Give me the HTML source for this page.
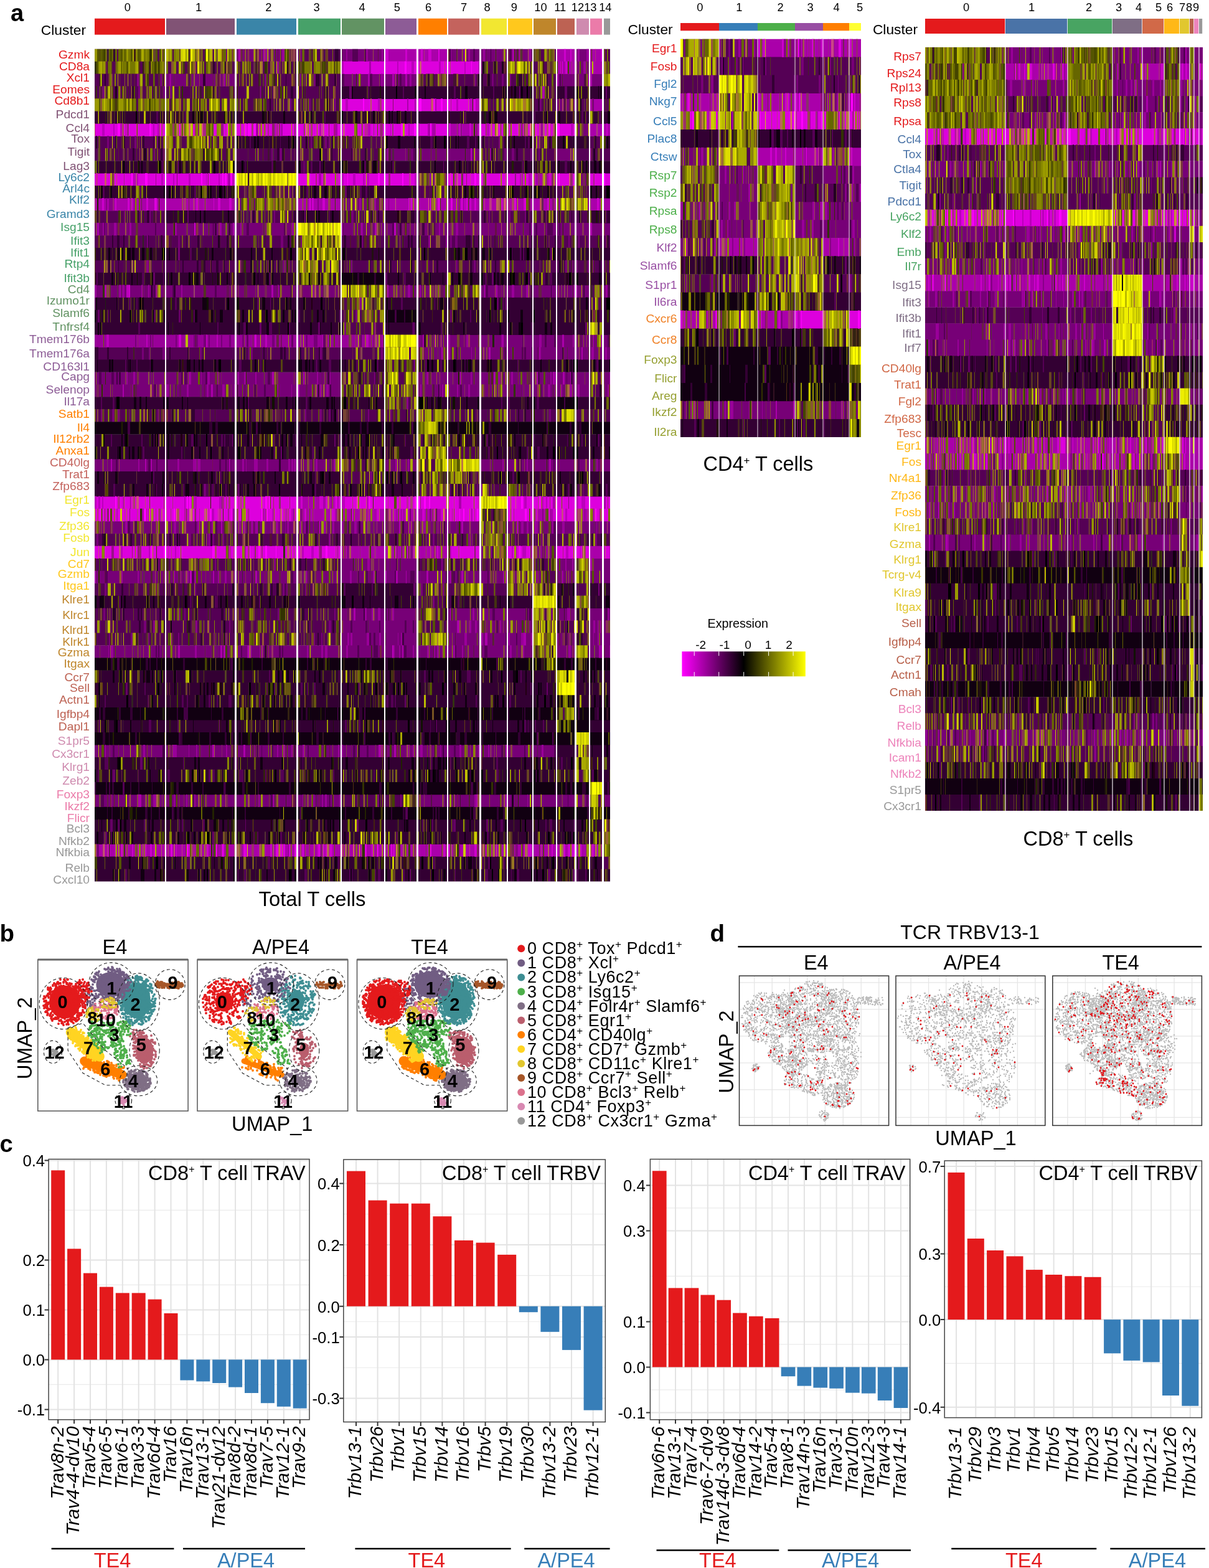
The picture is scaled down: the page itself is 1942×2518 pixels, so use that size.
<!DOCTYPE html>
<html><head><meta charset="utf-8"><title>Figure</title>
<style>html,body{margin:0;padding:0;background:#fff;}svg{display:block;}text{font-family:'Liberation Sans', Arial, Helvetica, sans-serif;}</style>
</head><body>
<svg xmlns="http://www.w3.org/2000/svg" width="1942" height="2518" viewBox="0 0 1942 2518">
<defs><filter id="hb" x="-0.01" y="0" width="1.02" height="1" color-interpolation-filters="sRGB"><feGaussianBlur stdDeviation="0.55 0"/></filter></defs>
<rect width="1942" height="2518" fill="#fff"/>
<text x="17" y="33.6" font-size="38" font-weight="bold">a</text>
<text x="204.9" y="18.4" font-size="18.3" text-anchor="middle">0</text>
<text x="319" y="18.4" font-size="18.3" text-anchor="middle">1</text>
<text x="431.4" y="18.4" font-size="18.3" text-anchor="middle">2</text>
<text x="508.6" y="18.4" font-size="18.3" text-anchor="middle">3</text>
<text x="581.5" y="18.4" font-size="18.3" text-anchor="middle">4</text>
<text x="637.8" y="18.4" font-size="18.3" text-anchor="middle">5</text>
<text x="688" y="18.4" font-size="18.3" text-anchor="middle">6</text>
<text x="745" y="18.4" font-size="18.3" text-anchor="middle">7</text>
<text x="782.5" y="18.4" font-size="18.3" text-anchor="middle">8</text>
<text x="825.8" y="18.4" font-size="18.3" text-anchor="middle">9</text>
<text x="868.4" y="18.4" font-size="18.3" text-anchor="middle">10</text>
<text x="899.7" y="18.4" font-size="18.3" text-anchor="middle">11</text>
<text x="927.9" y="18.4" font-size="18.3" text-anchor="middle">12</text>
<text x="948.3" y="18.4" font-size="18.3" text-anchor="middle">13</text>
<text x="972.3" y="18.4" font-size="18.3" text-anchor="middle">14</text>
<text x="138" y="55.8" font-size="22.8" text-anchor="end">Cluster</text>
<rect x="152" y="29.7" width="113" height="26" fill="#e41a1c"/>
<rect x="267" y="29.7" width="110" height="26" fill="#815375"/>
<rect x="380" y="29.7" width="96" height="26" fill="#3a85a8"/>
<rect x="479" y="29.7" width="68" height="26" fill="#47a169"/>
<rect x="549" y="29.7" width="68" height="26" fill="#629363"/>
<rect x="619" y="29.7" width="50" height="26" fill="#8d5c96"/>
<rect x="672" y="29.7" width="46" height="26" fill="#ff7f00"/>
<rect x="720" y="29.7" width="50" height="26" fill="#c4635d"/>
<rect x="773" y="29.7" width="41" height="26" fill="#f2e731"/>
<rect x="816" y="29.7" width="39" height="26" fill="#ffc81d"/>
<rect x="857" y="29.7" width="36" height="26" fill="#bf862b"/>
<rect x="895" y="29.7" width="28" height="26" fill="#bd6253"/>
<rect x="926" y="29.7" width="20" height="26" fill="#cf8baf"/>
<rect x="948" y="29.7" width="19" height="26" fill="#eb7ba9"/>
<rect x="970" y="29.7" width="10" height="26" fill="#999999"/>
<clipPath id="c11"><rect x="152" y="78.6" width="828" height="1336.9"/></clipPath>
<g clip-path="url(#c11)"><g filter="url(#hb)">
<path fill="#550055" d="M152 78.6h113v20.4h-113zM267 78.6h110v20.4h-110zM479 78.6h68v20.4h-68zM857 78.6h36v20.4h-36zM970 78.6h10v20.4h-10zM152 98.6h113v20.4h-113zM267 98.6h110v20.4h-110zM380 98.6h96v20.4h-96zM479 98.6h68v20.4h-68zM773 98.6h41v20.4h-41zM816 98.6h39v20.4h-39zM857 98.6h36v20.4h-36zM970 98.6h10v20.4h-10zM152 118.5h113v20.4h-113zM380 118.5h96v20.4h-96zM479 118.5h68v20.4h-68zM672 118.5h46v20.4h-46zM720 118.5h50v20.4h-50zM773 118.5h41v20.4h-41zM816 118.5h39v20.4h-39zM857 118.5h36v20.4h-36zM970 118.5h10v20.4h-10zM152 138.5h113v20.4h-113zM267 138.5h110v20.4h-110zM380 138.5h96v20.4h-96zM479 138.5h68v20.4h-68zM857 138.5h36v20.4h-36zM152 158.4h113v20.4h-113zM267 158.4h110v20.4h-110zM380 158.4h96v20.4h-96zM479 158.4h68v20.4h-68zM773 158.4h41v20.4h-41zM816 158.4h39v20.4h-39zM857 158.4h36v20.4h-36zM926 158.4h20v20.4h-20zM970 158.4h10v20.4h-10zM152 218.3h113v20.4h-113zM267 218.3h110v20.4h-110zM479 218.3h68v20.4h-68zM549 218.3h68v20.4h-68zM773 218.3h41v20.4h-41zM857 218.3h36v20.4h-36zM948 218.3h19v20.4h-19zM152 238.2h113v20.4h-113zM267 238.2h110v20.4h-110zM380 238.2h96v20.4h-96zM479 238.2h68v20.4h-68zM549 238.2h68v20.4h-68zM773 238.2h41v20.4h-41zM816 238.2h39v20.4h-39zM857 238.2h36v20.4h-36zM926 238.2h20v20.4h-20zM948 238.2h19v20.4h-19zM970 238.2h10v20.4h-10zM380 278.1h96v20.4h-96zM380 298.1h96v20.4h-96zM672 298.1h46v20.4h-46zM895 298.1h28v20.4h-28zM926 298.1h20v20.4h-20zM895 318h28v20.4h-28zM926 318h20v20.4h-20zM152 338h113v20.4h-113zM380 338h96v20.4h-96zM549 338h68v20.4h-68zM672 338h46v20.4h-46zM720 338h50v20.4h-50zM773 338h41v20.4h-41zM816 338h39v20.4h-39zM857 338h36v20.4h-36zM895 338h28v20.4h-28zM926 338h20v20.4h-20zM479 358h68v20.4h-68zM152 377.9h113v20.4h-113zM267 377.9h110v20.4h-110zM380 377.9h96v20.4h-96zM479 377.9h68v20.4h-68zM549 377.9h68v20.4h-68zM619 377.9h50v20.4h-50zM672 377.9h46v20.4h-46zM720 377.9h50v20.4h-50zM773 377.9h41v20.4h-41zM816 377.9h39v20.4h-39zM857 377.9h36v20.4h-36zM895 377.9h28v20.4h-28zM926 377.9h20v20.4h-20zM948 377.9h19v20.4h-19zM970 377.9h10v20.4h-10zM152 417.8h113v20.4h-113zM267 417.8h110v20.4h-110zM380 417.8h96v20.4h-96zM479 417.8h68v20.4h-68zM549 417.8h68v20.4h-68zM619 417.8h50v20.4h-50zM672 417.8h46v20.4h-46zM720 417.8h50v20.4h-50zM773 417.8h41v20.4h-41zM816 417.8h39v20.4h-39zM857 417.8h36v20.4h-36zM895 417.8h28v20.4h-28zM926 417.8h20v20.4h-20zM948 417.8h19v20.4h-19zM970 417.8h10v20.4h-10zM549 457.7h68v20.4h-68zM720 457.7h50v20.4h-50zM948 457.7h19v20.4h-19zM549 477.7h68v20.4h-68zM948 477.7h19v20.4h-19zM549 497.6h68v20.4h-68zM948 497.6h19v20.4h-19zM549 517.6h68v20.4h-68zM948 517.6h19v20.4h-19zM619 537.5h50v20.4h-50zM152 557.5h113v20.4h-113zM267 557.5h110v20.4h-110zM380 557.5h96v20.4h-96zM479 557.5h68v20.4h-68zM549 557.5h68v20.4h-68zM619 557.5h50v20.4h-50zM619 577.4h50v20.4h-50zM549 597.4h68v20.4h-68zM619 597.4h50v20.4h-50zM948 597.4h19v20.4h-19zM549 617.4h68v20.4h-68zM619 617.4h50v20.4h-50zM948 617.4h19v20.4h-19zM619 637.3h50v20.4h-50zM152 657.3h113v20.4h-113zM267 657.3h110v20.4h-110zM380 657.3h96v20.4h-96zM479 657.3h68v20.4h-68zM549 657.3h68v20.4h-68zM619 657.3h50v20.4h-50zM672 657.3h46v20.4h-46zM720 657.3h50v20.4h-50zM773 657.3h41v20.4h-41zM816 657.3h39v20.4h-39zM857 657.3h36v20.4h-36zM895 657.3h28v20.4h-28zM926 657.3h20v20.4h-20zM948 657.3h19v20.4h-19zM970 657.3h10v20.4h-10zM672 717.1h46v20.4h-46zM720 717.1h50v20.4h-50zM549 737.1h68v20.4h-68zM672 737.1h46v20.4h-46zM720 737.1h50v20.4h-50zM549 757h68v20.4h-68zM672 757h46v20.4h-46zM720 757h50v20.4h-50zM672 777h46v20.4h-46zM720 777h50v20.4h-50zM773 777h41v20.4h-41zM816 777h39v20.4h-39zM926 777h20v20.4h-20zM773 796.9h41v20.4h-41zM773 816.9h41v20.4h-41zM773 836.8h41v20.4h-41zM152 856.8h113v20.4h-113zM267 856.8h110v20.4h-110zM380 856.8h96v20.4h-96zM479 856.8h68v20.4h-68zM549 856.8h68v20.4h-68zM619 856.8h50v20.4h-50zM672 856.8h46v20.4h-46zM720 856.8h50v20.4h-50zM773 856.8h41v20.4h-41zM816 856.8h39v20.4h-39zM857 856.8h36v20.4h-36zM895 856.8h28v20.4h-28zM926 856.8h20v20.4h-20zM948 856.8h19v20.4h-19zM970 856.8h10v20.4h-10zM152 896.7h113v20.4h-113zM267 896.7h110v20.4h-110zM380 896.7h96v20.4h-96zM479 896.7h68v20.4h-68zM672 896.7h46v20.4h-46zM720 896.7h50v20.4h-50zM773 896.7h41v20.4h-41zM816 896.7h39v20.4h-39zM857 896.7h36v20.4h-36zM926 896.7h20v20.4h-20zM816 916.7h39v20.4h-39zM857 916.7h36v20.4h-36zM926 916.7h20v20.4h-20zM152 936.6h113v20.4h-113zM267 936.6h110v20.4h-110zM380 936.6h96v20.4h-96zM479 936.6h68v20.4h-68zM672 936.6h46v20.4h-46zM720 936.6h50v20.4h-50zM773 936.6h41v20.4h-41zM816 936.6h39v20.4h-39zM857 936.6h36v20.4h-36zM926 936.6h20v20.4h-20zM672 956.6h46v20.4h-46zM857 956.6h36v20.4h-36zM926 956.6h20v20.4h-20zM152 976.5h113v20.4h-113zM267 976.5h110v20.4h-110zM380 976.5h96v20.4h-96zM479 976.5h68v20.4h-68zM672 976.5h46v20.4h-46zM857 976.5h36v20.4h-36zM926 976.5h20v20.4h-20zM152 996.5h113v20.4h-113zM267 996.5h110v20.4h-110zM380 996.5h96v20.4h-96zM479 996.5h68v20.4h-68zM672 996.5h46v20.4h-46zM857 996.5h36v20.4h-36zM895 996.5h28v20.4h-28zM926 996.5h20v20.4h-20zM152 1016.4h113v20.4h-113zM267 1016.4h110v20.4h-110zM380 1016.4h96v20.4h-96zM479 1016.4h68v20.4h-68zM672 1016.4h46v20.4h-46zM857 1016.4h36v20.4h-36zM926 1016.4h20v20.4h-20zM857 1036.4h36v20.4h-36zM926 1036.4h20v20.4h-20zM926 1196h20v20.4h-20zM926 1216h20v20.4h-20zM926 1235.9h20v20.4h-20zM549 1275.8h68v20.4h-68zM619 1275.8h50v20.4h-50zM948 1275.8h19v20.4h-19zM970 1315.7h10v20.4h-10zM970 1335.7h10v20.4h-10zM970 1355.6h10v20.4h-10zM970 1375.6h10v20.4h-10z"/>
<path fill="#770077" d="M380 78.6h96v20.4h-96zM549 78.6h68v20.4h-68zM720 78.6h50v20.4h-50zM773 78.6h41v20.4h-41zM816 78.6h39v20.4h-39zM926 78.6h20v20.4h-20zM926 98.6h20v20.4h-20zM267 118.5h110v20.4h-110zM549 118.5h68v20.4h-68zM619 118.5h50v20.4h-50zM895 118.5h28v20.4h-28zM926 118.5h20v20.4h-20zM948 118.5h19v20.4h-19zM895 158.4h28v20.4h-28zM926 198.3h20v20.4h-20zM619 238.2h50v20.4h-50zM672 238.2h46v20.4h-46zM720 238.2h50v20.4h-50zM895 238.2h28v20.4h-28zM672 278.1h46v20.4h-46zM926 278.1h20v20.4h-20zM380 318h96v20.4h-96zM549 318h68v20.4h-68zM152 358h113v20.4h-113zM267 358h110v20.4h-110zM380 358h96v20.4h-96zM549 358h68v20.4h-68zM619 358h50v20.4h-50zM672 358h46v20.4h-46zM720 358h50v20.4h-50zM773 358h41v20.4h-41zM816 358h39v20.4h-39zM857 358h36v20.4h-36zM895 358h28v20.4h-28zM926 358h20v20.4h-20zM948 358h19v20.4h-19zM970 358h10v20.4h-10zM152 457.7h113v20.4h-113zM267 457.7h110v20.4h-110zM380 457.7h96v20.4h-96zM479 457.7h68v20.4h-68zM619 457.7h50v20.4h-50zM672 457.7h46v20.4h-46zM773 457.7h41v20.4h-41zM816 457.7h39v20.4h-39zM857 457.7h36v20.4h-36zM895 457.7h28v20.4h-28zM926 457.7h20v20.4h-20zM970 457.7h10v20.4h-10zM672 537.5h46v20.4h-46zM720 537.5h50v20.4h-50zM773 537.5h41v20.4h-41zM816 537.5h39v20.4h-39zM857 537.5h36v20.4h-36zM895 537.5h28v20.4h-28zM926 537.5h20v20.4h-20zM948 537.5h19v20.4h-19zM970 537.5h10v20.4h-10zM672 557.5h46v20.4h-46zM720 557.5h50v20.4h-50zM773 557.5h41v20.4h-41zM816 557.5h39v20.4h-39zM857 557.5h36v20.4h-36zM895 557.5h28v20.4h-28zM926 557.5h20v20.4h-20zM948 557.5h19v20.4h-19zM970 557.5h10v20.4h-10zM152 597.4h113v20.4h-113zM267 597.4h110v20.4h-110zM380 597.4h96v20.4h-96zM479 597.4h68v20.4h-68zM672 597.4h46v20.4h-46zM720 597.4h50v20.4h-50zM773 597.4h41v20.4h-41zM816 597.4h39v20.4h-39zM857 597.4h36v20.4h-36zM895 597.4h28v20.4h-28zM926 597.4h20v20.4h-20zM970 597.4h10v20.4h-10zM152 617.4h113v20.4h-113zM267 617.4h110v20.4h-110zM380 617.4h96v20.4h-96zM479 617.4h68v20.4h-68zM672 617.4h46v20.4h-46zM720 617.4h50v20.4h-50zM773 617.4h41v20.4h-41zM816 617.4h39v20.4h-39zM857 617.4h36v20.4h-36zM895 617.4h28v20.4h-28zM926 617.4h20v20.4h-20zM970 617.4h10v20.4h-10zM152 737.1h113v20.4h-113zM267 737.1h110v20.4h-110zM380 737.1h96v20.4h-96zM479 737.1h68v20.4h-68zM619 737.1h50v20.4h-50zM773 737.1h41v20.4h-41zM816 737.1h39v20.4h-39zM857 737.1h36v20.4h-36zM895 737.1h28v20.4h-28zM926 737.1h20v20.4h-20zM948 737.1h19v20.4h-19zM970 737.1h10v20.4h-10zM152 836.8h113v20.4h-113zM267 836.8h110v20.4h-110zM380 836.8h96v20.4h-96zM479 836.8h68v20.4h-68zM549 836.8h68v20.4h-68zM619 836.8h50v20.4h-50zM672 836.8h46v20.4h-46zM720 836.8h50v20.4h-50zM816 836.8h39v20.4h-39zM857 836.8h36v20.4h-36zM895 836.8h28v20.4h-28zM926 836.8h20v20.4h-20zM948 836.8h19v20.4h-19zM970 836.8h10v20.4h-10zM773 876.7h41v20.4h-41zM857 876.7h36v20.4h-36zM549 896.7h68v20.4h-68zM619 896.7h50v20.4h-50zM895 896.7h28v20.4h-28zM948 896.7h19v20.4h-19zM970 896.7h10v20.4h-10zM152 916.7h113v20.4h-113zM267 916.7h110v20.4h-110zM380 916.7h96v20.4h-96zM479 916.7h68v20.4h-68zM549 916.7h68v20.4h-68zM619 916.7h50v20.4h-50zM672 916.7h46v20.4h-46zM720 916.7h50v20.4h-50zM773 916.7h41v20.4h-41zM895 916.7h28v20.4h-28zM948 916.7h19v20.4h-19zM970 916.7h10v20.4h-10zM549 976.5h68v20.4h-68zM619 976.5h50v20.4h-50zM720 976.5h50v20.4h-50zM773 976.5h41v20.4h-41zM816 976.5h39v20.4h-39zM895 976.5h28v20.4h-28zM948 976.5h19v20.4h-19zM970 976.5h10v20.4h-10zM549 996.5h68v20.4h-68zM619 996.5h50v20.4h-50zM720 996.5h50v20.4h-50zM773 996.5h41v20.4h-41zM816 996.5h39v20.4h-39zM948 996.5h19v20.4h-19zM970 996.5h10v20.4h-10zM549 1016.4h68v20.4h-68zM619 1016.4h50v20.4h-50zM720 1016.4h50v20.4h-50zM773 1016.4h41v20.4h-41zM816 1016.4h39v20.4h-39zM895 1016.4h28v20.4h-28zM948 1016.4h19v20.4h-19zM970 1016.4h10v20.4h-10zM152 1036.4h113v20.4h-113zM267 1036.4h110v20.4h-110zM380 1036.4h96v20.4h-96zM479 1036.4h68v20.4h-68zM549 1036.4h68v20.4h-68zM619 1036.4h50v20.4h-50zM672 1036.4h46v20.4h-46zM720 1036.4h50v20.4h-50zM773 1036.4h41v20.4h-41zM816 1036.4h39v20.4h-39zM895 1036.4h28v20.4h-28zM948 1036.4h19v20.4h-19zM970 1036.4h10v20.4h-10zM152 1196h113v20.4h-113zM267 1196h110v20.4h-110zM380 1196h96v20.4h-96zM479 1196h68v20.4h-68zM549 1196h68v20.4h-68zM619 1196h50v20.4h-50zM672 1196h46v20.4h-46zM720 1196h50v20.4h-50zM773 1196h41v20.4h-41zM816 1196h39v20.4h-39zM857 1196h36v20.4h-36zM152 1275.8h113v20.4h-113zM267 1275.8h110v20.4h-110zM380 1275.8h96v20.4h-96zM479 1275.8h68v20.4h-68zM672 1275.8h46v20.4h-46zM720 1275.8h50v20.4h-50zM773 1275.8h41v20.4h-41zM816 1275.8h39v20.4h-39zM857 1275.8h36v20.4h-36zM895 1275.8h28v20.4h-28zM926 1275.8h20v20.4h-20zM970 1275.8h10v20.4h-10z"/>
<path fill="#aa00aa" d="M619 78.6h50v20.4h-50zM672 78.6h46v20.4h-46zM895 78.6h28v20.4h-28zM948 78.6h19v20.4h-19zM895 98.6h28v20.4h-28zM948 98.6h19v20.4h-19zM948 158.4h19v20.4h-19zM720 198.3h50v20.4h-50zM948 198.3h19v20.4h-19zM970 198.3h10v20.4h-10zM857 278.1h36v20.4h-36zM152 318h113v20.4h-113zM267 318h110v20.4h-110zM479 318h68v20.4h-68zM619 318h50v20.4h-50zM672 318h46v20.4h-46zM720 318h50v20.4h-50zM773 318h41v20.4h-41zM816 318h39v20.4h-39zM857 318h36v20.4h-36zM948 318h19v20.4h-19zM970 318h10v20.4h-10zM479 796.9h68v20.4h-68zM479 816.9h68v20.4h-68zM549 816.9h68v20.4h-68zM619 816.9h50v20.4h-50zM672 816.9h46v20.4h-46zM857 816.9h36v20.4h-36zM926 816.9h20v20.4h-20zM549 876.7h68v20.4h-68zM619 876.7h50v20.4h-50zM672 876.7h46v20.4h-46zM948 876.7h19v20.4h-19zM152 1355.6h113v20.4h-113zM267 1355.6h110v20.4h-110zM380 1355.6h96v20.4h-96zM479 1355.6h68v20.4h-68zM549 1355.6h68v20.4h-68zM619 1355.6h50v20.4h-50zM672 1355.6h46v20.4h-46zM720 1355.6h50v20.4h-50zM773 1355.6h41v20.4h-41zM816 1355.6h39v20.4h-39zM857 1355.6h36v20.4h-36zM895 1355.6h28v20.4h-28zM926 1355.6h20v20.4h-20zM948 1355.6h19v20.4h-19z"/>
<path fill="#dd00dd" d="M549 98.6h68v20.4h-68zM619 98.6h50v20.4h-50zM672 98.6h46v20.4h-46zM720 98.6h50v20.4h-50zM549 158.4h68v20.4h-68zM619 158.4h50v20.4h-50zM672 158.4h46v20.4h-46zM720 158.4h50v20.4h-50zM152 198.3h113v20.4h-113zM267 198.3h110v20.4h-110zM380 198.3h96v20.4h-96zM479 198.3h68v20.4h-68zM549 198.3h68v20.4h-68zM619 198.3h50v20.4h-50zM672 198.3h46v20.4h-46zM773 198.3h41v20.4h-41zM816 198.3h39v20.4h-39zM857 198.3h36v20.4h-36zM895 198.3h28v20.4h-28zM152 278.1h113v20.4h-113zM267 278.1h110v20.4h-110zM479 278.1h68v20.4h-68zM549 278.1h68v20.4h-68zM619 278.1h50v20.4h-50zM720 278.1h50v20.4h-50zM773 278.1h41v20.4h-41zM816 278.1h39v20.4h-39zM895 278.1h28v20.4h-28zM948 278.1h19v20.4h-19zM970 278.1h10v20.4h-10zM152 796.9h113v20.4h-113zM267 796.9h110v20.4h-110zM380 796.9h96v20.4h-96zM549 796.9h68v20.4h-68zM619 796.9h50v20.4h-50zM672 796.9h46v20.4h-46zM720 796.9h50v20.4h-50zM816 796.9h39v20.4h-39zM857 796.9h36v20.4h-36zM895 796.9h28v20.4h-28zM926 796.9h20v20.4h-20zM948 796.9h19v20.4h-19zM970 796.9h10v20.4h-10zM152 816.9h113v20.4h-113zM267 816.9h110v20.4h-110zM380 816.9h96v20.4h-96zM720 816.9h50v20.4h-50zM816 816.9h39v20.4h-39zM895 816.9h28v20.4h-28zM948 816.9h19v20.4h-19zM970 816.9h10v20.4h-10zM152 876.7h113v20.4h-113zM267 876.7h110v20.4h-110zM380 876.7h96v20.4h-96zM479 876.7h68v20.4h-68zM720 876.7h50v20.4h-50zM816 876.7h39v20.4h-39zM895 876.7h28v20.4h-28zM926 876.7h20v20.4h-20zM970 876.7h10v20.4h-10z"/>
<path fill="#330033" d="M549 138.5h68v20.4h-68zM619 138.5h50v20.4h-50zM672 138.5h46v20.4h-46zM720 138.5h50v20.4h-50zM773 138.5h41v20.4h-41zM816 138.5h39v20.4h-39zM895 138.5h28v20.4h-28zM926 138.5h20v20.4h-20zM948 138.5h19v20.4h-19zM970 138.5h10v20.4h-10zM152 178.4h113v20.4h-113zM267 178.4h110v20.4h-110zM380 178.4h96v20.4h-96zM479 178.4h68v20.4h-68zM549 178.4h68v20.4h-68zM619 178.4h50v20.4h-50zM672 178.4h46v20.4h-46zM720 178.4h50v20.4h-50zM773 178.4h41v20.4h-41zM816 178.4h39v20.4h-39zM857 178.4h36v20.4h-36zM895 178.4h28v20.4h-28zM926 178.4h20v20.4h-20zM948 178.4h19v20.4h-19zM970 178.4h10v20.4h-10zM380 218.3h96v20.4h-96zM619 218.3h50v20.4h-50zM672 218.3h46v20.4h-46zM720 218.3h50v20.4h-50zM816 218.3h39v20.4h-39zM895 218.3h28v20.4h-28zM926 218.3h20v20.4h-20zM970 218.3h10v20.4h-10zM152 258.2h113v20.4h-113zM267 258.2h110v20.4h-110zM380 258.2h96v20.4h-96zM479 258.2h68v20.4h-68zM549 258.2h68v20.4h-68zM619 258.2h50v20.4h-50zM672 258.2h46v20.4h-46zM720 258.2h50v20.4h-50zM773 258.2h41v20.4h-41zM816 258.2h39v20.4h-39zM857 258.2h36v20.4h-36zM895 258.2h28v20.4h-28zM926 258.2h20v20.4h-20zM948 258.2h19v20.4h-19zM970 258.2h10v20.4h-10zM152 298.1h113v20.4h-113zM267 298.1h110v20.4h-110zM479 298.1h68v20.4h-68zM549 298.1h68v20.4h-68zM619 298.1h50v20.4h-50zM720 298.1h50v20.4h-50zM773 298.1h41v20.4h-41zM816 298.1h39v20.4h-39zM857 298.1h36v20.4h-36zM948 298.1h19v20.4h-19zM970 298.1h10v20.4h-10zM267 338h110v20.4h-110zM479 338h68v20.4h-68zM619 338h50v20.4h-50zM948 338h19v20.4h-19zM970 338h10v20.4h-10zM152 397.9h113v20.4h-113zM267 397.9h110v20.4h-110zM380 397.9h96v20.4h-96zM479 397.9h68v20.4h-68zM549 397.9h68v20.4h-68zM619 397.9h50v20.4h-50zM672 397.9h46v20.4h-46zM720 397.9h50v20.4h-50zM773 397.9h41v20.4h-41zM816 397.9h39v20.4h-39zM857 397.9h36v20.4h-36zM895 397.9h28v20.4h-28zM926 397.9h20v20.4h-20zM948 397.9h19v20.4h-19zM970 397.9h10v20.4h-10zM152 437.8h113v20.4h-113zM267 437.8h110v20.4h-110zM380 437.8h96v20.4h-96zM479 437.8h68v20.4h-68zM619 437.8h50v20.4h-50zM672 437.8h46v20.4h-46zM720 437.8h50v20.4h-50zM773 437.8h41v20.4h-41zM816 437.8h39v20.4h-39zM857 437.8h36v20.4h-36zM895 437.8h28v20.4h-28zM926 437.8h20v20.4h-20zM948 437.8h19v20.4h-19zM970 437.8h10v20.4h-10zM152 477.7h113v20.4h-113zM267 477.7h110v20.4h-110zM380 477.7h96v20.4h-96zM479 477.7h68v20.4h-68zM619 477.7h50v20.4h-50zM672 477.7h46v20.4h-46zM720 477.7h50v20.4h-50zM773 477.7h41v20.4h-41zM816 477.7h39v20.4h-39zM857 477.7h36v20.4h-36zM895 477.7h28v20.4h-28zM926 477.7h20v20.4h-20zM970 477.7h10v20.4h-10zM152 497.6h113v20.4h-113zM267 497.6h110v20.4h-110zM380 497.6h96v20.4h-96zM479 497.6h68v20.4h-68zM672 497.6h46v20.4h-46zM720 497.6h50v20.4h-50zM773 497.6h41v20.4h-41zM816 497.6h39v20.4h-39zM857 497.6h36v20.4h-36zM895 497.6h28v20.4h-28zM926 497.6h20v20.4h-20zM970 497.6h10v20.4h-10zM152 517.6h113v20.4h-113zM267 517.6h110v20.4h-110zM380 517.6h96v20.4h-96zM479 517.6h68v20.4h-68zM619 517.6h50v20.4h-50zM672 517.6h46v20.4h-46zM720 517.6h50v20.4h-50zM773 517.6h41v20.4h-41zM816 517.6h39v20.4h-39zM857 517.6h36v20.4h-36zM895 517.6h28v20.4h-28zM926 517.6h20v20.4h-20zM970 517.6h10v20.4h-10zM152 577.4h113v20.4h-113zM267 577.4h110v20.4h-110zM380 577.4h96v20.4h-96zM479 577.4h68v20.4h-68zM549 577.4h68v20.4h-68zM672 577.4h46v20.4h-46zM720 577.4h50v20.4h-50zM773 577.4h41v20.4h-41zM816 577.4h39v20.4h-39zM857 577.4h36v20.4h-36zM895 577.4h28v20.4h-28zM926 577.4h20v20.4h-20zM948 577.4h19v20.4h-19zM970 577.4h10v20.4h-10zM152 637.3h113v20.4h-113zM267 637.3h110v20.4h-110zM380 637.3h96v20.4h-96zM479 637.3h68v20.4h-68zM549 637.3h68v20.4h-68zM672 637.3h46v20.4h-46zM720 637.3h50v20.4h-50zM773 637.3h41v20.4h-41zM816 637.3h39v20.4h-39zM857 637.3h36v20.4h-36zM926 637.3h20v20.4h-20zM948 637.3h19v20.4h-19zM970 637.3h10v20.4h-10zM152 697.2h113v20.4h-113zM267 697.2h110v20.4h-110zM380 697.2h96v20.4h-96zM479 697.2h68v20.4h-68zM549 697.2h68v20.4h-68zM619 697.2h50v20.4h-50zM672 697.2h46v20.4h-46zM720 697.2h50v20.4h-50zM773 697.2h41v20.4h-41zM816 697.2h39v20.4h-39zM857 697.2h36v20.4h-36zM895 697.2h28v20.4h-28zM926 697.2h20v20.4h-20zM948 697.2h19v20.4h-19zM970 697.2h10v20.4h-10zM152 717.1h113v20.4h-113zM267 717.1h110v20.4h-110zM380 717.1h96v20.4h-96zM479 717.1h68v20.4h-68zM549 717.1h68v20.4h-68zM619 717.1h50v20.4h-50zM773 717.1h41v20.4h-41zM816 717.1h39v20.4h-39zM857 717.1h36v20.4h-36zM895 717.1h28v20.4h-28zM926 717.1h20v20.4h-20zM948 717.1h19v20.4h-19zM970 717.1h10v20.4h-10zM152 757h113v20.4h-113zM267 757h110v20.4h-110zM380 757h96v20.4h-96zM479 757h68v20.4h-68zM619 757h50v20.4h-50zM773 757h41v20.4h-41zM816 757h39v20.4h-39zM857 757h36v20.4h-36zM895 757h28v20.4h-28zM926 757h20v20.4h-20zM948 757h19v20.4h-19zM970 757h10v20.4h-10zM152 777h113v20.4h-113zM267 777h110v20.4h-110zM380 777h96v20.4h-96zM479 777h68v20.4h-68zM549 777h68v20.4h-68zM619 777h50v20.4h-50zM857 777h36v20.4h-36zM895 777h28v20.4h-28zM948 777h19v20.4h-19zM970 777h10v20.4h-10zM549 936.6h68v20.4h-68zM619 936.6h50v20.4h-50zM895 936.6h28v20.4h-28zM948 936.6h19v20.4h-19zM970 936.6h10v20.4h-10zM152 956.6h113v20.4h-113zM267 956.6h110v20.4h-110zM380 956.6h96v20.4h-96zM479 956.6h68v20.4h-68zM549 956.6h68v20.4h-68zM619 956.6h50v20.4h-50zM720 956.6h50v20.4h-50zM773 956.6h41v20.4h-41zM816 956.6h39v20.4h-39zM895 956.6h28v20.4h-28zM948 956.6h19v20.4h-19zM970 956.6h10v20.4h-10zM152 1076.3h113v20.4h-113zM267 1076.3h110v20.4h-110zM380 1076.3h96v20.4h-96zM479 1076.3h68v20.4h-68zM549 1076.3h68v20.4h-68zM619 1076.3h50v20.4h-50zM672 1076.3h46v20.4h-46zM720 1076.3h50v20.4h-50zM773 1076.3h41v20.4h-41zM816 1076.3h39v20.4h-39zM857 1076.3h36v20.4h-36zM926 1076.3h20v20.4h-20zM948 1076.3h19v20.4h-19zM970 1076.3h10v20.4h-10zM152 1096.2h113v20.4h-113zM267 1096.2h110v20.4h-110zM380 1096.2h96v20.4h-96zM479 1096.2h68v20.4h-68zM549 1096.2h68v20.4h-68zM619 1096.2h50v20.4h-50zM672 1096.2h46v20.4h-46zM720 1096.2h50v20.4h-50zM773 1096.2h41v20.4h-41zM816 1096.2h39v20.4h-39zM857 1096.2h36v20.4h-36zM926 1096.2h20v20.4h-20zM948 1096.2h19v20.4h-19zM970 1096.2h10v20.4h-10zM152 1116.2h113v20.4h-113zM267 1116.2h110v20.4h-110zM380 1116.2h96v20.4h-96zM479 1116.2h68v20.4h-68zM549 1116.2h68v20.4h-68zM619 1116.2h50v20.4h-50zM672 1116.2h46v20.4h-46zM720 1116.2h50v20.4h-50zM773 1116.2h41v20.4h-41zM816 1116.2h39v20.4h-39zM857 1116.2h36v20.4h-36zM926 1116.2h20v20.4h-20zM948 1116.2h19v20.4h-19zM970 1116.2h10v20.4h-10zM152 1156.1h113v20.4h-113zM267 1156.1h110v20.4h-110zM380 1156.1h96v20.4h-96zM479 1156.1h68v20.4h-68zM549 1156.1h68v20.4h-68zM619 1156.1h50v20.4h-50zM672 1156.1h46v20.4h-46zM720 1156.1h50v20.4h-50zM773 1156.1h41v20.4h-41zM816 1156.1h39v20.4h-39zM857 1156.1h36v20.4h-36zM948 1156.1h19v20.4h-19zM970 1156.1h10v20.4h-10zM895 1196h28v20.4h-28zM948 1196h19v20.4h-19zM970 1196h10v20.4h-10zM152 1216h113v20.4h-113zM267 1216h110v20.4h-110zM380 1216h96v20.4h-96zM479 1216h68v20.4h-68zM549 1216h68v20.4h-68zM619 1216h50v20.4h-50zM672 1216h46v20.4h-46zM720 1216h50v20.4h-50zM773 1216h41v20.4h-41zM816 1216h39v20.4h-39zM857 1216h36v20.4h-36zM895 1216h28v20.4h-28zM948 1216h19v20.4h-19zM970 1216h10v20.4h-10zM152 1235.9h113v20.4h-113zM267 1235.9h110v20.4h-110zM380 1235.9h96v20.4h-96zM479 1235.9h68v20.4h-68zM549 1235.9h68v20.4h-68zM619 1235.9h50v20.4h-50zM672 1235.9h46v20.4h-46zM720 1235.9h50v20.4h-50zM773 1235.9h41v20.4h-41zM816 1235.9h39v20.4h-39zM857 1235.9h36v20.4h-36zM895 1235.9h28v20.4h-28zM948 1235.9h19v20.4h-19zM970 1235.9h10v20.4h-10zM152 1315.7h113v20.4h-113zM267 1315.7h110v20.4h-110zM380 1315.7h96v20.4h-96zM479 1315.7h68v20.4h-68zM549 1315.7h68v20.4h-68zM619 1315.7h50v20.4h-50zM672 1315.7h46v20.4h-46zM720 1315.7h50v20.4h-50zM773 1315.7h41v20.4h-41zM816 1315.7h39v20.4h-39zM857 1315.7h36v20.4h-36zM895 1315.7h28v20.4h-28zM926 1315.7h20v20.4h-20zM948 1315.7h19v20.4h-19zM152 1335.7h113v20.4h-113zM267 1335.7h110v20.4h-110zM380 1335.7h96v20.4h-96zM479 1335.7h68v20.4h-68zM549 1335.7h68v20.4h-68zM619 1335.7h50v20.4h-50zM672 1335.7h46v20.4h-46zM720 1335.7h50v20.4h-50zM773 1335.7h41v20.4h-41zM816 1335.7h39v20.4h-39zM857 1335.7h36v20.4h-36zM895 1335.7h28v20.4h-28zM926 1335.7h20v20.4h-20zM948 1335.7h19v20.4h-19zM152 1375.6h113v20.4h-113zM267 1375.6h110v20.4h-110zM380 1375.6h96v20.4h-96zM479 1375.6h68v20.4h-68zM549 1375.6h68v20.4h-68zM619 1375.6h50v20.4h-50zM672 1375.6h46v20.4h-46zM720 1375.6h50v20.4h-50zM773 1375.6h41v20.4h-41zM816 1375.6h39v20.4h-39zM857 1375.6h36v20.4h-36zM895 1375.6h28v20.4h-28zM926 1375.6h20v20.4h-20zM948 1375.6h19v20.4h-19zM152 1395.5h113v20.4h-113zM267 1395.5h110v20.4h-110zM380 1395.5h96v20.4h-96zM479 1395.5h68v20.4h-68zM549 1395.5h68v20.4h-68zM619 1395.5h50v20.4h-50zM672 1395.5h46v20.4h-46zM720 1395.5h50v20.4h-50zM773 1395.5h41v20.4h-41zM816 1395.5h39v20.4h-39zM857 1395.5h36v20.4h-36zM895 1395.5h28v20.4h-28zM926 1395.5h20v20.4h-20zM948 1395.5h19v20.4h-19zM970 1395.5h10v20.4h-10z"/>
<path fill="#110011" d="M549 437.8h68v20.4h-68zM619 497.6h50v20.4h-50zM895 637.3h28v20.4h-28zM152 677.2h113v20.4h-113zM267 677.2h110v20.4h-110zM380 677.2h96v20.4h-96zM479 677.2h68v20.4h-68zM549 677.2h68v20.4h-68zM619 677.2h50v20.4h-50zM672 677.2h46v20.4h-46zM720 677.2h50v20.4h-50zM773 677.2h41v20.4h-41zM816 677.2h39v20.4h-39zM857 677.2h36v20.4h-36zM895 677.2h28v20.4h-28zM926 677.2h20v20.4h-20zM948 677.2h19v20.4h-19zM970 677.2h10v20.4h-10zM152 1056.3h113v20.4h-113zM267 1056.3h110v20.4h-110zM380 1056.3h96v20.4h-96zM479 1056.3h68v20.4h-68zM549 1056.3h68v20.4h-68zM619 1056.3h50v20.4h-50zM672 1056.3h46v20.4h-46zM720 1056.3h50v20.4h-50zM773 1056.3h41v20.4h-41zM816 1056.3h39v20.4h-39zM857 1056.3h36v20.4h-36zM895 1056.3h28v20.4h-28zM926 1056.3h20v20.4h-20zM948 1056.3h19v20.4h-19zM970 1056.3h10v20.4h-10zM895 1076.3h28v20.4h-28zM895 1096.2h28v20.4h-28zM895 1116.2h28v20.4h-28zM152 1136.1h113v20.4h-113zM267 1136.1h110v20.4h-110zM380 1136.1h96v20.4h-96zM479 1136.1h68v20.4h-68zM549 1136.1h68v20.4h-68zM619 1136.1h50v20.4h-50zM672 1136.1h46v20.4h-46zM720 1136.1h50v20.4h-50zM773 1136.1h41v20.4h-41zM816 1136.1h39v20.4h-39zM857 1136.1h36v20.4h-36zM895 1136.1h28v20.4h-28zM926 1136.1h20v20.4h-20zM948 1136.1h19v20.4h-19zM970 1136.1h10v20.4h-10zM895 1156.1h28v20.4h-28zM926 1156.1h20v20.4h-20zM152 1176.1h113v20.4h-113zM267 1176.1h110v20.4h-110zM380 1176.1h96v20.4h-96zM479 1176.1h68v20.4h-68zM549 1176.1h68v20.4h-68zM619 1176.1h50v20.4h-50zM672 1176.1h46v20.4h-46zM720 1176.1h50v20.4h-50zM773 1176.1h41v20.4h-41zM816 1176.1h39v20.4h-39zM857 1176.1h36v20.4h-36zM895 1176.1h28v20.4h-28zM926 1176.1h20v20.4h-20zM948 1176.1h19v20.4h-19zM970 1176.1h10v20.4h-10zM152 1255.9h113v20.4h-113zM267 1255.9h110v20.4h-110zM380 1255.9h96v20.4h-96zM479 1255.9h68v20.4h-68zM549 1255.9h68v20.4h-68zM619 1255.9h50v20.4h-50zM672 1255.9h46v20.4h-46zM720 1255.9h50v20.4h-50zM773 1255.9h41v20.4h-41zM816 1255.9h39v20.4h-39zM857 1255.9h36v20.4h-36zM895 1255.9h28v20.4h-28zM926 1255.9h20v20.4h-20zM948 1255.9h19v20.4h-19zM970 1255.9h10v20.4h-10zM152 1295.8h113v20.4h-113zM267 1295.8h110v20.4h-110zM380 1295.8h96v20.4h-96zM479 1295.8h68v20.4h-68zM549 1295.8h68v20.4h-68zM619 1295.8h50v20.4h-50zM672 1295.8h46v20.4h-46zM720 1295.8h50v20.4h-50zM773 1295.8h41v20.4h-41zM816 1295.8h39v20.4h-39zM857 1295.8h36v20.4h-36zM895 1295.8h28v20.4h-28zM926 1295.8h20v20.4h-20zM948 1295.8h19v20.4h-19zM970 1295.8h10v20.4h-10z"/>
<path fill="#990099" d="M152 537.5h113v20.4h-113zM267 537.5h110v20.4h-110zM380 537.5h96v20.4h-96zM479 537.5h68v20.4h-68zM549 537.5h68v20.4h-68z"/>
<path stroke="#000000" stroke-width="20.2" d="M636 148.4h2m175 0h1m32 0h2M218 188.3h2m329 0h2M470 228.3h2m241 0h3m16 0h1M198 268.2h2m55 0h3m85 0h3m42 0h3m155 0h1M271 308.1h2m49 0h3m27 0h3m401 0h3m63 0h3m149 0h5M260 407.8h2m1 0h2m201 0h3m82 0h3m127 0h2m64 0h4m35 0h2m31 0h3m24 0h4m38 0h3M303 447.7h3m101 0h3m326 0h4m33 0h2m44 0h3m1 0h4m17 0h4m66 0h3M224 487.7h3m138 0h3m147 0h3m276 0h4m176 0h6M264 507.6h1m162 0h3m356 0h2M462 527.6h2m373 0h3M351 587.4h4m247 0h3m81 0h3m39 0h3m195 0h2m51 0h1M187 647.3h5m360 0h4m118 0h6m246 0h2M202 707.1h3m47 0h1m78 0h2m633 0h1M189 727.1h1m1 0h3m144 0h2m42 0h4m189 0h2m6 0h1m214 0h2m36 0h1m51 0h4M167 767h1m349 0h2m102 0h2m20 0h3m157 0h2m11 0h2m13 0h4m99 0h3M353 787h2m93 0h2M152 966.5h3m142 0h2m180 0h2m84 0h3M259 1086.3h2m544 0h2m22 0h3M253 1106.2h3m144 0h3m200 0h3m33 0h2m7 0h2m60 0h3M203 1126.2h3m601 0h3m64 0h3M186 1166.1h3m399 0h2m65 0h3M190 1225.9h4m522 0h2m199 0h3M152 1245.9h2m154 0h3m130 0h3m169 0h1m50 0h2m22 0h3m4 0h3m59 0h4m12 0h3m37 0h1m43 0h3m3 0h2M193 1325.7h2m44 0h1m347 0h3m221 0h2m30 0h2M301 1345.7h3m29 0h4m371 0h1m171 0h3m38 0h2M250 1385.6h4m10 0h1m412 0h3m12 0h2m93 0h2m71 0h2m26 0h2M192 1405.5h1m139 0h2m130 0h3m227 0h3m93 0h2m79 0h3"/>
<path stroke="#110000" stroke-width="20.2" d="M255 966.5h1M257 1405.5h2"/>
<path stroke="#110011" stroke-width="20.2" d="M565 148.4h2m99 0h3m13 0h2m63 0h4m57 0h2m16 0h3m7 0h4m86 0h3m32 0h1m2 0h3M190 188.3h2m117 0h3m6 0h2m2 0h4m34 0h1m14 0h2m44 0h3m31 0h3m41 0h2m45 0h1m24 0h3m25 0h3m22 0h3m2 0h2m6 0h3m2 0h1m7 0h3m132 0h4m5 0h5m78 0h2m18 0h3m22 0h1m53 0h4M380 228.3h2m26 0h3m2 0h3m47 0h2m155 0h3m16 0h4m22 0h2m31 0h3m35 0h1m31 0h2m55 0h2m77 0h3m68 0h2M513 248.2h3M227 268.2h2m59 0h2m84 0h3m103 0h3m36 0h2m28 0h2m4 0h2m25 0h3m14 0h6m24 0h1m68 0h2m37 0h3m103 0h4m50 0h2m17 0h2m17 0h2m4 0h2m11 0h4m4 0h3M162 308.1h3m12 0h3m18 0h2m63 0h2m11 0h2m56 0h2m1 0h3m15 0h2m3 0h2m142 0h4m13 0h4m221 0h3m43 0h2m22 0h2m26 0h3m12 0h3m2 0h3m12 0h3m66 0h3m6 0h2M314 348h1m6 0h2m5 0h2m36 0h2m119 0h1m5 0h2m12 0h2m2 0h3m19 0h3M174 407.8h3m12 0h3m3 0h3m6 0h6m2 0h4m12 0h4m9 0h3m27 0h2m67 0h3m26 0h3m31 0h2m31 0h2m297 0h4m18 0h2m4 0h4m8 0h4m59 0h1M432 427.8h2M179 447.7h3m29 0h2m31 0h2m28 0h3m31 0h2m5 0h4m45 0h2m48 0h1m13 0h4m5 0h2m57 0h2m13 0h3m125 0h2m49 0h2m19 0h1m14 0h2m27 0h4m34 0h3m3 0h2m4 0h4m153 0h3M154 487.7h2m31 0h1m40 0h3m94 0h7m89 0h5m33 0h3m4 0h2m19 0h3m131 0h2m84 0h5m5 0h1m223 0h3M152 507.6h2m11 0h1m42 0h3m34 0h2m66 0h4m22 0h3m11 0h5m31 0h3m62 0h3m12 0h2m2 0h3m33 0h3m6 0h3m207 0h3m85 0h2m18 0h4m17 0h2m62 0h2M157 527.6h2m2 0h2m107 0h1m50 0h1m61 0h2m10 0h3m30 0h4m66 0h3m13 0h1m16 0h2m12 0h2m77 0h1m47 0h4m68 0h2m56 0h3m14 0h3m11 0h4m38 0h4m5 0h3M156 587.4h1m18 0h3m1 0h3m24 0h1m1 0h2m32 0h4m42 0h2m10 0h6m5 0h2m6 0h2m3 0h3m17 0h3m62 0h3m14 0h1m52 0h6m5 0h4m2 0h2m4 0h2m9 0h3m30 0h1m7 0h1m138 0h3m35 0h2m10 0h2m4 0h1m4 0h3m27 0h2m1 0h3m78 0h2m39 0h4m4 0h1m3 0h2m30 0h3m6 0h3M215 647.3h4m5 0h3m7 0h2m26 0h2m4 0h3m21 0h2m7 0h1m55 0h2m23 0h3m5 0h3m3 0h2m30 0h4m27 0h3m8 0h1m3 0h2m21 0h3m24 0h4m4 0h3m1 0h2m54 0h1m10 0h3m79 0h2m6 0h2m4 0h1m3 0h5m41 0h2m16 0h2m78 0h2m8 0h2m107 0h1M245 667.2h2m290 0h3M195 707.1h2m3 0h2m42 0h2m3 0h2m2 0h1m5 0h1m9 0h3m27 0h3m9 0h3m1 0h2m58 0h2m20 0h3m52 0h3m4 0h2m5 0h4m14 0h1m30 0h5m31 0h3m4 0h3m6 0h1m11 0h2m6 0h6m38 0h3m102 0h3m38 0h3m5 0h1m40 0h2m43 0h2m85 0h2M152 727.1h3m52 0h2m3 0h4m5 0h3m45 0h3m35 0h3m10 0h2m35 0h2m54 0h3m2 0h2m16 0h2m15 0h2m35 0h2m20 0h3m46 0h2m24 0h2m25 0h3m11 0h1m204 0h3m42 0h3m14 0h3m22 0h3m3 0h3m23 0h3m23 0h2M156 767h3m26 0h4m54 0h2m16 0h2m47 0h1m1 0h4m23 0h3m64 0h2m5 0h4m24 0h2m55 0h3m13 0h3m2 0h2m7 0h3m98 0h2m32 0h3m233 0h2m25 0h4m1 0h2M213 787h3m19 0h3m22 0h2m36 0h6m10 0h1m53 0h1m16 0h1m11 0h3m7 0h3m75 0h1m15 0h4m57 0h3m13 0h2m32 0h2m15 0h4m12 0h2m255 0h1m5 0h1m7 0h3m42 0h3M902 946.6h2m16 0h2m26 0h1M160 966.5h7m27 0h2m3 0h3m34 0h3m7 0h2m51 0h2m28 0h3m22 0h2m6 0h3m22 0h3m14 0h2m13 0h1m12 0h3m21 0h3m90 0h6m27 0h3m9 0h1m39 0h6m23 0h2m61 0h3m74 0h1m12 0h3m77 0h3m74 0h6M274 1006.4h2M181 1086.3h3m8 0h4m6 0h1m27 0h2m3 0h6m3 0h2m33 0h4m21 0h3m67 0h2m70 0h3m4 0h2m6 0h3m8 0h2m31 0h2m5 0h3m31 0h1m32 0h2m45 0h2m15 0h1m44 0h3m2 0h3m18 0h4m8 0h1m10 0h4m47 0h3m33 0h5m15 0h2m7 0h2m82 0h2m9 0h3m3 0h2M158 1106.2h3m119 0h2m39 0h2m4 0h2m3 0h3m7 0h3m67 0h1m18 0h3m4 0h2m7 0h2m69 0h4m36 0h2m13 0h2m9 0h3m33 0h3m8 0h4m17 0h2m19 0h3m41 0h1m10 0h3m14 0h2m16 0h3m59 0h3m36 0h3m1 0h2M158 1126.2h2m83 0h3m69 0h4m8 0h3m46 0h1m45 0h3m11 0h1m3 0h2m15 0h2m7 0h4m126 0h1m58 0h2m90 0h3m44 0h3m1 0h3m61 0h3m18 0h4m67 0h3m6 0h2m9 0h3M168 1166.1h3m12 0h3m23 0h2m99 0h1m52 0h3m74 0h3m6 0h2m51 0h2m195 0h1m16 0h2m2 0h3m8 0h3m25 0h4m2 0h1m25 0h1m39 0h3m5 0h3M951 1206h1m14 0h1m7 0h3M188 1225.9h2m48 0h2m72 0h3m3 0h3m97 0h4m30 0h3m77 0h2m21 0h4m64 0h3m35 0h4m31 0h2m5 0h6m2 0h3m16 0h3m15 0h2m92 0h3m16 0h3m20 0h3M179 1245.9h1m60 0h2m77 0h3m72 0h4m111 0h3m2 0h3m54 0h2m37 0h2m44 0h3m13 0h4m22 0h3m1 0h3m27 0h3m16 0h3m200 0h5M163 1325.7h1m22 0h3m10 0h4m41 0h3m59 0h3m20 0h4m10 0h4m10 0h3m83 0h2m10 0h3m34 0h3m25 0h2m4 0h2m1 0h3m2 0h3m8 0h2m102 0h2m1 0h4m33 0h2m1 0h1m61 0h2m40 0h2m15 0h1m21 0h2m27 0h2m39 0h2m27 0h3m3 0h1M155 1345.7h3m22 0h2m20 0h2m7 0h3m28 0h3m40 0h3m23 0h3m6 0h3m9 0h1m32 0h2m34 0h2m28 0h3m14 0h2m37 0h3m37 0h3m23 0h2m85 0h2m40 0h2m7 0h2m53 0h2m31 0h3m17 0h3m43 0h3m59 0h3m1 0h3m1 0h2M207 1385.6h3m18 0h2m50 0h2m62 0h1m30 0h2m133 0h3m1 0h3m5 0h3m13 0h3m15 0h3m22 0h2m8 0h3m3 0h4m144 0h2m5 0h6m3 0h1m44 0h1m11 0h2m58 0h2m6 0h2m21 0h3m43 0h4M181 1405.5h2m43 0h6m16 0h3m49 0h3m15 0h2m7 0h3m45 0h2m51 0h2m37 0h2m4 0h3m38 0h3m5 0h2m11 0h4m24 0h2m27 0h3m24 0h3m34 0h2m10 0h1m43 0h4m45 0h4m4 0h1m30 0h2m24 0h4m23 0h2m6 0h3m38 0h1m14 0h1m26 0h2m13 0h1"/>
<path stroke="#111100" stroke-width="20.2" d="M222 268.2h2M608 407.8h1m122 0h2m147 0h2M220 447.7h1m128 0h2m575 0h3M332 487.7h3m46 0h3M752 587.4h2M437 647.3h4m231 0h2m53 0h4M166 707.1h2M322 787h2M676 1166.1h3M355 1385.6h3m225 0h3"/>
<path stroke="#111111" stroke-width="20.2" d="M686 1225.9h2"/>
<path stroke="#220011" stroke-width="20.2" d="M821 148.4h2M430 188.3h2M851 228.3h3M638 348h3M910 447.7h2M500 487.7h2M782 587.4h2M290 707.1h3m128 0h3M225 727.1h2M250 787h1M461 966.5h2M339 1106.2h2m12 0h4m14 0h3m470 0h2M421 1126.2h1M435 1325.7h2M385 1345.7h3"/>
<path stroke="#220022" stroke-width="20.2" d="M461 108.5h2m312 0h3m28 0h3M768 128.5h2m13 0h4M185 148.4h3m67 0h1m622 0h2M525 168.4h2m405 0h2M154 228.3h2m335 0h2M231 248.2h4m718 0h3M930 348h2M350 387.9h3m109 0h3m113 0h3M339 427.8h1m62 0h3m210 0h1m44 0h2m236 0h3M243 467.7h2M963 627.3h3M376 667.2h1M587 747.1h2M167 866.8h3m114 0h2m2 0h1m264 0h1m9 0h2m70 0h2m307 0h1m20 0h2M252 906.7h2M373 946.6h3m68 0h4M181 986.5h4M359 1006.4h3m549 0h2M219 1026.4h2m138 0h2M930 1225.9h3M822 1285.8h3"/>
<path stroke="#221111" stroke-width="20.2" d="M610 148.4h2M424 188.3h3m350 0h1M272 268.2h3m164 0h4m145 0h4M371 308.1h1m161 0h1M957 348h3M329 407.8h3m265 0h3M312 447.7h3m26 0h1M380 487.7h1M346 507.6h1m534 0h2M363 647.3h3M263 707.1h1m11 0h2m473 0h1M347 787h1M549 946.6h3M587 1086.3h2m55 0h1M226 1166.1h1m279 0h1m28 0h1M372 1225.9h2m298 0h3m178 0h1M254 1245.9h4m177 0h1m59 0h3m209 0h1M365 1325.7h3m3 0h3M442 1345.7h1M426 1385.6h1m444 0h2M380 1405.5h1m514 0h1"/>
<path stroke="#222200" stroke-width="20.2" d="M370 188.3h1m595 0h1M822 268.2h3M156 328h2M464 487.7h1m239 0h1M791 547.5h3M736 607.4h2M708 647.3h1M195 687.2h2m512 0h4m46 0h1m120 0h2M414 707.1h1m82 0h1m416 0h1M847 767h1M376 787h1M182 1066.3h2m75 0h1m129 0h3m12 0h2m39 0h1m77 0h1m365 0h2M381 1106.2h1m73 0h2m153 0h1M429 1146.1h2m65 0h1M181 1186h2m136 0h1m78 0h4m214 0h1m21 0h2m250 0h1M534 1225.9h2m108 0h2M198 1245.9h1M275 1265.8h4m116 0h3m223 0h4m97 0h2m255 0h1M208 1305.8h5m5 0h2m121 0h3m32 0h1m209 0h2M347 1325.7h3M442 1385.6h1M904 1405.5h4"/>
<path stroke="#222211" stroke-width="20.2" d="M851 148.4h2M778 188.3h3M917 447.7h1M169 487.7h1M737 687.2h1M628 707.1h3m258 0h1M434 727.1h1M422 767h1M258 1106.2h1m157 0h1M261 1146.1h3M922 1305.8h1M523 1345.7h1M876 1405.5h1"/>
<path stroke="#330022" stroke-width="20.2" d="M743 1066.3h3m228 0h1"/>
<path stroke="#330033" stroke-width="20.2" d="M182 88.6h3m353 0h6M240 108.5h2m100 0h3m16 0h2m52 0h1M168 128.5h2m156 0h4m129 0h1m47 0h6m24 0h3m147 0h3m83 0h3m57 0h6m39 0h2M212 148.4h3m127 0h2m114 0h2m7 0h4m53 0h3M433 168.4h2m429 0h3m13 0h2M185 228.3h2m12 0h2m28 0h3m14 0h1m7 0h3m110 0h2m142 0h1m4 0h3m14 0h2m240 0h3m32 0h2m70 0h3m70 0h3M213 248.2h3m42 0h3m65 0h3m23 0h2m57 0h1m33 0h4m4 0h3m76 0h2m30 0h1m21 0h3m200 0h3m37 0h3M398 288.1h2M473 308.1h1M156 348h2m63 0h2m13 0h4m166 0h3m63 0h3m132 0h2m131 0h2m35 0h3m32 0h2m31 0h4m24 0h2m4 0h2m8 0h3m6 0h2m18 0h1m15 0h1M180 387.9h2m6 0h4m6 0h2m38 0h1m20 0h2m38 0h1m17 0h3m44 0h3m148 0h2m35 0h4m99 0h3m2 0h3m9 0h2m74 0h8m4 0h2m6 0h2m84 0h1m5 0h2m13 0h2m14 0h2m83 0h2M174 427.8h3m13 0h1m102 0h2m21 0h3m8 0h3m17 0h4m8 0h2m46 0h1m18 0h2m9 0h3m6 0h3m62 0h3m36 0h2m42 0h1m31 0h3m72 0h3m51 0h3m15 0h2m20 0h2m105 0h2m58 0h3M574 447.7h3m24 0h3M279 467.7h3m279 0h2m171 0h1M621 507.6h2m26 0h2m297 0h3m8 0h4M549 527.6h2m409 0h3M681 547.5h3M152 567.5h6m14 0h3m29 0h2m66 0h2m27 0h2m88 0h3m29 0h2m25 0h4m2 0h3m22 0h3m28 0h2m5 0h5M640 587.4h3M576 607.4h4M613 627.3h3M165 667.2h1m110 0h2m29 0h6m87 0h3m17 0h4m97 0h3m7 0h3m1 0h2m12 0h2m101 0h2m106 0h2m70 0h2m8 0h3m120 0h2M336 687.2h5m5 0h4m50 0h4m14 0h1m25 0h3m3 0h2m21 0h2m4 0h3m31 0h3m43 0h3m16 0h3m8 0h3m21 0h3m13 0h3m103 0h2m48 0h4m43 0h1m82 0h3m8 0h3m1 0h4m14 0h3M448 747.1h3m145 0h1m9 0h3M582 767h2m22 0h3m67 0h3m51 0h1m22 0h3M725 787h3m7 0h4m5 0h1m11 0h2M792 826.9h2M164 866.8h3m33 0h3m6 0h3m27 0h2m1 0h1m29 0h3m51 0h1m11 0h3m78 0h3m31 0h4m49 0h3m31 0h3m62 0h2m59 0h1m75 0h2m207 0h2M241 906.7h2m222 0h3m13 0h3m6 0h2m26 0h4m202 0h2m62 0h2m37 0h3m4 0h3m33 0h4M603 926.6h2M195 946.6h3m76 0h5m16 0h1m30 0h2m89 0h5m13 0h3m67 0h1m367 0h3M714 966.5h2M185 986.5h1m11 0h3m21 0h3m2 0h2m28 0h3m8 0h3m44 0h3m21 0h1m16 0h4m125 0h5m7 0h3m216 0h3m209 0h4m10 0h2M223 1006.4h3m11 0h3m23 0h2m37 0h4m114 0h1m58 0h2m13 0h2m38 0h3m339 0h3m16 0h3M322 1026.4h3m185 0h2m415 0h3m3 0h3M425 1046.4h3M178 1066.3h3m53 0h4m2 0h2m9 0h2m41 0h3m72 0h2m49 0h2m71 0h2m25 0h1m66 0h2m5 0h3m22 0h4m61 0h1m55 0h2m68 0h3m93 0h3m8 0h3m36 0h2M159 1146.1h3m3 0h4m22 0h3m15 0h4m12 0h1m58 0h2m53 0h1m16 0h3m59 0h2m64 0h2m5 0h3m28 0h1m54 0h5m54 0h3m42 0h2m37 0h1m31 0h1m14 0h2m21 0h2m24 0h2m21 0h1m2 0h2m21 0h3m20 0h2m38 0h3m24 0h4M165 1186h4m6 0h1m41 0h3m70 0h3m27 0h1m15 0h3m22 0h3m7 0h4m5 0h3m4 0h2m41 0h3m21 0h2m52 0h4m37 0h2m73 0h3m5 0h3m44 0h3m7 0h3m11 0h2m28 0h6m7 0h4m24 0h2m56 0h4m16 0h3m33 0h2M575 1206h3M170 1265.8h2m8 0h3m26 0h2m11 0h2m20 0h1m38 0h4m20 0h3m15 0h2m35 0h1m26 0h4m21 0h2m48 0h3m142 0h4m50 0h2m10 0h2m2 0h7m79 0h3m25 0h4m38 0h3m53 0h2m15 0h3m5 0h3m16 0h6m29 0h3m1 0h2M609 1285.8h2M172 1305.8h1m6 0h2m25 0h2m25 0h4m5 0h2m11 0h2m7 0h1m13 0h2m4 0h4m3 0h1m81 0h1m19 0h2m54 0h1m104 0h2m42 0h3m27 0h2m17 0h3m45 0h2m2 0h3m2 0h2m49 0h2m41 0h3m7 0h3m59 0h1m72 0h3"/>
<path stroke="#331111" stroke-width="20.2" d="M321 188.3h1m318 0h2M804 447.7h1M941 507.6h2M292 587.4h3M787 727.1h3M411 787h1M232 1086.3h1M491 1126.2h1M753 1146.1h2M354 1166.1h1m103 0h1m155 0h2M550 1245.9h1M648 1385.6h4"/>
<path stroke="#331122" stroke-width="20.2" d="M793 108.5h4M597 348h1M847 787h1M291 906.7h1m93 0h1m390 0h1M691 966.5h1M210 1066.3h2m605 0h1m51 0h4M974 1146.1h3M518 1186h2m212 0h1M292 1305.8h2"/>
<path stroke="#332200" stroke-width="20.2" d="M732 308.1h2M305 487.7h2M795 707.1h2m19 0h4M576 1146.1h1M598 1166.1h1M754 1265.8h1M757 1405.5h1"/>
<path stroke="#332211" stroke-width="20.2" d="M229 108.5h2M416 128.5h1M169 188.3h1m398 0h1m1 0h1m15 0h1M439 228.3h1m379 0h3M965 268.2h2M201 308.1h2m169 0h5m584 0h1M278 348h1m316 0h2M185 407.8h1m118 0h1M209 427.8h1M188 447.7h3m669 0h4M878 487.7h1M161 507.6h1m145 0h3m190 0h3M277 527.6h1m449 0h1M568 587.4h1m312 0h2M597 647.3h1M660 687.2h1m104 0h2M321 707.1h1m106 0h3m60 0h3m100 0h1m170 0h1m109 0h1M224 727.1h1m328 0h3m10 0h1m214 0h1m46 0h1m73 0h1m4 0h1M311 767h1m466 0h1M915 787h1M884 946.6h3m26 0h1M292 966.5h1m104 0h2m61 0h1m167 0h1M300 1006.4h2M195 1066.3h3m118 0h1m15 0h1m518 0h1m21 0h1m66 0h2M309 1086.3h1m9 0h1m247 0h2m42 0h1m4 0h1m87 0h1M289 1106.2h1m152 0h1m144 0h4m32 0h1m264 0h3M397 1126.2h3m15 0h1m27 0h1m59 0h1m385 0h2M462 1146.1h3m399 0h1m30 0h3M228 1166.1h1m43 0h2m114 0h1m48 0h1m156 0h1m68 0h1M223 1186h2M174 1225.9h2m36 0h4m53 0h1m300 0h2m306 0h1m10 0h1M364 1245.9h1m58 0h3m223 0h3m79 0h1m227 0h1M829 1265.8h2M193 1305.8h1m539 0h2M501 1325.7h1m63 0h2m270 0h1M406 1345.7h1m2 0h4m45 0h1m209 0h1m51 0h4m63 0h2m21 0h1M505 1385.6h1m82 0h1m27 0h1m184 0h1m131 0h2M259 1405.5h3m76 0h1m201 0h1m412 0h3"/>
<path stroke="#332222" stroke-width="20.2" d="M467 108.5h1M251 228.3h1M270 268.2h2m30 0h1m640 0h1M593 308.1h1M229 387.9h2M393 447.7h3M781 507.6h1m20 0h1M794 667.2h1M260 707.1h2m434 0h2M296 727.1h1m163 0h3M516 787h1M741 906.7h1M604 946.6h3M744 966.5h2M375 1006.4h1M479 1026.4h1M942 1066.3h1M211 1126.2h3m647 0h1M173 1166.1h1M561 1245.9h1M286 1325.7h1m459 0h2M235 1385.6h1m162 0h1M410 1405.5h1m180 0h1m68 0h1"/>
<path stroke="#333300" stroke-width="20.2" d="M240 88.6h4m582 0h1M152 108.5h3m270 0h4m112 0h1m353 0h1M441 128.5h1m130 0h1m65 0h1m191 0h3m107 0h1M154 148.4h1m91 0h1m45 0h2m38 0h1m153 0h1M759 168.4h1M721 188.3h1m17 0h1M761 208.3h2m75 0h1M747 248.2h1M253 268.2h1m39 0h1m436 0h1M540 308.1h1m4 0h2m147 0h1m64 0h3m13 0h2m94 0h1M230 348h1m16 0h1m38 0h2m145 0h1m19 0h1m109 0h1M279 367.9h2M468 387.9h4m175 0h1m314 0h1M235 407.8h4m490 0h2m13 0h1M391 427.8h4m65 0h3M195 447.7h1m74 0h1m295 0h1m16 0h1m238 0h1M165 467.7h3M297 487.7h2m329 0h2m45 0h2M426 507.6h1m342 0h1m205 0h3M448 527.6h1M529 547.5h1M169 607.4h1m225 0h1m217 0h1m193 0h1M163 627.3h2m279 0h1m57 0h1m55 0h2m265 0h3M567 647.3h1M403 667.2h1m27 0h3m423 0h2M404 687.2h1m355 0h1M205 707.1h1m34 0h2M417 727.1h1M878 747.1h1M284 767h1m346 0h1m22 0h2M313 787h1m170 0h1m441 0h1M338 806.9h1M225 826.9h3m472 0h1M673 846.8h1m63 0h2M720 866.8h4M455 886.7h3m194 0h1M267 906.7h1m103 0h1m19 0h2m40 0h1m133 0h1m122 0h4M158 926.6h2m112 0h1m603 0h3M365 966.5h1m167 0h1M388 986.5h1m61 0h8m267 0h1m212 0h1M253 1006.4h1M154 1026.4h1M181 1066.3h1m43 0h1m137 0h2m83 0h2m29 0h1m48 0h1m103 0h1m221 0h1M253 1086.3h2m329 0h1M197 1106.2h3m370 0h3m95 0h1M319 1126.2h1m594 0h3M189 1146.1h1m325 0h1m420 0h1M583 1186h1M336 1206h1m185 0h2m174 0h1M462 1225.9h1M782 1245.9h1M262 1265.8h1m210 0h2m39 0h1m67 0h3m204 0h3M201 1285.8h1m332 0h1m297 0h1M611 1305.8h1M295 1325.7h1m562 0h1m84 0h2M300 1345.7h1m28 0h1M175 1365.6h1m163 0h2m2 0h1m238 0h4m103 0h1m44 0h3M492 1385.6h2m118 0h4m186 0h1"/>
<path stroke="#333311" stroke-width="20.2" d="M658 268.2h2M383 348h3M804 487.7h3M661 507.6h2M806 587.4h2M461 707.1h1M576 1066.3h1m297 0h2M525 1106.2h1M727 1126.2h3m241 0h3M807 1245.9h1M382 1345.7h3m211 0h1"/>
<path stroke="#440044" stroke-width="20.2" d="M722 88.6h2m64 0h1M667 248.2h2M342 367.9h1m2 0h3m19 0h3m272 0h3m33 0h4M885 467.7h1m51 0h2M634 507.6h3M854 567.5h1m48 0h2M187 607.4h2m2 0h3m332 0h3m388 0h3M510 627.3h3m17 0h2m172 0h2M906 647.3h2M205 687.2h4m202 0h3m247 0h3m214 0h2M576 846.8h3m67 0h3m64 0h2M791 886.7h2M498 926.6h1M584 986.5h2m264 0h3M646 1026.4h3M188 1066.3h4m179 0h3m423 0h3M295 1146.1h7m129 0h1m133 0h3m17 0h2m372 0h3M287 1186h3m112 0h2m180 0h3m43 0h2m45 0h2m117 0h1M261 1206h4m207 0h2m237 0h2M152 1265.8h2m21 0h2m182 0h3m394 0h4m216 0h3M529 1285.8h1M276 1305.8h2m203 0h3m276 0h4"/>
<path stroke="#441122" stroke-width="20.2" d="M872 108.5h2"/>
<path stroke="#441133" stroke-width="20.2" d="M471 108.5h1m314 0h1M159 128.5h1m568 0h5M321 148.4h3m92 0h1m3 0h1m99 0h3M540 168.4h1M170 248.2h1m29 0h2m28 0h1m199 0h3M555 348h1m164 0h4M258 387.9h1m94 0h1m71 0h2m367 0h2m163 0h2m14 0h1M948 427.8h3M598 487.7h3M864 567.5h1M604 607.4h3M381 627.3h1M605 667.2h2M353 866.8h1m20 0h1m19 0h4m533 0h2M624 986.5h1m281 0h1M235 1006.4h2M382 1026.4h2m161 0h1M739 1285.8h1"/>
<path stroke="#442211" stroke-width="20.2" d="M215 88.6h3M504 168.4h1M286 188.3h2M551 228.3h2M221 268.2h1M819 308.1h2M674 348h1M460 407.8h3M694 507.6h1M551 647.3h1M388 707.1h1m260 0h1m112 0h2m109 0h1M629 727.1h2m35 0h3M367 787h1m223 0h3M930 1086.3h1M324 1106.2h1m55 0h1M949 1225.9h3M428 1245.9h2m59 0h1m312 0h1M519 1325.7h1m80 0h2M513 1405.5h1"/>
<path stroke="#442222" stroke-width="20.2" d="M410 108.5h4m49 0h1M160 128.5h1m254 0h1m23 0h2m6 0h1m31 0h1m215 0h2M155 148.4h1m50 0h1m282 0h2m21 0h1m82 0h1m180 0h1M258 188.3h1m8 0h2m7 0h1m12 0h2m21 0h3m33 0h1m154 0h2m106 0h4M432 228.3h1m120 0h1m3 0h3m11 0h1m2 0h2m236 0h2m124 0h4M288 248.2h3m72 0h3m131 0h1m117 0h2M235 268.2h4m236 0h1m75 0h1m308 0h1m3 0h4M441 308.1h2m397 0h1m46 0h3m80 0h1M683 348h1m25 0h1m196 0h1m36 0h3M904 367.9h1M274 387.9h1m95 0h2m163 0h3M171 407.8h1m8 0h1m191 0h3m371 0h1m12 0h4m203 0h1M323 427.8h4m578 0h1m12 0h1m35 0h1M404 447.7h3m18 0h2m48 0h1m276 0h3m27 0h1m76 0h1m47 0h1m10 0h1m24 0h1M752 467.7h3M190 487.7h1m354 0h2m137 0h1m38 0h3m25 0h1M415 507.6h1m305 0h1m71 0h1m81 0h3m62 0h1M214 567.5h2M287 587.4h1M666 627.3h2M432 647.3h2m134 0h3M215 667.2h1m21 0h3m38 0h1m66 0h1m213 0h1m384 0h1M449 707.1h1m154 0h2m16 0h1M463 727.1h1m94 0h1m43 0h1m2 0h6m360 0h1M574 747.1h4M189 767h1m144 0h2m27 0h1m121 0h1m201 0h3m21 0h3m153 0h3m45 0h1M208 787h4m33 0h1m45 0h3m50 0h1m50 0h1m33 0h1m372 0h2m12 0h1m141 0h2M781 826.9h1m2 0h4M397 846.8h1m113 0h1M418 866.8h1m120 0h1M187 906.7h1m80 0h3m234 0h1m166 0h2m46 0h1m19 0h1M235 946.6h1m26 0h1m20 0h1m9 0h2m6 0h3m272 0h2m205 0h1M256 966.5h1m18 0h4m437 0h1m21 0h4m215 0h1M313 986.5h1m76 0h3m19 0h1m13 0h1m33 0h1m473 0h3M388 1006.4h1m112 0h1m427 0h3M339 1026.4h1m126 0h2m470 0h1M596 1046.4h1m263 0h2m24 0h3M503 1066.3h3M162 1086.3h1m115 0h1m39 0h1m480 0h1M152 1106.2h1m258 0h1m3 0h1m126 0h1m40 0h1m163 0h2m189 0h3M267 1126.2h1m112 0h1m119 0h1m444 0h1M473 1166.1h3m99 0h1M249 1225.9h2m229 0h2m90 0h3m93 0h1m74 0h1m113 0h2m51 0h1m22 0h1M409 1245.9h2m92 0h1m173 0h3m114 0h2m106 0h1M459 1285.8h1m115 0h3m85 0h4M257 1325.7h3m622 0h1m87 0h1M294 1345.7h1m143 0h1m4 0h2m53 0h1m37 0h1M350 1385.6h4m73 0h3m6 0h3m260 0h1m213 0h1m3 0h1M206 1405.5h2m134 0h3m46 0h1m583 0h1"/>
<path stroke="#442233" stroke-width="20.2" d="M171 88.6h4M229 128.5h1M421 148.4h1M868 248.2h1M838 268.2h1M844 387.9h1M868 427.8h1M880 447.7h3M949 467.7h3M420 487.7h1M811 507.6h1M730 667.2h1m52 0h1M740 866.8h2m84 0h1M389 926.6h1M511 946.6h3M240 1006.4h1M304 1026.4h1M399 1106.2h1M197 1166.1h1M279 1385.6h1m410 0h1"/>
<path stroke="#443300" stroke-width="20.2" d="M930 188.3h2M247 407.8h1M928 707.1h1M366 767h1M741 1106.2h1M917 1126.2h2M571 1146.1h1M672 1305.8h3"/>
<path stroke="#443311" stroke-width="20.2" d="M294 108.5h3M185 168.4h3m128 0h2m203 0h1M200 188.3h1m130 0h1M468 228.3h1m71 0h1M607 248.2h3M267 268.2h1m36 0h1m216 0h1m30 0h3m50 0h2M211 308.1h1m103 0h2m180 0h1m34 0h1m5 0h2m183 0h1m111 0h3m14 0h1M190 348h3m164 0h2M152 407.8h2m725 0h1M232 447.7h1m8 0h3m497 0h2m90 0h4M245 487.7h1m447 0h3m177 0h1M345 507.6h1m388 0h1m53 0h1M786 587.4h1m46 0h1M580 607.4h1M875 667.2h1M223 687.2h3m95 0h1m385 0h2m60 0h1M348 707.1h2m33 0h1m139 0h3m297 0h1m14 0h1M386 727.1h1m23 0h3m83 0h1m189 0h2M568 747.1h3M269 767h1m89 0h1m516 0h3M597 787h4m259 0h1m28 0h1M580 866.8h1M240 946.6h4m253 0h1M189 966.5h1m95 0h2m107 0h1m399 0h4M309 986.5h1M202 1066.3h1m165 0h1m14 0h3m50 0h4m69 0h1m42 0h1M200 1086.3h1m188 0h3m145 0h1m90 0h4M347 1106.2h1m191 0h1m79 0h1m68 0h1M558 1126.2h1m27 0h1m8 0h1m12 0h3M420 1146.1h4m287 0h1M351 1166.1h1m216 0h3m21 0h2M865 1186h1M371 1225.9h1m25 0h1m81 0h1m26 0h1m173 0h1m41 0h1m114 0h1m21 0h2M188 1245.9h2m208 0h1m73 0h3m15 0h1m26 0h1m148 0h2m94 0h1m149 0h3m64 0h1M274 1265.8h1m473 0h3M158 1325.7h1m321 0h1m344 0h1M349 1345.7h1m141 0h2m19 0h3m74 0h3M231 1385.6h4m160 0h1m72 0h2m25 0h1m63 0h2m105 0h3m262 0h2M264 1405.5h1m134 0h3m98 0h1m40 0h1m187 0h1m11 0h1"/>
<path stroke="#443322" stroke-width="20.2" d="M874 128.5h1M329 148.4h3m36 0h1M695 268.2h1M320 308.1h1m41 0h1m239 0h1m170 0h1m8 0h1M910 348h3M556 407.8h1m16 0h1M412 427.8h3M261 487.7h3M643 587.4h2M446 647.3h2M435 667.2h1m287 0h2M280 707.1h2M714 767h3M415 846.8h2M159 906.7h2m261 0h1m440 0h3M167 966.5h1m654 0h3M152 986.5h1M961 1086.3h2M502 1106.2h2m183 0h1M273 1126.2h1M159 1245.9h1m215 0h1m300 0h1M264 1325.7h1m174 0h3M816 1345.7h1m84 0h1M368 1385.6h1M918 1405.5h2"/>
<path stroke="#444400" stroke-width="20.2" d="M166 88.6h4m7 0h2m263 0h1m18 0h3m332 0h1M248 108.5h4m1 0h4m144 0h1m73 0h1m4 0h2m3 0h4m28 0h2m1 0h3m389 0h2m18 0h1M236 128.5h3m22 0h1m580 0h3m3 0h1m18 0h2M172 148.4h1m23 0h1m136 0h6m42 0h1m68 0h3M176 168.4h2m11 0h1m49 0h3m183 0h2m60 0h1m287 0h2M269 188.3h1m76 0h1m14 0h1m590 0h1M205 208.3h1m651 0h1M304 228.3h5m84 0h2m575 0h3M302 248.2h2m27 0h4m4 0h3m114 0h1m260 0h1m86 0h3M397 268.2h1m179 0h3M181 288.1h1m760 0h2M326 308.1h1m78 0h3m253 0h2m32 0h1m57 0h3M255 328h1m190 0h2m90 0h1m51 0h2m115 0h1m44 0h1M285 348h1m9 0h1m266 0h1m164 0h1m156 0h1m78 0h1M608 367.9h1m43 0h1M334 407.8h1m577 0h3M388 427.8h1m173 0h1m39 0h1M543 447.7h2M663 467.7h2m76 0h3M274 487.7h2M168 507.6h1m58 0h1m31 0h2m120 0h1m174 0h3m360 0h1m23 0h1M616 547.5h1M803 567.5h2m18 0h2M648 587.4h1m32 0h1m169 0h1M485 607.4h1m63 0h1M791 627.3h1M549 647.3h2m44 0h2M187 667.2h1m197 0h1m467 0h1M493 687.2h1M545 727.1h2m91 0h3m114 0h1m93 0h1m58 0h1M614 747.1h3m336 0h2M319 767h1m103 0h2m176 0h4m186 0h1m21 0h1M391 787h1m149 0h4m29 0h1m32 0h2m179 0h1m78 0h1M599 806.9h1M358 826.9h1m29 0h1m175 0h1m211 0h3m15 0h2M157 846.8h1m397 0h1M469 866.8h1m149 0h1m3 0h2m48 0h4m129 0h2M251 886.7h1m111 0h1m230 0h2m125 0h2M522 906.7h3m174 0h3m27 0h1m156 0h4M287 926.6h1M714 946.6h1m150 0h2M538 966.5h1m105 0h1m42 0h1m16 0h1M192 986.5h1m41 0h1m55 0h3m41 0h1m65 0h1m23 0h2m250 0h2M444 1006.4h3m94 0h1m296 0h3M302 1026.4h2m110 0h1m42 0h1M362 1046.4h3m8 0h1M329 1066.3h3m178 0h1m270 0h1m67 0h1M576 1086.3h1m16 0h2m349 0h1M267 1106.2h1m158 0h1m3 0h1m3 0h4m57 0h1m236 0h1M284 1126.2h2M885 1146.1h3M371 1166.1h1m97 0h1m285 0h1m158 0h3M222 1206h1m403 0h3m146 0h2M237 1225.9h1m58 0h1m449 0h1M349 1245.9h1m9 0h3m533 0h1M272 1285.8h4m226 0h1m86 0h1m40 0h4m94 0h1m241 0h1M484 1305.8h2m480 0h1M941 1325.7h1m6 0h3m5 0h3M194 1345.7h4m62 0h4m108 0h4m61 0h1m337 0h1m163 0h2M199 1365.6h2m439 0h3m13 0h3M152 1385.6h4m74 0h1m14 0h2m90 0h2m165 0h1m378 0h1M417 1405.5h3m177 0h4"/>
<path stroke="#444411" stroke-width="20.2" d="M747 268.2h1M362 407.8h1M452 687.2h1m301 0h1M807 727.1h1M971 946.6h2M374 1325.7h3M817 1345.7h1M465 1385.6h3M191 1405.5h1"/>
<path stroke="#550055" stroke-width="20.2" d="M566 88.6h9m11 0h2m172 0h3m55 0h4M303 128.5h3m243 0h4m41 0h4m44 0h3m254 0h2m37 0h2M591 148.4h2m54 0h2m80 0h3m60 0h2M251 188.3h3m42 0h3m222 0h2m222 0h3m109 0h3m74 0h3m4 0h2m19 0h4M401 228.3h2m47 0h1m240 0h4m55 0h4m9 0h2m78 0h2m3 0h3M664 248.2h3M260 268.2h3m22 0h3m29 0h1m76 0h1m41 0h3m44 0h4m3 0h3m6 0h3m83 0h3m19 0h2m21 0h3m118 0h1m87 0h3m65 0h4M165 308.1h3m56 0h3m85 0h3m177 0h3m83 0h3m6 0h3m150 0h2M324 348h1m163 0h4m36 0h2m136 0h2m305 0h2M167 367.9h1m81 0h2m145 0h4m56 0h2m93 0h1m78 0h3m55 0h3m6 0h2m151 0h3m7 0h3m16 0h9m7 0h1m2 0h2M305 407.8h3m189 0h4m171 0h3m147 0h1m12 0h3m2 0h2M155 447.7h2m71 0h4m138 0h1m61 0h3m110 0h2m101 0h4m64 0h2m61 0h3m66 0h2m22 0h4m7 0h4M246 467.7h4m27 0h2m66 0h3m118 0h2m7 0h1m304 0h4m69 0h2m121 0h4M152 487.7h2m53 0h3m9 0h2m60 0h3m77 0h1m51 0h3m228 0h3m160 0h3M173 507.6h2m72 0h3m61 0h2m166 0h3m273 0h2M222 527.6h3m124 0h2m40 0h4m37 0h5m27 0h2m196 0h2m44 0h3m142 0h2M839 547.5h1m35 0h3m12 0h3m83 0h3M732 567.5h3m75 0h3m25 0h2m2 0h3M201 587.4h2m16 0h2m20 0h1m142 0h4m30 0h2m87 0h3m18 0h4m40 0h3m13 0h3m14 0h3m74 0h4m21 0h3m121 0h2m125 0h3M159 607.4h4m16 0h4m108 0h3m3 0h3m30 0h3m97 0h4m430 0h3m43 0h1M247 627.3h4m31 0h1m65 0h2m58 0h4m12 0h3m312 0h3m126 0h2M162 647.3h2m17 0h3m214 0h2m91 0h3m311 0h2m9 0h3m43 0h4M178 707.1h2m47 0h2m25 0h2m51 0h4m44 0h3m2 0h2m7 0h1m2 0h3m27 0h1m35 0h3m33 0h2m68 0h3m103 0h2m24 0h3m94 0h1m7 0h3m73 0h2m52 0h1m22 0h2m24 0h3M229 727.1h3m59 0h2m147 0h2m59 0h4m44 0h2m69 0h2m37 0h4m121 0h3m59 0h3m14 0h4m25 0h1M186 747.1h3m49 0h4m9 0h2m14 0h3m82 0h3m7 0h2m6 0h1m440 0h3m17 0h3m2 0h2m51 0h2m37 0h3M246 767h2m98 0h2m5 0h3m150 0h2m130 0h2m183 0h3m138 0h2M182 787h3m109 0h2m35 0h4m5 0h4m18 0h2m141 0h3m50 0h2m26 0h3m323 0h3m58 0h3M205 846.8h4m7 0h4m93 0h2m31 0h3m111 0h1m30 0h4m37 0h1m26 0h2m328 0h4M636 906.7h2m4 0h1M169 926.6h4m82 0h2m51 0h4m92 0h2m61 0h4m31 0h3m40 0h2m28 0h2m10 0h4m43 0h2m23 0h7m51 0h1m10 0h3m3 0h3m46 0h2M552 946.6h3m42 0h2M191 966.5h3m111 0h3m37 0h5m66 0h2m304 0h2m11 0h3M619 986.5h2m170 0h4m49 0h1m1 0h2m124 0h4M563 1006.4h3m21 0h3m19 0h2m39 0h3m10 0h2m132 0h3M593 1026.4h3m4 0h3m209 0h2m15 0h2m76 0h5M250 1046.4h2m2 0h2m4 0h1m126 0h2m59 0h3m2 0h2m119 0h3m23 0h7m42 0h4m78 0h2m45 0h5M267 1086.3h1m15 0h1m148 0h2m110 0h2m135 0h3m66 0h6m80 0h2M232 1106.2h2m34 0h1m159 0h2m10 0h2m41 0h3m7 0h2m9 0h3m68 0h3m111 0h1m134 0h1m27 0h2M168 1126.2h2m67 0h2m53 0h3m5 0h2m33 0h3m10 0h2m17 0h5m44 0h2m202 0h4m4 0h4m2 0h2m128 0h2m52 0h3M542 1146.1h1m361 0h3M158 1166.1h3m78 0h4m42 0h2m89 0h1m177 0h3m19 0h3m112 0h1m8 0h2m140 0h3m3 0h1m10 0h2m11 0h2M862 1186h3m22 0h1M181 1206h3m191 0h2m35 0h3m5 0h1m15 0h3m55 0h2m71 0h4m18 0h3m27 0h2m108 0h3m73 0h4m1 0h2m30 0h2m46 0h3M158 1225.9h1m9 0h6m120 0h2m80 0h1m3 0h2m104 0h1m205 0h2m29 0h2m72 0h3m101 0h3M157 1245.9h2m21 0h1m41 0h1m40 0h2m4 0h4m24 0h1m37 0h3m3 0h4m39 0h7m35 0h2m22 0h6m79 0h2m12 0h1m3 0h2m45 0h2m195 0h4m31 0h2m117 0h3M197 1265.8h3M162 1285.8h5m142 0h3m123 0h3m36 0h2m239 0h2m195 0h1m29 0h2M651 1305.8h4M189 1325.7h3m39 0h3m53 0h2m3 0h3m31 0h3m152 0h1m196 0h2m13 0h3m30 0h3m75 0h4m68 0h2m5 0h4m34 0h2M166 1345.7h2m239 0h2m4 0h2m35 0h3m106 0h2m75 0h3m143 0h3M238 1385.6h3m59 0h5m125 0h4m109 0h3m43 0h2m15 0h1m88 0h4m75 0h3m7 0h3m21 0h3m119 0h1M201 1405.5h3m177 0h2m9 0h4m93 0h4m68 0h2m2 0h1m36 0h2m3 0h4m36 0h3m80 0h2m47 0h5m37 0h1m8 0h4m92 0h3m11 0h2"/>
<path stroke="#551133" stroke-width="20.2" d="M528 168.4h3M602 348h1M562 387.9h2M802 427.8h1M945 567.5h1M273 667.2h1M347 866.8h1m85 0h4m196 0h1M682 906.7h1M458 1006.4h3M312 1026.4h1"/>
<path stroke="#551144" stroke-width="20.2" d="M906 168.4h3M625 248.2h3M195 467.7h1M933 547.5h1M725 567.5h1M380 607.4h1M393 627.3h1m301 0h3M725 926.6h3M619 1026.4h1m111 0h1M441 1285.8h1m26 0h1m223 0h2"/>
<path stroke="#551155" stroke-width="20.2" d="M776 467.7h1"/>
<path stroke="#552222" stroke-width="20.2" d="M223 108.5h2m587 0h1M392 168.4h2M790 188.3h3M282 248.2h2M681 348h1M585 387.9h4M187 407.8h1M423 447.7h2M906 507.6h1M661 587.4h2M789 607.4h3M774 627.3h1M502 747.1h1M410 767h3M662 787h1m82 0h1m211 0h1M199 866.8h1M443 906.7h2m58 0h1M284 946.6h2M425 1006.4h1m26 0h2M177 1026.4h2m84 0h1M632 1086.3h2M406 1206h1M432 1245.9h3"/>
<path stroke="#552233" stroke-width="20.2" d="M411 88.6h2m21 0h1m64 0h4m230 0h1m96 0h3M341 108.5h1m536 0h1m5 0h2M254 128.5h3m45 0h1m98 0h1m307 0h1m193 0h1M234 148.4h1m71 0h1m44 0h3m107 0h1M463 168.4h1m56 0h1m265 0h2m102 0h1M748 188.3h1M195 228.3h1m135 0h2m151 0h1m82 0h1m223 0h1M179 248.2h2m9 0h1m207 0h1m225 0h1m30 0h2M421 308.1h1m268 0h1m95 0h3M566 328h1M155 348h1m445 0h1m229 0h1m2 0h1M578 367.9h1M324 387.9h1m321 0h1m271 0h3M616 407.8h1M199 427.8h1m60 0h2m26 0h1m264 0h2m44 0h2m18 0h3m36 0h1m17 0h1m189 0h1m71 0h4m30 0h3M445 467.7h1m22 0h1m126 0h1m40 0h1m9 0h1m91 0h3m111 0h1m67 0h1m27 0h1M611 487.7h3m88 0h2M939 507.6h1M585 527.6h1m13 0h1M314 547.5h1M419 567.5h1m85 0h1m167 0h2M574 607.4h2m6 0h1m365 0h2M214 627.3h3m180 0h1m490 0h1M356 647.3h1M206 667.2h2m94 0h1m103 0h1m18 0h1m159 0h1m363 0h1M876 707.1h3M557 727.1h1m166 0h2M594 747.1h2M794 787h1m53 0h1M775 826.9h1M373 846.8h3m150 0h1m268 0h4M208 866.8h1m26 0h1m10 0h1m118 0h2m55 0h1m340 0h1m156 0h1M179 906.7h2m26 0h1m55 0h1m170 0h3m12 0h2m58 0h1m168 0h3m96 0h3M242 926.6h3m471 0h1M247 946.6h1m76 0h1m137 0h5m248 0h2m20 0h3m189 0h1M309 966.5h1m371 0h4M160 986.5h1m84 0h1m153 0h1m27 0h1m271 0h2m9 0h2m214 0h1M209 1006.4h1m63 0h1m154 0h1m88 0h2m171 0h1m156 0h2m49 0h2M169 1026.4h3m17 0h1m39 0h1m4 0h3m74 0h1m146 0h3m330 0h2m125 0h1m7 0h1m15 0h2M597 1046.4h1m98 0h1M269 1106.2h1M474 1206h1M773 1225.9h2M324 1285.8h4m425 0h2M699 1325.7h3m274 0h3M627 1405.5h1"/>
<path stroke="#552244" stroke-width="20.2" d="M315 108.5h2M438 248.2h2m190 0h3m168 0h3m118 0h1M395 348h4m493 0h1M672 367.9h2M451 427.8h3m112 0h1M911 567.5h1M275 667.2h1M529 747.1h3M557 767h1M294 926.6h1M591 1006.4h1M863 1206h1M508 1285.8h1m390 0h1"/>
<path stroke="#553311" stroke-width="20.2" d="M881 88.6h1M607 188.3h2M422 248.2h1M217 387.9h1M641 407.8h3M214 507.6h1m120 0h4m46 0h1M632 667.2h3M313 687.2h1M418 707.1h3m20 0h1M492 727.1h4M552 787h4M320 866.8h1m443 0h1M519 946.6h4m103 0h1M389 986.5h1m44 0h1M156 1086.3h3m554 0h1M558 1166.1h1M705 1186h1M780 1245.9h1M567 1265.8h1M486 1345.7h1m273 0h1M908 1405.5h4"/>
<path stroke="#553322" stroke-width="20.2" d="M303 88.6h3m191 0h1m367 0h4m101 0h1M301 108.5h3m17 0h1m44 0h3m13 0h4m137 0h4m448 0h1M233 128.5h1m442 0h3m21 0h1m97 0h1m59 0h1M163 148.4h1m6 0h1m6 0h1m3 0h1m407 0h2m219 0h1m52 0h3M274 168.4h3m130 0h4m98 0h3m304 0h3m54 0h1m99 0h1M339 188.3h3m138 0h1m61 0h4m49 0h1m365 0h1M196 228.3h2m271 0h1m484 0h1M219 248.2h1m90 0h3m286 0h1m184 0h3m163 0h1M275 268.2h1m46 0h2m27 0h2m239 0h1m174 0h3M289 308.1h4m25 0h2m114 0h3m58 0h2m69 0h3m6 0h3m330 0h2M545 348h1m95 0h3m12 0h4M573 367.9h1m301 0h1M321 387.9h1m46 0h1m110 0h4m90 0h3m31 0h1m2 0h1m193 0h4m166 0h1M951 407.8h1M184 427.8h1m590 0h1m95 0h2M196 447.7h2m449 0h1M327 467.7h4M206 487.7h1m135 0h1m180 0h1m90 0h2m145 0h1m121 0h2M581 507.6h3m21 0h2m113 0h1m1 0h1m15 0h3m64 0h1m114 0h1M559 587.4h1m7 0h1M620 607.4h3m26 0h3m38 0h1m93 0h3M560 627.3h1m387 0h2M641 647.3h3m197 0h1M260 667.2h1m108 0h3m212 0h1m135 0h1m231 0h3m18 0h1M573 707.1h1m23 0h1m28 0h2m211 0h1M351 727.1h4m11 0h1m260 0h1M685 747.1h3M360 767h1m321 0h3m104 0h1m2 0h2m148 0h1M275 787h3m57 0h2m43 0h1m13 0h1m481 0h1M788 826.9h1m12 0h3M360 846.8h2m194 0h1m141 0h2M267 866.8h1m505 0h1m49 0h3m114 0h2M886 886.7h1M152 906.7h2m29 0h3m6 0h2m9 0h1m29 0h1m81 0h3m100 0h1m98 0h1m319 0h2M159 946.6h3m169 0h1m33 0h1m130 0h1m49 0h1M213 966.5h1m239 0h1m240 0h1M158 986.5h1m259 0h1m261 0h4M392 1006.4h1m64 0h1M342 1026.4h1m89 0h4m56 0h3M267 1046.4h1m594 0h2M211 1086.3h2m268 0h2m6 0h4M220 1106.2h1m196 0h1m197 0h2m116 0h1m32 0h1m33 0h1m17 0h2m131 0h1M157 1126.2h1m62 0h1m119 0h1m160 0h2m97 0h1m52 0h2m172 0h2M174 1166.1h1m226 0h2m14 0h1M382 1225.9h1m78 0h1m27 0h1m269 0h1M221 1245.9h1m312 0h1m48 0h2m5 0h1m23 0h3m8 0h3m240 0h3m89 0h1M549 1285.8h1m77 0h3M209 1325.7h1m140 0h2m90 0h1m55 0h3m356 0h1M306 1345.7h1m19 0h3m15 0h4m13 0h4m94 0h1m43 0h1m20 0h3m271 0h1m21 0h3m9 0h1m30 0h2m76 0h3M259 1385.6h2m64 0h3m83 0h1m241 0h1m166 0h2m35 0h3m42 0h2M317 1405.5h1m35 0h1m48 0h1m55 0h2m114 0h2m327 0h1"/>
<path stroke="#553333" stroke-width="20.2" d="M836 88.6h3M402 128.5h1m364 0h1M247 148.4h3m1 0h2m18 0h1M846 188.3h1M595 228.3h2m188 0h1M498 248.2h2M387 328h2M810 348h2M328 447.7h1M601 487.7h4M748 527.6h1M394 567.5h1M647 647.3h3M642 667.2h1M371 866.8h2M643 906.7h1m283 0h2M189 986.5h2m704 0h3M882 1046.4h3M682 1106.2h2M658 1285.8h1M425 1345.7h2M950 1385.6h1M809 1405.5h1"/>
<path stroke="#554400" stroke-width="20.2" d="M423 228.3h1M559 647.3h3M743 707.1h1M169 787h4m347 0h1m89 0h1M603 1126.2h1M686 1146.1h1M757 1225.9h1"/>
<path stroke="#554411" stroke-width="20.2" d="M160 88.6h1M536 108.5h2m259 0h1M418 128.5h1m265 0h1M413 168.4h1m2 0h1M183 188.3h1m726 0h1m49 0h1M258 228.3h1m184 0h1M249 248.2h1M311 268.2h1m321 0h2m33 0h1m257 0h3M152 308.1h1m23 0h1m159 0h1m28 0h1m161 0h2m22 0h3m220 0h1M655 348h1m68 0h3M593 387.9h2M579 407.8h1m96 0h1M878 427.8h1M450 447.7h1M527 487.7h1m29 0h2m362 0h2M172 507.6h1m350 0h1M572 527.6h2M402 587.4h3m46 0h3m133 0h1m214 0h1M589 607.4h1M684 647.3h1M247 667.2h3m118 0h1m291 0h1M501 707.1h1m19 0h2m78 0h1m89 0h1m6 0h2m9 0h3m20 0h1m47 0h1m61 0h2M506 727.1h1m209 0h2m38 0h1m64 0h1m3 0h1m139 0h1M417 767h1m289 0h4m9 0h4m162 0h3m44 0h1M173 787h1m98 0h3m426 0h2m158 0h1m98 0h1M380 866.8h2m262 0h1m325 0h4M382 906.7h3m363 0h3M602 946.6h2m85 0h1m188 0h2M287 966.5h1M362 986.5h1m580 0h1M456 1006.4h1m6 0h1M541 1026.4h3M827 1066.3h1m56 0h2M327 1086.3h1m78 0h1m111 0h2m63 0h1m31 0h1m149 0h1m114 0h1m2 0h1m7 0h1M374 1106.2h1M239 1126.2h1m99 0h1m113 0h1m70 0h2m372 0h3M157 1166.1h1m234 0h1M207 1186h2m55 0h1m236 0h1m173 0h2M614 1225.9h1m125 0h1m23 0h1m132 0h1M160 1245.9h4m219 0h1m136 0h3m42 0h2m3 0h1m2 0h2m251 0h3M834 1265.8h1M561 1325.7h1m49 0h2m62 0h1M190 1345.7h1m10 0h1m309 0h1m87 0h3m18 0h1m21 0h1m166 0h1m76 0h2M313 1385.6h1m49 0h1m205 0h1m31 0h1m23 0h1m96 0h3m22 0h1M298 1405.5h1m55 0h2m143 0h1m20 0h1m184 0h1m60 0h3"/>
<path stroke="#554422" stroke-width="20.2" d="M778 108.5h3M248 128.5h1m154 0h1m13 0h1m5 0h1M502 168.4h1M619 188.3h1M597 248.2h1M691 268.2h2M910 308.1h3m15 0h1M701 348h1m211 0h1M232 507.6h3m492 0h1M741 587.4h1M175 667.2h1m349 0h1M301 767h1m186 0h3M561 787h1M172 866.8h1m358 0h1M367 906.7h4M784 966.5h1M361 1026.4h1m165 0h1M361 1086.3h3M459 1126.2h2m106 0h1M877 1166.1h2M512 1245.9h2m41 0h2m38 0h3M191 1345.7h1m447 0h1m129 0h1M311 1385.6h1m110 0h1"/>
<path stroke="#555500" stroke-width="20.2" d="M156 88.6h4m1 0h1m1 0h3m13 0h1m14 0h3m13 0h3m8 0h4m25 0h3m3 0h3m70 0h2m3 0h1m53 0h1m68 0h3m45 0h1m378 0h2m2 0h1m61 0h1m25 0h1M155 108.5h3m45 0h3m32 0h2m279 0h1M428 128.5h2M215 148.4h2m218 0h1M159 168.4h2m21 0h3m21 0h2m4 0h2m4 0h1m91 0h3m111 0h1m2 0h1m373 0h1m52 0h1M257 188.3h1m57 0h2m9 0h1m152 0h1m38 0h2m21 0h1m331 0h1m66 0h1M335 208.3h3m268 0h1m204 0h3m77 0h2M337 228.3h3m155 0h1m8 0h2m6 0h2m373 0h6M160 248.2h1m23 0h1m150 0h2m338 0h2m283 0h1M152 268.2h2m186 0h1m216 0h1m199 0h1m16 0h1m88 0h1m14 0h2m12 0h1M701 288.1h6m21 0h2m49 0h2m145 0h3M197 308.1h1m102 0h3m125 0h1m3 0h2m53 0h1m75 0h1m283 0h2M389 328h2m16 0h1m2 0h3m324 0h1m35 0h3m28 0h1M469 348h1m212 0h1m1 0h1m46 0h4m4 0h1m2 0h1m154 0h1M335 367.9h1m504 0h1M341 387.9h1m187 0h3m91 0h3m277 0h2m16 0h2M526 407.8h2M822 427.8h2m21 0h1m105 0h1M201 447.7h2m280 0h2m13 0h3m188 0h1m150 0h1m23 0h2M176 467.7h1m410 0h3m125 0h3m12 0h2M215 487.7h1m343 0h3m5 0h3m217 0h2M441 507.6h2m154 0h3M711 527.6h1M320 567.5h1m452 0h1M422 587.4h2m231 0h2M284 607.4h1m278 0h1m197 0h1m34 0h4m73 0h3M561 627.3h3m7 0h1m6 0h1m224 0h1m106 0h1m41 0h1M619 647.3h1m103 0h1M184 667.2h1m274 0h1m52 0h1m282 0h1M396 687.2h1m261 0h2m90 0h1M431 707.1h2m421 0h1M416 727.1h1m139 0h1m69 0h1m137 0h1M675 747.1h3m56 0h3m54 0h1M288 767h3m57 0h1m113 0h2m30 0h2m118 0h3m240 0h1m105 0h1M533 787h1m138 0h2m150 0h2M434 806.9h1m198 0h4M163 826.9h1m13 0h3m133 0h1m486 0h1m10 0h2m37 0h1m27 0h3M255 846.8h2m240 0h1m310 0h3m60 0h1M505 866.8h1m243 0h3m70 0h1m93 0h1m13 0h1M365 886.7h1m279 0h1m163 0h4m39 0h1m34 0h3M204 906.7h1m3 0h1m111 0h1m44 0h2m32 0h1m73 0h1m249 0h1m126 0h2m46 0h2m26 0h1M315 926.6h3m419 0h1m72 0h1m5 0h1m64 0h2m47 0h4m17 0h3M216 946.6h1m364 0h1m108 0h2m53 0h3m156 0h1M190 966.5h1m318 0h1M712 986.5h3m217 0h1M187 1006.4h1m228 0h1m44 0h1m80 0h2m151 0h4m76 0h2m129 0h1m55 0h1M243 1026.4h1m26 0h4m3 0h1m126 0h3m265 0h4m254 0h3M185 1046.4h1m55 0h1m176 0h1M524 1066.3h1m325 0h1M191 1086.3h1m63 0h1m218 0h2m130 0h2m2 0h1m116 0h1M208 1106.2h2m75 0h1m141 0h1m21 0h3m14 0h1m223 0h4m116 0h2m152 0h2M425 1126.2h1m48 0h1M788 1146.1h1M171 1166.1h1m276 0h1m135 0h1m196 0h1M575 1186h1m401 0h2M163 1206h4m294 0h1m58 0h1M500 1225.9h1m42 0h1M235 1245.9h1m65 0h3m72 0h1m404 0h1M902 1265.8h1M283 1285.8h2m518 0h1M576 1305.8h2m144 0h1m102 0h1M171 1325.7h1m101 0h2m172 0h3m41 0h1m66 0h2m79 0h1m51 0h1M182 1345.7h1m264 0h1m21 0h1m153 0h1m52 0h1m89 0h1M344 1365.6h2m304 0h1m72 0h1m54 0h1m7 0h2m85 0h1m104 0h2M191 1385.6h4m261 0h1m137 0h1m143 0h1M601 1405.5h1"/>
<path stroke="#555511" stroke-width="20.2" d="M739 148.4h2M277 188.3h2M581 348h1M449 427.8h1M417 487.7h1M562 1166.1h1m334 0h4M868 1225.9h1M784 1325.7h1M532 1345.7h1"/>
<path stroke="#660066" stroke-width="20.2" d="M561 148.4h4m269 0h2m71 0h4m62 0h2M487 268.2h3m23 0h2m197 0h1M364 308.1h1m189 0h3M301 348h2M884 407.8h3M246 447.7h3m13 0h1m356 0h3m168 0h3M434 487.7h1m263 0h1m99 0h3m10 0h3M157 507.6h3m127 0h3m255 0h2m176 0h3M417 527.6h3m91 0h3m150 0h2m274 0h3M396 547.5h3m69 0h3m48 0h4m56 0h2M537 707.1h2m163 0h1M451 727.1h2M251 787h1m129 0h4M664 946.6h4M202 1106.2h3m673 0h2M650 1126.2h2M225 1225.9h4M181 1245.9h4M177 1325.7h4m213 0h1m178 0h3m153 0h3m49 0h3M169 1345.7h3m7 0h1m161 0h3M658 1405.5h2m220 0h4m36 0h3"/>
<path stroke="#661144" stroke-width="20.2" d="M446 88.6h1m160 0h1M350 128.5h3M795 367.9h3M681 567.5h1M328 627.3h1M407 846.8h1M168 926.6h1M898 1026.4h2M529 1206h1M471 1285.8h3"/>
<path stroke="#661155" stroke-width="20.2" d="M751 88.6h1m29 0h1M657 248.2h3M903 367.9h1M234 467.7h1m129 0h4m273 0h1m66 0h4M245 547.5h1m492 0h1m209 0h1M840 567.5h1M283 607.4h1m207 0h3m23 0h1m4 0h1m157 0h1M217 627.3h3m68 0h3m56 0h1m34 0h1m108 0h3m343 0h1M334 846.8h1m140 0h1m147 0h1M495 926.6h3M558 986.5h2m108 0h1M916 1026.4h2M760 1046.4h2m74 0h1m133 0h2"/>
<path stroke="#662233" stroke-width="20.2" d="M809 108.5h3M216 128.5h1m234 0h1M475 168.4h1M208 228.3h1m336 0h2M568 248.2h2M457 308.1h1M157 387.9h2M687 427.8h1M570 487.7h3M177 846.8h1M917 926.6h3M183 1285.8h1m431 0h1"/>
<path stroke="#662244" stroke-width="20.2" d="M465 88.6h2m7 0h1m246 0h1M449 108.5h3M279 128.5h1m62 0h1m6 0h1m13 0h1m73 0h1m65 0h1m75 0h1m346 0h3M171 148.4h1m88 0h1m620 0h1M531 168.4h4m379 0h2m12 0h1M521 228.3h1m27 0h2M354 248.2h1m118 0h1m56 0h2m167 0h3M929 308.1h3M227 328h1m321 0h1M437 348h1m495 0h1M221 367.9h1m201 0h2m11 0h1m254 0h3M881 387.9h2M239 427.8h1m544 0h1M392 467.7h4m123 0h1m345 0h5m93 0h3M552 507.6h3M444 547.5h4m248 0h1m6 0h2m226 0h1m19 0h1M566 567.5h1m31 0h4m92 0h2m19 0h3M691 607.4h1m156 0h4M368 627.3h1M192 667.2h1m367 0h2m69 0h1m108 0h1m131 0h1m75 0h1M763 767h3M703 787h3M402 846.8h1m77 0h1m71 0h3m67 0h1m32 0h1m9 0h1m167 0h2m38 0h1M611 866.8h1M783 886.7h2M163 906.7h1m416 0h1m45 0h1m157 0h1M408 926.6h2m19 0h1m18 0h3m143 0h1m300 0h1M349 946.6h1m134 0h3M520 986.5h3m149 0h4M313 1006.4h1m77 0h1m20 0h1m364 0h3m31 0h1m13 0h1M325 1026.4h1m467 0h1M329 1046.4h1m10 0h3m568 0h1M380 1206h1m24 0h1m158 0h1m289 0h1M172 1285.8h2m68 0h1m171 0h1m72 0h2m339 0h1M803 1365.6h1m68 0h1"/>
<path stroke="#662255" stroke-width="20.2" d="M549 88.6h1M740 208.3h1M870 328h3M636 367.9h3M177 467.7h1m10 0h2M321 627.3h3m76 0h1M316 747.1h1m638 0h3M241 846.8h2m253 0h1m457 0h1M860 866.8h1M230 926.6h3M348 1046.4h1M184 1285.8h1"/>
<path stroke="#663322" stroke-width="20.2" d="M524 88.6h2M406 128.5h1m375 0h1M369 148.4h1m437 0h1M280 168.4h2m661 0h3M920 188.3h2M577 228.3h1M268 268.2h1M650 367.9h2m161 0h1M525 387.9h2m350 0h1M251 707.1h1M622 727.1h1m193 0h1M508 767h3M352 787h1m57 0h1M461 866.8h3m19 0h1M492 906.7h1m43 0h2m3 0h1M263 926.6h1M492 946.6h2M406 966.5h4M544 986.5h3M830 1006.4h1M870 1026.4h1M272 1106.2h1m31 0h1M490 1126.2h1M443 1166.1h4M756 1225.9h1M681 1325.7h1M734 1345.7h1M624 1365.6h1M462 1385.6h3"/>
<path stroke="#663333" stroke-width="20.2" d="M320 88.6h2m196 0h2m287 0h1M291 108.5h2m45 0h3m56 0h1m449 0h2m121 0h1M174 128.5h1m17 0h1m229 0h1m48 0h3m26 0h2m21 0h1m151 0h1m70 0h1m123 0h2M169 148.4h1m40 0h1m43 0h1m63 0h3m23 0h1m168 0h1M297 168.4h3m139 0h3m435 0h3M365 188.3h1M288 228.3h4m305 0h1m76 0h1M286 248.2h2m19 0h3m105 0h1m276 0h1m107 0h1m39 0h3M452 268.2h3M677 288.1h3m5 0h3M321 308.1h1m72 0h2m29 0h1m276 0h1m223 0h2M158 348h3m59 0h1m580 0h1M218 367.9h3m46 0h1M250 387.9h1m3 0h2m159 0h1m219 0h1M549 427.8h1m181 0h1m21 0h1M396 467.7h1m149 0h1m10 0h2m47 0h3M264 487.7h1M600 527.6h1M327 567.5h1m101 0h1m65 0h1m311 0h1m97 0h1M343 587.4h1M345 607.4h4m203 0h1m293 0h2m78 0h1M283 627.3h1m164 0h1m245 0h1M650 647.3h3m8 0h3M297 667.2h1m155 0h1m3 0h1m14 0h1m27 0h2m54 0h3M790 707.1h2M624 747.1h2M219 767h1m522 0h4M168 787h1m515 0h2m25 0h4m28 0h1M333 846.8h1m285 0h1M231 866.8h2m77 0h3m37 0h3m142 0h1m210 0h3m270 0h1M191 906.7h1m88 0h3m27 0h2m13 0h1m91 0h1m263 0h1m77 0h1M789 926.6h1m111 0h1m60 0h1M217 946.6h4m49 0h1m247 0h1m215 0h3m58 0h1m85 0h1M685 966.5h2M172 986.5h1m86 0h1m212 0h3m24 0h3m414 0h1M241 1006.4h3m64 0h5m91 0h3m11 0h1m7 0h1m5 0h2m65 0h2m20 0h1m304 0h1m117 0h2M347 1026.4h1m136 0h1m399 0h1M216 1046.4h1m211 0h1m318 0h1M382 1106.2h1M313 1126.2h1M190 1206h1m32 0h2m95 0h2m49 0h4m561 0h2M747 1225.9h1m222 0h1M195 1245.9h1m126 0h1m163 0h3M282 1345.7h3m422 0h1M866 1365.6h1M517 1385.6h3m14 0h2m309 0h1M965 1405.5h2"/>
<path stroke="#663344" stroke-width="20.2" d="M407 108.5h3M223 128.5h2M201 148.4h1M938 168.4h1M197 248.2h2M858 348h1M480 467.7h1M695 547.5h1M703 567.5h1M243 607.4h1M603 627.3h1M879 667.2h2M287 846.8h3M633 886.7h1m25 0h1M337 926.6h1M180 986.5h1M170 1006.4h3m291 0h3M773 1046.4h1"/>
<path stroke="#664411" stroke-width="20.2" d="M374 148.4h1M325 228.3h2m110 0h2M284 268.2h1M210 308.1h1m82 0h1m4 0h2m563 0h1M915 328h3M372 447.7h3M382 507.6h3M979 547.5h1M560 587.4h2M602 647.3h1M259 667.2h1m528 0h3M970 707.1h1M570 727.1h2M603 747.1h3M546 767h1M181 946.6h1M162 1106.2h3M442 1126.2h1M746 1166.1h1M768 1265.8h1M738 1305.8h1M479 1325.7h1m308 0h1M519 1345.7h4m274 0h1M691 1405.5h1"/>
<path stroke="#664422" stroke-width="20.2" d="M288 88.6h2m195 0h1m28 0h1M185 108.5h2m44 0h2m136 0h4m19 0h1m89 0h3m401 0h3M384 128.5h2m99 0h1m199 0h2M202 148.4h1m86 0h1m154 0h3m69 0h1M328 168.4h2m527 0h1M293 188.3h2m22 0h1m285 0h2m267 0h1M158 228.3h3m121 0h2m63 0h2m26 0h2m5 0h2m4 0h1m117 0h1m59 0h1m1 0h3m126 0h1m159 0h1m12 0h1M609 268.2h2m120 0h1m41 0h1m20 0h1M209 308.1h1m192 0h3m144 0h2m240 0h1m141 0h4M152 348h3m302 0h2m118 0h1m76 0h1m53 0h1m263 0h1M322 387.9h1m253 0h1m297 0h1M167 407.8h3m315 0h2M152 427.8h1m129 0h1m140 0h3m270 0h1m90 0h1m30 0h1m31 0h2M152 447.7h1m13 0h1m498 0h1m11 0h4M210 487.7h1m151 0h1m76 0h1m109 0h4m159 0h1m21 0h1m33 0h2M177 507.6h1m285 0h4m117 0h2m331 0h2M715 527.6h2m105 0h1M536 547.5h2M808 587.4h3m139 0h3M555 607.4h1m12 0h6m16 0h3m19 0h1m47 0h3M564 627.3h3m37 0h1M634 647.3h1M255 667.2h1m69 0h1m11 0h1m80 0h1m11 0h1m5 0h1m12 0h1m38 0h1m22 0h1m156 0h1m42 0h3M543 707.1h1m18 0h1m165 0h4m112 0h1m84 0h2M619 727.1h1m143 0h1m184 0h1M593 747.1h1M759 767h4M419 787h2m180 0h2m125 0h1m99 0h1m20 0h3m79 0h1M503 846.8h1m140 0h2m20 0h1m214 0h4M277 866.8h1m86 0h1m230 0h3m350 0h1M228 906.7h3m56 0h3m59 0h2m88 0h1m131 0h1M207 946.6h1m23 0h1m175 0h1m14 0h1m370 0h1m69 0h2M191 986.5h1m22 0h1m26 0h1m69 0h2M169 1006.4h1m18 0h1m488 0h2m210 0h2M244 1026.4h1m110 0h1m140 0h1m378 0h4M830 1046.4h1M437 1086.3h1m133 0h4m20 0h3m177 0h2m115 0h1M210 1106.2h3m85 0h2m229 0h3m75 0h1m354 0h2M402 1126.2h1m17 0h1M426 1166.1h1m163 0h2M691 1225.9h1M459 1245.9h3m70 0h2m227 0h1m84 0h4M565 1285.8h1m1 0h1m6 0h1m36 0h1m49 0h2M764 1305.8h3M333 1325.7h3m115 0h4m56 0h3m170 0h2M186 1345.7h2m468 0h3M236 1385.6h2m98 0h1m165 0h1m70 0h1m12 0h1m21 0h2m260 0h1m106 0h1M362 1405.5h3m129 0h2m28 0h1m106 0h4m74 0h1"/>
<path stroke="#664433" stroke-width="20.2" d="M246 88.6h4M546 168.4h1M778 228.3h1M157 248.2h3m336 0h1M402 348h1M206 387.9h3m200 0h2m227 0h1m223 0h1M405 427.8h1M543 527.6h2M939 866.8h1M254 946.6h2m417 0h3m152 0h1M526 986.5h2M403 1006.4h1m306 0h3M194 1026.4h1M822 1106.2h2M394 1126.2h1"/>
<path stroke="#665500" stroke-width="20.2" d="M948 447.7h1M494 1245.9h1M197 1305.8h1m673 0h2M406 1325.7h1"/>
<path stroke="#665511" stroke-width="20.2" d="M863 88.6h1M178 108.5h2m127 0h3m86 0h1m455 0h2M526 128.5h2m163 0h4M875 148.4h3m66 0h2M414 168.4h2m92 0h1m283 0h1M270 188.3h1m61 0h1m11 0h1m212 0h1m102 0h1m132 0h1M537 228.3h1M578 248.2h1M170 268.2h1m92 0h2m29 0h4m65 0h1m478 0h1M161 308.1h1m143 0h1m41 0h1m225 0h1M825 348h1m4 0h1m118 0h1M369 387.9h1m535 0h1M250 407.8h1m201 0h3m177 0h1m157 0h1m125 0h1M311 447.7h1m148 0h2m46 0h3m328 0h1M458 487.7h1m31 0h1m239 0h4m197 0h1M244 507.6h1m5 0h3m8 0h1m142 0h1m32 0h1M565 587.4h2m90 0h4m11 0h1m86 0h4m139 0h3M635 627.3h4M838 647.3h1M380 667.2h3m236 0h3m74 0h3m107 0h1m21 0h1M951 687.2h1M744 707.1h1M665 727.1h1m125 0h1M549 767h1m75 0h1m265 0h1m38 0h1M240 787h2m318 0h1m15 0h2m248 0h2m44 0h3M216 866.8h3m575 0h3M234 906.7h1m106 0h1m379 0h1M790 926.6h1M585 946.6h1M253 966.5h2m208 0h1m301 0h1m148 0h1M321 1006.4h3M172 1066.3h1m104 0h1m244 0h1M196 1086.3h1m119 0h2m348 0h1m303 0h1M360 1106.2h1m97 0h8m68 0h3M411 1126.2h4m89 0h4m281 0h3m156 0h1M395 1146.1h4m4 0h2M287 1166.1h3m636 0h1M219 1225.9h1m188 0h3M199 1245.9h3m90 0h1m45 0h2m141 0h2m23 0h2M410 1265.8h1M309 1325.7h1m208 0h1m161 0h1m81 0h1M316 1345.7h1m71 0h3m228 0h1m77 0h1m178 0h1m33 0h1m52 0h2M168 1385.6h1m127 0h4m339 0h1M183 1405.5h1m115 0h1m96 0h1"/>
<path stroke="#665522" stroke-width="20.2" d="M857 88.6h3M448 108.5h1M370 148.4h4M223 188.3h1m272 0h3M330 228.3h1m285 0h1M200 308.1h1M862 407.8h3m45 0h1M911 427.8h3M288 487.7h2m302 0h4M436 507.6h1m446 0h2M424 607.4h1M620 647.3h4M747 667.2h1M382 707.1h1M534 866.8h1m73 0h1M533 906.7h1M237 1026.4h1M440 1066.3h3M857 1086.3h1M916 1186h3M667 1285.8h2M765 1385.6h1"/>
<path stroke="#666600" stroke-width="20.2" d="M162 88.6h1m12 0h2m3 0h2m3 0h3m2 0h4m5 0h4m22 0h2m35 0h3m94 0h4m123 0h3m9 0h1M173 108.5h3m18 0h2m26 0h1m10 0h2m9 0h4m83 0h3m26 0h1m38 0h1m29 0h1m84 0h1m326 0h3m132 0h3M161 128.5h1m1 0h1m82 0h2m58 0h1m131 0h1m45 0h1m344 0h1m56 0h3M180 148.4h1m19 0h1m86 0h2m600 0h1M188 168.4h1m11 0h3m42 0h1m1 0h3m12 0h1m31 0h3m83 0h3m3 0h1m10 0h1m22 0h1m30 0h1m42 0h2m304 0h1m48 0h3m22 0h1m45 0h1m10 0h1m46 0h2M320 188.3h1m24 0h1m443 0h1m161 0h1M220 208.3h1m59 0h3m9 0h2m2 0h2m42 0h3m105 0h1m123 0h2m7 0h1m222 0h1m15 0h1m106 0h1M507 228.3h3m20 0h1m434 0h1M324 248.2h2m23 0h3m422 0h1M214 268.2h1m138 0h1m426 0h3m86 0h3M741 288.1h1M429 308.1h1m70 0h1m266 0h1m171 0h1M223 328h2m175 0h3m20 0h2m27 0h4m133 0h1m19 0h1m4 0h1m78 0h1m151 0h4m58 0h1m18 0h2m38 0h1M217 348h3m205 0h1m130 0h3m116 0h6m32 0h5m230 0h1M568 367.9h1m26 0h1M407 387.9h2m2 0h1m88 0h3m6 0h3m288 0h1m160 0h1M489 407.8h3m21 0h3m9 0h1m17 0h3m141 0h1m227 0h1M479 427.8h3m10 0h3m46 0h1M435 447.7h1m35 0h2m16 0h3m34 0h3M592 467.7h3m20 0h2m87 0h1m57 0h2M407 487.7h1m558 0h1M166 507.6h1m44 0h1m168 0h1m418 0h1m132 0h1m23 0h2M551 527.6h1m4 0h3M166 547.5h1M401 567.5h2m293 0h1m38 0h1m27 0h1M371 587.4h1m281 0h2m12 0h2M318 607.4h3m30 0h1m229 0h1m234 0h1m19 0h3M279 627.3h1m109 0h1m51 0h3m156 0h1m18 0h3m38 0h3m16 0h1M974 647.3h4M152 667.2h1m20 0h1m27 0h3m75 0h2m143 0h1m371 0h3M672 687.2h4m3 0h3M700 707.1h2m13 0h3m87 0h1M199 727.1h2m243 0h1m192 0h1m101 0h1m4 0h3m20 0h2M707 747.1h4m26 0h2M368 767h2m86 0h1m343 0h1m29 0h1M430 787h1m107 0h3m139 0h2m138 0h4m15 0h1m108 0h4M240 806.9h1M497 826.9h1m52 0h1m89 0h1m44 0h1m9 0h1M220 846.8h3m112 0h2m8 0h1m16 0h4m195 0h1m218 0h3m46 0h1M356 866.8h1m16 0h1m84 0h3m179 0h2m1 0h1m159 0h3m7 0h1m124 0h1M366 886.7h1m43 0h1m528 0h1M327 906.7h1m12 0h1m52 0h1m63 0h4m53 0h1m179 0h2m21 0h1m46 0h2m43 0h1M226 926.6h1m27 0h1m23 0h1m44 0h1m192 0h2m10 0h3m319 0h3M429 946.6h1m76 0h1m1 0h3m237 0h3m11 0h5m27 0h1M418 966.5h1m23 0h1m234 0h2m11 0h1m212 0h1m30 0h4M279 986.5h2m168 0h1m335 0h1m104 0h3M208 1006.4h1m147 0h1m94 0h1m411 0h2m67 0h3M401 1026.4h3m61 0h1m215 0h3m27 0h2m7 0h1m45 0h1M865 1046.4h3M338 1066.3h1m20 0h1m142 0h1m388 0h2M152 1086.3h1m380 0h1m44 0h1m381 0h1M375 1106.2h2m267 0h3m87 0h1M381 1126.2h3M232 1146.1h2m154 0h4m316 0h3m15 0h1m49 0h1m130 0h3M368 1166.1h3m86 0h1m105 0h1m72 0h1m270 0h2M370 1186h1M270 1206h1m110 0h1m130 0h4m126 0h2M218 1225.9h1m12 0h3m518 0h2m125 0h1M350 1245.9h4m84 0h1m44 0h1m1 0h1m18 0h2m24 0h2m20 0h1m161 0h3m179 0h2m46 0h2M239 1285.8h3m348 0h1m60 0h3M323 1305.8h2m625 0h2m4 0h3M233 1345.7h1m21 0h4m40 0h1m393 0h3m40 0h1m20 0h2m129 0h1m64 0h3M305 1365.6h2m9 0h4m43 0h4m100 0h1m69 0h1m33 0h1m1 0h1m403 0h1M365 1385.6h1m163 0h1m40 0h3m53 0h1M527 1405.5h3m9 0h1m374 0h1"/>
<path stroke="#666611" stroke-width="20.2" d="M505 188.3h2M674 387.9h2M974 447.7h1M448 507.6h3m427 0h1M930 1066.3h1M455 1086.3h1M971 1225.9h4M684 1345.7h1M364 1385.6h1"/>
<path stroke="#770077" stroke-width="20.2" d="M363 88.6h2m117 0h3M773 108.5h1M257 128.5h4m164 0h3m53 0h3m20 0h3m255 0h3m25 0h3m13 0h3m10 0h2M164 148.4h4m54 0h3m37 0h3m8 0h3m141 0h3M465 168.4h3m28 0h3m37 0h4m327 0h3m82 0h2M172 228.3h3m41 0h3m33 0h2m81 0h2m162 0h2m21 0h3m3 0h2m271 0h2M247 248.2h2m163 0h2m22 0h2m11 0h4m357 0h3m9 0h4m26 0h3m10 0h2M393 308.1h1m71 0h2M376 328h1M199 348h2m39 0h2m198 0h2m17 0h1m104 0h4m217 0h2m29 0h4m23 0h2M236 387.9h2m48 0h3m162 0h4m28 0h2m96 0h2m140 0h3m5 0h4m178 0h2m14 0h2m13 0h2M286 407.8h3M386 427.8h2m57 0h1m8 0h3m1 0h2m3 0h1m99 0h3m122 0h1m43 0h3m26 0h3m103 0h1m40 0h3m8 0h2m5 0h2m16 0h2m6 0h2m17 0h1M571 507.6h3M553 527.6h3M217 547.5h2m22 0h2m39 0h2m27 0h3m1 0h3m9 0h4m4 0h2m18 0h2m11 0h3m18 0h3m45 0h4m11 0h1m38 0h3m10 0h6M228 567.5h3m8 0h2m20 0h4m56 0h3m75 0h2m2 0h3m108 0h3m62 0h1m32 0h3M665 587.4h2M624 647.3h1M162 667.2h2m16 0h4m5 0h3m16 0h1m44 0h2m234 0h3m21 0h4m12 0h2m60 0h2m34 0h2m172 0h2m79 0h3M594 767h4M327 787h4m420 0h2m14 0h1m5 0h2m162 0h1M658 826.9h2M789 846.8h2M155 866.8h3m145 0h4m25 0h3m6 0h3m13 0h3m15 0h2m310 0h2m6 0h3m58 0h3m68 0h2m40 0h3m84 0h3M558 886.7h2M254 906.7h2m89 0h2m510 0h1M827 926.6h3m35 0h4M168 946.6h3m79 0h1m62 0h2m139 0h3m3 0h2m28 0h2m184 0h3m32 0h3m247 0h2M695 966.5h3M166 986.5h3m119 0h2m6 0h2m148 0h2m89 0h2m346 0h3M160 1006.4h1m70 0h4m101 0h1m31 0h2m158 0h4M175 1026.4h2m33 0h3m25 0h2m35 0h2m9 0h2m55 0h2m17 0h2m140 0h2m10 0h2M352 1166.1h1M606 1285.8h3m34 0h2M155 1365.6h4m680 0h2M929 1385.6h1"/>
<path stroke="#771155" stroke-width="20.2" d="M839 88.6h1M397 328h1m451 0h3M713 607.4h1M341 747.1h1M335 1206h1m285 0h1M734 1285.8h2"/>
<path stroke="#771166" stroke-width="20.2" d="M413 208.3h1M600 547.5h1M666 1365.6h1"/>
<path stroke="#771177" stroke-width="20.2" d="M720 208.3h1"/>
<path stroke="#772244" stroke-width="20.2" d="M189 367.9h3M485 467.7h1M952 507.6h4M451 547.5h1M688 607.4h1M210 627.3h1m573 0h3M898 747.1h1M425 926.6h1M610 1046.4h3M637 1206h3M177 1285.8h2m230 0h2m101 0h1"/>
<path stroke="#772255" stroke-width="20.2" d="M817 88.6h1m9 0h1M362 128.5h1M765 208.3h1M334 288.1h1m601 0h4M318 367.9h1m102 0h1m3 0h1m163 0h1m84 0h4m138 0h1M229 467.7h1m195 0h4m113 0h1m262 0h1M578 547.5h1M672 567.5h1m38 0h1M355 607.4h1M155 627.3h4m212 0h1m131 0h4m269 0h3m17 0h1M533 806.9h1M619 826.9h4M230 846.8h1m203 0h1m260 0h2m36 0h1m136 0h1M575 866.8h2M637 886.7h1M191 926.6h1m70 0h1m140 0h1m129 0h1m40 0h1M903 1026.4h3M470 1206h2M287 1285.8h2m74 0h3m76 0h2m458 0h1M218 1365.6h1m338 0h3m149 0h1m56 0h3m53 0h4m2 0h1"/>
<path stroke="#772266" stroke-width="20.2" d="M439 88.6h1M742 288.1h2M560 328h1M437 1365.6h1"/>
<path stroke="#773333" stroke-width="20.2" d="M304 108.5h1m522 0h3M175 128.5h1M483 188.3h3M223 228.3h1M463 348h1M598 387.9h3M183 427.8h1m48 0h3m103 0h1M472 607.4h1m359 0h1M978 627.3h2M267 667.2h3M521 767h1m326 0h3M824 906.7h3M507 926.6h1M251 946.6h2m196 0h3M864 1046.4h1M325 1325.7h1"/>
<path stroke="#773344" stroke-width="20.2" d="M470 88.6h1m345 0h1M941 108.5h2M180 128.5h1m359 0h1M193 148.4h1M473 208.3h1m457 0h1m2 0h3M510 228.3h1m67 0h1M526 248.2h3m361 0h3M469 308.1h1M303 328h1m164 0h3M693 348h1m61 0h2M278 367.9h1m109 0h3m67 0h1m199 0h2m106 0h1M167 387.9h3m769 0h1M766 427.8h1M410 467.7h1m208 0h3m20 0h4m61 0h1M406 547.5h1m282 0h3m76 0h2m13 0h3M524 567.5h5m183 0h1M220 607.4h3m62 0h2m153 0h1m2 0h4m120 0h1m249 0h2m120 0h1m30 0h1M180 627.3h1m82 0h1m416 0h3m133 0h3m22 0h1M721 667.2h2M541 747.1h1m315 0h2M813 826.9h1M180 846.8h1m114 0h1m25 0h1m65 0h2M389 866.8h2m77 0h1m198 0h1m91 0h1M656 886.7h2m122 0h3m92 0h1M407 906.7h1m30 0h1m68 0h1m64 0h1m221 0h1m3 0h1M273 926.6h1m56 0h1m21 0h3m78 0h1m72 0h1M941 946.6h1M337 986.5h1m42 0h2M178 1006.4h1m201 0h3m400 0h1m181 0h1M256 1026.4h1M160 1046.4h1m59 0h3m2 0h1m47 0h1m495 0h1m104 0h3M300 1106.2h1M225 1206h2m184 0h1m191 0h1M295 1285.8h1m35 0h1m44 0h1m112 0h2M604 1365.6h1"/>
<path stroke="#773355" stroke-width="20.2" d="M945 108.5h1M565 128.5h2M808 467.7h3m90 0h2M202 607.4h1M172 747.1h1m468 0h1M474 846.8h1M189 906.7h1M751 926.6h1M176 1206h1M260 1285.8h1"/>
<path stroke="#774422" stroke-width="20.2" d="M390 128.5h1M455 308.1h1m357 0h1M782 348h1m7 0h1M464 427.8h1m272 0h2M227 487.7h1m309 0h1M578 727.1h2m160 0h1M812 767h1M609 787h1M858 906.7h1m10 0h1M708 946.6h3M866 986.5h2M313 1026.4h1m93 0h2m91 0h4M236 1206h1m449 0h1M897 1325.7h2"/>
<path stroke="#774433" stroke-width="20.2" d="M372 88.6h3m22 0h1m187 0h1m134 0h1m13 0h1m143 0h3M169 108.5h2m694 0h2M204 128.5h3m139 0h3m503 0h1m4 0h1m6 0h1M327 148.4h1m114 0h2M512 168.4h2m290 0h2m76 0h3M909 188.3h1M604 228.3h1M176 248.2h3m73 0h1m323 0h2m383 0h3M680 288.1h1m7 0h2m254 0h2M443 308.1h3m496 0h1M403 328h4m20 0h3m28 0h3M264 348h1m115 0h3m47 0h1m439 0h3m5 0h1m6 0h2M435 367.9h1m173 0h1M788 387.9h1M911 407.8h1M358 427.8h1m72 0h1m125 0h1m321 0h4M263 467.7h1m118 0h1m315 0h1M567 507.6h1M559 527.6h1M734 547.5h4M302 607.4h1m220 0h1m61 0h1m155 0h1M646 627.3h3m2 0h2m137 0h1m128 0h1m46 0h1M153 667.2h1m34 0h1m245 0h1m2 0h1m41 0h4m37 0h1m30 0h5m24 0h1m80 0h3m210 0h1M688 707.1h3M310 727.1h2m385 0h3M503 747.1h1m48 0h1m257 0h1m23 0h1M672 767h2m72 0h3M418 787h1m301 0h1m68 0h1m3 0h1m140 0h1M541 826.9h1m262 0h4m68 0h2M250 846.8h2m189 0h2m42 0h1m76 0h2m205 0h1m31 0h3m158 0h1M191 866.8h2m251 0h3m51 0h1m3 0h3m44 0h4m96 0h1m15 0h1m99 0h1m12 0h3M876 886.7h1M188 906.7h1m21 0h3m6 0h3m52 0h3m13 0h1m123 0h3m51 0h2m149 0h1m94 0h3m85 0h1m141 0h2m5 0h3M817 926.6h2m23 0h3m19 0h1m8 0h2M221 946.6h1m8 0h1m1 0h2m281 0h3m186 0h1m166 0h2M692 966.5h2m60 0h3m26 0h1M161 986.5h3m242 0h3m50 0h1m82 0h1m189 0h2m111 0h1M472 1006.4h1m9 0h1m234 0h1m56 0h1m109 0h3m90 0h3M257 1026.4h1m281 0h2m332 0h1m88 0h1M200 1046.4h1M276 1206h1m257 0h1m407 0h4M793 1225.9h1M254 1285.8h1m177 0h1m372 0h1m62 0h1M515 1345.7h1"/>
<path stroke="#774444" stroke-width="20.2" d="M611 228.3h2M549 348h4M468 367.9h1M560 547.5h3M241 567.5h1M971 667.2h2M591 846.8h4M302 866.8h1M505 926.6h1m403 0h1M173 986.5h1m592 0h1M954 1046.4h2M453 1206h1m102 0h1M159 1285.8h3m141 0h1"/>
<path stroke="#775511" stroke-width="20.2" d="M356 88.6h3m502 0h2M388 128.5h2M262 228.3h1M253 248.2h1M882 308.1h1M501 447.7h2M291 507.6h1m434 0h1M185 667.2h2M727 707.1h1M592 727.1h2M553 747.1h4M390 906.7h1M325 946.6h1m215 0h2M384 1006.4h2M352 1106.2h1M388 1126.2h4m215 0h1M567 1166.1h1M355 1245.9h1m231 0h3m69 0h3M863 1385.6h2M200 1405.5h1"/>
<path stroke="#775522" stroke-width="20.2" d="M322 88.6h4m67 0h1m132 0h1m359 0h2m83 0h1M348 108.5h2m4 0h4m42 0h1m114 0h2m364 0h3m88 0h3M210 128.5h1m194 0h1m27 0h1m57 0h1m10 0h1m187 0h1m19 0h3M235 148.4h2m649 0h2M229 168.4h3m23 0h4m54 0h2m207 0h1m1 0h1m249 0h1m37 0h1M241 188.3h1m126 0h1m60 0h1m5 0h1m207 0h1m195 0h2M209 228.3h1m332 0h3M570 248.2h4m21 0h2m75 0h1M474 268.2h1m118 0h4m164 0h2M399 308.1h3m329 0h1m2 0h2M441 328h2m18 0h4M705 348h3m141 0h1m19 0h1m37 0h3M694 367.9h3M292 387.9h2m342 0h2M422 407.8h1M498 427.8h2m239 0h4M197 487.7h2m91 0h3M538 507.6h1m140 0h1M596 527.6h1M684 547.5h1M578 567.5h1M913 587.4h1M609 607.4h1M658 627.3h2m5 0h1M398 667.2h1m43 0h1m3 0h1M448 707.1h1m13 0h1M484 727.1h3m208 0h2M168 767h2m2 0h2m102 0h1m355 0h2M321 787h1m460 0h3M796 826.9h4M320 846.8h1m279 0h1m89 0h1m92 0h3M234 866.8h1m163 0h1m304 0h1m29 0h1m48 0h3m83 0h1M186 906.7h1m37 0h1m24 0h2m87 0h2m54 0h1m292 0h3m49 0h1m50 0h1m25 0h1M542 926.6h1m401 0h2M158 946.6h1m289 0h1m236 0h1m159 0h1M703 966.5h1m198 0h1M284 986.5h2m410 0h3m27 0h1M202 1006.4h3m115 0h1m141 0h1M436 1026.4h4m35 0h1M369 1046.4h3m125 0h1M346 1066.3h1m584 0h1M541 1106.2h1M489 1126.2h1m298 0h1M694 1146.1h3M194 1166.1h1M699 1206h3M159 1225.9h3m715 0h1M579 1245.9h3m155 0h1m183 0h1m14 0h2M786 1285.8h1M507 1305.8h2M285 1325.7h1m164 0h1m338 0h1M358 1345.7h3m109 0h4m160 0h2m67 0h1m114 0h2m28 0h1M328 1385.6h1m343 0h2m139 0h1m16 0h1m81 0h1"/>
<path stroke="#775533" stroke-width="20.2" d="M348 88.6h2m510 0h1M792 108.5h1M380 128.5h1m484 0h1M932 348h1M186 407.8h1M457 427.8h1M909 487.7h1M496 567.5h1M246 607.4h1M970 627.3h1M664 667.2h1M715 787h2M321 906.7h4m524 0h1M731 986.5h1"/>
<path stroke="#776600" stroke-width="20.2" d="M514 447.7h2M929 1066.3h1M735 1245.9h1M963 1305.8h3"/>
<path stroke="#776611" stroke-width="20.2" d="M313 88.6h3m207 0h1M345 148.4h2M472 168.4h1M157 188.3h1m30 0h1m378 0h1M220 228.3h1M321 248.2h3m265 0h1M535 268.2h3M203 308.1h1m14 0h1m108 0h4m149 0h1m93 0h1m30 0h1M201 348h1m324 0h1M703 387.9h1M223 407.8h2M666 427.8h3m204 0h1M503 447.7h3M750 467.7h2M446 507.6h2m459 0h2M163 527.6h1m396 0h1M676 587.4h2M611 607.4h1M657 627.3h1M638 647.3h1m59 0h1M709 667.2h2M724 747.1h2M685 767h2M580 787h2m101 0h1m203 0h2m14 0h3M801 866.8h2M273 946.6h1m30 0h3M239 966.5h1M317 986.5h1M540 1006.4h1M292 1026.4h1m52 0h1m69 0h2m528 0h1M932 1066.3h4M414 1086.3h1m162 0h1M406 1126.2h1M561 1166.1h1M636 1245.9h2m30 0h1M168 1345.7h1m6 0h2m58 0h1m11 0h3m184 0h3m235 0h1m8 0h1m110 0h3m134 0h1m41 0h2M494 1385.6h1m51 0h1m141 0h2M518 1405.5h1m455 0h1"/>
<path stroke="#776622" stroke-width="20.2" d="M263 108.5h2M500 248.2h2M392 308.1h1m31 0h1m106 0h1M204 348h1M362 367.9h3M834 387.9h2M286 447.7h3m33 0h4M732 467.7h2M488 507.6h1M628 647.3h2M211 667.2h4M568 707.1h1M829 787h1M185 866.8h2m629 0h3M260 906.7h3m666 0h2M246 946.6h1M729 1225.9h1M630 1245.9h2M970 1365.6h2M305 1385.6h3m244 0h4m339 0h1"/>
<path stroke="#777700" stroke-width="20.2" d="M206 88.6h4m21 0h3m3 0h3m39 0h3m20 0h1m43 0h2m19 0h3m68 0h1m11 0h1m52 0h2m29 0h1m329 0h1M176 108.5h2m9 0h3m7 0h6m6 0h8m18 0h3m19 0h3m7 0h3m55 0h3m161 0h9m6 0h3m31 0h3m240 0h3m87 0h1M176 128.5h3m55 0h2m199 0h2m43 0h1m335 0h3m30 0h1m16 0h1m75 0h2M160 148.4h1m64 0h1m13 0h4m96 0h2m520 0h1m71 0h2M180 168.4h2m16 0h2m14 0h4m4 0h4m6 0h5m5 0h3m14 0h3m1 0h2m50 0h1m6 0h6m28 0h4m13 0h3m19 0h2m21 0h2m28 0h1m34 0h1m299 0h1m14 0h1m143 0h1M196 188.3h1m165 0h3m4 0h1m245 0h2M273 208.3h4m54 0h4m33 0h3m118 0h1m319 0h2M187 228.3h1m88 0h2m31 0h3m3 0h1m4 0h3m5 0h2m14 0h3m167 0h2m20 0h1m35 0h2m149 0h1m79 0h4M171 248.2h2m68 0h4m50 0h4m14 0h4m25 0h3m416 0h1m18 0h1m11 0h1m84 0h1M158 268.2h1m25 0h1m91 0h4m25 0h1m6 0h2m6 0h2m17 0h1m153 0h3m381 0h1M877 288.1h1M158 308.1h1m63 0h2m3 0h3m151 0h1m314 0h1m18 0h3m94 0h1m119 0h1M329 328h1m107 0h2m32 0h3m18 0h1m107 0h1m62 0h1m218 0h1m12 0h2M257 348h2m128 0h1m26 0h1m4 0h3m9 0h1m4 0h1m389 0h1m73 0h1M300 367.9h1M159 387.9h1m58 0h3m161 0h2m143 0h2m230 0h1m103 0h1M162 407.8h1m153 0h1m165 0h3m37 0h3m218 0h1m1 0h1m39 0h1m115 0h1m61 0h1M202 427.8h1m297 0h3m58 0h1m41 0h2m37 0h1m42 0h2m214 0h1M353 447.7h2m124 0h2m38 0h2m219 0h1m111 0h1m120 0h1M602 467.7h4m163 0h1M573 487.7h3m13 0h3m13 0h4m135 0h1m4 0h2m9 0h1m197 0h3M577 527.6h2M685 547.5h1m6 0h1m19 0h1m246 0h3M675 567.5h3m10 0h1m24 0h2m24 0h1M575 587.4h2m14 0h2m28 0h4m8 0h3m9 0h3m151 0h3M628 607.4h1m52 0h1M549 627.3h3m24 0h2m9 0h4m42 0h2m9 0h2m151 0h1m68 0h2M574 647.3h2m54 0h1m324 0h2M244 667.2h1m142 0h3m191 0h1m56 0h4m97 0h1m59 0h2m2 0h3m100 0h4m12 0h1M702 687.2h2M613 707.1h3m78 0h2m24 0h3m19 0h1m175 0h3M155 727.1h1m42 0h1m319 0h1m174 0h2m11 0h2m46 0h1m143 0h1M564 747.1h4M453 767h3m108 0h2m14 0h2m116 0h4M833 787h3M503 806.9h2m397 0h1M255 826.9h1m293 0h1m4 0h3m172 0h1m234 0h1m12 0h3M275 846.8h1m123 0h1m124 0h1m159 0h4m105 0h2m4 0h2M241 866.8h1m400 0h1m37 0h1m31 0h1m72 0h3m23 0h2m34 0h3m63 0h3M551 886.7h1M181 906.7h2m22 0h1m52 0h2m4 0h1m18 0h1m42 0h1m2 0h3m30 0h1m166 0h1m51 0h2m103 0h1m121 0h1m71 0h2M819 926.6h2m71 0h1m46 0h3M253 946.6h1m225 0h3m202 0h1m68 0h3m60 0h3m22 0h2m39 0h2m3 0h2M235 966.5h1m474 0h1M286 986.5h1m115 0h3m104 0h1m298 0h3M414 1006.4h2m6 0h3m250 0h2m29 0h4m133 0h2M221 1026.4h1m221 0h2m3 0h2m237 0h2m190 0h5M274 1046.4h3m428 0h1m5 0h4m222 0h2M751 1066.3h1m48 0h2m1 0h3m54 0h2m76 0h1M261 1086.3h1m217 0h2m57 0h1m27 0h1m32 0h3M172 1106.2h1m17 0h1m58 0h2M252 1126.2h2m149 0h2m28 0h3m16 0h1m12 0h1m13 0h3m93 0h1m328 0h3M898 1146.1h1m3 0h2m11 0h2M911 1166.1h3M415 1186h1M431 1206h1m22 0h1m160 0h1m49 0h1m80 0h3M259 1245.9h1m54 0h1m84 0h3m35 0h1m11 0h1m12 0h1m485 0h1M255 1285.8h1m67 0h1m68 0h3m106 0h1m101 0h3m8 0h1M613 1305.8h1m197 0h3m160 0h1M216 1325.7h1m393 0h1m114 0h1M368 1345.7h1m199 0h1m33 0h3m372 0h3M299 1365.6h1m15 0h1m104 0h1m130 0h1m264 0h3m18 0h2m77 0h1m57 0h3M276 1385.6h1m35 0h1m48 0h2m167 0h1m125 0h1m30 0h1M155 1405.5h1m723 0h1m11 0h2"/>
<path stroke="#777711" stroke-width="20.2" d="M899 1146.1h3"/>
<path stroke="#880088" stroke-width="20.2" d="M314 108.5h1M220 128.5h3M863 228.3h3M948 248.2h2M170 328h2m3 0h6m35 0h1m39 0h1m253 0h2m112 0h1m144 0h1m127 0h3m44 0h2M688 387.9h3m25 0h2m255 0h1M235 427.8h4m2 0h1M578 487.7h3M601 527.6h2M601 607.4h1M953 627.3h1M653 647.3h3M482 826.9h3m61 0h1m35 0h1m40 0h1m66 0h3m8 0h2m168 0h2m66 0h1M335 866.8h3m190 0h3m185 0h2m34 0h3M660 886.7h3M440 906.7h3m266 0h2M861 926.6h3M246 1006.4h3m65 0h3M298 1365.6h1m164 0h1m25 0h1m247 0h2m90 0h3m109 0h1"/>
<path stroke="#881166" stroke-width="20.2" d="M901 108.5h1M631 168.4h1m319 0h1M349 1365.6h1"/>
<path stroke="#881177" stroke-width="20.2" d="M284 288.1h1M887 328h3M913 806.9h1M515 1365.6h3m287 0h1"/>
<path stroke="#882255" stroke-width="20.2" d="M784 367.9h1M672 467.7h2M544 547.5h1m19 0h1M964 747.1h3M165 846.8h2M697 886.7h1"/>
<path stroke="#882266" stroke-width="20.2" d="M318 208.3h2m117 0h4m4 0h1M651 248.2h1M749 288.1h1m136 0h3M221 547.5h1m354 0h1M675 806.9h1M172 826.9h3m33 0h1m126 0h1m63 0h1m59 0h1m25 0h1m466 0h1M327 846.8h1M649 886.7h1m112 0h2M356 1206h1m51 0h1M193 1365.6h1m161 0h1m328 0h1"/>
<path stroke="#882277" stroke-width="20.2" d="M827 288.1h1M356 806.9h1"/>
<path stroke="#883344" stroke-width="20.2" d="M386 88.6h1M706 128.5h3M528 208.3h1M315 367.9h3m33 0h2M745 547.5h1M407 627.3h1M261 667.2h3M168 826.9h1M370 846.8h1M872 886.7h1M394 926.6h1m515 0h1M802 1006.4h1M520 1026.4h1M819 1365.6h3"/>
<path stroke="#883355" stroke-width="20.2" d="M475 88.6h1m359 0h1M916 288.1h1M493 328h1m58 0h1m31 0h1m14 0h1m348 0h1M427 367.9h2m30 0h2m186 0h1m76 0h3m93 0h4m111 0h3M174 467.7h1m78 0h1m121 0h2m256 0h3M610 547.5h1M201 607.4h1m292 0h1M255 627.3h2m262 0h1m226 0h1M926 747.1h2M632 826.9h1M178 846.8h2m444 0h5M597 906.7h4m7 0h1M466 926.6h1m12 0h4M753 1006.4h1m36 0h1m182 0h4M912 1026.4h1M281 1046.4h2M271 1206h3m141 0h1m41 0h1m209 0h1m22 0h3m56 0h1m44 0h1M681 1285.8h1m221 0h1M251 1365.6h1m245 0h1m121 0h1m108 0h4m41 0h2"/>
<path stroke="#883366" stroke-width="20.2" d="M780 208.3h1M448 806.9h3M581 1365.6h1"/>
<path stroke="#884433" stroke-width="20.2" d="M536 148.4h3M713 288.1h3M250 348h1M746 367.9h1m223 0h1M848 387.9h1M649 467.7h1M412 627.3h1M543 826.9h3M180 1026.4h1M431 1046.4h1M500 1285.8h1"/>
<path stroke="#884444" stroke-width="20.2" d="M464 88.6h1m2 0h3M440 108.5h1M320 128.5h1m37 0h1m250 0h1M412 168.4h1m439 0h2M199 248.2h1m282 0h4m289 0h1M474 328h2m134 0h1m1 0h2M700 387.9h3m1 0h2m78 0h1m18 0h1M754 427.8h1M171 467.7h3m1 0h1m401 0h1m72 0h1m186 0h2M589 507.6h4m3 0h1M392 547.5h1m178 0h1m370 0h1M303 567.5h1m477 0h2M550 607.4h2m140 0h1m13 0h1m20 0h1m131 0h3M892 627.3h1m15 0h2M156 667.2h2m608 0h1M532 747.1h1m109 0h2m143 0h1m54 0h1M153 846.8h3m2 0h2m207 0h3m273 0h1m53 0h1m12 0h3M802 886.7h3m61 0h2M251 906.7h1M382 926.6h2m403 0h2m3 0h2m30 0h3M767 986.5h1m105 0h2M549 1006.4h2m131 0h3m95 0h1m27 0h1m7 0h1M212 1046.4h1m48 0h1m281 0h3M198 1206h1m458 0h1m97 0h1m64 0h3m30 0h1M220 1285.8h2m271 0h3m439 0h4M974 1325.7h2M219 1365.6h2m431 0h1m64 0h1"/>
<path stroke="#884455" stroke-width="20.2" d="M926 108.5h1M734 208.3h1M520 467.7h4m175 0h3m204 0h2M482 547.5h1M674 846.8h1M596 906.7h1M483 926.6h2M196 986.5h1"/>
<path stroke="#885522" stroke-width="20.2" d="M420 88.6h1M468 128.5h3m262 0h2m26 0h1M341 148.4h1M743 268.2h1M681 308.1h2M267 387.9h4m669 0h1M914 507.6h1M596 547.5h1M389 567.5h2m570 0h3M570 627.3h1M819 667.2h1M970 727.1h1M652 747.1h1M583 846.8h1m47 0h1M653 866.8h1M206 906.7h1M796 1006.4h1M291 1245.9h1M345 1285.8h3m187 0h1"/>
<path stroke="#885533" stroke-width="20.2" d="M429 88.6h1m66 0h1M275 108.5h4m114 0h1m40 0h4m60 0h1m380 0h2M300 128.5h2m187 0h1m189 0h1M862 148.4h1M161 168.4h3M364 228.3h3m499 0h2M227 248.2h3M411 308.1h1m37 0h3m2 0h1m9 0h1m5 0h1M918 328h4M612 367.9h1M706 387.9h1m195 0h1M168 427.8h4m631 0h3m98 0h1M451 467.7h2m60 0h1m164 0h1m50 0h1m14 0h3M596 487.7h2M603 527.6h1M928 547.5h3m6 0h1M489 567.5h3M177 627.3h1m80 0h2m139 0h1m500 0h1M426 667.2h4m113 0h1m82 0h1M339 707.1h3M483 747.1h1m9 0h4m60 0h3m362 0h1M578 767h2m188 0h2M932 787h2M935 826.9h1M672 846.8h1m131 0h4m15 0h3M600 866.8h2m5 0h1m1 0h2m144 0h1M190 906.7h1m55 0h2m80 0h1m179 0h1m129 0h1m213 0h3M430 926.6h3m327 0h1M380 946.6h3m9 0h4M339 966.5h4m588 0h3M231 986.5h3m36 0h1m666 0h1M481 1006.4h1m11 0h1m244 0h2m109 0h1M726 1026.4h1m236 0h1M751 1046.4h2M489 1206h1m31 0h1m90 0h1m184 0h1m11 0h1M723 1245.9h1M152 1285.8h1m81 0h2m437 0h3M204 1365.6h1m433 0h1M758 1405.5h1"/>
<path stroke="#885544" stroke-width="20.2" d="M916 168.4h1M613 228.3h1M841 547.5h1M580 567.5h2M238 607.4h2M722 846.8h1M267 926.6h1m220 0h3M287 986.5h1"/>
<path stroke="#886611" stroke-width="20.2" d="M192 188.3h1m68 0h1M827 348h3M776 427.8h1M726 487.7h4M260 866.8h3m590 0h1m63 0h1M939 906.7h3M311 1245.9h3M979 1325.7h1M186 1385.6h1"/>
<path stroke="#886622" stroke-width="20.2" d="M271 88.6h1M310 108.5h3M200 128.5h1m190 0h1m58 0h1m221 0h3m38 0h4m134 0h1M226 148.4h3m8 0h1m247 0h1M417 168.4h1m85 0h1M176 188.3h4m101 0h2m296 0h3M205 248.2h1m61 0h4M280 268.2h1M195 308.1h2m183 0h1m98 0h1m424 0h1M448 328h3M193 348h1m33 0h1m206 0h2m366 0h3m83 0h1M154 367.9h1m466 0h1M513 387.9h2M282 407.8h1M428 427.8h1m60 0h3m124 0h1m207 0h1M485 447.7h1M681 467.7h3M565 487.7h2M167 507.6h1M561 527.6h2M154 607.4h1m325 0h1M556 627.3h1m34 0h1m24 0h1M164 667.2h1m116 0h1m130 0h4m3 0h1m515 0h2M256 707.1h3m261 0h1m143 0h2M161 727.1h1m471 0h4M692 747.1h1M728 767h2M690 787h2M162 846.8h1m4 0h1m316 0h1m129 0h1m173 0h1M620 866.8h3m61 0h1m106 0h3m27 0h1M209 906.7h1m93 0h4m125 0h1m289 0h1m52 0h1m109 0h1M534 926.6h1m340 0h1M244 946.6h2m21 0h1m60 0h3m29 0h1m463 0h2m8 0h4M187 986.5h1m270 0h1m56 0h1M182 1006.4h1m67 0h3m137 0h1m131 0h2m418 0h2M217 1026.4h2m29 0h3m85 0h3m19 0h1m5 0h1m35 0h1m87 0h1m37 0h1m347 0h1M689 1046.4h1M161 1106.2h1m295 0h1M393 1245.9h1m241 0h1m270 0h1M444 1285.8h3m121 0h1m56 0h2M936 1345.7h1M391 1385.6h4m62 0h1m129 0h1m66 0h1m123 0h1m28 0h1m33 0h1m98 0h1m37 0h2M521 1405.5h1"/>
<path stroke="#886633" stroke-width="20.2" d="M311 128.5h2m203 0h3M178 148.4h2M467 248.2h1M208 348h1m17 0h1m345 0h1M469 427.8h1M443 667.2h1m397 0h1M597 747.1h4M331 866.8h1m547 0h3M742 906.7h3M635 1385.6h4"/>
<path stroke="#887711" stroke-width="20.2" d="M735 128.5h1M304 248.2h3M683 308.1h1M585 348h1m29 0h2M494 367.9h3M714 687.2h2M417 707.1h1m256 0h2M812 906.7h2M870 1046.4h4M570 1086.3h1M583 1345.7h3"/>
<path stroke="#887722" stroke-width="20.2" d="M704 128.5h2m133 0h1M601 427.8h1M956 627.3h1M411 667.2h1M890 906.7h3M461 986.5h2M948 1285.8h2"/>
<path stroke="#888800" stroke-width="20.2" d="M197 88.6h2m19 0h3m13 0h3m38 0h2m5 0h6m82 0h2m3 0h2m32 0h1m105 0h1m358 0h2m6 0h2m91 0h1M158 108.5h1m5 0h2m25 0h1m4 0h1m45 0h2m16 0h3m16 0h4m10 0h1m40 0h4m20 0h2m29 0h3m6 0h1m3 0h1m35 0h2m39 0h1m27 0h7m16 0h4m8 0h5m251 0h1m17 0h3m51 0h1m18 0h4m38 0h1M184 128.5h2m113 0h1m132 0h1m1 0h1m51 0h1m35 0h1m53 0h3m271 0h1m18 0h1m5 0h1m97 0h4M190 148.4h3m4 0h1m58 0h1m52 0h2m149 0h1m62 0h1m11 0h1m332 0h3M172 168.4h4m74 0h5m12 0h3m12 0h3m56 0h2m7 0h3m18 0h2m18 0h1m31 0h1m121 0h1m251 0h1m33 0h2M173 188.3h1m125 0h2m73 0h1m194 0h1m309 0h1M286 208.3h1m28 0h3m30 0h3m22 0h3m10 0h1m37 0h1m144 0h3m223 0h2m57 0h1m3 0h1m73 0h2M263 228.3h2m217 0h2m51 0h1m40 0h1M317 248.2h4m16 0h2m16 0h2m9 0h4m40 0h1m135 0h1m313 0h1m9 0h3M254 268.2h1m14 0h1m36 0h1m59 0h4m396 0h1M538 288.1h2m141 0h4m22 0h6m92 0h1m37 0h2m84 0h2M194 308.1h1m80 0h1m55 0h1m76 0h3m292 0h3m207 0h1M217 328h2m176 0h2m17 0h2m5 0h2m11 0h3m49 0h1m63 0h1m31 0h2m10 0h1m77 0h1m44 0h1m182 0h2m33 0h3M171 348h1m404 0h1m123 0h1m156 0h1m1 0h3M429 367.9h3m40 0h3m99 0h1m152 0h1m91 0h1M495 387.9h2m350 0h1M201 407.8h3m58 0h1m270 0h3m1 0h2m7 0h1m392 0h1M240 427.8h1m1 0h1m201 0h1m78 0h2m17 0h2m48 0h2m216 0h1M185 447.7h1m308 0h2m29 0h1m6 0h3M450 467.7h1m181 0h1m62 0h1m24 0h3m232 0h2m3 0h3m3 0h1M692 487.7h1M219 507.6h1m4 0h2m2 0h2m26 0h2m307 0h2m239 0h1m144 0h1m6 0h1M943 527.6h2M726 567.5h3M583 587.4h4m32 0h1m7 0h3m6 0h4m73 0h3M264 607.4h1m414 0h1M273 627.3h1m89 0h4m288 0h2M660 647.3h1M166 667.2h1m57 0h3m71 0h1m326 0h1m28 0h1m279 0h1m25 0h2M676 687.2h3M577 707.1h2m107 0h2m132 0h2m118 0h1M172 727.1h3m157 0h1m109 0h2m61 0h1m172 0h4M539 747.1h2m37 0h3m8 0h2m18 0h2m91 0h2m24 0h3M352 767h1m198 0h2m32 0h2m18 0h1m96 0h2m2 0h1m32 0h2m8 0h1m193 0h2M817 787h3M308 806.9h3m80 0h3m181 0h2m184 0h1M332 826.9h1m107 0h1m80 0h3m45 0h1m25 0h3m222 0h1m127 0h4M229 846.8h1m64 0h1m47 0h3m362 0h1m78 0h2m23 0h1M247 866.8h1m2 0h1m119 0h1m110 0h2m16 0h3m84 0h1m69 0h3m122 0h1m8 0h1m74 0h1M164 886.7h4m49 0h1m72 0h1m98 0h4m241 0h1m16 0h1m127 0h1m5 0h3m10 0h4M243 906.7h3m86 0h4m360 0h1m133 0h2m27 0h1m8 0h1M257 926.6h1m159 0h2m167 0h1m159 0h2m13 0h1m34 0h1m72 0h3M248 946.6h2m163 0h1m109 0h1m148 0h1m25 0h3m39 0h3m76 0h2m10 0h3m4 0h2m3 0h2M659 966.5h1m281 0h3M272 986.5h4m87 0h1m18 0h1m22 0h1m69 0h1m227 0h4m48 0h1M249 1006.4h1m77 0h1m16 0h1m38 0h1m35 0h1m7 0h1m60 0h1m183 0h3m112 0h3m81 0h2m9 0h2M179 1026.4h1m135 0h1m10 0h1m24 0h1m28 0h2m65 0h1m244 0h3m164 0h3m27 0h3M239 1046.4h2m616 0h3m17 0h1M212 1066.3h1m665 0h6M153 1086.3h3m67 0h1m184 0h2m152 0h1M443 1106.2h1m134 0h1m56 0h1M242 1126.2h1m458 0h1m207 0h3M386 1146.1h2m174 0h3M404 1166.1h1m169 0h1m8 0h1m23 0h2m296 0h2M750 1206h1m9 0h3m85 0h3M365 1225.9h3m18 0h1m541 0h2m29 0h2M187 1245.9h1m48 0h1m367 0h2m6 0h1m70 0h1m206 0h1m8 0h1m38 0h3M190 1285.8h1m139 0h1m22 0h3M208 1345.7h3m61 0h4m47 0h3m22 0h1m27 0h1m218 0h1m49 0h1m115 0h1m127 0h1M152 1365.6h1m64 0h1m5 0h3m6 0h1m151 0h1m397 0h3m19 0h1m156 0h4M439 1385.6h1m5 0h1m39 0h1m17 0h1M322 1405.5h1m14 0h1m207 0h2m425 0h1"/>
<path stroke="#990099" stroke-width="20.2" d="M426 88.6h3m24 0h4m99 0h2m30 0h3m22 0h2m109 0h1m20 0h2m5 0h3m21 0h3m29 0h1m13 0h2m9 0h2m14 0h4m75 0h3m11 0h4M445 108.5h3m489 0h4M272 128.5h3m84 0h3m250 0h3m19 0h1m23 0h3m283 0h2M869 208.3h3M622 248.2h2m139 0h1m23 0h2M690 288.1h2M577 328h3m21 0h3M155 367.9h2m8 0h2m16 0h4m21 0h3m70 0h3m69 0h3m30 0h2m81 0h3m77 0h2m28 0h4m122 0h2m25 0h4m117 0h2M152 467.7h3m36 0h4m1 0h4m27 0h2m9 0h2m10 0h2m39 0h2m153 0h2m31 0h1m22 0h2m151 0h4m15 0h2m101 0h3m16 0h2m24 0h4m19 0h4m72 0h2m50 0h3M697 547.5h2m21 0h3m26 0h3m53 0h2m59 0h4m50 0h2m30 0h2m12 0h1M720 567.5h3m34 0h1m107 0h4m81 0h4m18 0h3M203 607.4h2m9 0h3m86 0h4m16 0h1m9 0h4m12 0h2m30 0h3m8 0h3m15 0h2m74 0h4m19 0h2m19 0h1m154 0h3m50 0h3m15 0h2m42 0h3m18 0h3m60 0h2m4 0h3m86 0h1M213 627.3h1m53 0h4m29 0h3m29 0h3m22 0h4m15 0h1m68 0h2m21 0h1m39 0h2m3 0h3m8 0h4m147 0h2m29 0h1m3 0h2m22 0h2m16 0h3m125 0h4m17 0h2m12 0h4m9 0h3m45 0h2M222 747.1h2m61 0h3m22 0h6m1 0h5m67 0h3m3 0h1m12 0h6m14 0h3m32 0h3m2 0h3m1 0h3m32 0h3m26 0h3m96 0h3m17 0h2m150 0h2m37 0h2m110 0h2M374 826.9h3m94 0h2M201 846.8h4m74 0h4m34 0h3m20 0h2m42 0h3m3 0h3m10 0h4m3 0h4m29 0h4m12 0h1m1 0h3m17 0h3m5 0h2m4 0h1m24 0h4m1 0h1m8 0h3m12 0h3m17 0h4m84 0h3m20 0h4m153 0h4m5 0h3m9 0h6m23 0h2m14 0h4m51 0h1M868 886.7h2m7 0h3M590 906.7h4m314 0h2m9 0h2M195 926.6h2m24 0h2m56 0h2m20 0h2m9 0h3m35 0h2m9 0h3m127 0h2m69 0h3m19 0h1m14 0h3m120 0h3m83 0h2m2 0h2m88 0h3M586 986.5h3m8 0h3m7 0h4m19 0h3m90 0h2m34 0h3m149 0h5m60 0h2M754 1006.4h3m6 0h3m37 0h2m148 0h3m4 0h2m1 0h2M558 1026.4h3m2 0h3m23 0h4m16 0h3m27 0h1m4 0h2m100 0h4m23 0h3m40 0h3m18 0h4m12 0h2m98 0h1m6 0h2M174 1046.4h1m3 0h4m56 0h1m74 0h3m81 0h1m4 0h2m13 0h1m1 0h2m72 0h2m21 0h3m3 0h4m30 0h3m73 0h2m7 0h2m20 0h2m21 0h3m8 0h2m3 0h3m5 0h1m17 0h3m11 0h2m75 0h3m18 0h2m71 0h4m47 0h3m12 0h1M230 1206h3m44 0h7m19 0h1m11 0h2m46 0h2m80 0h2m21 0h2m16 0h3m54 0h2m4 0h2m62 0h2m40 0h2m6 0h2m10 0h4m28 0h1m30 0h3m27 0h2m14 0h2m84 0h3M179 1285.8h1m66 0h5m28 0h2m18 0h2m11 0h2m101 0h2m21 0h3m45 0h1m16 0h2m12 0h2m3 0h3m20 0h2m215 0h3m46 0h3m33 0h1"/>
<path stroke="#991177" stroke-width="20.2" d="M221 886.7h2m329 0h4"/>
<path stroke="#991188" stroke-width="20.2" d="M355 208.3h4M250 288.1h1m577 0h1M209 806.9h1M179 886.7h4m330 0h4M653 1365.6h1"/>
<path stroke="#992266" stroke-width="20.2" d="M212 886.7h1"/>
<path stroke="#992277" stroke-width="20.2" d="M202 208.3h1m408 0h4m193 0h1M624 288.1h3m237 0h3m50 0h3M181 328h2m36 0h1m445 0h1M965 547.5h1M298 826.9h3m79 0h1m41 0h1m69 0h1m227 0h1M223 886.7h4m351 0h1M346 1365.6h1m318 0h1m177 0h1"/>
<path stroke="#993355" stroke-width="20.2" d="M418 208.3h1M530 328h1M523 547.5h3m226 0h3M516 627.3h1m346 0h3M439 806.9h1M372 846.8h1M629 986.5h1M846 1006.4h1"/>
<path stroke="#993366" stroke-width="20.2" d="M277 208.3h3m91 0h2m31 0h2m435 0h3M732 288.1h1m43 0h3M191 806.9h1m273 0h1m417 0h1m92 0h1M665 826.9h2m184 0h1M605 846.8h1m97 0h1M710 886.7h2m8 0h1M436 1046.4h3m471 0h1M233 1285.8h1m495 0h2M376 1365.6h1m9 0h2m16 0h4m88 0h1m151 0h2"/>
<path stroke="#993377" stroke-width="20.2" d="M918 108.5h1M600 208.3h1m29 0h2m185 0h1M838 288.1h2M320 826.9h1"/>
<path stroke="#994444" stroke-width="20.2" d="M313 208.3h2M569 367.9h1M795 467.7h1M502 826.9h1M223 846.8h3M230 1046.4h1M653 1206h1M585 1285.8h1"/>
<path stroke="#994455" stroke-width="20.2" d="M471 88.6h3M501 208.3h1M263 248.2h1M519 288.1h3M210 328h1m81 0h1m234 0h3m21 0h1m106 0h1m158 0h1m72 0h1M606 367.9h2m266 0h1M481 467.7h4m220 0h2M678 567.5h3m95 0h2m27 0h2m123 0h1M521 607.4h1m282 0h2M191 747.1h1m312 0h1M263 806.9h1M427 826.9h1m429 0h3M590 846.8h1m69 0h2m5 0h2m85 0h2M684 886.7h1M290 926.6h1m7 0h3M502 946.6h3M505 1365.6h1m184 0h1m19 0h2m254 0h1"/>
<path stroke="#994466" stroke-width="20.2" d="M311 467.7h2M483 547.5h1M667 986.5h1"/>
<path stroke="#995533" stroke-width="20.2" d="M425 88.6h1M257 228.3h1M224 248.2h1M439 328h2M172 348h1M687 367.9h1M576 487.7h2M701 607.4h1M857 886.7h3M403 906.7h1m389 0h1M192 926.6h3M421 1026.4h3m482 0h1M920 1046.4h1M763 1206h1"/>
<path stroke="#995544" stroke-width="20.2" d="M407 88.6h1m2 0h1m2 0h3m183 0h1M179 128.5h1m455 0h1m293 0h1M916 248.2h2M871 288.1h1M572 328h2m22 0h3m335 0h1M201 367.9h2m463 0h1M642 387.9h1M543 467.7h2m352 0h1m13 0h1M563 547.5h1m22 0h2m17 0h1M571 567.5h1M251 627.3h1m543 0h1m54 0h1m22 0h1M940 747.1h3M584 767h1M381 826.9h2m73 0h1m122 0h3M677 846.8h3m253 0h1M391 866.8h3M860 886.7h3m17 0h3M380 906.7h1M249 926.6h1m121 0h4m538 0h1M773 1006.4h1M177 1046.4h1m659 0h3M243 1206h1M208 1285.8h2m188 0h3m68 0h2m296 0h3m39 0h2M528 1365.6h1m138 0h1"/>
<path stroke="#995555" stroke-width="20.2" d="M673 288.1h2M602 886.7h1M490 1365.6h1"/>
<path stroke="#996622" stroke-width="20.2" d="M399 88.6h1M313 108.5h1M287 168.4h4M288 188.3h1M922 308.1h1M230 667.2h3M399 866.8h1M805 886.7h4M693 986.5h3"/>
<path stroke="#996633" stroke-width="20.2" d="M394 88.6h1m40 0h3m78 0h2m371 0h2M363 108.5h3m29 0h1m18 0h1M211 148.4h1m135 0h1M449 168.4h2M249 228.3h1M567 248.2h1M908 328h2M605 367.9h1m106 0h2m45 0h3m153 0h2M172 427.8h1m4 0h2m606 0h1M252 467.7h1m259 0h1m25 0h1M702 547.5h1M434 567.5h2M441 607.4h2m47 0h1m62 0h2M303 667.2h4m368 0h3M737 727.1h1M591 747.1h2M734 787h1M214 846.8h2m150 0h1m16 0h1m66 0h3M252 866.8h3m544 0h2M795 886.7h3M312 906.7h3m215 0h3m42 0h1m246 0h2M281 946.6h2m418 0h3m27 0h2m126 0h3m14 0h2M944 966.5h2M176 986.5h1m73 0h1M333 1006.4h3m155 0h2M152 1026.4h2m318 0h3m469 0h1M344 1206h1M238 1285.8h1m565 0h1M973 1345.7h4M663 1365.6h2M643 1385.6h2"/>
<path stroke="#996644" stroke-width="20.2" d="M211 427.8h3M773 627.3h1M851 946.6h3M654 1206h1m133 0h1M688 1365.6h1"/>
<path stroke="#997711" stroke-width="20.2" d="M593 507.6h3M639 647.3h2M808 826.9h3"/>
<path stroke="#997722" stroke-width="20.2" d="M340 88.6h2M464 108.5h1M198 148.4h1m227 0h1m100 0h1M462 168.4h1m435 0h1M227 228.3h1m42 0h2M183 248.2h1m91 0h1m585 0h1M411 348h3M597 367.9h1M503 427.8h4M514 467.7h1m442 0h3M693 567.5h1M965 607.4h2M399 667.2h1m495 0h4M700 727.1h1M203 866.8h3m518 0h2M830 926.6h3M878 986.5h3M860 1006.4h3M453 1026.4h4M189 1345.7h1M725 1385.6h1m96 0h4"/>
<path stroke="#997733" stroke-width="20.2" d="M479 846.8h1M659 1285.8h2"/>
<path stroke="#998811" stroke-width="20.2" d="M542 387.9h2M578 467.7h3M610 507.6h3M640 567.5h3M470 906.7h1M312 946.6h1m201 0h1M605 1086.3h1M736 1245.9h1"/>
<path stroke="#998822" stroke-width="20.2" d="M461 288.1h2M546 1026.4h1"/>
<path stroke="#999900" stroke-width="20.2" d="M152 88.6h4m47 0h3m92 0h2m35 0h3m143 0h1m260 0h1m66 0h3M159 108.5h2m5 0h3m37 0h3m8 0h2m33 0h1m67 0h1m96 0h1m36 0h1m44 0h2m26 0h3m296 0h1M364 128.5h1m2 0h1m27 0h1m50 0h1m45 0h1m360 0h2m115 0h3M173 148.4h1m69 0h1m28 0h1m41 0h2m139 0h3M152 168.4h7m5 0h3m2 0h3m18 0h8m39 0h2m7 0h1m23 0h2m13 0h2m22 0h1m20 0h2m4 0h3m4 0h4m22 0h2m14 0h1m102 0h1m288 0h3m1 0h2m50 0h4m92 0h2M189 188.3h1m111 0h2m87 0h2m556 0h1M271 208.3h2m10 0h1m14 0h2m38 0h2m11 0h4m64 0h2m74 0h1m13 0h1m311 0h1m11 0h1M198 228.3h1m74 0h3m24 0h4m12 0h2m24 0h2m8 0h4m14 0h3m183 0h1m409 0h1M284 248.2h2m13 0h3m72 0h3m37 0h1m358 0h1M154 268.2h1m163 0h2m489 0h1m58 0h1m7 0h1M700 288.1h1M191 308.1h1m27 0h3m103 0h1m188 0h2m305 0h1M416 328h3m24 0h3m19 0h2m88 0h2m139 0h3m223 0h1m10 0h1M391 348h1m62 0h3m35 0h1m82 0h1m24 0h1m280 0h3M827 367.9h1M420 387.9h3m10 0h4m48 0h3m3 0h4m17 0h1m4 0h3m81 0h3m237 0h1M502 407.8h3m6 0h2m15 0h3M406 427.8h1m11 0h2m105 0h2m83 0h3m12 0h1m152 0h3m25 0h4m67 0h1m101 0h1M492 447.7h2m375 0h3M567 467.7h4m10 0h2m120 0h1m31 0h3m21 0h3m87 0h1M304 487.7h1m111 0h1m199 0h1m333 0h2M226 507.6h1m347 0h2m10 0h3m13 0h3m8 0h4m186 0h2M552 527.6h1m410 0h4M463 547.5h1m222 0h1M464 567.5h1m15 0h1m125 0h3M482 607.4h1m140 0h3m6 0h2m4 0h2m25 0h2m283 0h2M257 627.3h1m243 0h1m55 0h1m162 0h1m80 0h1m2 0h3m143 0h2M625 647.3h2m4 0h3m46 0h2M174 667.2h1m41 0h1m241 0h1m223 0h4m18 0h2m10 0h2m11 0h1m8 0h1m70 0h4m124 0h1M700 687.2h2m11 0h1m61 0h3M163 707.1h3m96 0h1m35 0h1m294 0h1m78 0h2m32 0h3m24 0h1m25 0h1M393 727.1h1m148 0h3m163 0h3M165 747.1h1m321 0h1m113 0h2m128 0h3M653 767h1m25 0h2m9 0h2m2 0h2m28 0h4m5 0h3m146 0h1M355 787h1m255 0h1m87 0h2m5 0h3m49 0h4m182 0h2M720 806.9h1m99 0h1M390 826.9h4M156 846.8h1m135 0h2m222 0h4m337 0h1m9 0h2m57 0h2M170 866.8h2m54 0h1m3 0h1m47 0h1m37 0h1m180 0h1m14 0h1m159 0h1m280 0h3M245 886.7h1m462 0h2m116 0h3m92 0h1M307 906.7h3m117 0h1m3 0h1m40 0h1m287 0h2m44 0h1m35 0h5m84 0h3m8 0h2M271 926.6h1m162 0h3m81 0h1m83 0h1m208 0h1m46 0h3m73 0h2M431 946.6h2m318 0h2m109 0h1m4 0h2M929 966.5h1M302 986.5h2m215 0h1m23 0h1m320 0h2m2 0h3m12 0h2m48 0h1M156 1006.4h4m100 0h3m123 0h2m29 0h1m403 0h3m33 0h3M190 1026.4h1m22 0h3m152 0h1m20 0h3m286 0h3m8 0h1m5 0h3m15 0h4m145 0h2M343 1046.4h1m382 0h1m82 0h1m68 0h4m44 0h3m5 0h3M807 1066.3h1M557 1086.3h1m17 0h1m13 0h3M349 1106.2h3m137 0h1m107 0h2M153 1126.2h2m188 0h1m215 0h1m53 0h4m290 0h2M913 1146.1h2m2 0h3M252 1166.1h1m142 0h3m127 0h2m368 0h2M402 1206h1m171 0h1m356 0h2m6 0h3M194 1225.9h3m294 0h1m449 0h4M298 1245.9h3m207 0h1m177 0h2m108 0h1m22 0h2M264 1285.8h1m154 0h3m162 0h1m137 0h3M959 1305.8h2M234 1325.7h1m509 0h2m196 0h1m8 0h2M463 1345.7h1m98 0h1m42 0h2m18 0h1m239 0h2m95 0h1M186 1365.6h2m120 0h1m19 0h1m92 0h4m189 0h1m117 0h1m55 0h1m128 0h1m11 0h3m10 0h4M335 1385.6h1m48 0h1m88 0h3m20 0h2m241 0h2m181 0h1M416 1405.5h1m23 0h1m187 0h3m14 0h2"/>
<path stroke="#aa00aa" stroke-width="20.2" d="M383 88.6h3m37 0h2m399 0h2M593 108.5h3M591 128.5h3m22 0h1m13 0h3m18 0h3m241 0h2m51 0h3M871 148.4h4M654 168.4h2m10 0h2m31 0h2M411 208.3h2m39 0h2m85 0h3m145 0h4m4 0h4m136 0h2M366 288.1h4m142 0h4M157 367.9h2m215 0h2m226 0h3m343 0h3M168 467.7h3m265 0h3m183 0h2m174 0h1M679 547.5h2m126 0h2m94 0h3M709 567.5h2m74 0h3m146 0h2M437 607.4h3m353 0h3m66 0h2m24 0h2m14 0h3m9 0h1M197 627.3h2m140 0h3m137 0h2M178 747.1h2m53 0h2m7 0h2m124 0h2m512 0h3M737 806.9h4m147 0h4m78 0h3M228 826.9h3M355 846.8h2m155 0h2m127 0h2m98 0h3m86 0h3M393 886.7h2m418 0h1M948 906.7h3M152 926.6h2m110 0h1m77 0h2m66 0h3m206 0h2m15 0h3m13 0h1m32 0h3m53 0h3M568 986.5h3M734 1006.4h4M779 1026.4h4m58 0h4M286 1046.4h3m65 0h3m2 0h3m36 0h3m245 0h2m314 0h2M169 1206h1m171 0h3m47 0h3m61 0h2m151 0h4m21 0h3m176 0h2M222 1285.8h5m538 0h2"/>
<path stroke="#aa1188" stroke-width="20.2" d="M536 208.3h3M180 288.1h1M235 826.9h1m60 0h1"/>
<path stroke="#aa1199" stroke-width="20.2" d="M769 168.4h1M366 826.9h2"/>
<path stroke="#aa2277" stroke-width="20.2" d="M507 288.1h2M692 886.7h1m211 0h1m30 0h1"/>
<path stroke="#aa2288" stroke-width="20.2" d="M724 168.4h1M326 208.3h5m99 0h2m178 0h1m88 0h1M199 288.1h1m753 0h2M357 806.9h3m70 0h1M726 826.9h1m98 0h1M420 886.7h2m45 0h1M164 1365.6h2m158 0h1m255 0h1"/>
<path stroke="#aa2299" stroke-width="20.2" d="M164 826.9h1"/>
<path stroke="#aa3377" stroke-width="20.2" d="M681 88.6h1m274 0h1M610 168.4h3M363 208.3h1M182 288.1h2M295 328h4m19 0h1M277 806.9h1m89 0h3M250 826.9h1m23 0h1m122 0h1m65 0h1m298 0h1M398 886.7h3m191 0h2m35 0h1M228 1365.6h4m37 0h2m36 0h1m21 0h3m53 0h1m32 0h2"/>
<path stroke="#aa3388" stroke-width="20.2" d="M512 886.7h1"/>
<path stroke="#aa4455" stroke-width="20.2" d="M296 846.8h3M203 1365.6h1"/>
<path stroke="#aa4466" stroke-width="20.2" d="M723 108.5h1M353 128.5h1M903 168.4h2M196 208.3h3m57 0h1m2 0h2m164 0h2m72 0h2m259 0h1m73 0h1m49 0h1M611 328h1m87 0h2m121 0h4M602 547.5h3M214 806.9h3m146 0h1m131 0h1m70 0h1m302 0h2M183 826.9h1m743 0h6M869 846.8h1m105 0h1M345 886.7h3m124 0h1m199 0h1m25 0h2M172 1365.6h1m24 0h1m113 0h1m156 0h1m13 0h2m301 0h1"/>
<path stroke="#aa4477" stroke-width="20.2" d="M958 208.3h2M153 328h1M376 806.9h1m282 0h4"/>
<path stroke="#aa5544" stroke-width="20.2" d="M173 367.9h1M583 826.9h3M362 1285.8h1M791 1365.6h1"/>
<path stroke="#aa5555" stroke-width="20.2" d="M845 208.3h3M858 288.1h1M293 328h1m507 0h3M805 367.9h1M505 467.7h3M199 806.9h1M284 826.9h4m290 0h1m12 0h1M252 846.8h1m140 0h1m44 0h3m30 0h3M561 886.7h3M561 986.5h3M421 1046.4h1M153 1365.6h1"/>
<path stroke="#aa5566" stroke-width="20.2" d="M245 826.9h2M438 1365.6h2m405 0h3"/>
<path stroke="#aa6633" stroke-width="20.2" d="M487 427.8h2"/>
<path stroke="#aa6644" stroke-width="20.2" d="M848 88.6h1M439 148.4h3M909 168.4h1M403 348h1M695 427.8h1M524 467.7h4M806 607.4h1M241 627.3h3m667 0h4M813 667.2h1M484 747.1h1M846 787h1M534 806.9h1M184 826.9h1m401 0h2m166 0h1M243 846.8h1m412 0h1M832 866.8h1M829 1006.4h1m70 0h1M915 1026.4h1M251 1285.8h3M599 1365.6h2m38 0h1"/>
<path stroke="#aa6655" stroke-width="20.2" d="M835 747.1h1M930 846.8h3M191 1365.6h1m67 0h1m62 0h2m56 0h4m170 0h3m345 0h3"/>
<path stroke="#aa7722" stroke-width="20.2" d="M876 128.5h2M824 168.4h4m14 0h3M675 288.1h2M456 328h2M499 926.6h3M507 946.6h1"/>
<path stroke="#aa7733" stroke-width="20.2" d="M418 108.5h4M840 168.4h2M857 288.1h1M467 328h1M933 826.9h1M702 1026.4h2M792 1365.6h3"/>
<path stroke="#aa7744" stroke-width="20.2" d="M725 1365.6h1"/>
<path stroke="#aa8811" stroke-width="20.2" d="M857 1026.4h2"/>
<path stroke="#aa8822" stroke-width="20.2" d="M316 88.6h3M267 228.3h3M742 308.1h2M532 387.9h3M767 467.7h2M625 587.4h2M704 727.1h2M672 747.1h3m45 0h2M461 926.6h4M965 1285.8h2M970 1345.7h1"/>
<path stroke="#aa9911" stroke-width="20.2" d="M516 407.8h3"/>
<path stroke="#aa9922" stroke-width="20.2" d="M956 527.6h4"/>
<path stroke="#aaaa00" stroke-width="20.2" d="M170 88.6h1m42 0h2m12 0h4m13 0h2m13 0h2m11 0h3m185 0h1m415 0h2M161 108.5h3m26 0h1m1 0h2m25 0h3m100 0h2m56 0h2m12 0h1m64 0h2m5 0h1m67 0h2m283 0h2m1 0h4m19 0h2m7 0h1m12 0h3M189 128.5h1m35 0h4m171 0h1m302 0h1M178 168.4h2m23 0h3m2 0h4m14 0h3m89 0h2m74 0h1m60 0h1m71 0h1m278 0h3m4 0h1m7 0h3m21 0h4m36 0h2M273 188.3h3M268 208.3h3m37 0h2m56 0h2m47 0h1m52 0h1m178 0h3m276 0h1M272 228.3h1m11 0h4m24 0h3m3 0h2m36 0h2m261 0h1m241 0h2m12 0h4m85 0h1M237 248.2h1m33 0h4m211 0h1m433 0h2M337 268.2h2m19 0h1m252 0h1m163 0h2m157 0h1M177 288.1h3m234 0h2m457 0h3m13 0h1M235 308.1h1m220 0h1m72 0h1m39 0h1m127 0h1m3 0h1m12 0h1m103 0h1m43 0h1m40 0h1M391 328h4m24 0h2m9 0h4m260 0h1m38 0h1m97 0h1m80 0h3m50 0h1M506 348h1m96 0h1m283 0h1M497 367.9h2m10 0h3m6 0h3M472 387.9h1m17 0h1m12 0h3m32 0h2m55 0h3M411 407.8h1m11 0h3m53 0h3m19 0h1m34 0h1m122 0h1m56 0h1m216 0h1M368 427.8h1m14 0h3m96 0h4m31 0h3m17 0h4m276 0h1M310 447.7h1m175 0h3m32 0h4m328 0h1M254 467.7h4m114 0h1m96 0h1m30 0h2m63 0h2m46 0h2m319 0h1M581 487.7h3M193 507.6h2m210 0h1m153 0h2m149 0h3m52 0h1M597 527.6h2M418 547.5h1m68 0h1m42 0h1m77 0h2m29 0h5m318 0h3M385 567.5h1m117 0h1m68 0h3m46 0h2m3 0h2M415 587.4h1m179 0h1m106 0h3M481 607.4h1m137 0h1m36 0h4m3 0h2m147 0h1m143 0h4M507 627.3h1m61 0h1m58 0h3m220 0h1M598 647.3h1m38 0h1M285 667.2h2m99 0h1m220 0h3m49 0h1m12 0h3m11 0h7m8 0h3m2 0h3m48 0h3m27 0h1m133 0h1M682 687.2h6m61 0h1m8 0h1M387 707.1h1m36 0h1M254 727.1h1m322 0h1m104 0h2M549 747.1h3m107 0h4m59 0h2m25 0h2m18 0h1M731 767h2m3 0h3m66 0h1M677 787h3m2 0h1m38 0h1m20 0h1m119 0h1m12 0h1M781 806.9h2M152 826.9h1m90 0h2m63 0h1m80 0h1m4 0h1m539 0h1M196 846.8h1m29 0h1m27 0h1m12 0h3m119 0h1m31 0h4m159 0h3m186 0h4m157 0h1M197 866.8h2m34 0h1m66 0h2m22 0h2m89 0h3m78 0h1m232 0h4m41 0h2m12 0h2m74 0h1m38 0h1M364 886.7h1m262 0h1m148 0h3M235 906.7h4m45 0h3m217 0h1m37 0h1m187 0h1m20 0h4m32 0h1m29 0h1m21 0h3m5 0h2m88 0h2M585 926.6h1m122 0h2m111 0h3m9 0h3m2 0h4m94 0h1m26 0h1M173 946.6h5m5 0h2m341 0h1m203 0h1m12 0h2m14 0h3m107 0h2m71 0h3M179 966.5h2m135 0h2m412 0h1M367 986.5h1m6 0h1m26 0h1m81 0h1m11 0h1m104 0h1m83 0h3m170 0h4m20 0h2M259 1006.4h1m129 0h1m301 0h1m56 0h1m71 0h1m52 0h3m3 0h3m31 0h1M892 1026.4h1M372 1046.4h1m7 0h2m509 0h2m38 0h3M773 1066.3h2M221 1086.3h1m76 0h3m137 0h4m107 0h1m236 0h1m108 0h4M383 1106.2h3m509 0h3M152 1126.2h1m778 0h3M568 1146.1h3m339 0h3M161 1166.1h1M643 1186h3M209 1206h1m9 0h3m213 0h1M455 1225.9h1m478 0h7m4 0h1M340 1245.9h1m210 0h1m190 0h1m138 0h1m46 0h2M533 1265.8h1m414 0h3m7 0h1M569 1285.8h1m141 0h1m245 0h4M675 1305.8h1m221 0h3M391 1345.7h2m563 0h3M190 1365.6h1m58 0h2m166 0h1m142 0h1m90 0h1m247 0h3M482 1385.6h3m209 0h1m154 0h1M517 1405.5h1m284 0h4"/>
<path stroke="#bb00bb" stroke-width="20.2" d="M549 108.5h3m86 0h2m21 0h4m40 0h3m38 0h2m20 0h2M555 168.4h4m48 0h3m62 0h1m60 0h3m19 0h4m5 0h5M164 208.3h4m14 0h2m9 0h3m50 0h2m5 0h3m185 0h3m5 0h3m23 0h1m11 0h2m24 0h3m75 0h4m32 0h1m28 0h2m14 0h2m19 0h2m87 0h4m131 0h4M756 248.2h2M214 288.1h4m2 0h2m37 0h3m16 0h2m23 0h3m25 0h1m19 0h2m20 0h3m173 0h3m15 0h4m12 0h3m3 0h4m73 0h3m144 0h1m21 0h2m12 0h5M633 367.9h3M203 467.7h4m719 0h1M171 547.5h4m60 0h2m94 0h2m15 0h2m76 0h3m89 0h1m69 0h4M152 806.9h3m3 0h3m3 0h2m31 0h2m97 0h2m13 0h5m36 0h4m8 0h1m184 0h5m35 0h3m250 0h4m25 0h2m4 0h2m47 0h3m5 0h6M187 826.9h2m49 0h1m17 0h3m43 0h2m10 0h2m24 0h4m79 0h4m10 0h3m9 0h2m17 0h3m285 0h3m149 0h3m42 0h2m8 0h1M194 886.7h3m42 0h2m40 0h2m84 0h2m1 0h1m37 0h2m75 0h3m12 0h4m219 0h2m97 0h2m5 0h2m8 0h6m8 0h2m54 0h4m19 0h1m37 0h2m7 0h1M305 926.6h3M630 1046.4h2"/>
<path stroke="#bb11aa" stroke-width="20.2" d="M962 826.9h1M541 886.7h3"/>
<path stroke="#bb2288" stroke-width="20.2" d="M382 806.9h1"/>
<path stroke="#bb2299" stroke-width="20.2" d="M587 208.3h4m277 0h1M189 806.9h2m462 0h3M220 826.9h1m240 0h2M270 886.7h1"/>
<path stroke="#bb22aa" stroke-width="20.2" d="M864 806.9h1"/>
<path stroke="#bb3377" stroke-width="20.2" d="M586 208.3h1m194 0h1M156 826.9h2"/>
<path stroke="#bb3388" stroke-width="20.2" d="M692 168.4h1M582 208.3h1m207 0h1M542 288.1h1M788 328h2M385 806.9h4m234 0h1M162 826.9h1m37 0h1m151 0h3m508 0h1M275 886.7h1m93 0h1m169 0h1m88 0h1m107 0h2m202 0h1"/>
<path stroke="#bb3399" stroke-width="20.2" d="M406 208.3h1M657 288.1h2m122 0h1m55 0h1M865 806.9h1M664 886.7h3"/>
<path stroke="#bb4466" stroke-width="20.2" d="M152 208.3h1m66 0h1m70 0h2"/>
<path stroke="#bb4477" stroke-width="20.2" d="M714 108.5h1M866 208.3h1m11 0h3m7 0h3M778 328h1m7 0h2M641 806.9h3m85 0h1M239 826.9h1m27 0h1m396 0h1m33 0h2m244 0h1m20 0h2M163 886.7h1m527 0h1M264 1365.6h1m27 0h1m155 0h1m305 0h1m114 0h1m80 0h1m5 0h1"/>
<path stroke="#bb4488" stroke-width="20.2" d="M218 288.1h2M542 826.9h1"/>
<path stroke="#bb5555" stroke-width="20.2" d="M867 328h3"/>
<path stroke="#bb5566" stroke-width="20.2" d="M595 168.4h2M853 208.3h1M187 288.1h1m702 0h2M233 806.9h1M473 826.9h1m150 0h4M461 886.7h4M279 1365.6h2m291 0h1"/>
<path stroke="#bb5577" stroke-width="20.2" d="M872 208.3h3M375 886.7h1M518 1365.6h1"/>
<path stroke="#bb6644" stroke-width="20.2" d="M698 288.1h2M203 826.9h1"/>
<path stroke="#bb6655" stroke-width="20.2" d="M797 328h4M708 547.5h1M526 806.9h3M609 826.9h1M154 1365.6h1m292 0h1m5 0h1m50 0h1m20 0h3m85 0h1m161 0h3m102 0h2"/>
<path stroke="#bb6666" stroke-width="20.2" d="M635 328h1m28 0h1M647 1365.6h1"/>
<path stroke="#bb7744" stroke-width="20.2" d="M804 288.1h1M311 328h1M741 747.1h3"/>
<path stroke="#bb7755" stroke-width="20.2" d="M936 886.7h3"/>
<path stroke="#bb8833" stroke-width="20.2" d="M917 168.4h3"/>
<path stroke="#bb9911" stroke-width="20.2" d="M504 367.9h3"/>
<path stroke="#bb9922" stroke-width="20.2" d="M534 367.9h2M574 467.7h1"/>
<path stroke="#bbbb00" stroke-width="20.2" d="M267 88.6h4m38 0h4m40 0h3m52 0h1m97 0h3M287 108.5h4m166 0h2m13 0h1m357 0h2m4 0h5m23 0h1m86 0h2M264 128.5h1m139 0h1m454 0h3m10 0h2m103 0h3M168 148.4h1m5 0h3m100 0h3m116 0h4m30 0h2m497 0h1M167 168.4h2m108 0h3m20 0h5m58 0h2m79 0h1m28 0h2m16 0h1m281 0h1m25 0h1m28 0h3m6 0h3M158 188.3h1m72 0h3m99 0h1m155 0h2m253 0h1m147 0h1m56 0h2M300 208.3h3m17 0h4m52 0h1m115 0h1m59 0h1M250 228.3h1m328 0h3m327 0h3M280 248.2h2m9 0h4m50 0h4m167 0h2m25 0h1m66 0h3m149 0h1M195 268.2h1m12 0h1m580 0h1M393 288.1h2m9 0h3m12 0h3m11 0h3m86 0h1m65 0h1M430 308.1h2m16 0h1m26 0h1m125 0h1m319 0h1M413 328h1m37 0h1m111 0h3m362 0h5m7 0h1M294 348h1m393 0h4M326 367.9h1m105 0h3m94 0h2m57 0h1M303 387.9h1m184 0h2m7 0h3m20 0h3m168 0h1m82 0h2M193 407.8h2m299 0h3m178 0h1m211 0h1M436 427.8h1m70 0h4m16 0h3m129 0h1m128 0h1M506 447.7h2m32 0h3m177 0h4M414 467.7h1m148 0h2m31 0h3m10 0h2m26 0h1m52 0h3m54 0h3M449 487.7h1M438 507.6h3m135 0h2M615 527.6h2m331 0h3m3 0h2M298 547.5h4m323 0h3M328 567.5h1m305 0h3m30 0h2M294 607.4h1m184 0h1m146 0h2m6 0h2m31 0h2M398 627.3h1m121 0h1m51 0h1m12 0h2m20 0h2m30 0h2m8 0h2m2 0h2m120 0h1m18 0h1M627 647.3h1m37 0h4m70 0h1M394 667.2h2m70 0h3m209 0h2m19 0h2m13 0h2M695 687.2h2m56 0h1M405 707.1h1m276 0h4m75 0h1M409 727.1h1m189 0h3m111 0h3M523 747.1h2m86 0h3m12 0h1m11 0h1m49 0h2m9 0h3m2 0h3m45 0h2m72 0h3M461 767h1m131 0h1m43 0h1m114 0h1M199 787h1m80 0h1m322 0h3m89 0h4m10 0h2m6 0h1m11 0h2m24 0h1m23 0h3M420 806.9h1m296 0h1m58 0h3m17 0h3M240 826.9h1m411 0h3M324 846.8h3m204 0h1M327 866.8h1m340 0h1m213 0h1M793 886.7h2M197 906.7h3m13 0h1m172 0h1m32 0h3m49 0h1m34 0h1m18 0h3m200 0h1m74 0h1m28 0h2M702 926.6h2m143 0h3m3 0h2m71 0h4M234 946.6h1m482 0h1m55 0h3m45 0h3m22 0h2M890 966.5h2m34 0h3m1 0h1m7 0h3M687 986.5h3m85 0h3m83 0h3m7 0h2m15 0h2M181 1006.4h1m112 0h1m144 0h3m424 0h2M185 1026.4h1m2 0h1m9 0h1m188 0h2m61 0h3m15 0h4m212 0h3m11 0h4m5 0h2m158 0h3M401 1046.4h1m96 0h1m369 0h2m69 0h5M454 1066.3h1m431 0h3M201 1086.3h1m6 0h3m38 0h1m51 0h3m167 0h1m83 0h2m28 0h2m11 0h1m132 0h1m173 0h2m9 0h2M359 1106.2h1m613 0h1M353 1126.2h1m95 0h1m114 0h1m116 0h3M717 1146.1h1M298 1166.1h1m111 0h1M479 1186h1m452 0h2M158 1206h1M926 1225.9h2M175 1245.9h1m82 0h1m489 0h3m156 0h1m33 0h3M319 1285.8h1m337 0h1m193 0h2m16 0h1m56 0h2M455 1305.8h1M172 1325.7h1m387 0h1M188 1345.7h1m148 0h1m152 0h1m17 0h3m31 0h4m15 0h1m26 0h1m8 0h2m25 0h1m18 0h2M449 1365.6h1m173 0h1m12 0h1m164 0h2m6 0h3m32 0h1m112 0h1m14 0h2M292 1385.6h1m437 0h1m42 0h1m29 0h3M190 1405.5h1m106 0h1m480 0h1"/>
<path stroke="#cc00cc" stroke-width="20.2" d="M619 88.6h5m27 0h3m14 0h1m7 0h3m9 0h5m213 0h3m7 0h2m47 0h2M902 108.5h2m4 0h3M721 208.3h3m14 0h2m14 0h3m217 0h2M859 288.1h1m21 0h5M164 328h3m18 0h2m18 0h3m3 0h2m22 0h3m77 0h3m25 0h1m6 0h4m14 0h4m129 0h3m14 0h4m134 0h2m1 0h4m28 0h2m53 0h1m1 0h4m3 0h2m5 0h3m76 0h2m36 0h3m77 0h3M312 367.9h2M207 467.7h2M287 547.5h4m118 0h3M483 806.9h3m27 0h6m4 0h3m11 0h2M489 826.9h3m41 0h5m27 0h2m38 0h4m24 0h2m6 0h2m3 0h1m4 0h1m26 0h3m15 0h2m10 0h4m149 0h2m25 0h5M635 886.7h2m16 0h1m48 0h2M173 1365.6h2m19 0h3m15 0h2m19 0h2m6 0h3m3 0h2m34 0h1m18 0h3m27 0h3m60 0h2m37 0h3m17 0h2m8 0h3m18 0h4m21 0h2m7 0h2m2 0h2m4 0h5m16 0h1m46 0h2m32 0h3m78 0h3m5 0h3m39 0h4m75 0h2m5 0h6m32 0h2m7 0h1m9 0h3m4 0h4m2 0h3m11 0h2m17 0h3"/>
<path stroke="#cc2299" stroke-width="20.2" d="M444 208.3h1M154 288.1h3"/>
<path stroke="#cc22aa" stroke-width="20.2" d="M722 826.9h1"/>
<path stroke="#cc3399" stroke-width="20.2" d="M494 208.3h1m342 0h1m29 0h1M755 288.1h1M221 826.9h1m700 0h1m32 0h1M418 886.7h1m63 0h3"/>
<path stroke="#cc4488" stroke-width="20.2" d="M723 288.1h1M212 806.9h1m556 0h1M350 826.9h1m551 0h3M185 1365.6h1"/>
<path stroke="#cc4499" stroke-width="20.2" d="M733 288.1h3"/>
<path stroke="#cc5566" stroke-width="20.2" d="M693 168.4h3M168 288.1h3M713 826.9h2"/>
<path stroke="#cc5577" stroke-width="20.2" d="M674 108.5h3M752 168.4h1M284 208.3h2m8 0h2m96 0h1M219 806.9h4M259 826.9h2m67 0h4M158 886.7h1m32 0h3m274 0h1"/>
<path stroke="#cc5588" stroke-width="20.2" d="M518 208.3h3M972 886.7h1"/>
<path stroke="#cc6666" stroke-width="20.2" d="M303 208.3h2m483 0h2m54 0h1M812 288.1h1m59 0h1M809 328h4M588 806.9h1M166 1365.6h2m381 0h1m17 0h2m68 0h1m159 0h1"/>
<path stroke="#cc6677" stroke-width="20.2" d="M828 806.9h1"/>
<path stroke="#cccc00" stroke-width="20.2" d="M290 88.6h3m45 0h2m10 0h3m12 0h2m63 0h1M444 108.5h1m404 0h2m120 0h1M445 128.5h1m50 0h4m24 0h2M250 148.4h1m629 0h1M347 168.4h3m26 0h1m34 0h1m52 0h1m58 0h1m11 0h1m244 0h1M589 188.3h2M306 208.3h2M180 228.3h1m142 0h2m2 0h1m546 0h1M169 248.2h1m159 0h2m198 0h1m265 0h1M883 268.2h1M383 288.1h2m2 0h3m10 0h2m9 0h3m16 0h3m5 0h4m51 0h4m196 0h2m236 0h2M190 308.1h1m90 0h1m100 0h2m79 0h1m17 0h1m31 0h1m89 0h2m101 0h3m15 0h1M383 328h2m185 0h2m369 0h3M450 348h3m8 0h2m125 0h4M488 367.9h2m35 0h2m12 0h1M523 387.9h2m15 0h2M531 407.8h2M167 427.8h1m48 0h2m277 0h3m37 0h2m101 0h1m177 0h1m66 0h1M553 467.7h4m14 0h3m9 0h4m12 0h2m163 0h3M609 487.7h2M258 507.6h1m140 0h2m15 0h4M575 547.5h1m54 0h2m16 0h5m46 0h1M619 567.5h2m7 0h3m15 0h2m3 0h3m10 0h3M559 607.4h4M592 627.3h3m36 0h2m35 0h1m46 0h3M751 667.2h2m149 0h4m11 0h4M692 687.2h3m2 0h3M435 707.1h3m265 0h1m41 0h2M675 727.1h3m12 0h3m8 0h3m34 0h1m114 0h2M542 747.1h3m167 0h4m38 0h4m4 0h3M600 767h1m80 0h1m14 0h2M750 787h1m120 0h1M785 806.9h2m2 0h1m1 0h2m2 0h1M193 826.9h3m255 0h1m27 0h3m49 0h1m180 0h1m60 0h2M791 846.8h2M486 866.8h1m202 0h2m106 0h2m73 0h1m31 0h1m16 0h1m4 0h1M623 886.7h4m23 0h1m16 0h2M172 906.7h2m228 0h1m42 0h1m7 0h1m353 0h1m126 0h3M465 926.6h1m476 0h2M402 946.6h1m285 0h1m3 0h3m61 0h3m8 0h3m87 0h2m30 0h4M717 966.5h1m143 0h2m3 0h1m4 0h2m7 0h3m2 0h2M271 986.5h1m418 0h3m238 0h1m12 0h2M173 1006.4h4m745 0h1M216 1026.4h1m57 0h1m136 0h3m114 0h3m173 0h3M929 1046.4h2M456 1086.3h3m133 0h1m314 0h3M900 1106.2h3M405 1126.2h1m151 0h1M920 1146.1h2M430 1166.1h1m8 0h1m159 0h1M936 1186h3m3 0h4M938 1206h1M758 1225.9h1m110 0h2M315 1245.9h1m11 0h3m32 0h2m383 0h1m86 0h1m91 0h2M962 1265.8h3m1 0h1M202 1285.8h2m102 0h3m243 0h1m13 0h1m87 0h3m293 0h7M953 1305.8h3M570 1325.7h3M185 1345.7h1m144 0h2m201 0h1m76 0h2m150 0h4M397 1365.6h1m179 0h1m166 0h4m200 0h1M222 1385.6h1m183 0h1m223 0h3m311 0h2M542 1405.5h1"/>
<path stroke="#dd00dd" stroke-width="20.2" d="M704 88.6h2M900 108.5h1M769 208.3h1M248 328h4m245 0h2m204 0h4m17 0h3m14 0h2m62 0h2m19 0h3m14 0h2M539 806.9h3m2 0h2M681 826.9h1m199 0h2M658 886.7h1M222 1365.6h1m51 0h3m79 0h4m31 0h4m48 0h4m3 0h3m3 0h2m15 0h3m36 0h2m72 0h3m16 0h3m20 0h2m61 0h2m228 0h2"/>
<path stroke="#dd33aa" stroke-width="20.2" d="M659 288.1h1"/>
<path stroke="#dd4499" stroke-width="20.2" d="M305 208.3h1m187 0h1m322 0h1m44 0h1"/>
<path stroke="#dd5577" stroke-width="20.2" d="M324 208.3h2M914 288.1h2"/>
<path stroke="#dd5588" stroke-width="20.2" d="M516 208.3h1"/>
<path stroke="#dd6677" stroke-width="20.2" d="M688 328h1M892 806.9h1M631 826.9h1"/>
<path stroke="#dd6688" stroke-width="20.2" d="M304 826.9h4"/>
<path stroke="#dd8855" stroke-width="20.2" d="M797 208.3h3"/>
<path stroke="#dddd00" stroke-width="20.2" d="M293 88.6h5m2 0h2m17 0h1m24 0h2m401 0h2M305 108.5h2m10 0h3m524 0h1M162 128.5h1M328 148.4h1m150 0h1M360 168.4h3M267 208.3h1m677 0h1M333 228.3h2M370 268.2h4M385 288.1h2m29 0h3m6 0h2m18 0h4m2 0h4m8 0h2m3 0h2m5 0h1M904 328h3m3 0h2m26 0h2M484 367.9h4m15 0h1m8 0h3m6 0h2m17 0h3M544 387.9h2M487 407.8h2M549 467.7h4m6 0h2m50 0h2M587 487.7h2m367 0h2M634 547.5h2m2 0h1m20 0h1m8 0h1M623 567.5h3m22 0h3m3 0h2m4 0h4M652 607.4h4m296 0h3M622 627.3h3M236 667.2h1m373 0h1m299 0h7M688 687.2h4M711 727.1h2M739 747.1h2m10 0h1m13 0h4M609 767h2m130 0h1M585 787h1m189 0h4M779 806.9h2m29 0h2M782 826.9h2M541 926.6h1M860 966.5h1m2 0h3m9 0h1m7 0h2m7 0h1M869 1006.4h2m16 0h2m2 0h2m33 0h2m7 0h3M709 1026.4h2m174 0h4M885 1046.4h1m3 0h2M899 1086.3h6m13 0h2m2 0h1M926 1186h6m2 0h2m4 0h2M929 1206h2m2 0h3M648 1285.8h3M971 1325.7h3M579 1345.7h3M733 1365.6h1"/>
<path stroke="#ee00ee" stroke-width="20.2" d="M347 1365.6h2"/>
<path stroke="#ee44aa" stroke-width="20.2" d="M573 806.9h2"/>
<path stroke="#ee6677" stroke-width="20.2" d="M283 826.9h1"/>
<path stroke="#ee6688" stroke-width="20.2" d="M851 208.3h2"/>
<path stroke="#eeee00" stroke-width="20.2" d="M821 108.5h1m10 0h4M339 168.4h2m478 0h2M380 288.1h1m14 0h3m4 0h2m23 0h3m12 0h2m5 0h2m4 0h3m14 0h3M902 328h2M490 367.9h4m6 0h3m20 0h2m6 0h3m11 0h2M506 387.9h3m37 0h1M509 407.8h2m8 0h3m19 0h2M532 427.8h3M575 467.7h2m24 0h1M951 527.6h3M620 547.5h5m11 0h2m17 0h4m8 0h1M631 567.5h3m3 0h3m3 0h1M629 607.4h3m4 0h2M690 747.1h2m19 0h1m4 0h2m8 0h2m16 0h5m9 0h4M773 806.9h3m7 0h2m2 0h2m1 0h1m2 0h2m4 0h3m2 0h3m5 0h2M857 966.5h3m7 0h4m2 0h2m1 0h4m7 0h1M864 1026.4h3M913 1086.3h3M909 1106.2h3m3 0h3"/>
<path stroke="#ff00ff" stroke-width="20.2" d="M650 108.5h3m104 0h1M583 168.4h2m88 0h4m19 0h1m1 0h1m9 0h3M189 208.3h4m47 0h3m14 0h2m105 0h2m27 0h3m2 0h6m4 0h3m79 0h2m152 0h3m18 0h3m23 0h2m188 0h3m11 0h4M211 288.1h2m20 0h4m86 0h2m10 0h1m21 0h2m2 0h3m6 0h3m185 0h1m48 0h3m36 0h2m76 0h1m37 0h3m133 0h1m71 0h2M185 806.9h2m113 0h2m2 0h2m74 0h2m44 0h4m1 0h3m158 0h3m71 0h2m4 0h3m6 0h3m5 0h2m146 0h3m26 0h3M160 826.9h2m13 0h2m54 0h4m44 0h2m52 0h2m1 0h4m31 0h1m48 0h2m6 0h2m308 0h1m5 0h2m9 0h1m10 0h2m75 0h3m110 0h2M242 886.7h3m18 0h2m76 0h4m56 0h1m13 0h3m8 0h3m14 0h1m79 0h3m308 0h2M300 1365.6h2"/>
<path stroke="#ffff00" stroke-width="20.2" d="M306 88.6h3m22 0h3M381 288.1h2m7 0h3m14 0h4m11 0h3m11 0h2m6 0h1m13 0h3m4 0h3m2 0h2M479 367.9h5m15 0h1m7 0h2m6 0h3m9 0h2m7 0h3m4 0h2M492 407.8h2M486 427.8h1M619 547.5h1m8 0h2m2 0h2m10 0h4m5 0h2m5 0h7M644 567.5h2m10 0h1M688 727.1h2M678 747.1h4M802 806.9h2m3 0h3M888 966.5h2M871 1026.4h2M920 1086.3h2M898 1106.2h2m3 0h6m3 0h3m3 0h5M939 1186h1M951 1265.8h7m1 0h3m3 0h1"/>
</g></g>
<rect x="265" y="78" width="2" height="1338" fill="#fff"/>
<rect x="377" y="78" width="3" height="1338" fill="#fff"/>
<rect x="476" y="78" width="3" height="1338" fill="#fff"/>
<rect x="547" y="78" width="2" height="1338" fill="#fff"/>
<rect x="617" y="78" width="2" height="1338" fill="#fff"/>
<rect x="669" y="78" width="3" height="1338" fill="#fff"/>
<rect x="718" y="78" width="2" height="1338" fill="#fff"/>
<rect x="770" y="78" width="3" height="1338" fill="#fff"/>
<rect x="814" y="78" width="2" height="1338" fill="#fff"/>
<rect x="855" y="78" width="2" height="1338" fill="#fff"/>
<rect x="893" y="78" width="2" height="1338" fill="#fff"/>
<rect x="923" y="78" width="3" height="1338" fill="#fff"/>
<rect x="946" y="78" width="2" height="1338" fill="#fff"/>
<rect x="967" y="78" width="3" height="1338" fill="#fff"/>
<text x="144" y="93.7" font-size="19.2" text-anchor="end" fill="#e41a1c">Gzmk</text>
<text x="144" y="113.3" font-size="19.2" text-anchor="end" fill="#e41a1c">CD8a</text>
<text x="144" y="130.6" font-size="19.2" text-anchor="end" fill="#e41a1c">Xcl1</text>
<text x="144" y="149.6" font-size="19.2" text-anchor="end" fill="#e41a1c">Eomes</text>
<text x="144" y="167.8" font-size="19.2" text-anchor="end" fill="#e41a1c">Cd8b1</text>
<text x="144" y="190.2" font-size="19.2" text-anchor="end" fill="#815375">Pdcd1</text>
<text x="144" y="212.3" font-size="19.2" text-anchor="end" fill="#815375">Ccl4</text>
<text x="144" y="229.1" font-size="19.2" text-anchor="end" fill="#815375">Tox</text>
<text x="144" y="250.3" font-size="19.2" text-anchor="end" fill="#815375">Tigit</text>
<text x="144" y="273.2" font-size="19.2" text-anchor="end" fill="#815375">Lag3</text>
<text x="144" y="291.2" font-size="19.2" text-anchor="end" fill="#3a85a8">Ly6c2</text>
<text x="144" y="308.8" font-size="19.2" text-anchor="end" fill="#3a85a8">Arl4c</text>
<text x="144" y="327.2" font-size="19.2" text-anchor="end" fill="#3a85a8">Klf2</text>
<text x="144" y="349.6" font-size="19.2" text-anchor="end" fill="#3a85a8">Gramd3</text>
<text x="144" y="370.5" font-size="19.2" text-anchor="end" fill="#47a169">Isg15</text>
<text x="144" y="392.9" font-size="19.2" text-anchor="end" fill="#47a169">Ifit3</text>
<text x="144" y="412" font-size="19.2" text-anchor="end" fill="#47a169">Ifit1</text>
<text x="144" y="430.4" font-size="19.2" text-anchor="end" fill="#47a169">Rtp4</text>
<text x="144" y="452.6" font-size="19.2" text-anchor="end" fill="#47a169">Ifit3b</text>
<text x="144" y="471.3" font-size="19.2" text-anchor="end" fill="#629363">Cd4</text>
<text x="144" y="488.9" font-size="19.2" text-anchor="end" fill="#629363">Izumo1r</text>
<text x="144" y="508.7" font-size="19.2" text-anchor="end" fill="#629363">Slamf6</text>
<text x="144" y="530.6" font-size="19.2" text-anchor="end" fill="#629363">Tnfrsf4</text>
<text x="144" y="550.6" font-size="19.2" text-anchor="end" fill="#8d5c96">Tmem176b</text>
<text x="144" y="574" font-size="19.2" text-anchor="end" fill="#8d5c96">Tmem176a</text>
<text x="144" y="595" font-size="19.2" text-anchor="end" fill="#8d5c96">CD163l1</text>
<text x="144" y="611.2" font-size="19.2" text-anchor="end" fill="#8d5c96">Capg</text>
<text x="144" y="631.6" font-size="19.2" text-anchor="end" fill="#8d5c96">Selenop</text>
<text x="144" y="651.3" font-size="19.2" text-anchor="end" fill="#8d5c96">Il17a</text>
<text x="144" y="670.8" font-size="19.2" text-anchor="end" fill="#ff7f00">Satb1</text>
<text x="144" y="692.5" font-size="19.2" text-anchor="end" fill="#ff7f00">Il4</text>
<text x="144" y="710.9" font-size="19.2" text-anchor="end" fill="#ff7f00">Il12rb2</text>
<text x="144" y="730.1" font-size="19.2" text-anchor="end" fill="#ff7f00">Anxa1</text>
<text x="144" y="748.5" font-size="19.2" text-anchor="end" fill="#c4635d">CD40lg</text>
<text x="144" y="768" font-size="19.2" text-anchor="end" fill="#c4635d">Trat1</text>
<text x="144" y="787.3" font-size="19.2" text-anchor="end" fill="#c4635d">Zfp683</text>
<text x="144" y="808.9" font-size="19.2" text-anchor="end" fill="#f2e731">Egr1</text>
<text x="144" y="828.9" font-size="19.2" text-anchor="end" fill="#f2e731">Fos</text>
<text x="144" y="851.4" font-size="19.2" text-anchor="end" fill="#f2e731">Zfp36</text>
<text x="144" y="869.8" font-size="19.2" text-anchor="end" fill="#f2e731">Fosb</text>
<text x="144" y="893" font-size="19.2" text-anchor="end" fill="#f2e731">Jun</text>
<text x="144" y="912.3" font-size="19.2" text-anchor="end" fill="#ffc81d">Cd7</text>
<text x="144" y="928.3" font-size="19.2" text-anchor="end" fill="#ffc81d">Gzmb</text>
<text x="144" y="946.7" font-size="19.2" text-anchor="end" fill="#ffc81d">Itga1</text>
<text x="144" y="969.2" font-size="19.2" text-anchor="end" fill="#bf862b">Klre1</text>
<text x="144" y="994" font-size="19.2" text-anchor="end" fill="#bf862b">Klrc1</text>
<text x="144" y="1018" font-size="19.2" text-anchor="end" fill="#bf862b">Klrd1</text>
<text x="144" y="1036.5" font-size="19.2" text-anchor="end" fill="#bf862b">Klrk1</text>
<text x="144" y="1054.1" font-size="19.2" text-anchor="end" fill="#bf862b">Gzma</text>
<text x="144" y="1071.7" font-size="19.2" text-anchor="end" fill="#bf862b">Itgax</text>
<text x="144" y="1094.1" font-size="19.2" text-anchor="end" fill="#bd6253">Ccr7</text>
<text x="144" y="1111.4" font-size="19.2" text-anchor="end" fill="#bd6253">Sell</text>
<text x="144" y="1130.4" font-size="19.2" text-anchor="end" fill="#bd6253">Actn1</text>
<text x="144" y="1153" font-size="19.2" text-anchor="end" fill="#bd6253">Igfbp4</text>
<text x="144" y="1172.7" font-size="19.2" text-anchor="end" fill="#bd6253">Dapl1</text>
<text x="144" y="1195.9" font-size="19.2" text-anchor="end" fill="#cf8baf">S1pr5</text>
<text x="144" y="1217.3" font-size="19.2" text-anchor="end" fill="#cf8baf">Cx3cr1</text>
<text x="144" y="1237.9" font-size="19.2" text-anchor="end" fill="#cf8baf">Klrg1</text>
<text x="144" y="1260.2" font-size="19.2" text-anchor="end" fill="#cf8baf">Zeb2</text>
<text x="144" y="1282" font-size="19.2" text-anchor="end" fill="#eb7ba9">Foxp3</text>
<text x="144" y="1301.3" font-size="19.2" text-anchor="end" fill="#eb7ba9">Ikzf2</text>
<text x="144" y="1319.6" font-size="19.2" text-anchor="end" fill="#eb7ba9">Flicr</text>
<text x="144" y="1337" font-size="19.2" text-anchor="end" fill="#999999">Bcl3</text>
<text x="144" y="1357.1" font-size="19.2" text-anchor="end" fill="#999999">Nfkb2</text>
<text x="144" y="1375.4" font-size="19.2" text-anchor="end" fill="#999999">Nfkbia</text>
<text x="144" y="1399.5" font-size="19.2" text-anchor="end" fill="#999999">Relb</text>
<text x="144" y="1419.1" font-size="19.2" text-anchor="end" fill="#999999">Cxcl10</text>
<text x="415.5" y="1454.8" font-size="32.8">Total T cells</text>
<text x="1124.3" y="17.9" font-size="18.3" text-anchor="middle">0</text>
<text x="1187.3" y="17.9" font-size="18.3" text-anchor="middle">1</text>
<text x="1253.7" y="17.9" font-size="18.3" text-anchor="middle">2</text>
<text x="1301.5" y="17.9" font-size="18.3" text-anchor="middle">3</text>
<text x="1343.7" y="17.9" font-size="18.3" text-anchor="middle">4</text>
<text x="1381" y="17.9" font-size="18.3" text-anchor="middle">5</text>
<text x="1080.7" y="54.9" font-size="22.8" text-anchor="end">Cluster</text>
<rect x="1093" y="37" width="62" height="12.3" fill="#e41a1c"/>
<rect x="1155" y="37" width="62" height="12.3" fill="#377eb8"/>
<rect x="1217" y="37" width="60" height="12.3" fill="#4daf4a"/>
<rect x="1277" y="37" width="45" height="12.3" fill="#984ea3"/>
<rect x="1322" y="37" width="42" height="12.3" fill="#ff7f00"/>
<rect x="1364" y="37" width="19" height="12.3" fill="#ffff33"/>
<clipPath id="c22"><rect x="1093" y="62.5" width="290" height="639.5"/></clipPath>
<g clip-path="url(#c22)"><g filter="url(#hb)">
<path fill="#770077" d="M1093 62.5h62v29.5h-62zM1155 62.5h62v29.5h-62zM1322 149.7h42v29.5h-42zM1155 178.8h62v29.5h-62zM1093 236.9h62v29.5h-62zM1322 236.9h42v29.5h-42zM1155 266h62v29.5h-62zM1322 266h42v29.5h-42zM1364 266h19v29.5h-19zM1155 295h62v29.5h-62zM1364 295h19v29.5h-19zM1093 324.1h62v29.5h-62zM1155 324.1h62v29.5h-62zM1277 324.1h45v29.5h-45zM1322 324.1h42v29.5h-42zM1364 324.1h19v29.5h-19zM1155 353.2h62v29.5h-62zM1277 353.2h45v29.5h-45zM1322 353.2h42v29.5h-42zM1364 353.2h19v29.5h-19zM1093 382.2h62v29.5h-62zM1217 382.2h60v29.5h-60zM1364 382.2h19v29.5h-19zM1155 498.5h62v29.5h-62zM1322 498.5h42v29.5h-42zM1093 643.9h62v29.5h-62zM1155 643.9h62v29.5h-62zM1217 643.9h60v29.5h-60zM1322 643.9h42v29.5h-42z"/>
<path fill="#aa00aa" d="M1217 62.5h60v29.5h-60zM1277 62.5h45v29.5h-45zM1322 62.5h42v29.5h-42zM1364 62.5h19v29.5h-19zM1093 149.7h62v29.5h-62zM1217 149.7h60v29.5h-60zM1277 149.7h45v29.5h-45zM1364 149.7h19v29.5h-19zM1217 236.9h60v29.5h-60zM1277 236.9h45v29.5h-45zM1364 236.9h19v29.5h-19zM1155 382.2h62v29.5h-62zM1322 382.2h42v29.5h-42zM1093 498.5h62v29.5h-62zM1217 498.5h60v29.5h-60z"/>
<path fill="#550055" d="M1093 91.6h62v29.5h-62zM1155 91.6h62v29.5h-62zM1217 91.6h60v29.5h-60zM1277 91.6h45v29.5h-45zM1322 91.6h42v29.5h-42zM1364 91.6h19v29.5h-19zM1093 120.6h62v29.5h-62zM1155 120.6h62v29.5h-62zM1217 120.6h60v29.5h-60zM1277 120.6h45v29.5h-45zM1322 120.6h42v29.5h-42zM1364 120.6h19v29.5h-19zM1155 149.7h62v29.5h-62zM1155 236.9h62v29.5h-62zM1093 266h62v29.5h-62zM1217 266h60v29.5h-60zM1277 266h45v29.5h-45zM1093 295h62v29.5h-62zM1217 295h60v29.5h-60zM1277 295h45v29.5h-45zM1322 295h42v29.5h-42zM1217 324.1h60v29.5h-60zM1093 353.2h62v29.5h-62zM1217 353.2h60v29.5h-60zM1277 382.2h45v29.5h-45zM1217 411.3h60v29.5h-60zM1277 411.3h45v29.5h-45zM1093 440.4h62v29.5h-62zM1155 440.4h62v29.5h-62zM1217 440.4h60v29.5h-60zM1277 440.4h45v29.5h-45zM1322 440.4h42v29.5h-42zM1364 440.4h19v29.5h-19zM1277 643.9h45v29.5h-45zM1364 643.9h19v29.5h-19z"/>
<path fill="#dd00dd" d="M1093 178.8h62v29.5h-62zM1217 178.8h60v29.5h-60zM1277 178.8h45v29.5h-45zM1322 178.8h42v29.5h-42zM1364 178.8h19v29.5h-19zM1277 498.5h45v29.5h-45zM1364 498.5h19v29.5h-19z"/>
<path fill="#330033" d="M1093 207.8h62v29.5h-62zM1155 207.8h62v29.5h-62zM1217 207.8h60v29.5h-60zM1277 207.8h45v29.5h-45zM1322 207.8h42v29.5h-42zM1364 207.8h19v29.5h-19zM1093 411.3h62v29.5h-62zM1155 411.3h62v29.5h-62zM1322 411.3h42v29.5h-42zM1364 411.3h19v29.5h-19zM1217 469.5h60v29.5h-60zM1277 469.5h45v29.5h-45zM1322 469.5h42v29.5h-42zM1364 469.5h19v29.5h-19zM1093 527.6h62v29.5h-62zM1155 527.6h62v29.5h-62zM1217 527.6h60v29.5h-60zM1277 527.6h45v29.5h-45zM1322 527.6h42v29.5h-42zM1364 527.6h19v29.5h-19zM1093 672.9h62v29.5h-62zM1155 672.9h62v29.5h-62zM1217 672.9h60v29.5h-60zM1277 672.9h45v29.5h-45zM1322 672.9h42v29.5h-42z"/>
<path fill="#110011" d="M1093 469.5h62v29.5h-62zM1155 469.5h62v29.5h-62zM1093 556.7h62v29.5h-62zM1155 556.7h62v29.5h-62zM1217 556.7h60v29.5h-60zM1277 556.7h45v29.5h-45zM1322 556.7h42v29.5h-42zM1364 556.7h19v29.5h-19zM1093 585.7h62v29.5h-62zM1155 585.7h62v29.5h-62zM1217 585.7h60v29.5h-60zM1277 585.7h45v29.5h-45zM1322 585.7h42v29.5h-42zM1364 585.7h19v29.5h-19zM1093 614.8h62v29.5h-62zM1155 614.8h62v29.5h-62zM1217 614.8h60v29.5h-60zM1277 614.8h45v29.5h-45zM1322 614.8h42v29.5h-42zM1364 614.8h19v29.5h-19zM1364 672.9h19v29.5h-19z"/>
<path stroke="#000000" stroke-width="29.3" d="M1285 222.4h2M1173 425.9h1m35 0h2M1249 484h2M1118 542.1h4m150 0h3"/>
<path stroke="#110011" stroke-width="29.3" d="M1118 222.4h3m19 0h1m76 0h3m16 0h3m8 0h6m19 0h2m17 0h3m15 0h4m22 0h1M1122 425.9h2m50 0h1m5 0h3m5 0h3m7 0h2m129 0h3m8 0h2m29 0h2m8 0h2M1350 454.9h3M1231 484h1m3 0h3M1243 542.1h2M1096 687.5h1m23 0h3m44 0h2m110 0h1m2 0h1"/>
<path stroke="#111100" stroke-width="29.3" d="M1285 542.1h2"/>
<path stroke="#220022" stroke-width="29.3" d="M1161 106.1h2M1339 135.2h2M1339 309.6h4M1155 454.9h3"/>
<path stroke="#221100" stroke-width="29.3" d="M1151 687.5h3"/>
<path stroke="#221111" stroke-width="29.3" d="M1368 222.4h1M1159 425.9h2m24 0h3m154 0h1M1371 484h2M1144 542.1h2M1222 687.5h1"/>
<path stroke="#222200" stroke-width="29.3" d="M1169 484h3m27 0h3M1103 542.1h1M1321 571.2h1M1255 600.3h1m18 0h1m36 0h1M1375 629.3h2"/>
<path stroke="#330022" stroke-width="29.3" d="M1268 629.3h2"/>
<path stroke="#330033" stroke-width="29.3" d="M1191 106.1h2m22 0h2m9 0h3m86 0h2M1240 135.2h4m135 0h3M1285 280.5h3M1100 309.6h3m118 0h2m70 0h2m14 0h3m9 0h1M1093 367.7h2m48 0h4M1189 454.9h2m96 0h2m82 0h2M1093 484h1m47 0h2m5 0h2M1155 571.2h3m52 0h2m36 0h2m6 0h1m52 0h5m9 0h2m10 0h2m11 0h3M1094 600.3h4m43 0h3m28 0h1m24 0h4m72 0h1m1 0h1m29 0h2m7 0h3m5 0h1m29 0h1m8 0h3M1109 629.3h3m20 0h4m99 0h2m135 0h3"/>
<path stroke="#331111" stroke-width="29.3" d="M1376 542.1h1M1276 600.3h1"/>
<path stroke="#331122" stroke-width="29.3" d="M1242 629.3h2"/>
<path stroke="#332211" stroke-width="29.3" d="M1101 425.9h4M1370 542.1h5m2 0h3M1131 571.2h2M1258 600.3h2M1332 629.3h1"/>
<path stroke="#332222" stroke-width="29.3" d="M1184 484h4M1189 542.1h1m55 0h1m29 0h1"/>
<path stroke="#333300" stroke-width="29.3" d="M1178 222.4h1m172 0h4M1300 280.5h1m50 0h1M1097 338.6h3m45 0h1m194 0h1M1329 367.7h3M1364 396.8h1M1155 425.9h1m172 0h1M1133 484h1m9 0h2M1116 542.1h1m48 0h1M1098 571.2h2m152 0h2m7 0h2m42 0h1M1236 600.3h1M1223 629.3h2m88 0h1"/>
<path stroke="#333311" stroke-width="29.3" d="M1208 425.9h1m22 0h3M1150 484h1"/>
<path stroke="#440044" stroke-width="29.3" d="M1173 77h4M1352 164.2h4M1364 280.5h4M1365 367.7h2M1215 484h2M1167 571.2h3M1098 600.3h3M1196 629.3h2m35 0h2m39 0h3M1143 658.4h3"/>
<path stroke="#441133" stroke-width="29.3" d="M1130 135.2h1M1308 309.6h1"/>
<path stroke="#442211" stroke-width="29.3" d="M1215 222.4h2"/>
<path stroke="#442222" stroke-width="29.3" d="M1298 106.1h1M1334 135.2h1M1093 222.4h1M1100 367.7h1M1379 454.9h3M1296 484h3M1352 571.2h1M1185 687.5h3m146 0h1m23 0h1"/>
<path stroke="#442233" stroke-width="29.3" d="M1138 367.7h1"/>
<path stroke="#443311" stroke-width="29.3" d="M1181 222.4h3m14 0h4M1366 425.9h1M1244 484h2m59 0h1M1129 542.1h1m65 0h3m14 0h1m76 0h4M1115 571.2h3m114 0h2m35 0h1m7 0h3m20 0h1M1264 600.3h1M1341 629.3h1"/>
<path stroke="#443322" stroke-width="29.3" d="M1168 164.2h2M1139 309.6h3M1270 425.9h4"/>
<path stroke="#444400" stroke-width="29.3" d="M1200 77h1M1180 106.1h2m149 0h2M1113 164.2h2M1370 193.3h1M1179 222.4h2M1147 251.4h3M1332 338.6h2M1369 396.8h1M1203 454.9h1M1095 484h1m169 0h3M1099 542.1h1m72 0h1m3 0h1m116 0h1M1225 600.3h3m72 0h3m66 0h4M1298 629.3h1M1204 658.4h3m83 0h4M1232 687.5h1m120 0h1"/>
<path stroke="#444411" stroke-width="29.3" d="M1192 687.5h1"/>
<path stroke="#550055" stroke-width="29.3" d="M1159 77h2m5 0h4M1153 222.4h2m84 0h4m10 0h4m7 0h2m39 0h4m27 0h2m19 0h3m4 0h4M1144 251.4h2m197 0h2m15 0h1M1175 280.5h1m7 0h2m170 0h3m10 0h1M1375 309.6h4M1159 338.6h2m184 0h2m5 0h3M1193 367.7h2m122 0h3M1105 396.8h3m11 0h2m9 0h4m6 0h1m4 0h2m231 0h1M1098 425.9h3m23 0h1M1340 484h3M1287 542.1h2M1234 571.2h4M1228 600.3h3M1096 658.4h3m4 0h3m252 0h2M1115 687.5h3m75 0h2m56 0h2m27 0h2m8 0h3m29 0h3"/>
<path stroke="#552233" stroke-width="29.3" d="M1209 106.1h3m65 0h1M1112 135.2h2M1102 251.4h3M1151 280.5h3M1105 309.6h4m15 0h3M1121 338.6h1M1196 454.9h1M1367 484h4M1119 658.4h1m198 0h1"/>
<path stroke="#552244" stroke-width="29.3" d="M1127 338.6h1"/>
<path stroke="#553311" stroke-width="29.3" d="M1162 222.4h3M1305 542.1h1M1263 629.3h1"/>
<path stroke="#553322" stroke-width="29.3" d="M1237 106.1h1M1348 164.2h1M1114 309.6h2m2 0h1M1105 367.7h3m19 0h4M1132 425.9h1M1147 454.9h2m39 0h1m124 0h3M1217 484h3m89 0h3m9 0h1M1217 542.1h3m34 0h2m109 0h1"/>
<path stroke="#553333" stroke-width="29.3" d="M1339 106.1h3M1119 338.6h1M1117 542.1h1"/>
<path stroke="#554411" stroke-width="29.3" d="M1359 135.2h1M1199 251.4h1M1289 309.6h1M1270 338.6h3M1095 367.7h1M1118 425.9h1m250 0h1m3 0h1M1096 454.9h1M1116 484h1m7 0h1m148 0h2m24 0h2M1155 542.1h3m222 0h3M1220 571.2h1M1127 687.5h4"/>
<path stroke="#554422" stroke-width="29.3" d="M1115 222.4h1m206 0h1M1123 454.9h3M1377 629.3h3M1286 658.4h1"/>
<path stroke="#555500" stroke-width="29.3" d="M1097 77h1m3 0h4M1369 135.2h2M1271 164.2h1M1171 193.3h1M1101 251.4h1M1209 280.5h1m14 0h4M1127 309.6h3m182 0h3M1152 338.6h1m113 0h2m48 0h1M1139 367.7h1M1230 425.9h1m122 0h1M1107 454.9h2m37 0h1M1115 484h1m76 0h1m77 0h3m13 0h1M1160 513.1h3m6 0h3M1113 542.1h1M1120 571.2h2M1375 600.3h4M1106 658.4h3M1294 687.5h2"/>
<path stroke="#555511" stroke-width="29.3" d="M1140 484h1M1366 542.1h2M1367 600.3h2"/>
<path stroke="#660066" stroke-width="29.3" d="M1357 425.9h3M1140 513.1h2M1178 542.1h4"/>
<path stroke="#661144" stroke-width="29.3" d="M1108 396.8h4"/>
<path stroke="#661155" stroke-width="29.3" d="M1171 280.5h1M1183 309.6h4M1363 338.6h2M1175 367.7h1M1160 658.4h1m181 0h1"/>
<path stroke="#662233" stroke-width="29.3" d="M1228 280.5h4M1187 396.8h1M1140 454.9h2m11 0h1"/>
<path stroke="#662244" stroke-width="29.3" d="M1220 106.1h1M1130 251.4h1m15 0h1M1154 280.5h1m21 0h1M1351 309.6h3M1153 338.6h1m15 0h1m115 0h4m62 0h1"/>
<path stroke="#662255" stroke-width="29.3" d="M1117 251.4h1M1108 338.6h3"/>
<path stroke="#663322" stroke-width="29.3" d="M1295 367.7h2M1370 425.9h1"/>
<path stroke="#663333" stroke-width="29.3" d="M1097 135.2h1m123 0h1m136 0h1M1148 280.5h3m141 0h1M1103 309.6h2M1128 338.6h2M1151 396.8h2m160 0h3m58 0h1M1116 425.9h2M1106 454.9h1m5 0h3m255 0h1m4 0h1M1166 542.1h1m173 0h1M1191 658.4h1"/>
<path stroke="#663344" stroke-width="29.3" d="M1207 193.3h3M1093 251.4h1M1132 338.6h1"/>
<path stroke="#664411" stroke-width="29.3" d="M1100 542.1h3"/>
<path stroke="#664422" stroke-width="29.3" d="M1309 106.1h1m34 0h2m4 0h1M1093 135.2h1m278 0h1m4 0h2M1143 222.4h1m181 0h2M1180 280.5h2m161 0h3M1142 309.6h2m10 0h1m88 0h4m96 0h1M1134 367.7h4M1135 396.8h1M1220 425.9h1m89 0h2M1294 484h2M1353 542.1h2m13 0h2m5 0h1M1200 687.5h1"/>
<path stroke="#664433" stroke-width="29.3" d="M1322 454.9h2m58 0h1M1136 542.1h1m11 0h1"/>
<path stroke="#665500" stroke-width="29.3" d="M1316 629.3h1M1272 687.5h1"/>
<path stroke="#665511" stroke-width="29.3" d="M1169 106.1h2M1096 280.5h4M1093 309.6h4M1217 338.6h4m16 0h3M1117 367.7h1M1335 425.9h1M1312 484h2M1306 571.2h3M1195 687.5h1m64 0h1"/>
<path stroke="#665522" stroke-width="29.3" d="M1327 222.4h1m6 0h1"/>
<path stroke="#666600" stroke-width="29.3" d="M1132 77h6m53 0h4m13 0h2m97 0h1M1129 106.1h2M1120 164.2h2m58 0h2m34 0h1M1115 193.3h3m60 0h2m17 0h3m130 0h9m3 0h2M1094 251.4h1m10 0h1m221 0h2M1130 280.5h2m1 0h3m10 0h2m44 0h1m46 0h3M1223 309.6h3m21 0h4m17 0h2M1234 338.6h3m23 0h3m105 0h1M1112 367.7h1m104 0h1m19 0h2M1143 396.8h1m126 0h3M1149 425.9h1m55 0h3m90 0h3M1152 454.9h1m86 0h2M1134 484h1m2 0h3m24 0h4m72 0h4M1152 513.1h2m9 0h4m44 0h2m31 0h4M1159 542.1h4m10 0h2m38 0h1m110 0h4m2 0h3m3 0h4m7 0h2M1162 571.2h1M1364 600.3h3m12 0h3M1120 658.4h1m40 0h1m151 0h3M1364 687.5h2m3 0h2"/>
<path stroke="#770077" stroke-width="29.3" d="M1159 106.1h2m10 0h2m9 0h3m44 0h2m56 0h4m42 0h2m33 0h4M1126 135.2h4m145 0h2m2 0h3m33 0h3m28 0h1M1113 309.6h1m156 0h3M1100 454.9h3m39 0h4m220 0h2M1279 658.4h1m95 0h3"/>
<path stroke="#771155" stroke-width="29.3" d="M1165 367.7h3"/>
<path stroke="#771166" stroke-width="29.3" d="M1229 513.1h1"/>
<path stroke="#772255" stroke-width="29.3" d="M1354 77h2M1233 164.2h1M1113 251.4h3M1215 309.6h2M1183 367.7h1m93 0h1M1122 396.8h1M1138 513.1h1m18 0h3M1230 658.4h1"/>
<path stroke="#773333" stroke-width="29.3" d="M1329 106.1h1M1360 454.9h2"/>
<path stroke="#773344" stroke-width="29.3" d="M1130 77h2m136 0h3M1120 135.2h1M1099 164.2h3M1190 309.6h1M1356 338.6h1M1096 367.7h1m94 0h2m149 0h1m34 0h1M1284 425.9h2M1132 658.4h1"/>
<path stroke="#773355" stroke-width="29.3" d="M1223 77h1"/>
<path stroke="#774422" stroke-width="29.3" d="M1154 106.1h1"/>
<path stroke="#774433" stroke-width="29.3" d="M1280 77h1M1188 106.1h2M1360 164.2h1M1139 251.4h1m200 0h1M1124 280.5h4m78 0h1M1239 309.6h4m128 0h1M1133 338.6h2M1101 367.7h1m13 0h1m185 0h3M1306 396.8h2M1111 454.9h1m3 0h1m75 0h1M1097 513.1h1m258 0h3M1094 658.4h1m189 0h2"/>
<path stroke="#774444" stroke-width="29.3" d="M1151 338.6h1M1102 513.1h2m99 0h3"/>
<path stroke="#775511" stroke-width="29.3" d="M1157 164.2h2M1132 309.6h4"/>
<path stroke="#775522" stroke-width="29.3" d="M1351 106.1h1M1204 222.4h2M1110 280.5h2M1220 367.7h2M1223 454.9h4m57 0h3M1343 484h1M1294 658.4h3"/>
<path stroke="#775533" stroke-width="29.3" d="M1320 309.6h1M1217 396.8h3"/>
<path stroke="#776600" stroke-width="29.3" d="M1321 629.3h1"/>
<path stroke="#776611" stroke-width="29.3" d="M1376 106.1h1M1155 222.4h3m53 0h2M1237 425.9h2M1145 484h1m135 0h3m35 0h2M1199 542.1h3m120 0h2M1373 600.3h2M1368 658.4h3"/>
<path stroke="#776622" stroke-width="29.3" d="M1325 425.9h3M1105 571.2h2"/>
<path stroke="#777700" stroke-width="29.3" d="M1128 77h2m15 0h4m61 0h1m10 0h2m40 0h2M1144 106.1h1m63 0h1m99 0h1M1332 164.2h2M1105 193.3h3m14 0h2m6 0h2m195 0h3M1357 251.4h3M1100 280.5h3m38 0h2m130 0h3M1116 309.6h2m32 0h4m51 0h2m21 0h3m1 0h3m30 0h1M1135 338.6h3m145 0h1M1120 367.7h1m101 0h4M1117 396.8h2m101 0h3m14 0h3m15 0h4m14 0h2m5 0h3m25 0h2M1127 425.9h1m39 0h1m10 0h1m42 0h2m74 0h1M1099 454.9h1m114 0h1m75 0h2M1224 484h3m51 0h3m9 0h4M1155 513.1h2m56 0h4M1114 542.1h2m93 0h3m88 0h3m41 0h1M1132 600.3h1m174 0h4M1310 629.3h1M1111 658.4h3m183 0h5m71 0h2m7 0h1"/>
<path stroke="#880088" stroke-width="29.3" d="M1259 77h4m8 0h6m7 0h2M1193 106.1h1M1142 135.2h4M1269 164.2h1m50 0h2M1293 251.4h1m22 0h2M1357 309.6h3M1176 396.8h2m16 0h3m136 0h2M1364 454.9h2M1254 513.1h3"/>
<path stroke="#881177" stroke-width="29.3" d="M1134 513.1h1"/>
<path stroke="#882266" stroke-width="29.3" d="M1140 164.2h1M1346 193.3h1M1277 251.4h1M1198 280.5h1"/>
<path stroke="#882277" stroke-width="29.3" d="M1164 396.8h1"/>
<path stroke="#883344" stroke-width="29.3" d="M1171 309.6h1M1147 367.7h2"/>
<path stroke="#883355" stroke-width="29.3" d="M1289 77h1M1381 164.2h1M1274 251.4h1m78 0h1M1207 309.6h4M1214 367.7h1M1116 396.8h1m93 0h1M1316 658.4h2"/>
<path stroke="#883366" stroke-width="29.3" d="M1295 164.2h4M1116 338.6h1"/>
<path stroke="#884433" stroke-width="29.3" d="M1331 658.4h4"/>
<path stroke="#884444" stroke-width="29.3" d="M1284 106.1h1M1252 164.2h1M1191 193.3h3m22 0h1M1106 251.4h1m182 0h1m55 0h3M1118 338.6h1m170 0h1M1104 396.8h1M1220 513.1h2M1237 658.4h1"/>
<path stroke="#884455" stroke-width="29.3" d="M1144 338.6h1M1137 658.4h1m222 0h1"/>
<path stroke="#885522" stroke-width="29.3" d="M1350 251.4h3M1173 454.9h2"/>
<path stroke="#885533" stroke-width="29.3" d="M1107 106.1h3m175 0h1m94 0h2M1138 135.2h3M1113 280.5h2M1185 338.6h2m135 0h3M1271 367.7h3M1242 425.9h2M1093 454.9h1m87 0h1m2 0h1M1326 513.1h1M1302 658.4h4"/>
<path stroke="#886611" stroke-width="29.3" d="M1150 367.7h1M1261 484h4m12 0h1"/>
<path stroke="#886622" stroke-width="29.3" d="M1161 77h4M1099 106.1h3m29 0h1M1214 135.2h3m149 0h1M1341 251.4h2M1182 338.6h3m78 0h3M1119 367.7h1M1237 454.9h2m15 0h3M1341 542.1h3M1354 658.4h1m9 0h4"/>
<path stroke="#886633" stroke-width="29.3" d="M1122 77h3M1176 251.4h1M1115 280.5h2M1125 396.8h1M1260 425.9h2M1330 513.1h2"/>
<path stroke="#887711" stroke-width="29.3" d="M1190 106.1h1M1195 222.4h3M1230 338.6h3M1239 367.7h3M1286 396.8h3"/>
<path stroke="#887722" stroke-width="29.3" d="M1120 106.1h2M1209 251.4h1"/>
<path stroke="#888800" stroke-width="29.3" d="M1105 77h2M1165 164.2h3m35 0h3m31 0h2m86 0h1M1102 193.3h3m97 0h3m13 0h1m38 0h4m88 0h3m11 0h1m15 0h1m2 0h1M1192 222.4h3m11 0h5M1150 251.4h1m32 0h3m20 0h3M1117 280.5h4m22 0h3m71 0h4m83 0h1M1109 309.6h4m113 0h1m46 0h1M1102 338.6h2m3 0h1m113 0h3m32 0h2M1116 367.7h1m1 0h1m115 0h3M1150 396.8h1m17 0h3m52 0h3m4 0h4m6 0h1m4 0h1M1147 425.9h2m85 0h3m7 0h2m5 0h2m42 0h2m4 0h2M1103 454.9h1m113 0h3m96 0h4M1106 484h4m26 0h1m58 0h4m35 0h1M1131 513.1h3m40 0h5m170 0h2m10 0h3M1135 542.1h1m4 0h1m36 0h1m184 0h2M1319 600.3h3M1131 658.4h1m174 0h3m62 0h2M1308 687.5h2m62 0h4m4 0h3"/>
<path stroke="#990099" stroke-width="29.3" d="M1155 77h2m29 0h3m22 0h2M1330 164.2h2m12 0h3m14 0h3M1175 193.3h3M1123 251.4h1m2 0h4m207 0h3M1155 280.5h2m7 0h3m26 0h2m174 0h3M1202 309.6h3m163 0h2M1093 338.6h4m23 0h1m1 0h3m45 0h3m6 0h3m23 0h1m99 0h3m9 0h1m7 0h4M1158 367.7h3m7 0h2m118 0h4m12 0h3m15 0h2m45 0h4M1147 396.8h3m222 0h2M1109 658.4h2m53 0h2m7 0h5m25 0h1m20 0h1m51 0h1m75 0h2"/>
<path stroke="#991177" stroke-width="29.3" d="M1318 164.2h2"/>
<path stroke="#991188" stroke-width="29.3" d="M1295 77h1M1141 164.2h1"/>
<path stroke="#992266" stroke-width="29.3" d="M1109 164.2h1M1230 513.1h3"/>
<path stroke="#992277" stroke-width="29.3" d="M1299 77h1m15 0h1m23 0h1m35 0h3M1321 193.3h1m30 0h2M1315 251.4h1M1270 513.1h4"/>
<path stroke="#992288" stroke-width="29.3" d="M1330 77h1"/>
<path stroke="#993355" stroke-width="29.3" d="M1361 77h1M1138 338.6h1"/>
<path stroke="#993366" stroke-width="29.3" d="M1098 193.3h4M1366 251.4h1"/>
<path stroke="#993377" stroke-width="29.3" d="M1310 193.3h2"/>
<path stroke="#994444" stroke-width="29.3" d="M1216 658.4h1"/>
<path stroke="#994455" stroke-width="29.3" d="M1124 193.3h3m170 0h4M1355 251.4h2M1308 338.6h1M1332 396.8h1M1109 513.1h2M1102 658.4h1m258 0h1"/>
<path stroke="#994466" stroke-width="29.3" d="M1368 77h2M1351 658.4h1"/>
<path stroke="#995533" stroke-width="29.3" d="M1348 251.4h2M1325 309.6h4M1215 367.7h1"/>
<path stroke="#995544" stroke-width="29.3" d="M1142 77h3m13 0h1m6 0h1M1356 164.2h1M1217 193.3h1M1202 280.5h1M1204 338.6h1M1205 367.7h4m52 0h1M1097 396.8h3m88 0h1m115 0h2M1101 513.1h1M1095 658.4h1"/>
<path stroke="#995555" stroke-width="29.3" d="M1362 280.5h2"/>
<path stroke="#996622" stroke-width="29.3" d="M1113 367.7h2M1138 658.4h1"/>
<path stroke="#996633" stroke-width="29.3" d="M1149 106.1h2M1373 135.2h1M1223 164.2h3M1160 251.4h2m11 0h3M1364 309.6h3M1125 338.6h2M1314 484h3M1142 513.1h2M1133 658.4h4"/>
<path stroke="#996644" stroke-width="29.3" d="M1139 338.6h1m144 0h1"/>
<path stroke="#997711" stroke-width="29.3" d="M1213 222.4h2M1093 425.9h1"/>
<path stroke="#997722" stroke-width="29.3" d="M1167 135.2h2M1185 164.2h2M1136 309.6h3M1245 338.6h2M1293 425.9h2M1245 454.9h2M1311 658.4h2"/>
<path stroke="#997733" stroke-width="29.3" d="M1241 396.8h3m77 0h1"/>
<path stroke="#998811" stroke-width="29.3" d="M1112 280.5h1M1240 338.6h2M1293 396.8h3M1318 425.9h2M1299 454.9h4M1094 484h1"/>
<path stroke="#998822" stroke-width="29.3" d="M1122 106.1h2M1215 251.4h2M1289 425.9h1M1277 658.4h2"/>
<path stroke="#999900" stroke-width="29.3" d="M1138 77h1m10 0h4M1176 164.2h4m7 0h3M1093 193.3h4m56 0h2m39 0h3m143 0h2M1165 222.4h1m4 0h3m14 0h2m13 0h2M1154 251.4h1m42 0h1m7 0h1M1106 280.5h2m20 0h2m6 0h5m31 0h1m73 0h1m7 0h4m18 0h1m14 0h1M1227 309.6h1m7 0h4m12 0h2m1 0h4m17 0h2M1104 338.6h3m42 0h1m104 0h2m2 0h2m13 0h4M1131 367.7h1m98 0h4M1141 396.8h1m92 0h3m9 0h3m3 0h2m5 0h6m10 0h5m3 0h3m95 0h1M1146 425.9h1m80 0h3m16 0h3m58 0h3m2 0h3M1171 454.9h2m54 0h3m35 0h3m9 0h1m18 0h3m4 0h3m27 0h1M1212 484h3m17 0h2m34 0h1M1199 513.1h4m140 0h3M1104 542.1h3m91 0h1m32 0h1m96 0h2m21 0h2M1286 629.3h2m17 0h2M1116 658.4h1m203 0h2M1244 687.5h2m27 0h1"/>
<path stroke="#999911" stroke-width="29.3" d="M1243 338.6h2"/>
<path stroke="#aa00aa" stroke-width="29.3" d="M1301 193.3h1m10 0h2M1381 309.6h2M1318 338.6h4M1102 396.8h2M1114 658.4h2m130 0h2m26 0h2"/>
<path stroke="#aa2288" stroke-width="29.3" d="M1269 513.1h1"/>
<path stroke="#aa3366" stroke-width="29.3" d="M1165 396.8h1"/>
<path stroke="#aa3377" stroke-width="29.3" d="M1257 164.2h1M1279 193.3h1M1255 251.4h1M1137 513.1h1m128 0h3"/>
<path stroke="#aa3388" stroke-width="29.3" d="M1224 77h1"/>
<path stroke="#aa4455" stroke-width="29.3" d="M1151 164.2h2"/>
<path stroke="#aa4466" stroke-width="29.3" d="M1144 164.2h3m193 0h1M1239 193.3h1"/>
<path stroke="#aa4477" stroke-width="29.3" d="M1139 193.3h1M1355 396.8h1"/>
<path stroke="#aa5544" stroke-width="29.3" d="M1144 396.8h1"/>
<path stroke="#aa5555" stroke-width="29.3" d="M1115 77h1m174 0h2M1270 164.2h1m15 0h1M1367 309.6h1M1159 396.8h5"/>
<path stroke="#aa5566" stroke-width="29.3" d="M1354 193.3h3"/>
<path stroke="#aa6633" stroke-width="29.3" d="M1324 106.1h1"/>
<path stroke="#aa6644" stroke-width="29.3" d="M1197 77h3M1108 164.2h1M1322 193.3h2m15 0h1m33 0h4M1135 251.4h1m193 0h3M1113 338.6h3M1267 396.8h2M1168 513.1h1"/>
<path stroke="#aa6655" stroke-width="29.3" d="M1349 164.2h3"/>
<path stroke="#aa7722" stroke-width="29.3" d="M1231 309.6h1M1294 454.9h2"/>
<path stroke="#aa7733" stroke-width="29.3" d="M1125 106.1h2M1182 164.2h3m144 0h1M1157 251.4h3M1303 425.9h2"/>
<path stroke="#aa9911" stroke-width="29.3" d="M1210 135.2h4"/>
<path stroke="#aaaa00" stroke-width="29.3" d="M1107 77h8m38 0h2M1097 106.1h2m16 0h2M1169 135.2h2m13 0h4m7 0h1m6 0h4m118 0h2m45 0h1m10 0h1M1347 164.2h1M1167 193.3h4m29 0h2M1097 251.4h1m20 0h2m42 0h1m23 0h11m13 0h1m115 0h1m34 0h3M1103 280.5h3m126 0h2m1 0h4M1121 309.6h3m23 0h3m68 0h3m37 0h4m12 0h1m54 0h1M1226 338.6h4M1250 367.7h4m4 0h3m4 0h6M1254 396.8h1m34 0h4m3 0h4m10 0h3m6 0h2M1277 425.9h5m23 0h2M1161 454.9h4m76 0h4m26 0h6m12 0h1m56 0h1m26 0h2M1220 484h4M1179 513.1h4m11 0h3m130 0h3m4 0h2m3 0h4m4 0h2m2 0h3m1 0h1M1112 542.1h1m33 0h1m39 0h3M1360 571.2h1m3 0h3"/>
<path stroke="#bb00bb" stroke-width="29.3" d="M1135 193.3h4M1281 513.1h4"/>
<path stroke="#bb3388" stroke-width="29.3" d="M1248 193.3h1"/>
<path stroke="#bb4477" stroke-width="29.3" d="M1096 164.2h1m28 0h1M1097 193.3h1M1308 251.4h3"/>
<path stroke="#bb5555" stroke-width="29.3" d="M1363 396.8h1"/>
<path stroke="#bb5566" stroke-width="29.3" d="M1264 164.2h1M1207 658.4h1"/>
<path stroke="#bb6644" stroke-width="29.3" d="M1134 396.8h1m58 0h1"/>
<path stroke="#bb6655" stroke-width="29.3" d="M1337 164.2h3M1253 193.3h4m87 0h2M1139 513.1h1m182 0h4"/>
<path stroke="#bb6666" stroke-width="29.3" d="M1144 513.1h1"/>
<path stroke="#bb7744" stroke-width="29.3" d="M1127 193.3h3m229 0h4"/>
<path stroke="#bb8833" stroke-width="29.3" d="M1167 513.1h1m178 0h1"/>
<path stroke="#bb9922" stroke-width="29.3" d="M1290 425.9h1"/>
<path stroke="#bbbb00" stroke-width="29.3" d="M1116 77h6m55 0h3m49 0h1M1102 106.1h3m12 0h3m4 0h1m8 0h2m4 0h3m3 0h4m214 0h1M1162 164.2h3m35 0h3M1132 193.3h3m12 0h3m9 0h6m15 0h8m22 0h2M1184 222.4h3m2 0h3M1120 251.4h1m42 0h2m33 0h1m12 0h4m107 0h4m6 0h4M1108 280.5h2m140 0h4m10 0h4m1 0h4M1097 309.6h3m153 0h1m8 0h3m1 0h2M1150 338.6h1m91 0h1m8 0h3m14 0h2M1151 367.7h3m88 0h3m3 0h2m4 0h3M1100 396.8h1m168 0h1M1274 425.9h3m9 0h2M1201 454.9h1m49 0h3m66 0h2M1146 484h2m98 0h3m5 0h7m23 0h2M1123 513.1h4m45 0h2m9 0h4m10 0h2m133 0h2M1349 542.1h2m13 0h1M1378 571.2h3M1139 658.4h1m29 0h3m108 0h4M1287 687.5h1m83 0h1"/>
<path stroke="#cc00cc" stroke-width="29.3" d="M1218 77h3m5 0h3m27 0h3m45 0h3m12 0h3m43 0h3M1217 164.2h4m40 0h3m1 0h3m9 0h4m91 0h2M1237 251.4h3m5 0h3m13 0h2m31 0h2m68 0h2m1 0h2M1346 396.8h2M1093 513.1h4m120 0h3m30 0h4"/>
<path stroke="#cc3399" stroke-width="29.3" d="M1314 251.4h1"/>
<path stroke="#cc4488" stroke-width="29.3" d="M1335 77h4"/>
<path stroke="#cc6666" stroke-width="29.3" d="M1287 164.2h1"/>
<path stroke="#cccc00" stroke-width="29.3" d="M1139 77h3M1113 106.1h2m215 0h1M1159 135.2h2m20 0h2m13 0h2m8 0h4M1190 164.2h2m5 0h3m6 0h2m48 0h1M1118 193.3h4m20 0h5m8 0h4m7 0h1m5 0h2m38 0h4m13 0h1m40 0h1m5 0h1M1173 222.4h2M1136 251.4h3m4 0h1m33 0h3M1221 280.5h3m10 0h1m33 0h1M1141 338.6h3m80 0h2M1218 367.7h2m9 0h1M1113 396.8h3m5 0h1m5 0h1m14 0h1m85 0h2m14 0h1M1107 425.9h1m115 0h1m25 0h2M1202 454.9h1m32 0h2m23 0h2m18 0h4m60 0h2M1227 484h4m86 0h2M1118 513.1h1m8 0h4m76 0h4M1137 542.1h1m195 0h3M1299 629.3h3m10 0h1M1093 658.4h1m286 0h2"/>
<path stroke="#dd00dd" stroke-width="29.3" d="M1281 77h3m63 0h4M1104 164.2h4m175 0h3M1098 513.1h1m50 0h3m70 0h1"/>
<path stroke="#dd4499" stroke-width="29.3" d="M1140 193.3h2"/>
<path stroke="#dd5577" stroke-width="29.3" d="M1271 193.3h1"/>
<path stroke="#dddd00" stroke-width="29.3" d="M1105 106.1h2m25 0h1M1171 135.2h3m3 0h3m18 0h4M1155 164.2h2m2 0h2m34 0h2M1188 193.3h3m14 0h2M1165 251.4h8m7 0h3M1247 280.5h3m11 0h3M1247 338.6h4M1101 396.8h1m147 0h3m50 0h2M1217 425.9h1m48 0h4m50 0h2M1309 454.9h4M1206 513.1h1m129 0h3m20 0h2M1359 542.1h3M1367 571.2h3m3 0h2M1382 600.3h1M1364 629.3h4M1378 658.4h2M1366 687.5h3"/>
<path stroke="#eeee00" stroke-width="29.3" d="M1095 77h2M1136 106.1h3M1162 135.2h5m21 0h4M1211 164.2h2M1245 367.7h3m9 0h1m16 0h3M1265 396.8h2M1282 425.9h2M1278 454.9h2"/>
<path stroke="#ff00ff" stroke-width="29.3" d="M1367 164.2h3M1112 193.3h3m106 0h1m53 0h1m11 0h3m29 0h2m50 0h2M1287 513.1h1m90 0h3"/>
<path stroke="#ffff00" stroke-width="29.3" d="M1093 77h2M1155 135.2h4m2 0h1m12 0h3m3 0h1M1173 164.2h3M1155 251.4h2M1217 309.6h1M1262 367.7h3M1306 454.9h3M1190 513.1h4M1370 571.2h3m2 0h3m3 0h2"/>
</g></g>
<rect x="1154.5" y="62.5" width="1" height="639.5" fill="#fff" opacity="0.85"/>
<rect x="1216.5" y="62.5" width="1" height="639.5" fill="#fff" opacity="0.85"/>
<rect x="1276.5" y="62.5" width="1" height="639.5" fill="#fff" opacity="0.85"/>
<rect x="1321.5" y="62.5" width="1" height="639.5" fill="#fff" opacity="0.85"/>
<rect x="1363.5" y="62.5" width="1" height="639.5" fill="#fff" opacity="0.85"/>
<text x="1087.5" y="83.7" font-size="19.2" text-anchor="end" fill="#e41a1c">Egr1</text>
<text x="1087.5" y="112.5" font-size="19.2" text-anchor="end" fill="#e41a1c">Fosb</text>
<text x="1087.5" y="141.3" font-size="19.2" text-anchor="end" fill="#377eb8">Fgl2</text>
<text x="1087.5" y="168.6" font-size="19.2" text-anchor="end" fill="#377eb8">Nkg7</text>
<text x="1087.5" y="201.4" font-size="19.2" text-anchor="end" fill="#377eb8">Ccl5</text>
<text x="1087.5" y="228.7" font-size="19.2" text-anchor="end" fill="#377eb8">Plac8</text>
<text x="1087.5" y="257.5" font-size="19.2" text-anchor="end" fill="#377eb8">Ctsw</text>
<text x="1087.5" y="288" font-size="19.2" text-anchor="end" fill="#4daf4a">Rsp7</text>
<text x="1087.5" y="316" font-size="19.2" text-anchor="end" fill="#4daf4a">Rsp2</text>
<text x="1087.5" y="344.9" font-size="19.2" text-anchor="end" fill="#4daf4a">Rpsa</text>
<text x="1087.5" y="375.3" font-size="19.2" text-anchor="end" fill="#4daf4a">Rps8</text>
<text x="1087.5" y="404.4" font-size="19.2" text-anchor="end" fill="#984ea3">Klf2</text>
<text x="1087.5" y="433.1" font-size="19.2" text-anchor="end" fill="#984ea3">Slamf6</text>
<text x="1087.5" y="463.6" font-size="19.2" text-anchor="end" fill="#984ea3">S1pr1</text>
<text x="1087.5" y="490.5" font-size="19.2" text-anchor="end" fill="#984ea3">Il6ra</text>
<text x="1087.5" y="517.5" font-size="19.2" text-anchor="end" fill="#f08228">Cxcr6</text>
<text x="1087.5" y="552.3" font-size="19.2" text-anchor="end" fill="#f08228">Ccr8</text>
<text x="1087.5" y="583.7" font-size="19.2" text-anchor="end" fill="#96a032">Foxp3</text>
<text x="1087.5" y="614.1" font-size="19.2" text-anchor="end" fill="#96a032">Flicr</text>
<text x="1087.5" y="642" font-size="19.2" text-anchor="end" fill="#96a032">Areg</text>
<text x="1087.5" y="668.1" font-size="19.2" text-anchor="end" fill="#96a032">Ikzf2</text>
<text x="1087.5" y="700.3" font-size="19.2" text-anchor="end" fill="#96a032">Il2ra</text>
<text x="1129.5" y="756.3" font-size="32.5">CD4<tspan font-size="17" dy="-11.5">+</tspan><tspan dy="11.5"> T cells</tspan></text>
<text x="1136.5" y="1007.7" font-size="19.7">Expression</text>
<defs><linearGradient id="lg"><stop offset="0" stop-color="#f0f"/><stop offset="0.5" stop-color="#000"/><stop offset="1" stop-color="#ff0"/></linearGradient></defs>
<rect x="1095.4" y="1046.2" width="198.4" height="40" fill="url(#lg)"/>
<path d="M1115.2 1046.2v7M1115.2 1079.1v7" stroke="#fff" stroke-width="1"/>
<path d="M1154.7 1046.2v7M1154.7 1079.1v7" stroke="#fff" stroke-width="1"/>
<path d="M1194.7 1046.2v7M1194.7 1079.1v7" stroke="#fff" stroke-width="1"/>
<path d="M1234.6 1046.2v7M1234.6 1079.1v7" stroke="#fff" stroke-width="1"/>
<path d="M1274.1 1046.2v7M1274.1 1079.1v7" stroke="#fff" stroke-width="1"/>
<text x="1125.7" y="1042.4" font-size="19" text-anchor="middle">-2</text>
<text x="1164" y="1042.4" font-size="19" text-anchor="middle">-1</text>
<text x="1201.5" y="1042.4" font-size="19" text-anchor="middle">0</text>
<text x="1234" y="1042.4" font-size="19" text-anchor="middle">1</text>
<text x="1267.6" y="1042.4" font-size="19" text-anchor="middle">2</text>
<text x="1552" y="18.4" font-size="18.3" text-anchor="middle">0</text>
<text x="1657" y="18.4" font-size="18.3" text-anchor="middle">1</text>
<text x="1749" y="18.4" font-size="18.3" text-anchor="middle">2</text>
<text x="1797" y="18.4" font-size="18.3" text-anchor="middle">3</text>
<text x="1829" y="18.4" font-size="18.3" text-anchor="middle">4</text>
<text x="1861" y="18.4" font-size="18.3" text-anchor="middle">5</text>
<text x="1879" y="18.4" font-size="18.3" text-anchor="middle">6</text>
<text x="1899" y="18.4" font-size="18.3" text-anchor="middle">7</text>
<text x="1910" y="18.4" font-size="18.3" text-anchor="middle">8</text>
<text x="1921" y="18.4" font-size="18.3" text-anchor="middle">9</text>
<text x="1474.1" y="55" font-size="22.8" text-anchor="end">Cluster</text>
<rect x="1486" y="30" width="128.2" height="24" fill="#e41a1c"/>
<rect x="1615" y="30" width="99.2" height="24" fill="#4a73a7"/>
<rect x="1715" y="30" width="71.2" height="24" fill="#48a462"/>
<rect x="1787" y="30" width="47.2" height="24" fill="#7f6e85"/>
<rect x="1835" y="30" width="34.2" height="24" fill="#d16948"/>
<rect x="1870" y="30" width="24.2" height="24" fill="#ffb817"/>
<rect x="1895" y="30" width="15.2" height="24" fill="#e1c72f"/>
<rect x="1911" y="30" width="6.2" height="24" fill="#b8604a"/>
<rect x="1918" y="30" width="7.2" height="24" fill="#ed84bb"/>
<rect x="1926" y="30" width="5.2" height="24" fill="#999999"/>
<clipPath id="c33"><rect x="1486" y="75.8" width="446" height="1226.2"/></clipPath>
<g clip-path="url(#c33)"><g filter="url(#hb)">
<path fill="#550055" d="M1486 75.8h129v26.5h-129zM1715 75.8h72v26.5h-72zM1870 75.8h25v26.5h-25zM1911 75.8h7v26.5h-7zM1486 101.9h129v26.5h-129zM1715 101.9h72v26.5h-72zM1870 101.9h25v26.5h-25zM1911 101.9h7v26.5h-7zM1486 128h129v26.5h-129zM1715 128h72v26.5h-72zM1870 128h25v26.5h-25zM1486 154.1h129v26.5h-129zM1615 154.1h100v26.5h-100zM1715 154.1h72v26.5h-72zM1787 154.1h48v26.5h-48zM1870 154.1h25v26.5h-25zM1911 154.1h7v26.5h-7zM1926 154.1h6v26.5h-6zM1486 180.2h129v26.5h-129zM1715 180.2h72v26.5h-72zM1870 180.2h25v26.5h-25zM1911 180.2h7v26.5h-7zM1486 232.3h129v26.5h-129zM1615 232.3h100v26.5h-100zM1715 232.3h72v26.5h-72zM1787 232.3h48v26.5h-48zM1835 232.3h35v26.5h-35zM1870 232.3h25v26.5h-25zM1895 232.3h16v26.5h-16zM1911 232.3h7v26.5h-7zM1918 232.3h8v26.5h-8zM1926 232.3h6v26.5h-6zM1615 258.4h100v26.5h-100zM1486 284.5h129v26.5h-129zM1615 284.5h100v26.5h-100zM1715 284.5h72v26.5h-72zM1787 284.5h48v26.5h-48zM1835 284.5h35v26.5h-35zM1870 284.5h25v26.5h-25zM1895 284.5h16v26.5h-16zM1911 284.5h7v26.5h-7zM1918 284.5h8v26.5h-8zM1926 284.5h6v26.5h-6zM1486 310.6h129v26.5h-129zM1615 310.6h100v26.5h-100zM1715 310.6h72v26.5h-72zM1787 310.6h48v26.5h-48zM1835 310.6h35v26.5h-35zM1870 310.6h25v26.5h-25zM1895 310.6h16v26.5h-16zM1911 310.6h7v26.5h-7zM1918 310.6h8v26.5h-8zM1926 310.6h6v26.5h-6zM1715 336.7h72v26.5h-72zM1911 362.8h7v26.5h-7zM1926 362.8h6v26.5h-6zM1486 388.9h129v26.5h-129zM1615 388.9h100v26.5h-100zM1715 388.9h72v26.5h-72zM1787 388.9h48v26.5h-48zM1835 388.9h35v26.5h-35zM1870 388.9h25v26.5h-25zM1895 388.9h16v26.5h-16zM1911 388.9h7v26.5h-7zM1918 388.9h8v26.5h-8zM1926 388.9h6v26.5h-6zM1715 415h72v26.5h-72zM1835 415h35v26.5h-35zM1870 415h25v26.5h-25zM1911 415h7v26.5h-7zM1787 467.1h48v26.5h-48zM1486 493.2h129v26.5h-129zM1615 493.2h100v26.5h-100zM1715 493.2h72v26.5h-72zM1787 493.2h48v26.5h-48zM1835 493.2h35v26.5h-35zM1870 493.2h25v26.5h-25zM1895 493.2h16v26.5h-16zM1911 493.2h7v26.5h-7zM1918 493.2h8v26.5h-8zM1926 493.2h6v26.5h-6zM1787 519.3h48v26.5h-48zM1787 545.4h48v26.5h-48zM1835 623.7h35v26.5h-35zM1895 623.7h16v26.5h-16zM1835 649.8h35v26.5h-35zM1835 675.9h35v26.5h-35zM1870 701.9h25v26.5h-25zM1870 728h25v26.5h-25zM1486 754.1h129v26.5h-129zM1615 754.1h100v26.5h-100zM1715 754.1h72v26.5h-72zM1787 754.1h48v26.5h-48zM1835 754.1h35v26.5h-35zM1870 754.1h25v26.5h-25zM1895 754.1h16v26.5h-16zM1911 754.1h7v26.5h-7zM1918 754.1h8v26.5h-8zM1926 754.1h6v26.5h-6zM1835 780.2h35v26.5h-35zM1870 780.2h25v26.5h-25zM1615 806.3h100v26.5h-100zM1870 806.3h25v26.5h-25zM1486 832.4h129v26.5h-129zM1615 832.4h100v26.5h-100zM1715 832.4h72v26.5h-72zM1787 832.4h48v26.5h-48zM1835 832.4h35v26.5h-35zM1870 832.4h25v26.5h-25zM1895 832.4h16v26.5h-16zM1911 832.4h7v26.5h-7zM1918 832.4h8v26.5h-8zM1926 832.4h6v26.5h-6zM1895 858.5h16v26.5h-16zM1926 858.5h6v26.5h-6zM1486 1145.5h129v26.5h-129zM1615 1145.5h100v26.5h-100zM1715 1145.5h72v26.5h-72zM1787 1145.5h48v26.5h-48zM1835 1145.5h35v26.5h-35zM1870 1145.5h25v26.5h-25zM1895 1145.5h16v26.5h-16zM1911 1145.5h7v26.5h-7zM1918 1145.5h8v26.5h-8zM1926 1145.5h6v26.5h-6zM1918 1171.6h8v26.5h-8zM1486 1197.6h129v26.5h-129zM1615 1197.6h100v26.5h-100zM1715 1197.6h72v26.5h-72zM1787 1197.6h48v26.5h-48zM1835 1197.6h35v26.5h-35zM1870 1197.6h25v26.5h-25zM1895 1197.6h16v26.5h-16zM1911 1197.6h7v26.5h-7zM1918 1197.6h8v26.5h-8zM1926 1197.6h6v26.5h-6z"/>
<path fill="#770077" d="M1615 75.8h100v26.5h-100zM1787 75.8h48v26.5h-48zM1835 75.8h35v26.5h-35zM1895 75.8h16v26.5h-16zM1918 75.8h8v26.5h-8zM1926 75.8h6v26.5h-6zM1787 101.9h48v26.5h-48zM1918 101.9h8v26.5h-8zM1615 128h100v26.5h-100zM1787 128h48v26.5h-48zM1835 128h35v26.5h-35zM1895 128h16v26.5h-16zM1911 128h7v26.5h-7zM1918 128h8v26.5h-8zM1926 128h6v26.5h-6zM1835 154.1h35v26.5h-35zM1895 154.1h16v26.5h-16zM1918 154.1h8v26.5h-8zM1615 180.2h100v26.5h-100zM1787 180.2h48v26.5h-48zM1835 180.2h35v26.5h-35zM1895 180.2h16v26.5h-16zM1918 180.2h8v26.5h-8zM1926 180.2h6v26.5h-6zM1486 258.4h129v26.5h-129zM1715 258.4h72v26.5h-72zM1787 258.4h48v26.5h-48zM1835 258.4h35v26.5h-35zM1870 258.4h25v26.5h-25zM1895 258.4h16v26.5h-16zM1911 258.4h7v26.5h-7zM1918 258.4h8v26.5h-8zM1926 258.4h6v26.5h-6zM1926 336.7h6v26.5h-6zM1486 362.8h129v26.5h-129zM1615 362.8h100v26.5h-100zM1715 362.8h72v26.5h-72zM1787 362.8h48v26.5h-48zM1835 362.8h35v26.5h-35zM1870 362.8h25v26.5h-25zM1895 362.8h16v26.5h-16zM1918 362.8h8v26.5h-8zM1486 415h129v26.5h-129zM1615 415h100v26.5h-100zM1787 415h48v26.5h-48zM1895 415h16v26.5h-16zM1918 415h8v26.5h-8zM1926 415h6v26.5h-6zM1486 467.1h129v26.5h-129zM1615 467.1h100v26.5h-100zM1715 467.1h72v26.5h-72zM1835 467.1h35v26.5h-35zM1870 467.1h25v26.5h-25zM1895 467.1h16v26.5h-16zM1911 467.1h7v26.5h-7zM1918 467.1h8v26.5h-8zM1926 467.1h6v26.5h-6zM1486 519.3h129v26.5h-129zM1615 519.3h100v26.5h-100zM1715 519.3h72v26.5h-72zM1835 519.3h35v26.5h-35zM1870 519.3h25v26.5h-25zM1895 519.3h16v26.5h-16zM1911 519.3h7v26.5h-7zM1918 519.3h8v26.5h-8zM1926 519.3h6v26.5h-6zM1486 545.4h129v26.5h-129zM1615 545.4h100v26.5h-100zM1715 545.4h72v26.5h-72zM1835 545.4h35v26.5h-35zM1870 545.4h25v26.5h-25zM1895 545.4h16v26.5h-16zM1911 545.4h7v26.5h-7zM1918 545.4h8v26.5h-8zM1926 545.4h6v26.5h-6zM1486 623.7h129v26.5h-129zM1615 623.7h100v26.5h-100zM1715 623.7h72v26.5h-72zM1787 623.7h48v26.5h-48zM1870 623.7h25v26.5h-25zM1911 623.7h7v26.5h-7zM1918 623.7h8v26.5h-8zM1926 623.7h6v26.5h-6zM1835 728h35v26.5h-35zM1486 780.2h129v26.5h-129zM1615 780.2h100v26.5h-100zM1715 780.2h72v26.5h-72zM1787 780.2h48v26.5h-48zM1895 780.2h16v26.5h-16zM1911 780.2h7v26.5h-7zM1918 780.2h8v26.5h-8zM1926 780.2h6v26.5h-6zM1486 806.3h129v26.5h-129zM1715 806.3h72v26.5h-72zM1787 806.3h48v26.5h-48zM1835 806.3h35v26.5h-35zM1895 806.3h16v26.5h-16zM1911 806.3h7v26.5h-7zM1918 806.3h8v26.5h-8zM1926 806.3h6v26.5h-6zM1486 858.5h129v26.5h-129zM1615 858.5h100v26.5h-100zM1715 858.5h72v26.5h-72zM1787 858.5h48v26.5h-48zM1835 858.5h35v26.5h-35zM1870 858.5h25v26.5h-25zM1911 858.5h7v26.5h-7zM1918 858.5h8v26.5h-8zM1486 1171.6h129v26.5h-129zM1615 1171.6h100v26.5h-100zM1715 1171.6h72v26.5h-72zM1787 1171.6h48v26.5h-48zM1835 1171.6h35v26.5h-35zM1870 1171.6h25v26.5h-25zM1895 1171.6h16v26.5h-16zM1911 1171.6h7v26.5h-7zM1926 1171.6h6v26.5h-6z"/>
<path fill="#aa00aa" d="M1615 101.9h100v26.5h-100zM1835 101.9h35v26.5h-35zM1895 101.9h16v26.5h-16zM1926 101.9h6v26.5h-6zM1926 206.2h6v26.5h-6zM1486 441.1h129v26.5h-129zM1615 441.1h100v26.5h-100zM1715 441.1h72v26.5h-72zM1835 441.1h35v26.5h-35zM1870 441.1h25v26.5h-25zM1895 441.1h16v26.5h-16zM1911 441.1h7v26.5h-7zM1918 441.1h8v26.5h-8zM1926 441.1h6v26.5h-6zM1486 701.9h129v26.5h-129zM1615 701.9h100v26.5h-100zM1715 701.9h72v26.5h-72zM1787 701.9h48v26.5h-48zM1835 701.9h35v26.5h-35zM1895 701.9h16v26.5h-16zM1911 701.9h7v26.5h-7zM1918 701.9h8v26.5h-8zM1926 701.9h6v26.5h-6zM1486 728h129v26.5h-129zM1615 728h100v26.5h-100zM1715 728h72v26.5h-72zM1787 728h48v26.5h-48zM1895 728h16v26.5h-16zM1911 728h7v26.5h-7zM1918 728h8v26.5h-8zM1926 728h6v26.5h-6z"/>
<path fill="#dd00dd" d="M1486 206.2h129v26.5h-129zM1615 206.2h100v26.5h-100zM1715 206.2h72v26.5h-72zM1787 206.2h48v26.5h-48zM1835 206.2h35v26.5h-35zM1870 206.2h25v26.5h-25zM1895 206.2h16v26.5h-16zM1911 206.2h7v26.5h-7zM1918 206.2h8v26.5h-8zM1486 336.7h129v26.5h-129zM1615 336.7h100v26.5h-100zM1787 336.7h48v26.5h-48zM1835 336.7h35v26.5h-35zM1870 336.7h25v26.5h-25zM1895 336.7h16v26.5h-16zM1911 336.7h7v26.5h-7zM1918 336.7h8v26.5h-8z"/>
<path fill="#110011" d="M1787 441.1h48v26.5h-48zM1486 910.7h129v26.5h-129zM1615 910.7h100v26.5h-100zM1715 910.7h72v26.5h-72zM1787 910.7h48v26.5h-48zM1835 910.7h35v26.5h-35zM1870 910.7h25v26.5h-25zM1895 910.7h16v26.5h-16zM1911 910.7h7v26.5h-7zM1918 910.7h8v26.5h-8zM1926 910.7h6v26.5h-6zM1486 1015h129v26.5h-129zM1615 1015h100v26.5h-100zM1715 1015h72v26.5h-72zM1787 1015h48v26.5h-48zM1835 1015h35v26.5h-35zM1870 1015h25v26.5h-25zM1895 1015h16v26.5h-16zM1911 1015h7v26.5h-7zM1918 1015h8v26.5h-8zM1926 1015h6v26.5h-6zM1486 1093.3h129v26.5h-129zM1615 1093.3h100v26.5h-100zM1715 1093.3h72v26.5h-72zM1787 1093.3h48v26.5h-48zM1835 1093.3h35v26.5h-35zM1870 1093.3h25v26.5h-25zM1895 1093.3h16v26.5h-16zM1911 1093.3h7v26.5h-7zM1918 1093.3h8v26.5h-8zM1926 1093.3h6v26.5h-6zM1486 1249.8h129v26.5h-129zM1615 1249.8h100v26.5h-100zM1715 1249.8h72v26.5h-72zM1787 1249.8h48v26.5h-48zM1835 1249.8h35v26.5h-35zM1870 1249.8h25v26.5h-25zM1895 1249.8h16v26.5h-16zM1911 1249.8h7v26.5h-7zM1918 1249.8h8v26.5h-8zM1926 1249.8h6v26.5h-6z"/>
<path fill="#330033" d="M1486 571.5h129v26.5h-129zM1615 571.5h100v26.5h-100zM1715 571.5h72v26.5h-72zM1787 571.5h48v26.5h-48zM1835 571.5h35v26.5h-35zM1870 571.5h25v26.5h-25zM1895 571.5h16v26.5h-16zM1911 571.5h7v26.5h-7zM1918 571.5h8v26.5h-8zM1926 571.5h6v26.5h-6zM1486 597.6h129v26.5h-129zM1615 597.6h100v26.5h-100zM1715 597.6h72v26.5h-72zM1787 597.6h48v26.5h-48zM1835 597.6h35v26.5h-35zM1870 597.6h25v26.5h-25zM1895 597.6h16v26.5h-16zM1911 597.6h7v26.5h-7zM1918 597.6h8v26.5h-8zM1926 597.6h6v26.5h-6zM1486 649.8h129v26.5h-129zM1615 649.8h100v26.5h-100zM1715 649.8h72v26.5h-72zM1787 649.8h48v26.5h-48zM1870 649.8h25v26.5h-25zM1895 649.8h16v26.5h-16zM1911 649.8h7v26.5h-7zM1918 649.8h8v26.5h-8zM1926 649.8h6v26.5h-6zM1486 675.9h129v26.5h-129zM1615 675.9h100v26.5h-100zM1715 675.9h72v26.5h-72zM1787 675.9h48v26.5h-48zM1870 675.9h25v26.5h-25zM1895 675.9h16v26.5h-16zM1911 675.9h7v26.5h-7zM1918 675.9h8v26.5h-8zM1926 675.9h6v26.5h-6zM1486 884.6h129v26.5h-129zM1615 884.6h100v26.5h-100zM1715 884.6h72v26.5h-72zM1787 884.6h48v26.5h-48zM1835 884.6h35v26.5h-35zM1870 884.6h25v26.5h-25zM1895 884.6h16v26.5h-16zM1911 884.6h7v26.5h-7zM1918 884.6h8v26.5h-8zM1926 884.6h6v26.5h-6zM1486 936.7h129v26.5h-129zM1615 936.7h100v26.5h-100zM1715 936.7h72v26.5h-72zM1787 936.7h48v26.5h-48zM1835 936.7h35v26.5h-35zM1870 936.7h25v26.5h-25zM1895 936.7h16v26.5h-16zM1911 936.7h7v26.5h-7zM1918 936.7h8v26.5h-8zM1926 936.7h6v26.5h-6zM1486 962.8h129v26.5h-129zM1615 962.8h100v26.5h-100zM1715 962.8h72v26.5h-72zM1787 962.8h48v26.5h-48zM1835 962.8h35v26.5h-35zM1870 962.8h25v26.5h-25zM1895 962.8h16v26.5h-16zM1911 962.8h7v26.5h-7zM1918 962.8h8v26.5h-8zM1926 962.8h6v26.5h-6zM1486 988.9h129v26.5h-129zM1615 988.9h100v26.5h-100zM1715 988.9h72v26.5h-72zM1787 988.9h48v26.5h-48zM1835 988.9h35v26.5h-35zM1870 988.9h25v26.5h-25zM1895 988.9h16v26.5h-16zM1911 988.9h7v26.5h-7zM1918 988.9h8v26.5h-8zM1926 988.9h6v26.5h-6zM1486 1041.1h129v26.5h-129zM1615 1041.1h100v26.5h-100zM1715 1041.1h72v26.5h-72zM1787 1041.1h48v26.5h-48zM1835 1041.1h35v26.5h-35zM1870 1041.1h25v26.5h-25zM1895 1041.1h16v26.5h-16zM1911 1041.1h7v26.5h-7zM1918 1041.1h8v26.5h-8zM1926 1041.1h6v26.5h-6zM1486 1067.2h129v26.5h-129zM1615 1067.2h100v26.5h-100zM1715 1067.2h72v26.5h-72zM1787 1067.2h48v26.5h-48zM1835 1067.2h35v26.5h-35zM1870 1067.2h25v26.5h-25zM1895 1067.2h16v26.5h-16zM1911 1067.2h7v26.5h-7zM1918 1067.2h8v26.5h-8zM1926 1067.2h6v26.5h-6zM1486 1119.4h129v26.5h-129zM1615 1119.4h100v26.5h-100zM1715 1119.4h72v26.5h-72zM1787 1119.4h48v26.5h-48zM1835 1119.4h35v26.5h-35zM1870 1119.4h25v26.5h-25zM1895 1119.4h16v26.5h-16zM1911 1119.4h7v26.5h-7zM1918 1119.4h8v26.5h-8zM1926 1119.4h6v26.5h-6zM1486 1223.7h129v26.5h-129zM1615 1223.7h100v26.5h-100zM1715 1223.7h72v26.5h-72zM1787 1223.7h48v26.5h-48zM1835 1223.7h35v26.5h-35zM1870 1223.7h25v26.5h-25zM1895 1223.7h16v26.5h-16zM1911 1223.7h7v26.5h-7zM1918 1223.7h8v26.5h-8zM1926 1223.7h6v26.5h-6zM1486 1275.9h129v26.5h-129zM1615 1275.9h100v26.5h-100zM1715 1275.9h72v26.5h-72zM1787 1275.9h48v26.5h-48zM1835 1275.9h35v26.5h-35zM1870 1275.9h25v26.5h-25zM1895 1275.9h16v26.5h-16zM1911 1275.9h7v26.5h-7zM1918 1275.9h8v26.5h-8zM1926 1275.9h6v26.5h-6z"/>
<path stroke="#000000" stroke-width="26.3" d="M1713 584.5h2m14 0h3m83 0h2m42 0h2m49 0h1m4 0h2M1555 610.6h1m96 0h1m73 0h2m63 0h3m21 0h2m47 0h2M1575 662.8h2m119 0h1M1616 688.9h2m27 0h3M1495 897.6h2m49 0h3m65 0h1m35 0h3m26 0h3m17 0h1m41 0h2M1523 949.8h5m43 0h3m10 0h2m242 0h3M1714 975.9h1m94 0h1M1500 1002h2m173 0h2m84 0h3m1 0h3m97 0h3m14 0h2m22 0h2M1493 1054.2h1m145 0h2m167 0h1m30 0h1m18 0h3M1696 1080.2h3m84 0h2m17 0h1m84 0h2m35 0h2M1616 1132.4h1m124 0h3m96 0h1m54 0h3M1724 1236.8h2M1502 1289h2"/>
<path stroke="#110011" stroke-width="26.3" d="M1819 401.9h1M1489 584.5h3m21 0h1m3 0h2m7 0h3m12 0h1m19 0h1m20 0h2m8 0h3m56 0h3m5 0h1m82 0h2m4 0h3m37 0h3m10 0h1m19 0h1m49 0h2m18 0h2m3 0h2m3 0h2m21 0h6M1492 610.6h1m84 0h3m70 0h2m99 0h1m8 0h3m18 0h2m41 0h2m14 0h2m42 0h3m22 0h4M1491 662.8h2m90 0h1m10 0h3m21 0h3m10 0h1m94 0h3m19 0h3m7 0h1m15 0h4m11 0h2m93 0h1m46 0h1M1502 688.9h1m15 0h2m34 0h3m13 0h2m63 0h1m83 0h1m37 0h3m14 0h2m44 0h1m68 0h2m2 0h2M1600 845.4h1M1486 897.6h3m9 0h1m31 0h3m49 0h2m6 0h2m19 0h1m42 0h1m70 0h2m36 0h2m10 0h3m59 0h6m41 0h5M1493 949.8h1m58 0h1m25 0h2m10 0h1m14 0h3m14 0h3m24 0h4m32 0h3m58 0h2m20 0h2m1 0h1m21 0h2m4 0h2m7 0h5m5 0h3m2 0h2m10 0h2m7 0h3m12 0h2m7 0h2m14 0h2m44 0h2M1510 975.9h2m4 0h3m47 0h1m10 0h1m37 0h1m2 0h3m13 0h3m30 0h1m17 0h2m9 0h3m25 0h2m46 0h3m4 0h1m18 0h3m67 0h2m51 0h2M1491 1002h2m25 0h3m2 0h1m11 0h6m30 0h1m4 0h2m3 0h2m18 0h3m49 0h3m13 0h1m1 0h1m69 0h1m18 0h1m19 0h2m21 0h1m31 0h3m4 0h1m4 0h3m24 0h2m11 0h5m6 0h1m23 0h1m7 0h2M1517 1054.2h2m33 0h2m39 0h2m20 0h2m10 0h2m4 0h2m40 0h2m3 0h1m26 0h2m6 0h1m61 0h3m4 0h3m26 0h1m33 0h2m30 0h3m6 0h1m34 0h1M1493 1080.2h1m7 0h1m5 0h1m57 0h1m1 0h2m8 0h1m70 0h3m5 0h2m15 0h3m6 0h5m20 0h3m13 0h3m30 0h1m12 0h1m23 0h3m39 0h1m1 0h3m2 0h2M1526 1132.4h1m46 0h3m11 0h2m7 0h2m32 0h4m23 0h1m48 0h3m5 0h1m75 0h1m57 0h1m32 0h2m8 0h3M1755 1158.5h2M1488 1236.8h3m15 0h3m24 0h3m84 0h3m14 0h2m7 0h2m1 0h2m12 0h1m32 0h5m19 0h3m52 0h2m63 0h3m7 0h2m23 0h1m19 0h1m2 0h3m4 0h3M1510 1289h2m45 0h2m80 0h4m11 0h4m18 0h3m5 0h3m12 0h2m22 0h3m6 0h3m24 0h1m29 0h2m22 0h2m8 0h2m28 0h3m64 0h1"/>
<path stroke="#111100" stroke-width="26.3" d="M1665 662.8h3M1602 949.8h1M1640 975.9h3m10 0h2M1560 1002h1M1821 1054.2h3M1685 1132.4h3m132 0h2M1618 1236.8h2M1873 1289h2"/>
<path stroke="#111111" stroke-width="26.3" d="M1619 688.9h2M1543 1002h3"/>
<path stroke="#220011" stroke-width="26.3" d="M1759 662.8h1M1852 1236.8h3"/>
<path stroke="#220022" stroke-width="26.3" d="M1824 167.1h2M1504 245.4h5M1922 297.6h3m5 0h2M1506 323.6h3m247 0h3m98 0h3M1501 401.9h1m278 0h5M1853 428h3M1682 506.3h3M1847 688.9h1M1860 767.2h1M1794 845.4h2M1723 1158.5h3M1581 1210.7h1m86 0h3m199 0h1"/>
<path stroke="#221111" stroke-width="26.3" d="M1750 245.4h1M1637 584.5h2M1692 688.9h1m192 0h1M1589 897.6h1M1680 949.8h1m73 0h2M1605 975.9h1M1662 1002h1m11 0h1M1861 1054.2h2M1623 1080.2h2m206 0h3M1765 1289h1"/>
<path stroke="#222200" stroke-width="26.3" d="M1910 219.3h1M1859 245.4h1M1647 480.2h1M1599 688.9h1M1866 845.4h1M1536 897.6h1M1546 923.7h1m97 0h2m216 0h1M1758 1002h2M1919 1028.1h2M1691 1106.3h1M1663 1262.9h2m242 0h1M1620 1289h1"/>
<path stroke="#222211" stroke-width="26.3" d="M1931 923.7h1M1715 1002h1m53 0h1M1792 1054.2h1M1716 1106.3h1M1518 1132.4h2M1539 1236.8h3"/>
<path stroke="#330022" stroke-width="26.3" d="M1564 1028.1h1"/>
<path stroke="#330033" stroke-width="26.3" d="M1498 88.8h2m84 0h1M1488 141h2M1627 167.1h2m52 0h2m7 0h1m100 0h1m9 0h2m14 0h3m88 0h2M1730 193.2h2m159 0h1M1509 245.4h2m29 0h2m3 0h3m11 0h1m163 0h2m55 0h1m18 0h2m51 0h2m35 0h3m5 0h5m16 0h1M1511 297.6h2m13 0h4m14 0h3m7 0h3m176 0h1m63 0h1m64 0h1m16 0h2m45 0h1M1600 323.6h5m14 0h1m146 0h1m40 0h1m10 0h2m53 0h2m11 0h2m17 0h3m17 0h1M1486 401.9h2m36 0h2m25 0h6m15 0h2m57 0h2m4 0h1m35 0h3m95 0h2m42 0h1m12 0h2m2 0h1m55 0h2m3 0h2m26 0h2M1757 428h3m6 0h2m89 0h1M1504 506.3h1m57 0h2m9 0h1m11 0h3m27 0h1m37 0h4m42 0h3m91 0h3m52 0h2m2 0h2m8 0h3M1859 636.7h1M1864 662.8h1M1840 688.9h2M1490 767.2h4m25 0h3m93 0h3m12 0h2m87 0h1m6 0h2m55 0h2m45 0h3m58 0h2m10 0h2m26 0h1M1624 819.3h1m31 0h2m218 0h3M1515 845.4h2m67 0h2m24 0h2m4 0h1m78 0h2m60 0h1m21 0h2m32 0h4m4 0h2m3 0h3m90 0h1M1503 923.7h2m19 0h2m36 0h2m45 0h2m42 0h3m57 0h2m21 0h3m86 0h1m5 0h3m56 0h3m21 0h4M1557 1028.1h2m19 0h2m28 0h3m64 0h2m14 0h1m89 0h5m87 0h2m10 0h2M1504 1106.3h3m5 0h3m10 0h1m4 0h2m4 0h3m47 0h3m17 0h3m11 0h3m53 0h1m94 0h2m7 0h3m12 0h1m39 0h2m43 0h3m2 0h1m38 0h1M1541 1158.5h1m102 0h3m3 0h3m20 0h2m8 0h3m28 0h1m42 0h2m12 0h3m29 0h3m11 0h1m27 0h3m22 0h1m8 0h2m6 0h2m1 0h2m2 0h1m6 0h2M1581 1184.6h2M1512 1210.7h2m46 0h2m10 0h1m24 0h2m21 0h1m111 0h1m69 0h1m30 0h1m2 0h2m15 0h2m3 0h2m34 0h2M1515 1262.9h1m28 0h2m61 0h3m24 0h1m39 0h4m12 0h3m11 0h3m2 0h2m5 0h2m2 0h3m13 0h3m2 0h1m14 0h1m52 0h3m20 0h3m3 0h4m67 0h2"/>
<path stroke="#331111" stroke-width="26.3" d="M1621 584.5h1m138 0h1m132 0h1M1535 923.7h1M1668 949.8h1M1753 975.9h3m123 0h2"/>
<path stroke="#331122" stroke-width="26.3" d="M1887 193.2h1M1716 401.9h2M1525 767.2h1M1506 1028.1h2m134 0h2M1550 1106.3h2m181 0h1M1648 1262.9h2m16 0h3"/>
<path stroke="#331133" stroke-width="26.3" d="M1512 506.3h1M1848 1106.3h2"/>
<path stroke="#332200" stroke-width="26.3" d="M1528 245.4h1M1655 897.6h3M1505 1054.2h1m99 0h2M1863 1080.2h1M1583 1106.3h1M1632 1236.8h2"/>
<path stroke="#332211" stroke-width="26.3" d="M1615 245.4h1m266 0h1M1562 323.6h1M1725 584.5h2M1556 610.6h2m16 0h3m44 0h2m99 0h1M1592 662.8h2m28 0h1m18 0h1m125 0h1m12 0h1m7 0h1m20 0h3m118 0h1M1653 688.9h1M1503 897.6h1m3 0h1m80 0h1m13 0h1M1486 923.7h1m52 0h1m118 0h1m12 0h1m31 0h2m22 0h1m127 0h1m69 0h1M1726 975.9h3m81 0h1M1750 1002h1m64 0h1m107 0h1M1502 1028.1h1m8 0h3m158 0h1m64 0h1M1569 1054.2h1m156 0h1M1653 1080.2h1m8 0h3m85 0h1m155 0h3M1509 1106.3h2m181 0h1m29 0h1m6 0h3m143 0h1m49 0h1M1592 1132.4h1m11 0h1m30 0h1m117 0h1m28 0h1m72 0h1M1526 1236.8h2m274 0h1m31 0h1m25 0h1M1569 1262.9h1m325 0h1M1507 1289h1m193 0h3m106 0h1"/>
<path stroke="#332222" stroke-width="26.3" d="M1860 428h1M1918 584.5h3M1905 662.8h2M1718 845.4h1M1794 897.6h1m53 0h3M1594 949.8h1m218 0h1M1567 975.9h1m105 0h2M1778 1002h1M1740 1054.2h1m32 0h1M1532 1106.3h1M1501 1132.4h1m398 0h1M1520 1236.8h1M1662 1289h2"/>
<path stroke="#333300" stroke-width="26.3" d="M1597 88.8h2m145 0h1M1512 114.9h2m30 0h1m67 0h2M1514 167.1h3m13 0h1m244 0h2m7 0h2m89 0h2M1518 193.2h2m98 0h2m99 0h1m3 0h1m30 0h2m156 0h1M1543 219.3h2m231 0h1m137 0h1M1597 245.4h1M1572 271.5h2m80 0h1m77 0h1m157 0h1M1538 297.6h1m57 0h3m54 0h2m53 0h3m158 0h1M1641 323.6h2m209 0h1M1577 401.9h1m135 0h1M1539 428h1m21 0h1M1625 454.1h1m67 0h1m185 0h2m13 0h1M1488 558.5h3m209 0h1m156 0h1M1633 610.6h1M1579 636.7h2m75 0h1m127 0h1M1504 662.8h1m395 0h1m19 0h1M1663 688.9h3m216 0h1m40 0h1M1625 741.1h1m98 0h1m43 0h2M1588 767.2h2m103 0h1m19 0h2m110 0h3M1620 793.3h1m155 0h3m1 0h1m52 0h1M1529 845.4h2m10 0h1m28 0h1m133 0h1m57 0h1M1685 897.6h3m60 0h1m114 0h3M1576 923.7h2m193 0h2M1494 949.8h1M1870 975.9h2m46 0h1M1786 1002h1M1743 1028.1h1M1618 1054.2h1m99 0h1M1543 1080.2h1m100 0h1m225 0h1m10 0h1M1503 1106.3h1m29 0h3m39 0h1m62 0h1m76 0h1m16 0h1m20 0h1m24 0h2m114 0h1m8 0h4M1613 1132.4h1m77 0h1m105 0h1m10 0h1M1585 1158.5h1M1879 1184.6h1M1721 1210.7h1M1524 1236.8h1m164 0h3m24 0h1m105 0h1m12 0h1m3 0h1M1645 1262.9h1m19 0h1m109 0h1M1488 1289h1m101 0h1"/>
<path stroke="#333311" stroke-width="26.3" d="M1805 610.6h1M1694 767.2h1M1820 897.6h1M1600 923.7h1m38 0h1M1644 975.9h1m163 0h1M1743 1002h3M1702 1132.4h3M1630 1236.8h2M1806 1289h2"/>
<path stroke="#440044" stroke-width="26.3" d="M1798 114.9h3M1798 193.2h1M1564 271.5h3m21 0h2M1600 375.8h1m247 0h1M1824 428h3M1687 480.2h1M1650 558.5h1M1738 636.7h1M1590 793.3h1M1501 871.5h1m32 0h3m22 0h2m207 0h3M1543 923.7h3m199 0h1m55 0h3M1508 1028.1h3m91 0h1m70 0h1m12 0h2m24 0h2m186 0h1M1500 1106.3h2m123 0h2m187 0h2m15 0h3m86 0h1M1613 1262.9h2m47 0h1m149 0h3m47 0h3"/>
<path stroke="#441122" stroke-width="26.3" d="M1715 323.6h1M1929 767.2h1M1677 923.7h1M1926 1158.5h1"/>
<path stroke="#441133" stroke-width="26.3" d="M1892 88.8h3M1746 193.2h3M1734 245.4h1m67 0h1M1571 297.6h3M1699 323.6h2M1931 401.9h1M1838 428h1m43 0h2M1547 506.3h3m215 0h1m81 0h1M1509 767.2h1m337 0h2M1705 819.3h3m208 0h1M1707 845.4h1m175 0h1M1591 871.5h3M1588 1158.5h1m104 0h2M1596 1210.7h1"/>
<path stroke="#442211" stroke-width="26.3" d="M1532 610.6h1m235 0h2m6 0h1M1768 662.8h3M1926 688.9h1M1523 923.7h1M1492 1106.3h1M1623 1132.4h1m144 0h1m158 0h1M1786 1236.8h1"/>
<path stroke="#442222" stroke-width="26.3" d="M1721 88.8h1M1505 114.9h1m366 0h3m12 0h2M1568 141h3m150 0h1M1655 167.1h1m24 0h1M1575 193.2h1M1910 245.4h1M1504 297.6h1m303 0h2m2 0h2M1574 323.6h1m117 0h1m218 0h1M1561 401.9h1m21 0h1M1848 428h3m21 0h1M1824 584.5h3M1617 610.6h1m130 0h1m145 0h1m18 0h1M1512 662.8h1m147 0h1m94 0h1m114 0h3m13 0h1M1496 688.9h1m46 0h1m56 0h3m64 0h1m158 0h1m56 0h1M1529 767.2h1m74 0h2M1680 819.3h1m204 0h3M1526 845.4h1m6 0h1M1574 897.6h3m289 0h1m34 0h1m19 0h2M1487 949.8h1m318 0h2M1548 975.9h1m55 0h1m28 0h1m9 0h1m72 0h1m63 0h1m66 0h1M1497 1002h1m50 0h2m183 0h2M1504 1054.2h1m33 0h2m35 0h1m2 0h1m51 0h1m12 0h1m131 0h1M1486 1080.2h1m314 0h1m96 0h1M1499 1132.4h2m200 0h1m120 0h1m47 0h2m8 0h1M1609 1158.5h1m37 0h1m121 0h2M1530 1210.7h2m60 0h4m46 0h2m32 0h1m70 0h1m30 0h1m88 0h1M1551 1236.8h1m22 0h1m50 0h1m161 0h2m131 0h2M1726 1262.9h2"/>
<path stroke="#442233" stroke-width="26.3" d="M1706 88.8h2M1634 245.4h3M1805 767.2h1M1902 897.6h3M1525 1132.4h1M1876 1158.5h1M1535 1210.7h1m77 0h1m1 0h1m246 0h1M1542 1236.8h1"/>
<path stroke="#443300" stroke-width="26.3" d="M1702 610.6h1M1578 923.7h1M1508 975.9h1m325 0h1M1911 1028.1h2M1771 1080.2h2M1775 1106.3h1M1554 1132.4h1m171 0h1"/>
<path stroke="#443311" stroke-width="26.3" d="M1768 193.2h1M1928 297.6h2M1573 323.6h1m60 0h2M1882 584.5h1M1537 610.6h2m3 0h1m42 0h1m29 0h1m46 0h1m31 0h1m92 0h1m60 0h2m4 0h1m16 0h1m51 0h1M1538 662.8h1m342 0h1m6 0h1M1648 688.9h1m12 0h2m251 0h1M1493 897.6h2m72 0h2m34 0h2m1 0h1m188 0h3m93 0h1M1511 923.7h1m78 0h3m195 0h2M1558 949.8h1m370 0h1M1628 975.9h1m146 0h2m18 0h1m9 0h3M1639 1002h3m90 0h1m13 0h1m1 0h2m63 0h2M1591 1054.2h2m151 0h2m18 0h1m17 0h2M1606 1080.2h1M1572 1106.3h1m188 0h1m8 0h1M1610 1132.4h1m23 0h1m115 0h1m61 0h1m5 0h1m7 0h2m47 0h1M1619 1158.5h1m84 0h2M1503 1236.8h1m390 0h1M1511 1262.9h1m6 0h1m206 0h1M1584 1289h2m19 0h1m224 0h1"/>
<path stroke="#443322" stroke-width="26.3" d="M1534 245.4h1M1697 323.6h2M1830 662.8h1M1712 688.9h1M1588 949.8h1m188 0h1m26 0h2M1574 975.9h2m10 0h1M1543 1236.8h1m71 0h1m153 0h1M1740 1289h1m173 0h1"/>
<path stroke="#444400" stroke-width="26.3" d="M1532 88.8h5m17 0h3m22 0h3m55 0h1m93 0h3m3 0h1m3 0h2m15 0h2M1510 114.9h2m22 0h5m15 0h2m26 0h2m166 0h2m32 0h2m36 0h1m48 0h1m3 0h3M1511 141h2m25 0h3m25 0h2m16 0h2m26 0h2m159 0h2m5 0h1M1499 167.1h2m1 0h1m29 0h2m179 0h2m13 0h2m20 0h1m9 0h2m18 0h3m78 0h1m8 0h2M1489 193.2h2m30 0h1m11 0h3m26 0h2m27 0h2m105 0h1m19 0h1m127 0h1m46 0h2M1545 219.3h1m112 0h3m15 0h1m16 0h3m118 0h1M1626 245.4h2m47 0h2m6 0h1m3 0h2m13 0h2m38 0h1m133 0h1M1498 271.5h1m91 0h1m62 0h1m94 0h1m144 0h1m16 0h1M1509 297.6h1m132 0h3m35 0h3m28 0h3M1586 323.6h1m34 0h2m24 0h3m33 0h1m24 0h1m125 0h1m55 0h2M1505 349.7h3m2 0h1m90 0h1M1519 375.8h1m64 0h2m24 0h1m94 0h1m123 0h1M1534 401.9h3m198 0h1m80 0h1m35 0h1m21 0h1m37 0h1M1538 428h1m60 0h1m152 0h3m77 0h1M1851 454.1h1M1645 506.3h1M1897 532.4h1M1585 584.5h1m28 0h1m147 0h1m8 0h3M1583 610.6h1m273 0h1m21 0h3m38 0h1M1569 636.7h1m74 0h3m76 0h3m82 0h1M1525 662.8h3m8 0h1m125 0h3m179 0h2M1643 715h1m30 0h1m8 0h3M1516 741.1h2m123 0h1m168 0h3M1510 767.2h2m123 0h1m56 0h1m121 0h1M1577 793.3h1m39 0h1m67 0h1m108 0h1M1591 819.3h1m12 0h1m126 0h1m36 0h4m32 0h1m54 0h1m5 0h3m20 0h2M1577 845.4h1M1838 871.5h3M1524 897.6h1m192 0h1m10 0h1m52 0h1m33 0h1M1688 923.7h2m105 0h2m8 0h1m24 0h1M1655 949.8h1m271 0h2M1593 975.9h1m197 0h1m49 0h1M1779 1002h1M1763 1028.1h1M1767 1054.2h2M1585 1106.3h1m55 0h1m61 0h1m36 0h1m5 0h1m26 0h2M1709 1132.4h1m27 0h1m187 0h1M1507 1158.5h2m33 0h1m124 0h1m65 0h3m174 0h1m10 0h2M1588 1184.6h1m291 0h1m25 0h1M1605 1210.7h1m15 0h1m100 0h1m73 0h1M1746 1236.8h1m57 0h3m111 0h2M1777 1262.9h1"/>
<path stroke="#444411" stroke-width="26.3" d="M1607 897.6h1M1790 949.8h3m23 0h2M1623 975.9h1M1736 1106.3h1M1488 1132.4h1M1571 1210.7h1m328 0h1M1723 1236.8h1"/>
<path stroke="#550055" stroke-width="26.3" d="M1654 88.8h3m28 0h2m22 0h2m88 0h2m53 0h3m44 0h3M1803 141h1M1855 167.1h3m41 0h3m16 0h1M1642 193.2h3m8 0h3m47 0h3m141 0h2m18 0h2M1522 271.5h2m211 0h1m53 0h2m7 0h1m2 0h3m14 0h2m17 0h2m15 0h2M1511 375.8h3m19 0h2m83 0h1m11 0h2m80 0h2m62 0h1m15 0h2m29 0h2M1506 428h2m67 0h3m82 0h2m16 0h2m20 0h1m198 0h3m2 0h3M1507 480.2h1m28 0h2m20 0h3m26 0h2m1 0h1m186 0h2m106 0h2m6 0h1M1516 532.4h2m328 0h1m76 0h2M1498 558.5h3m3 0h3m156 0h1m19 0h2m37 0h2m58 0h2m72 0h1m7 0h3M1566 584.5h1m31 0h3m21 0h3m29 0h2m19 0h2m58 0h2m15 0h2m57 0h4m12 0h3m16 0h2M1493 610.6h2m105 0h2m98 0h2m36 0h1m1 0h2M1503 636.7h2m5 0h3m47 0h2m117 0h1m62 0h2m182 0h2m3 0h1M1498 662.8h2m58 0h2m37 0h3m104 0h1m109 0h2m11 0h3M1488 688.9h2m152 0h3m68 0h2m5 0h3m40 0h1m22 0h1m99 0h2M1527 793.3h2m58 0h2m175 0h2m60 0h2m74 0h2m2 0h3M1783 819.3h3m109 0h1m9 0h1m20 0h3M1499 871.5h2m39 0h2m65 0h2m104 0h1m87 0h1m67 0h1m42 0h1M1518 897.6h2m201 0h1m112 0h1M1595 949.8h6m68 0h1m72 0h1m104 0h2M1486 975.9h3m109 0h2m63 0h2m180 0h2M1502 1002h3m23 0h1m3 0h2m52 0h2m45 0h2m37 0h2m219 0h2m33 0h2M1554 1054.2h3m107 0h1m2 0h1m73 0h3m18 0h2m1 0h1m127 0h2m23 0h2M1494 1080.2h3m24 0h3m8 0h1m104 0h5m73 0h2m1 0h3m89 0h1m71 0h2m5 0h2m39 0h2M1539 1132.4h3m13 0h2m94 0h3m118 0h2m102 0h2M1499 1184.6h1m22 0h3m8 0h3m47 0h2m9 0h2m148 0h3m5 0h1m130 0h2M1509 1236.8h3m48 0h2m15 0h3m90 0h2m15 0h2m109 0h3M1699 1262.9h1M1544 1289h2m27 0h2m118 0h1"/>
<path stroke="#551133" stroke-width="26.3" d="M1605 245.4h1M1825 323.6h1M1897 480.2h2M1658 532.4h1m56 0h1M1736 662.8h1M1607 767.2h1m44 0h1M1513 845.4h2m170 0h2m83 0h1M1668 1158.5h1m223 0h1M1652 1210.7h2m96 0h1m44 0h1"/>
<path stroke="#551144" stroke-width="26.3" d="M1703 88.8h1M1615 141h3M1897 193.2h3M1609 271.5h1m139 0h3M1602 375.8h2M1680 428h1M1611 480.2h1m130 0h3M1702 532.4h1M1736 558.5h1m14 0h1M1686 636.7h3M1846 741.1h1M1802 871.5h2"/>
<path stroke="#552222" stroke-width="26.3" d="M1868 271.5h1M1610 428h1M1798 662.8h1M1870 688.9h1M1563 767.2h1M1814 819.3h1M1852 949.8h1M1829 1132.4h3M1495 1158.5h1M1785 1210.7h1"/>
<path stroke="#552233" stroke-width="26.3" d="M1866 88.8h1M1521 114.9h3m359 0h2m33 0h1M1618 167.1h2m183 0h1m58 0h1M1781 245.4h1m12 0h3m91 0h1m33 0h1M1560 271.5h2m7 0h1m13 0h1m43 0h2m6 0h3M1735 297.6h1m11 0h1m46 0h2m15 0h1m95 0h2M1498 323.6h1m45 0h2m239 0h1M1757 375.8h1m53 0h1m43 0h1M1568 401.9h1m23 0h1m97 0h1m209 0h1M1674 480.2h1M1519 506.3h1m100 0h1M1684 532.4h1M1557 558.5h1m138 0h1M1798 610.6h1M1490 636.7h1m22 0h1m42 0h1m231 0h1m86 0h1M1630 662.8h1M1557 688.9h1m23 0h1M1691 767.2h1m95 0h1m32 0h1M1570 793.3h1m51 0h1m103 0h1m123 0h3M1618 819.3h1m26 0h1m43 0h2m5 0h2m23 0h2m125 0h1m2 0h1M1494 845.4h1m134 0h2m6 0h1m33 0h1m173 0h1m32 0h1M1723 871.5h1M1712 897.6h1M1760 949.8h1M1752 975.9h1m7 0h3M1557 1054.2h1M1576 1080.2h1m240 0h1m103 0h1M1492 1158.5h1m65 0h3m19 0h1m88 0h1m109 0h1m50 0h1m64 0h1M1541 1184.6h1m96 0h1m73 0h1m54 0h1m80 0h1M1501 1210.7h1m20 0h3m2 0h2m331 0h1m46 0h1M1846 1236.8h1m55 0h3"/>
<path stroke="#552244" stroke-width="26.3" d="M1703 323.6h3M1698 401.9h1M1775 480.2h1M1744 532.4h1m114 0h2M1861 1158.5h1m37 0h1"/>
<path stroke="#553311" stroke-width="26.3" d="M1753 141h2M1553 245.4h1M1919 297.6h1M1804 610.6h1m71 0h1M1672 662.8h1m134 0h2M1762 767.2h1M1881 819.3h1M1802 845.4h2M1653 897.6h1m60 0h1M1895 949.8h1M1490 975.9h2m173 0h2M1549 1236.8h1m89 0h1m18 0h1M1918 1289h1"/>
<path stroke="#553322" stroke-width="26.3" d="M1596 88.8h1m182 0h2m110 0h1M1502 114.9h3m269 0h2m106 0h1M1491 193.2h2m377 0h3M1567 245.4h1m5 0h1m1 0h2m2 0h3m88 0h2M1664 271.5h1M1639 297.6h3M1520 323.6h2m124 0h1m162 0h3m19 0h2M1749 375.8h2M1514 401.9h2m126 0h1m184 0h1m68 0h1M1887 428h3M1616 506.3h1M1737 532.4h2M1689 558.5h1M1531 584.5h1m363 0h1M1536 610.6h1m21 0h1m97 0h3m46 0h1m131 0h3m33 0h1M1497 636.7h3m339 0h1M1506 662.8h1m146 0h3m3 0h1m136 0h2m18 0h1m4 0h1m92 0h1M1747 688.9h1m32 0h1m18 0h1m27 0h1m14 0h1M1876 741.1h2M1508 767.2h1m201 0h1M1523 793.3h2m273 0h1M1521 819.3h1M1520 845.4h1m185 0h1m99 0h1M1553 897.6h1m88 0h1m192 0h1M1770 923.7h1M1489 949.8h1m332 0h1m30 0h1M1501 975.9h1m49 0h2m15 0h1m62 0h2m42 0h1m150 0h1m1 0h1M1493 1002h2m124 0h1m39 0h1m29 0h1m151 0h1M1551 1054.2h1m56 0h2m146 0h2m85 0h2m42 0h1m15 0h1M1603 1080.2h1m84 0h1m45 0h1m19 0h1m13 0h1M1567 1132.4h1m47 0h1m3 0h1m62 0h3m3 0h1m55 0h1m172 0h1M1518 1158.5h1m84 0h2m131 0h1m10 0h1M1686 1210.7h1m112 0h3m24 0h1m20 0h2m59 0h3M1583 1236.8h3m71 0h1m72 0h3m128 0h3m37 0h1M1525 1289h1m89 0h1m163 0h1"/>
<path stroke="#553333" stroke-width="26.3" d="M1744 114.9h1M1881 167.1h2M1648 245.4h2M1625 323.6h1M1802 401.9h1M1550 428h2M1592 532.4h1M1831 636.7h3M1738 688.9h1M1712 845.4h1m218 0h1M1896 871.5h2M1573 1054.2h2M1697 1158.5h1m8 0h1m103 0h1M1521 1236.8h1m92 0h1m100 0h1"/>
<path stroke="#554400" stroke-width="26.3" d="M1669 662.8h1M1830 1236.8h2"/>
<path stroke="#554411" stroke-width="26.3" d="M1617 167.1h1m48 0h1m50 0h3m27 0h3m20 0h2M1652 297.6h1M1510 401.9h1M1791 584.5h1M1591 610.6h4m271 0h2m38 0h2m23 0h1M1605 662.8h2m40 0h1m75 0h1m171 0h1M1508 688.9h1m3 0h2m78 0h1M1890 741.1h3M1664 767.2h1m138 0h1M1605 897.6h1m90 0h1m106 0h2m3 0h2m98 0h3M1618 923.7h2M1693 949.8h1M1495 975.9h2m187 0h1m60 0h3m100 0h2M1521 1002h2m126 0h1M1837 1054.2h1M1570 1080.2h1m116 0h1m139 0h1m12 0h1M1488 1106.3h1m148 0h1m117 0h3M1602 1132.4h2m194 0h1m2 0h1M1486 1158.5h1m75 0h2M1921 1210.7h2M1656 1236.8h1m111 0h1m74 0h3m21 0h1m21 0h1m23 0h1M1878 1262.9h1M1827 1289h1m54 0h2"/>
<path stroke="#554422" stroke-width="26.3" d="M1781 88.8h3M1563 114.9h2m228 0h1M1538 167.1h2m166 0h1M1720 193.2h2M1898 584.5h1M1644 610.6h1M1815 767.2h2M1625 819.3h3M1682 871.5h1M1641 897.6h1m283 0h1M1878 1002h1M1830 1080.2h1M1550 1158.5h1m14 0h1M1838 1210.7h1M1611 1289h2"/>
<path stroke="#555500" stroke-width="26.3" d="M1497 88.8h1m2 0h2m11 0h2m31 0h2m29 0h2m13 0h2m11 0h1m109 0h1m12 0h1m23 0h6m2 0h3m2 0h3m17 0h2m86 0h4m12 0h2M1486 114.9h3m37 0h3m66 0h3m10 0h4m273 0h2m4 0h2M1490 141h3m1 0h1m20 0h3m6 0h3m5 0h2m9 0h2m14 0h3m19 0h3m12 0h1m11 0h1m73 0h3m48 0h3m29 0h3m109 0h2m4 0h2M1488 167.1h1m19 0h2m16 0h1m21 0h1m6 0h3m19 0h2m4 0h2m73 0h1m53 0h1m2 0h2m3 0h4m20 0h3m17 0h1m50 0h2m70 0h3M1505 193.2h4m11 0h1m4 0h2m3 0h1m62 0h3m104 0h1m48 0h2m18 0h1m14 0h2M1630 219.3h1m37 0h2m11 0h3M1617 245.4h1m40 0h2m2 0h8m31 0h1m2 0h1m104 0h1M1595 271.5h2m21 0h6m28 0h1m30 0h2m4 0h3m112 0h2m45 0h1M1595 297.6h1m16 0h1m5 0h2m16 0h3m22 0h2m25 0h2m24 0h1m17 0h1m16 0h2m53 0h1m16 0h2M1620 323.6h1m8 0h2m46 0h1m36 0h1m89 0h1M1816 349.7h3m14 0h1m88 0h1M1526 375.8h1m175 0h3m110 0h1M1496 401.9h1m66 0h1m174 0h2m150 0h2M1601 428h1m94 0h2M1632 454.1h1m236 0h1M1554 480.2h1m170 0h3M1611 558.5h1m25 0h1m23 0h1m48 0h1m127 0h2M1866 584.5h1M1739 610.6h1m40 0h1m121 0h3M1619 636.7h3m30 0h3m43 0h2m69 0h2m38 0h1M1683 662.8h1m35 0h2m60 0h1M1542 688.9h1m78 0h1m256 0h1m30 0h1M1539 715h1m89 0h2m16 0h1M1499 741.1h1m13 0h1m263 0h1m20 0h2m53 0h1m21 0h1M1585 767.2h1m50 0h3m26 0h3m21 0h2m118 0h1m104 0h1M1489 793.3h3m8 0h2m72 0h2m49 0h2m10 0h1m23 0h1m17 0h1m83 0h1m3 0h1m50 0h1m35 0h3m58 0h1M1509 819.3h2m78 0h1m48 0h3m149 0h1m18 0h1m60 0h1M1549 845.4h1m31 0h3M1516 871.5h1M1739 897.6h2m6 0h1m68 0h1M1620 923.7h3m102 0h2m124 0h1m1 0h2m51 0h2M1667 949.8h1m80 0h1m78 0h1m3 0h1M1569 975.9h2m74 0h1m93 0h3m153 0h3M1688 1028.1h3m14 0h1m85 0h1M1651 1054.2h1M1499 1080.2h1m63 0h2m60 0h3M1522 1106.3h1m61 0h1m157 0h1M1516 1132.4h2m215 0h1m94 0h1m33 0h1m55 0h3M1490 1158.5h1m66 0h1m73 0h1m191 0h1M1661 1210.7h1m65 0h2m62 0h1m18 0h1m2 0h1m38 0h1M1532 1236.8h1m26 0h1m2 0h2m29 0h1m207 0h1M1927 1262.9h1M1601 1289h1m192 0h2"/>
<path stroke="#555511" stroke-width="26.3" d="M1688 271.5h1M1689 323.6h3M1516 688.9h1M1540 897.6h1M1681 975.9h2M1846 1002h1M1735 1106.3h1"/>
<path stroke="#660066" stroke-width="26.3" d="M1495 584.5h1m46 0h2m11 0h3m73 0h2M1770 610.6h1M1615 662.8h2m124 0h2M1669 688.9h3M1596 741.1h3M1499 897.6h2m157 0h2m33 0h2M1796 949.8h1M1816 1002h2m54 0h2M1527 1132.4h2m47 0h1M1836 1236.8h3M1888 1289h2"/>
<path stroke="#661144" stroke-width="26.3" d="M1791 88.8h1M1669 480.2h3M1520 532.4h2M1911 558.5h3"/>
<path stroke="#661155" stroke-width="26.3" d="M1789 114.9h2M1661 193.2h1M1891 271.5h1M1655 428h1m171 0h1m79 0h1M1560 532.4h1m329 0h1M1907 558.5h1M1611 793.3h1M1608 819.3h1m178 0h3M1730 871.5h1"/>
<path stroke="#662233" stroke-width="26.3" d="M1728 245.4h3M1674 428h2M1558 636.7h2m13 0h1m99 0h3m21 0h1m174 0h1m38 0h2M1870 741.1h2M1590 767.2h1M1691 793.3h2m229 0h1M1519 819.3h1M1822 871.5h2M1607 1158.5h2m15 0h2m183 0h1"/>
<path stroke="#662244" stroke-width="26.3" d="M1616 88.8h1m24 0h1m155 0h2m50 0h2M1629 114.9h1m289 0h1m4 0h2M1710 141h1m86 0h1M1660 193.2h1M1741 245.4h1M1594 271.5h1m151 0h2m32 0h1M1520 297.6h1m242 0h2M1508 375.8h1m111 0h1m60 0h1m13 0h1M1712 401.9h1m179 0h1M1493 428h1m3 0h1m125 0h2m2 0h1m164 0h2m8 0h1M1546 454.1h1M1589 480.2h1m70 0h1m230 0h1M1907 506.3h1M1577 532.4h3m128 0h1m36 0h1m142 0h2M1588 558.5h1m96 0h3M1554 636.7h1m172 0h1M1829 715h1M1595 741.1h1m68 0h1m176 0h3M1720 793.3h1m6 0h1m55 0h1m117 0h1M1576 819.3h1m66 0h2m81 0h2m121 0h2M1648 845.4h3m43 0h1m10 0h1M1503 1184.6h3m175 0h2"/>
<path stroke="#662255" stroke-width="26.3" d="M1617 88.8h1M1803 114.9h1M1640 532.4h1M1536 636.7h1M1524 741.1h1M1548 793.3h2m183 0h1M1546 819.3h1M1832 845.4h1M1622 871.5h2M1645 1184.6h1m110 0h1"/>
<path stroke="#663322" stroke-width="26.3" d="M1748 88.8h1M1508 114.9h2m313 0h1M1503 167.1h3m386 0h1M1813 271.5h1M1855 323.6h1M1544 401.9h1M1922 636.7h1M1683 767.2h1M1652 845.4h2m189 0h2M1788 871.5h1m37 0h1M1715 975.9h1M1766 1054.2h1M1502 1132.4h1M1925 1210.7h1"/>
<path stroke="#663333" stroke-width="26.3" d="M1565 88.8h2M1656 141h2M1531 167.1h1m59 0h1m47 0h1m30 0h1m212 0h1M1819 193.2h3m59 0h2M1883 245.4h2m9 0h1m26 0h1M1570 271.5h1m253 0h1m18 0h2m73 0h1M1803 297.6h1m6 0h1m14 0h3M1532 323.6h1m13 0h1m62 0h1m28 0h3m37 0h2m67 0h1M1489 375.8h1m9 0h3m26 0h3m51 0h2m42 0h3m33 0h2m166 0h2m40 0h1m9 0h1M1618 401.9h1m2 0h1m96 0h4m144 0h1m39 0h1M1549 428h1m9 0h2m153 0h1M1758 454.1h1M1551 480.2h3m109 0h1m240 0h1M1534 506.3h1m10 0h1m33 0h1m179 0h1M1672 532.4h2m241 0h1M1655 558.5h1m45 0h1M1552 636.7h1m169 0h1M1691 662.8h2M1737 741.1h2M1554 767.2h1m104 0h1m178 0h3m11 0h1m5 0h1M1878 793.3h2m1 0h2M1732 819.3h1m4 0h2m84 0h2M1641 845.4h1m35 0h1m111 0h3m19 0h2m23 0h2M1649 871.5h1m55 0h2M1619 897.6h1M1586 949.8h1M1878 975.9h1M1504 1158.5h1m56 0h1m213 0h2m25 0h1m100 0h1M1797 1184.6h1M1497 1210.7h1m19 0h5m64 0h3m15 0h1m146 0h1m31 0h1m10 0h1M1628 1289h1m134 0h1"/>
<path stroke="#663344" stroke-width="26.3" d="M1877 88.8h3M1897 297.6h1M1765 323.6h1m30 0h1M1555 428h1m112 0h1M1699 741.1h1M1872 767.2h2M1684 793.3h1M1892 819.3h1M1733 1184.6h3M1814 1210.7h1"/>
<path stroke="#664411" stroke-width="26.3" d="M1786 193.2h1M1661 323.6h2m142 0h1M1786 584.5h1M1612 975.9h2M1576 1054.2h2m6 0h1M1531 1132.4h1m195 0h1M1486 1210.7h2m87 0h1M1550 1236.8h1m58 0h1m59 0h1m90 0h3"/>
<path stroke="#664422" stroke-width="26.3" d="M1514 114.9h1m9 0h1m210 0h3m173 0h2m3 0h1M1547 141h2m136 0h3m200 0h3M1550 167.1h3m79 0h2m55 0h1m78 0h1m40 0h1m80 0h2M1674 193.2h1M1582 245.4h2m71 0h2m58 0h1m169 0h1M1705 271.5h3M1535 297.6h3m2 0h1m252 0h1m13 0h1m26 0h1m31 0h2m32 0h1M1561 323.6h1m64 0h3m29 0h3m2 0h2M1619 375.8h1M1633 401.9h3m13 0h2m2 0h3M1515 428h1m46 0h1M1512 480.2h1M1542 506.3h1m300 0h1M1726 558.5h1M1547 584.5h1m47 0h1m119 0h3M1504 610.6h1m105 0h2m73 0h4m138 0h1M1771 636.7h1m90 0h1M1513 662.8h1m257 0h2m47 0h1m1 0h2m66 0h3m3 0h2m20 0h1M1486 688.9h2m178 0h1m260 0h2M1594 767.2h1m61 0h2m65 0h3m3 0h1m17 0h1m24 0h2m141 0h1M1627 793.3h1m133 0h1m73 0h1M1646 819.3h2M1534 845.4h1m80 0h1m26 0h1m11 0h1m138 0h1M1504 897.6h2m109 0h1m2 0h1m183 0h1m7 0h1m6 0h2m88 0h1M1521 975.9h3m61 0h1m38 0h2m57 0h1m39 0h1M1575 1002h1m120 0h3m158 0h1m42 0h1M1853 1028.1h1M1559 1080.2h2m32 0h1M1538 1132.4h1m6 0h1m35 0h2m57 0h1m20 0h1m122 0h1m28 0h1m47 0h1m12 0h1M1605 1158.5h1m4 0h3m35 0h2M1699 1184.6h3m217 0h2M1496 1210.7h1m190 0h1M1783 1236.8h3m38 0h3m95 0h2M1649 1289h1m130 0h1m1 0h1m98 0h1"/>
<path stroke="#664433" stroke-width="26.3" d="M1902 167.1h2M1716 193.2h1M1498 245.4h1M1501 297.6h1m28 0h3M1557 323.6h1M1544 375.8h2M1580 401.9h1m168 0h4m77 0h2M1662 636.7h1M1910 662.8h1M1866 767.2h1M1873 819.3h3M1716 1002h1M1835 1054.2h2M1637 1158.5h1m48 0h1M1525 1210.7h2"/>
<path stroke="#665500" stroke-width="26.3" d="M1503 662.8h1M1885 923.7h3M1726 1028.1h1M1809 1080.2h1M1728 1236.8h2"/>
<path stroke="#665511" stroke-width="26.3" d="M1614 141h1m144 0h2M1512 167.1h2m67 0h2M1715 193.2h1m22 0h2M1510 297.6h1M1615 401.9h1m157 0h3M1779 428h1m72 0h1M1494 584.5h1m292 0h1m55 0h3m18 0h2M1565 610.6h1M1545 662.8h1m167 0h1M1521 688.9h1m50 0h2m63 0h1m246 0h1M1884 741.1h1M1487 767.2h3M1847 793.3h1M1535 845.4h1m217 0h1m138 0h1M1554 897.6h1m14 0h1m77 0h3M1696 923.7h1m129 0h1M1722 949.8h1M1732 975.9h1m9 0h1m47 0h1m47 0h3m48 0h1M1720 1002h1M1494 1054.2h1m146 0h2m35 0h1m75 0h2m143 0h1M1487 1080.2h1m245 0h1M1688 1106.3h2m51 0h1m23 0h1M1745 1132.4h1m120 0h2M1596 1158.5h1m140 0h3M1864 1210.7h3M1499 1236.8h1m67 0h1m206 0h1m2 0h1m17 0h1m90 0h1M1605 1262.9h1m236 0h1M1496 1289h1"/>
<path stroke="#665522" stroke-width="26.3" d="M1594 88.8h2M1765 167.1h3M1515 193.2h2m371 0h3M1657 245.4h1M1561 297.6h2m224 0h1M1510 584.5h3M1888 688.9h1M1509 845.4h1M1929 871.5h2M1686 1002h3M1872 1210.7h2"/>
<path stroke="#666600" stroke-width="26.3" d="M1490 88.8h2m11 0h3m4 0h3m46 0h2m13 0h3m23 0h2m114 0h3m19 0h3m4 0h3m22 0h3m4 0h2m52 0h1m48 0h2m2 0h3m27 0h2M1498 114.9h3m17 0h2m11 0h3m11 0h1m13 0h3m22 0h2m12 0h3m123 0h11m12 0h3m6 0h1m6 0h2m115 0h2m35 0h1M1495 141h3m4 0h2m2 0h5m40 0h2m12 0h1m34 0h3m1 0h4m117 0h2m9 0h2m2 0h4m27 0h2m53 0h1M1501 167.1h1m65 0h1m8 0h1m3 0h1m16 0h2m12 0h3m34 0h1m55 0h1m22 0h1m25 0h5M1499 193.2h3m2 0h1m4 0h3m5 0h1m18 0h7m12 0h3m20 0h2m2 0h4m1 0h4m8 0h3m122 0h3m16 0h3m5 0h1m4 0h1m3 0h2m8 0h5m5 0h1m29 0h1m3 0h3m90 0h3M1563 219.3h3m33 0h1m70 0h6m1 0h1m66 0h2m18 0h3m12 0h1m107 0h1M1499 245.4h1m88 0h2m28 0h2m25 0h3m5 0h2m17 0h1m32 0h2m103 0h1m11 0h1m8 0h1m55 0h1M1601 271.5h2m43 0h1m8 0h2m8 0h2m30 0h3m2 0h3m64 0h1m46 0h2M1620 297.6h1m8 0h3m14 0h2m1 0h3m3 0h1m4 0h1m2 0h2m2 0h2m27 0h1m5 0h3m212 0h1M1490 323.6h1m104 0h1m35 0h3m21 0h2m17 0h2m4 0h1m28 0h3m101 0h3m59 0h2m3 0h1M1515 349.7h3m77 0h2m15 0h2m182 0h2m2 0h2m4 0h1m17 0h1m3 0h5m1 0h1m58 0h1M1510 375.8h1m16 0h1m196 0h1m14 0h4m1 0h3m13 0h2m23 0h2M1511 401.9h3m264 0h2m40 0h3m16 0h2M1533 428h1m46 0h1m8 0h2m68 0h1m102 0h1m9 0h1m83 0h1m10 0h1M1779 454.1h1M1653 480.2h1M1741 506.3h3M1639 558.5h3m14 0h1M1522 584.5h1M1530 610.6h1m162 0h1m180 0h1M1682 636.7h1m57 0h2m101 0h5M1511 662.8h1m16 0h1m31 0h1m13 0h1m104 0h1m34 0h1m84 0h2m40 0h2m7 0h1m38 0h1M1490 688.9h1m39 0h1m2 0h2m202 0h1m2 0h1m21 0h1m71 0h1m24 0h2M1520 715h2m64 0h1m23 0h1m56 0h1m104 0h2m32 0h1M1534 741.1h3m12 0h1m37 0h1m38 0h1m36 0h1m69 0h1m132 0h1m22 0h1m3 0h2m15 0h1M1655 767.2h1m7 0h1m110 0h2m112 0h3M1508 793.3h3m136 0h3m75 0h1m26 0h1m9 0h1m67 0h1M1496 819.3h1m17 0h1m7 0h1m72 0h1m54 0h3m8 0h3m21 0h3m148 0h1M1552 845.4h1m373 0h1M1910 871.5h1M1801 897.6h1m42 0h2M1668 923.7h2m186 0h1m45 0h2m4 0h2M1531 975.9h1m137 0h3m59 0h1M1770 1002h2m96 0h2m16 0h1m26 0h2m1 0h2M1803 1028.1h1m112 0h2M1490 1054.2h1m426 0h1M1566 1080.2h1M1554 1106.3h3m345 0h1m7 0h1M1508 1132.4h3m49 0h1m23 0h3m2 0h3m19 0h1m24 0h1m31 0h1m46 0h1m19 0h1m87 0h1M1496 1158.5h1m20 0h1m66 0h1m105 0h3m182 0h1M1603 1184.6h1m64 0h2m7 0h1m130 0h1m10 0h2m12 0h1M1589 1210.7h3m14 0h1m92 0h2m104 0h2m50 0h1M1491 1236.8h1m84 0h1m31 0h1m31 0h1m191 0h1M1715 1262.9h1M1613 1289h1m18 0h1"/>
<path stroke="#666611" stroke-width="26.3" d="M1778 662.8h1m33 0h2M1523 1236.8h1M1929 1262.9h2"/>
<path stroke="#770077" stroke-width="26.3" d="M1723 88.8h2M1701 114.9h1M1685 167.1h3m3 0h3m5 0h3m126 0h2m96 0h2M1569 193.2h1m308 0h1M1513 245.4h3m5 0h3m234 0h2m110 0h3m41 0h2M1487 297.6h2m287 0h3m70 0h1m48 0h2M1530 323.6h2m2 0h1m23 0h3m29 0h1m168 0h1M1517 401.9h3m55 0h2m4 0h2m149 0h3m64 0h3m121 0h1M1723 428h1m6 0h3m102 0h3m32 0h2M1570 506.3h1m12 0h2m89 0h1m43 0h3m6 0h1m9 0h1m14 0h2m127 0h1m2 0h2M1863 636.7h3M1602 715h1m52 0h2m214 0h1M1591 741.1h2M1515 767.2h3m37 0h2m149 0h1m78 0h2m64 0h1m34 0h2M1865 793.3h2m13 0h1M1648 819.3h1m59 0h2M1612 845.4h3m17 0h1m11 0h2m11 0h2m49 0h2m16 0h2m3 0h3m75 0h2m69 0h3M1635 1158.5h2m79 0h1m110 0h3m23 0h1m2 0h3m8 0h3M1488 1210.7h2m17 0h3m68 0h3m1 0h1m122 0h1m12 0h3m36 0h1"/>
<path stroke="#771155" stroke-width="26.3" d="M1847 141h1M1559 793.3h1m74 0h3"/>
<path stroke="#771166" stroke-width="26.3" d="M1670 114.9h1M1589 741.1h1"/>
<path stroke="#772244" stroke-width="26.3" d="M1841 141h3M1753 480.2h3M1566 506.3h2M1766 558.5h2M1822 636.7h1M1823 741.1h1m43 0h2M1669 845.4h1M1554 1184.6h2"/>
<path stroke="#772255" stroke-width="26.3" d="M1620 88.8h1m69 0h1M1787 114.9h1M1915 141h1M1640 193.2h2M1632 219.3h2M1567 271.5h1m174 0h1M1930 349.7h2M1611 375.8h1M1508 428h2m123 0h1M1496 454.1h1m85 0h1M1599 480.2h1m51 0h2m62 0h3m58 0h1m110 0h1M1596 558.5h1m299 0h3M1551 636.7h1m85 0h3m60 0h3m213 0h1M1540 715h1m302 0h1M1515 741.1h1m84 0h1m124 0h2m58 0h1M1487 793.3h1m46 0h1m231 0h1m145 0h3M1491 819.3h1m303 0h1m42 0h1m71 0h1m18 0h3M1585 871.5h1m207 0h1m39 0h1M1628 1184.6h2m198 0h2"/>
<path stroke="#772266" stroke-width="26.3" d="M1753 271.5h1m88 0h1M1626 454.1h1m62 0h2M1754 715h1M1540 741.1h1M1831 793.3h1M1580 1184.6h1"/>
<path stroke="#773333" stroke-width="26.3" d="M1577 245.4h2M1695 323.6h2m10 0h1M1525 793.3h1M1487 1158.5h2m57 0h1M1539 1210.7h1m264 0h1m76 0h1M1486 1289h2"/>
<path stroke="#773344" stroke-width="26.3" d="M1609 88.8h3m202 0h3m36 0h1M1787 141h1m114 0h1M1620 193.2h2m9 0h1M1823 245.4h1M1723 271.5h1m47 0h1m4 0h3m118 0h3M1837 297.6h1M1918 323.6h1M1919 349.7h1M1504 375.8h2m119 0h1m73 0h1m197 0h1M1543 401.9h1m107 0h1m47 0h2m14 0h1m50 0h3m112 0h1M1492 428h1M1520 454.1h2m396 0h1M1490 480.2h1m17 0h1m401 0h1M1895 506.3h1M1628 532.4h2m109 0h1m7 0h1m4 0h3m175 0h2M1514 558.5h1m380 0h1M1557 636.7h1m97 0h1m83 0h1m83 0h1M1844 741.1h1M1573 767.2h1m34 0h3m212 0h2M1562 793.3h1m13 0h1m24 0h1m19 0h1m18 0h1m12 0h1M1486 819.3h1m82 0h2m40 0h3m147 0h1m32 0h1m30 0h1M1614 871.5h1M1501 1158.5h3m128 0h2m4 0h3m79 0h1M1803 1184.6h1m91 0h2M1688 1210.7h1m166 0h2m69 0h3"/>
<path stroke="#773355" stroke-width="26.3" d="M1808 114.9h1M1880 532.4h2M1911 793.3h1M1516 819.3h2m238 0h1"/>
<path stroke="#774422" stroke-width="26.3" d="M1775 141h3M1601 401.9h1m41 0h1m119 0h2M1521 428h1m362 0h3M1888 506.3h3M1666 610.6h2M1537 662.8h1M1855 741.1h1M1648 767.2h1M1714 819.3h1M1804 845.4h1m68 0h1M1726 1106.3h3M1658 1158.5h1m214 0h2m56 0h1"/>
<path stroke="#774433" stroke-width="26.3" d="M1669 88.8h3M1495 114.9h3m50 0h1m7 0h3m183 0h2M1527 167.1h3m268 0h2m5 0h2m19 0h1m66 0h2M1775 193.2h2m124 0h1m11 0h3M1637 219.3h3M1603 245.4h1m10 0h1m98 0h2m162 0h1M1486 271.5h1m1 0h1m30 0h1m58 0h3m159 0h1M1770 297.6h1m138 0h1M1492 323.6h1m157 0h1m78 0h3m20 0h1m36 0h2m39 0h1m2 0h1m67 0h3M1502 375.8h2m168 0h1m59 0h1m45 0h1m94 0h1M1542 401.9h1m71 0h1m56 0h2m49 0h3m72 0h1M1513 428h2m183 0h1m191 0h1M1752 454.1h2M1595 506.3h3m173 0h1M1694 532.4h2m200 0h1M1838 688.9h2M1567 767.2h1m117 0h1m49 0h1M1644 793.3h1m140 0h2m8 0h1m104 0h1M1822 819.3h1m29 0h1m18 0h2M1486 845.4h3m21 0h1m16 0h1m12 0h1m76 0h1m58 0h1m218 0h3m29 0h1M1676 871.5h1M1573 1080.2h1m132 0h1M1510 1158.5h3m6 0h1m161 0h1m7 0h1m5 0h1M1491 1184.6h1m18 0h1m35 0h1m25 0h1m151 0h2m15 0h3m18 0h3M1514 1210.7h1m47 0h2m165 0h3m41 0h1m8 0h1m39 0h2M1681 1236.8h1"/>
<path stroke="#774444" stroke-width="26.3" d="M1632 193.2h1M1492 349.7h1M1647 375.8h1M1699 428h1m162 0h1M1675 480.2h2m215 0h1M1726 506.3h1M1706 558.5h3M1666 845.4h3M1873 1184.6h2M1490 1210.7h2m251 0h1m86 0h1"/>
<path stroke="#775511" stroke-width="26.3" d="M1741 401.9h2M1788 428h1M1559 610.6h2M1639 662.8h2m267 0h2M1681 688.9h1m16 0h1m198 0h1M1881 767.2h3M1559 897.6h1m298 0h3M1842 975.9h1M1658 1054.2h1M1729 1132.4h1"/>
<path stroke="#775522" stroke-width="26.3" d="M1488 88.8h2m109 0h1m122 0h1m26 0h3M1605 114.9h3m305 0h1M1556 141h2m45 0h1m125 0h2m30 0h2m131 0h1m19 0h1M1493 167.1h2m71 0h1m219 0h1M1609 193.2h2M1512 245.4h1m118 0h3M1538 271.5h1m95 0h1m14 0h2m101 0h1M1489 297.6h1m3 0h1m128 0h3m47 0h2M1684 323.6h1m27 0h2M1525 375.8h1M1500 401.9h1m36 0h1m189 0h2m109 0h1M1518 428h3m93 0h1m191 0h1m61 0h2M1657 558.5h1M1523 584.5h1m237 0h1M1523 610.6h1m296 0h2m55 0h1m27 0h1M1866 636.7h2M1487 662.8h1m329 0h1m38 0h1m50 0h1M1569 688.9h1m20 0h2m243 0h1M1885 741.1h2M1559 767.2h1m79 0h1m155 0h1m57 0h1m71 0h1M1629 793.3h3m141 0h1m96 0h1M1561 819.3h1m45 0h1m60 0h2m54 0h1M1511 845.4h2m52 0h2m11 0h2m76 0h1m73 0h1M1783 871.5h2M1587 897.6h1m22 0h1m210 0h2M1695 949.8h1M1763 975.9h3m139 0h3M1764 1002h1m30 0h2M1519 1054.2h1M1617 1132.4h1m131 0h1m27 0h1m36 0h1M1654 1158.5h2m23 0h1m20 0h1M1779 1184.6h1M1543 1210.7h1m2 0h2m22 0h1m130 0h1m22 0h1m38 0h3M1525 1236.8h1m116 0h1m230 0h2"/>
<path stroke="#775533" stroke-width="26.3" d="M1527 88.8h2M1652 167.1h1m14 0h1M1599 245.4h1m77 0h3M1826 271.5h1M1693 297.6h3M1522 323.6h2M1845 401.9h1M1740 506.3h1M1496 636.7h1m267 0h1M1615 819.3h3M1625 1184.6h3m59 0h3M1899 1210.7h1"/>
<path stroke="#776600" stroke-width="26.3" d="M1615 688.9h1M1534 897.6h2M1926 1262.9h1"/>
<path stroke="#776611" stroke-width="26.3" d="M1801 323.6h1m1 0h1m22 0h1m29 0h1M1579 401.9h1m278 0h1m11 0h1M1760 428h2m118 0h2M1519 584.5h1M1505 610.6h1m48 0h1m279 0h1M1519 662.8h1m37 0h1m301 0h2M1506 688.9h1m15 0h1m15 0h1m113 0h1m204 0h2M1542 767.2h1m227 0h1m99 0h2M1895 871.5h1m5 0h3M1490 949.8h1m413 0h2M1614 975.9h1m129 0h1m5 0h2m151 0h2M1588 1054.2h1M1528 1080.2h3m67 0h1M1612 1132.4h1m79 0h2m40 0h1m61 0h1m19 0h1m2 0h1M1774 1158.5h1M1618 1210.7h2m225 0h1M1528 1236.8h2m259 0h3m98 0h1"/>
<path stroke="#776622" stroke-width="26.3" d="M1602 88.8h1M1728 297.6h2M1855 610.6h2m25 0h1M1525 636.7h1M1686 662.8h1M1701 819.3h1M1536 845.4h2M1926 949.8h1M1738 1132.4h2M1556 1158.5h1M1891 1184.6h1M1588 1236.8h1"/>
<path stroke="#777700" stroke-width="26.3" d="M1494 88.8h3m22 0h2m3 0h3m22 0h5m3 0h2m9 0h2m12 0h2m28 0h2m94 0h1m2 0h2m6 0h2m8 0h2m180 0h3M1491 114.9h2m13 0h2m31 0h2m2 0h1m42 0h3m15 0h1m9 0h1m100 0h3m4 0h2m41 0h5m2 0h2m5 0h2m5 0h1m55 0h1m27 0h1m7 0h2m13 0h2M1487 141h1m30 0h3m6 0h3m6 0h2m20 0h1m15 0h3m2 0h2m7 0h1m4 0h2m120 0h3m9 0h2m2 0h2m5 0h2m5 0h2m2 0h4m10 0h2m13 0h2m1 0h5m89 0h2m8 0h3M1495 167.1h4m18 0h3m22 0h1m15 0h1m29 0h3m3 0h2m41 0h2m17 0h1m75 0h3m23 0h2m23 0h1m138 0h3M1496 193.2h3m23 0h3m33 0h4m4 0h3m1 0h5m1 0h2m8 0h1m18 0h1m81 0h1m9 0h1m14 0h1m39 0h2m10 0h2m25 0h1m94 0h1M1579 219.3h1m51 0h1m177 0h1m68 0h1m32 0h1M1616 245.4h1m3 0h6m13 0h3m31 0h2m9 0h3m2 0h1m17 0h1m59 0h1m155 0h3M1591 271.5h3m63 0h3m7 0h5m22 0h3m3 0h2m6 0h1m4 0h1m77 0h1M1592 297.6h1m22 0h3m7 0h2m5 0h2m31 0h2m2 0h3m11 0h1m14 0h2m38 0h2m39 0h1m12 0h1m40 0h1m24 0h2m58 0h1M1499 323.6h1m71 0h1m79 0h1m21 0h1m19 0h2m107 0h1M1513 349.7h1m9 0h2m283 0h3m47 0h2m9 0h1M1509 375.8h1m8 0h1m60 0h2m141 0h2m9 0h1m35 0h1M1545 401.9h1m4 0h1m15 0h2m178 0h3m6 0h3m101 0h3m53 0h1M1588 428h1m100 0h1m1 0h1m55 0h3m13 0h1m41 0h1M1609 454.1h1m106 0h1m14 0h3M1598 506.3h1m176 0h1m60 0h1m36 0h2M1652 532.4h1m10 0h1M1628 558.5h1m100 0h1m7 0h2m13 0h1M1862 584.5h2M1495 610.6h2m302 0h2m18 0h1m42 0h2m6 0h1M1518 636.7h1m111 0h3m128 0h3m91 0h4m11 0h2m11 0h1M1510 662.8h1m9 0h2m32 0h1m115 0h2m16 0h1m40 0h1m107 0h1m81 0h1M1697 688.9h1M1519 715h1m59 0h1m270 0h1m2 0h3M1495 741.1h1m54 0h5m35 0h1m85 0h1m181 0h3M1645 767.2h1m22 0h3M1511 793.3h1m42 0h5m14 0h1m134 0h1m99 0h2m15 0h1m2 0h1m15 0h2m14 0h3m4 0h2m16 0h6m26 0h1m8 0h1M1487 819.3h1m32 0h1m9 0h2m26 0h3m39 0h1m54 0h1m35 0h3m45 0h2m35 0h1m4 0h2m24 0h2m36 0h1m71 0h1M1501 845.4h2m43 0h1m14 0h2m6 0h1m81 0h1M1537 871.5h1M1552 897.6h1m114 0h1m23 0h1m44 0h1M1526 923.7h1m98 0h3m267 0h3m1 0h3M1486 949.8h1m334 0h1m29 0h1M1520 975.9h1m222 0h1m157 0h2M1541 1002h1M1486 1054.2h1m5 0h1m378 0h1M1550 1080.2h3m202 0h1m116 0h1M1743 1106.3h1m10 0h1M1787 1132.4h3M1493 1158.5h1m98 0h1m66 0h1M1632 1184.6h1m51 0h3m95 0h3m9 0h3m44 0h2m51 0h1M1529 1210.7h1m25 0h1m18 0h1m79 0h1m9 0h2m30 0h1m10 0h2m5 0h1m71 0h1m3 0h1m44 0h1M1487 1236.8h1m184 0h3m137 0h3m82 0h1M1673 1262.9h1M1715 1289h1m213 0h3"/>
<path stroke="#777711" stroke-width="26.3" d="M1801 975.9h3m56 0h2"/>
<path stroke="#880088" stroke-width="26.3" d="M1546 114.9h2m150 0h2m9 0h1M1804 167.1h1M1892 193.2h1M1566 297.6h2M1509 323.6h2m311 0h2M1848 401.9h3M1768 428h3M1591 454.1h3m46 0h1m34 0h2m17 0h1m77 0h2M1886 506.3h2M1493 715h3m1 0h2m68 0h2m151 0h1m73 0h2M1496 741.1h3m19 0h2m89 0h3m71 0h2m34 0h3M1593 767.2h1m52 0h2M1836 793.3h1M1821 1158.5h2m28 0h2M1758 1210.7h3"/>
<path stroke="#881166" stroke-width="26.3" d="M1871 454.1h2M1557 741.1h1"/>
<path stroke="#881177" stroke-width="26.3" d="M1618 715h1M1925 741.1h1"/>
<path stroke="#882255" stroke-width="26.3" d="M1628 193.2h3m44 0h1M1753 715h1M1566 1184.6h1"/>
<path stroke="#882266" stroke-width="26.3" d="M1633 114.9h1M1928 141h1M1534 219.3h1m33 0h1m177 0h1M1853 349.7h1m9 0h2M1617 480.2h1M1533 715h1m115 0h1m120 0h1m73 0h1m2 0h1M1539 741.1h1m212 0h3m23 0h1M1567 793.3h3m354 0h1M1815 1184.6h2"/>
<path stroke="#883344" stroke-width="26.3" d="M1691 193.2h1M1535 245.4h2M1761 480.2h1M1646 532.4h2M1520 558.5h1m229 0h1M1737 636.7h1M1904 793.3h1"/>
<path stroke="#883355" stroke-width="26.3" d="M1674 88.8h1M1807 114.9h1M1860 167.1h1M1673 193.2h1m7 0h3M1493 271.5h1M1758 375.8h2m31 0h1M1669 428h1m124 0h3M1729 454.1h2M1765 480.2h2M1727 558.5h1m196 0h1M1570 636.7h1M1507 715h1m39 0h1m35 0h1m105 0h1m52 0h1m8 0h2m24 0h1M1489 741.1h3m36 0h1m89 0h1m30 0h1m40 0h1m31 0h2m83 0h3M1589 793.3h1m76 0h1m50 0h1m25 0h1M1810 819.3h2m15 0h3m23 0h1M1819 871.5h1M1548 1184.6h1m30 0h1m61 0h3m109 0h1m70 0h1m86 0h3"/>
<path stroke="#883366" stroke-width="26.3" d="M1593 349.7h1M1503 715h1M1589 1184.6h3"/>
<path stroke="#884433" stroke-width="26.3" d="M1925 428h1M1659 480.2h1M1572 793.3h1M1571 819.3h1m247 0h1M1698 1184.6h1M1640 1210.7h1"/>
<path stroke="#884444" stroke-width="26.3" d="M1661 88.8h1M1797 114.9h1m46 0h1M1925 141h1M1914 167.1h3M1692 193.2h1M1824 245.4h1M1587 271.5h1M1882 297.6h1M1558 375.8h1m127 0h2m93 0h1m52 0h1m1 0h1M1540 428h1m95 0h1m99 0h1M1539 454.1h2M1583 532.4h3m81 0h1M1516 558.5h1m192 0h1M1608 636.7h1m201 0h2m6 0h1m16 0h2M1588 741.1h1m82 0h1M1566 767.2h1m47 0h1M1495 793.3h1m26 0h1m89 0h3m89 0h1m70 0h1m123 0h1M1556 819.3h1m53 0h1m244 0h2M1643 845.4h1m195 0h3M1879 871.5h1M1905 1158.5h1M1730 1184.6h1m41 0h2"/>
<path stroke="#884455" stroke-width="26.3" d="M1895 271.5h1M1531 375.8h2M1631 428h1M1622 636.7h1m261 0h1M1526 741.1h1M1652 793.3h1m79 0h1M1750 819.3h1m55 0h1M1761 871.5h1"/>
<path stroke="#885522" stroke-width="26.3" d="M1911 141h3M1732 193.2h3M1836 297.6h1M1916 793.3h1M1609 819.3h1M1521 845.4h1m32 0h2M1613 1080.2h1M1489 1158.5h1m185 0h1M1545 1184.6h1"/>
<path stroke="#885533" stroke-width="26.3" d="M1713 88.8h1m173 0h2M1641 141h1m24 0h1m214 0h2M1605 167.1h2m2 0h2M1564 193.2h2m99 0h2M1692 245.4h3M1610 271.5h1m49 0h1M1513 297.6h1m375 0h1M1706 323.6h1m53 0h2m46 0h1m54 0h2M1711 375.8h1m13 0h2m55 0h2M1844 401.9h1M1591 428h1m3 0h2m120 0h3m96 0h1M1539 480.2h3M1666 532.4h1m237 0h1M1654 558.5h1M1546 662.8h1M1851 688.9h2M1491 715h2m7 0h1m94 0h1M1507 767.2h1m220 0h1m64 0h1M1530 793.3h1m97 0h1m45 0h2m96 0h1m23 0h2m36 0h1m2 0h3M1499 819.3h2m131 0h3m76 0h1m172 0h1M1506 845.4h1m15 0h3m275 0h2M1653 871.5h1m47 0h1m22 0h1m99 0h2M1729 897.6h1M1911 1080.2h2M1500 1158.5h1m35 0h1m56 0h3M1567 1184.6h3m74 0h1m176 0h2m85 0h3m6 0h1M1614 1210.7h1m64 0h2m34 0h3m34 0h3"/>
<path stroke="#885544" stroke-width="26.3" d="M1822 141h1M1925 167.1h1M1893 297.6h1M1643 323.6h3M1917 480.2h1M1728 636.7h1M1611 715h1M1511 741.1h1M1928 793.3h1M1734 871.5h2M1567 1210.7h3"/>
<path stroke="#886611" stroke-width="26.3" d="M1517 88.8h2"/>
<path stroke="#886622" stroke-width="26.3" d="M1619 88.8h1m123 0h1M1879 193.2h2M1517 245.4h1m301 0h3M1909 271.5h1M1519 297.6h1M1589 323.6h1M1770 375.8h2M1791 401.9h1m119 0h1M1774 428h2M1711 558.5h1M1806 610.6h1m76 0h1M1714 636.7h1M1565 662.8h1M1522 767.2h1m172 0h3m222 0h3M1571 793.3h1m9 0h3M1619 819.3h3m76 0h2M1749 845.4h1m85 0h1M1843 897.6h1M1910 949.8h1M1494 975.9h1m287 0h1m75 0h2M1721 1002h2m17 0h1M1538 1080.2h1m63 0h1m119 0h1M1629 1132.4h1m75 0h1m96 0h1m60 0h1m20 0h1M1520 1158.5h1m76 0h3m201 0h1m12 0h3m68 0h1M1575 1184.6h3m37 0h2M1624 1210.7h1m87 0h2m60 0h1m28 0h1m3 0h1m103 0h1M1586 1236.8h1m240 0h3M1836 1289h3"/>
<path stroke="#886633" stroke-width="26.3" d="M1863 297.6h1M1569 323.6h1m178 0h1M1507 375.8h1m302 0h1M1499 401.9h1M1781 767.2h2M1517 793.3h3M1560 845.4h1M1568 1002h3M1825 1158.5h2M1828 1210.7h2"/>
<path stroke="#887700" stroke-width="26.3" d="M1866 1054.2h3"/>
<path stroke="#887711" stroke-width="26.3" d="M1615 271.5h3M1788 297.6h1m97 0h3M1776 428h1M1893 793.3h2M1926 871.5h1M1520 897.6h4M1763 1080.2h1M1515 1132.4h1M1634 1210.7h1"/>
<path stroke="#887722" stroke-width="26.3" d="M1817 88.8h1M1892 245.4h1M1558 1236.8h1"/>
<path stroke="#888800" stroke-width="26.3" d="M1502 88.8h1m3 0h4m51 0h4m38 0h2m1 0h3m116 0h3m40 0h2m5 0h2m7 0h1m19 0h2m110 0h2M1489 114.9h2m38 0h2m18 0h2m11 0h1m8 0h3m3 0h1m1 0h3m19 0h3m115 0h3m16 0h2m13 0h3m5 0h2m13 0h3M1493 141h1m19 0h2m30 0h2m6 0h1m17 0h3m15 0h1m7 0h3m9 0h3m144 0h2m28 0h1m92 0h2m10 0h3M1491 167.1h2m13 0h2m12 0h6m10 0h2m15 0h2m4 0h1m12 0h4m9 0h3m4 0h2m9 0h2m2 0h2m115 0h2m14 0h2m9 0h2m9 0h2m13 0h3m40 0h1m63 0h3M1502 193.2h2m45 0h2m45 0h3m12 0h2m104 0h1m4 0h1m4 0h3m10 0h2m15 0h3m7 0h1m9 0h3m103 0h3M1560 219.3h3m12 0h1m24 0h1m8 0h1m55 0h3m16 0h3m17 0h1m97 0h3M1511 245.4h1m42 0h2m86 0h3m15 0h2m36 0h3m11 0h1m92 0h3M1553 271.5h3m49 0h1m18 0h3m14 0h3m28 0h3m5 0h1m4 0h3m4 0h2m16 0h1m4 0h1m20 0h2m22 0h1m5 0h1m39 0h1m51 0h1m24 0h3M1495 297.6h1m51 0h2m72 0h1m12 0h2m9 0h1m2 0h1m7 0h4m14 0h3m9 0h2m9 0h1m2 0h2m3 0h3m109 0h2m12 0h1m36 0h1M1665 323.6h8m8 0h2m104 0h2m71 0h3M1504 349.7h1m20 0h2m31 0h1m239 0h1m51 0h3m1 0h1m57 0h2M1617 375.8h1m64 0h1m69 0h2m9 0h4m58 0h1M1540 401.9h1m28 0h1m49 0h1m123 0h3m41 0h3m6 0h1m50 0h1m65 0h2M1489 428h3m32 0h1m21 0h1m9 0h1m199 0h1m46 0h2M1602 480.2h2M1778 558.5h1m147 0h1M1604 584.5h1m250 0h3M1489 610.6h1m322 0h2m38 0h2M1502 636.7h1m140 0h1m69 0h1m77 0h1m68 0h2m19 0h2M1588 662.8h1m35 0h2m58 0h2m108 0h2m55 0h2m27 0h1M1558 688.9h2m124 0h2m83 0h3m32 0h1m13 0h1m86 0h3M1512 715h1m9 0h1m13 0h1m225 0h1m67 0h3M1527 741.1h1m27 0h2m134 0h1m186 0h3M1518 767.2h1m87 0h1m114 0h2m71 0h1m3 0h1M1543 793.3h1m48 0h1m181 0h1m29 0h2m13 0h2m50 0h2M1542 819.3h1m115 0h3m20 0h2m40 0h1m9 0h1M1595 845.4h1m11 0h1m151 0h1m63 0h1m32 0h2m40 0h2M1904 871.5h3M1501 897.6h2m159 0h1m232 0h4M1847 923.7h1m62 0h1M1549 949.8h1m41 0h3m78 0h1m114 0h1M1655 975.9h1M1489 1080.2h1m242 0h1m78 0h1M1569 1106.3h1m213 0h1M1791 1132.4h1m17 0h1m7 0h1m106 0h1m6 0h1M1530 1158.5h3m56 0h1m39 0h1m92 0h1m3 0h1m79 0h3m25 0h1m8 0h2m80 0h1M1637 1184.6h1m10 0h1m27 0h1m55 0h1m38 0h1m2 0h3m12 0h2M1601 1210.7h2m30 0h1m63 0h2m5 0h1m141 0h1m24 0h1M1512 1236.8h1m67 0h3m164 0h1m1 0h1M1928 1262.9h1M1643 1289h1m26 0h1m82 0h3m6 0h1m36 0h3m126 0h1"/>
<path stroke="#990099" stroke-width="26.3" d="M1624 88.8h3m77 0h2m121 0h2m3 0h3M1795 114.9h2M1622 141h4m17 0h3m12 0h2m36 0h1m10 0h3m98 0h3m5 0h3m20 0h1m11 0h3m9 0h2m32 0h2M1895 167.1h2m10 0h1m11 0h2M1662 193.2h2m31 0h2m90 0h1m15 0h2m32 0h4m23 0h1m45 0h1m10 0h1M1501 271.5h1m24 0h2m46 0h2m205 0h2m24 0h2m5 0h2m11 0h3m20 0h1m6 0h1m1 0h3m20 0h1m28 0h1M1734 323.6h2M1493 375.8h3m24 0h3m81 0h2m43 0h5m12 0h1m3 0h2m20 0h1m41 0h3m14 0h1m66 0h2m32 0h3m14 0h1m7 0h3m1 0h1M1641 428h1m34 0h2m25 0h3m81 0h1m108 0h3m32 0h1M1491 480.2h2m9 0h3m25 0h3m22 0h3m16 0h2m9 0h2m13 0h2m13 0h2m24 0h6m25 0h2m22 0h1m11 0h1m13 0h3m12 0h3m124 0h2m2 0h1m1 0h2m23 0h2M1503 532.4h5m78 0h2m24 0h3m5 0h4m24 0h1m30 0h3m45 0h3m5 0h2m4 0h3m13 0h3M1491 558.5h2m24 0h1m20 0h2m45 0h1m33 0h4m3 0h2m10 0h1m3 0h2m37 0h2m10 0h2m20 0h2m26 0h2m10 0h3m84 0h1m15 0h2m10 0h1m37 0h1m11 0h1m2 0h1M1489 636.7h1m15 0h2m38 0h2m15 0h2m17 0h2m10 0h1m53 0h1m2 0h2m19 0h2m34 0h1m3 0h2m16 0h2m36 0h2m144 0h1M1856 741.1h2m5 0h2M1542 793.3h1m53 0h3m110 0h3m6 0h2m15 0h2m10 0h5m1 0h2m175 0h2M1523 819.3h2m7 0h2m48 0h1m9 0h3m19 0h1m119 0h3m79 0h2m2 0h2m8 0h2m5 0h1m8 0h2m12 0h1m1 0h2M1522 871.5h2m41 0h2m14 0h2m36 0h3m16 0h3m9 0h3m24 0h1m41 0h1m36 0h2m41 0h2m27 0h5m8 0h1m25 0h2M1487 1184.6h2m36 0h2m22 0h1m8 0h1m14 0h2m10 0h3m24 0h3m48 0h1m6 0h2m85 0h2m39 0h3m5 0h2m1 0h3m22 0h1m35 0h3m43 0h1m14 0h1"/>
<path stroke="#991177" stroke-width="26.3" d="M1771 715h1"/>
<path stroke="#991188" stroke-width="26.3" d="M1923 349.7h2M1645 454.1h1M1787 741.1h1"/>
<path stroke="#992266" stroke-width="26.3" d="M1509 219.3h1M1906 349.7h1M1746 558.5h1m103 0h2M1500 741.1h1"/>
<path stroke="#992277" stroke-width="26.3" d="M1639 114.9h1m28 0h1M1546 219.3h1m77 0h1M1520 349.7h1m150 0h1m190 0h1M1545 454.1h1m19 0h2m207 0h2M1638 741.1h1m100 0h1m25 0h1"/>
<path stroke="#993355" stroke-width="26.3" d="M1714 88.8h1M1903 480.2h1M1837 715h1M1747 741.1h1"/>
<path stroke="#993366" stroke-width="26.3" d="M1632 114.9h1m70 0h3m131 0h1M1503 219.3h3M1741 271.5h1m183 0h1M1555 349.7h1m314 0h2m43 0h1M1908 428h3M1512 454.1h2m184 0h1M1591 636.7h2M1559 715h1m15 0h1m222 0h3m21 0h1m42 0h1M1630 741.1h1m119 0h2M1552 793.3h1m85 0h2"/>
<path stroke="#993377" stroke-width="26.3" d="M1569 349.7h1M1585 715h1"/>
<path stroke="#994444" stroke-width="26.3" d="M1669 193.2h2M1606 271.5h2M1572 819.3h1"/>
<path stroke="#994455" stroke-width="26.3" d="M1790 88.8h1m5 0h1M1799 193.2h1m120 0h1M1532 271.5h3m36 0h1m149 0h1M1835 349.7h1M1566 375.8h3m30 0h1m6 0h1m108 0h2M1609 428h1M1650 454.1h2M1662 558.5h1M1626 636.7h2m167 0h1m10 0h2m65 0h1M1508 715h1m42 0h3m159 0h1m44 0h1m152 0h1M1506 741.1h3m133 0h3m32 0h1m79 0h1m45 0h1M1680 793.3h1M1557 819.3h1m23 0h1m177 0h1M1878 871.5h1M1704 1184.6h1"/>
<path stroke="#994466" stroke-width="26.3" d="M1865 193.2h1M1515 454.1h1"/>
<path stroke="#995533" stroke-width="26.3" d="M1663 141h1m31 0h1M1701 193.2h1M1533 323.6h1M1711 401.9h1M1659 715h1M1564 819.3h1M1590 871.5h1m119 0h1"/>
<path stroke="#995544" stroke-width="26.3" d="M1646 141h1M1691 219.3h2m39 0h2M1556 271.5h1m157 0h1m60 0h1m18 0h1m75 0h1M1517 375.8h1m35 0h1m208 0h1M1584 428h2m34 0h3M1894 480.2h1m25 0h1M1653 558.5h1m41 0h1M1488 636.7h1m114 0h3m166 0h3M1558 715h1m42 0h1m116 0h1M1514 741.1h1M1707 767.2h2m95 0h1M1586 793.3h1m152 0h1m31 0h1M1494 819.3h1m16 0h3m230 0h4m7 0h1m37 0h1m118 0h1M1683 871.5h1M1497 1184.6h1m54 0h2m96 0h1m29 0h1m196 0h1M1772 1210.7h1"/>
<path stroke="#995555" stroke-width="26.3" d="M1516 454.1h1"/>
<path stroke="#996622" stroke-width="26.3" d="M1607 245.4h1M1494 297.6h1M1880 375.8h1M1814 401.9h1M1891 428h1M1844 819.3h1M1623 1158.5h1M1644 1210.7h1"/>
<path stroke="#996633" stroke-width="26.3" d="M1815 114.9h1M1688 167.1h1m118 0h1M1911 193.2h1M1768 245.4h1m39 0h1M1581 271.5h2m139 0h1m40 0h3M1563 297.6h1m157 0h1m31 0h1m47 0h2m67 0h1m10 0h1M1556 323.6h1M1586 375.8h1m245 0h2M1765 401.9h1m143 0h1M1828 428h1M1755 532.4h1M1828 636.7h3m11 0h1M1918 715h1M1838 741.1h3M1822 767.2h1M1580 793.3h1m13 0h2m60 0h1m65 0h1M1550 819.3h3m34 0h2m99 0h1m91 0h1m54 0h1M1525 845.4h1m279 0h1m112 0h1M1648 871.5h1M1794 1158.5h1M1715 1184.6h1m119 0h2m65 0h3"/>
<path stroke="#996644" stroke-width="26.3" d="M1785 480.2h1M1486 636.7h2M1533 793.3h1M1765 819.3h3M1842 1210.7h1"/>
<path stroke="#997711" stroke-width="26.3" d="M1591 845.4h1"/>
<path stroke="#997722" stroke-width="26.3" d="M1487 245.4h2m59 0h1m284 0h2M1685 323.6h2M1755 375.8h2M1714 401.9h1M1816 532.4h2M1590 558.5h1M1867 688.9h3M1710 819.3h1M1905 845.4h2m3 0h1M1536 1210.7h3m86 0h3m50 0h1"/>
<path stroke="#997733" stroke-width="26.3" d="M1645 793.3h2"/>
<path stroke="#998811" stroke-width="26.3" d="M1605 297.6h2M1789 454.1h1M1812 506.3h1M1868 636.7h2M1596 845.4h1M1831 1210.7h2"/>
<path stroke="#998822" stroke-width="26.3" d="M1503 767.2h1"/>
<path stroke="#999900" stroke-width="26.3" d="M1486 88.8h2m41 0h3m11 0h3m2 0h1m21 0h4m117 0h1M1515 114.9h3m23 0h2m22 0h2m3 0h1m7 0h1m13 0h3m123 0h1m38 0h3m83 0h1M1534 141h2m5 0h2m6 0h2m11 0h1m27 0h3m2 0h1m126 0h3m22 0h2m123 0h2M1486 167.1h2m46 0h2m10 0h2m1 0h1m13 0h3m30 0h1m129 0h1m42 0h1M1493 193.2h3m49 0h2m33 0h2m24 0h3m4 0h2m120 0h3m28 0h1m64 0h2m40 0h2m41 0h2M1500 219.3h1m66 0h1m19 0h1m286 0h3M1544 245.4h1m59 0h1m23 0h3m6 0h2m11 0h3m28 0h2m7 0h2m16 0h1m88 0h1m34 0h1M1508 271.5h1m26 0h1m11 0h1m81 0h5m4 0h3m10 0h1m9 0h3m11 0h5m119 0h2M1486 297.6h1m27 0h1m53 0h1m58 0h2m212 0h1M1592 323.6h1m24 0h2m17 0h2m63 0h2M1535 349.7h2m61 0h2m249 0h1m57 0h1M1502 401.9h1m138 0h1m127 0h2m15 0h1M1510 428h3m35 0h1m51 0h1m123 0h1m3 0h1m55 0h1m74 0h1m52 0h1M1712 454.1h1M1664 480.2h2m22 0h1M1713 506.3h2M1858 532.4h1M1549 558.5h1m147 0h2m186 0h1M1612 584.5h2m221 0h1m17 0h2m3 0h1M1612 610.6h1m295 0h1M1694 636.7h1m87 0h2m69 0h2M1505 662.8h1m56 0h1m41 0h1m82 0h1M1549 688.9h2m67 0h1m133 0h3m32 0h1M1515 715h1m30 0h1m23 0h1m6 0h1m82 0h1M1523 741.1h1m51 0h1m23 0h1m80 0h1m4 0h1m14 0h2m26 0h1m26 0h2m1 0h3m55 0h1m14 0h1m33 0h1M1622 767.2h3m15 0h2m164 0h3m4 0h1m64 0h1m14 0h2M1531 793.3h2m12 0h2m19 0h1m11 0h2m113 0h6m3 0h2m80 0h1m55 0h3m20 0h2M1590 819.3h1m5 0h1m52 0h1m20 0h2m5 0h3m3 0h2m33 0h1m113 0h1M1602 845.4h3m149 0h3m6 0h1m138 0h3m23 0h3M1615 871.5h1m51 0h1m36 0h1m76 0h2M1807 897.6h1M1879 923.7h3M1534 949.8h5M1564 975.9h2m96 0h1m220 0h1M1915 1002h1M1894 1028.1h1M1582 1054.2h2m143 0h1M1757 1080.2h2m75 0h1m81 0h2M1734 1106.3h1m23 0h2m151 0h2M1579 1132.4h2m41 0h1m105 0h1m37 0h2m111 0h1M1543 1158.5h3m80 0h3m67 0h1m6 0h1m87 0h3m4 0h3m122 0h2M1602 1184.6h1m44 0h1m35 0h1m35 0h1m18 0h3m119 0h1M1504 1210.7h3m153 0h1m62 0h1m9 0h3m12 0h2M1594 1236.8h3m13 0h1m25 0h1m11 0h1m172 0h1m1 0h1M1575 1289h2m316 0h1"/>
<path stroke="#999911" stroke-width="26.3" d="M1841 584.5h2"/>
<path stroke="#aa00aa" stroke-width="26.3" d="M1904 88.8h2M1794 141h1m28 0h3M1841 167.1h3m66 0h1M1709 193.2h3M1859 219.3h3m23 0h2M1758 271.5h2m103 0h2M1876 349.7h3M1708 375.8h3M1895 428h1M1598 480.2h1m58 0h2m74 0h2m127 0h2m62 0h1M1701 532.4h1m70 0h1m70 0h1m70 0h1M1629 558.5h2m122 0h2m18 0h3M1717 636.7h1M1848 741.1h3M1618 793.3h2m61 0h3M1492 819.3h2m13 0h2M1492 871.5h2m25 0h3m400 0h2M1507 1184.6h1m277 0h2m44 0h2"/>
<path stroke="#aa1199" stroke-width="26.3" d="M1515 219.3h1m318 0h1"/>
<path stroke="#aa2277" stroke-width="26.3" d="M1637 741.1h1"/>
<path stroke="#aa2288" stroke-width="26.3" d="M1861 114.9h2M1511 219.3h3m216 0h2m121 0h1m23 0h1"/>
<path stroke="#aa2299" stroke-width="26.3" d="M1503 349.7h1"/>
<path stroke="#aa3366" stroke-width="26.3" d="M1537 349.7h1"/>
<path stroke="#aa3377" stroke-width="26.3" d="M1929 114.9h1M1689 219.3h2m171 0h3M1787 349.7h2m105 0h1M1881 454.1h3M1626 715h1m51 0h1m7 0h1M1593 741.1h1m207 0h1"/>
<path stroke="#aa4455" stroke-width="26.3" d="M1659 375.8h1M1557 715h1"/>
<path stroke="#aa4466" stroke-width="26.3" d="M1625 219.3h3m194 0h2m3 0h2M1570 349.7h1m328 0h1m11 0h1M1554 715h1m14 0h1m6 0h1m1 0h1m137 0h1m75 0h2M1631 741.1h1m38 0h1m146 0h1M1615 793.3h1m54 0h1"/>
<path stroke="#aa4477" stroke-width="26.3" d="M1811 715h1M1779 741.1h3"/>
<path stroke="#aa5544" stroke-width="26.3" d="M1716 532.4h2M1502 558.5h2M1562 741.1h1M1815 871.5h2"/>
<path stroke="#aa5555" stroke-width="26.3" d="M1886 271.5h2M1530 349.7h1m49 0h3m292 0h1M1537 454.1h1m387 0h1M1598 715h1m52 0h3m3 0h2m109 0h2m32 0h1M1521 741.1h1m210 0h1m165 0h2M1563 793.3h1m257 0h1M1577 819.3h2M1513 871.5h1M1673 1184.6h3m147 0h1"/>
<path stroke="#aa5566" stroke-width="26.3" d="M1673 114.9h1M1691 349.7h1M1642 715h1m182 0h1"/>
<path stroke="#aa6633" stroke-width="26.3" d="M1825 193.2h1M1785 401.9h1"/>
<path stroke="#aa6644" stroke-width="26.3" d="M1637 193.2h1m46 0h3M1646 219.3h2m153 0h1m9 0h1M1770 271.5h1M1602 349.7h3m3 0h1M1730 375.8h2M1656 401.9h3M1498 428h2m5 0h1m144 0h3m265 0h2M1883 480.2h1M1672 558.5h1m230 0h1M1890 636.7h1M1836 715h1M1696 741.1h3M1486 767.2h1M1535 793.3h2m7 0h1M1583 819.3h1m202 0h1M1495 845.4h1M1570 1184.6h2m92 0h3m230 0h2M1566 1210.7h1m42 0h2"/>
<path stroke="#aa7722" stroke-width="26.3" d="M1863 88.8h1"/>
<path stroke="#aa7733" stroke-width="26.3" d="M1821 271.5h1m74 0h1M1565 428h1M1821 480.2h2M1702 715h1M1531 741.1h1m337 0h1M1818 819.3h1"/>
<path stroke="#aa7744" stroke-width="26.3" d="M1488 715h2"/>
<path stroke="#aa8822" stroke-width="26.3" d="M1719 349.7h1M1913 375.8h1M1681 767.2h2M1556 845.4h1"/>
<path stroke="#aa9911" stroke-width="26.3" d="M1883 793.3h2"/>
<path stroke="#aaaa00" stroke-width="26.3" d="M1492 88.8h2m21 0h2m4 0h3m16 0h3m24 0h1m79 0h1m86 0h3m26 0h2m8 0h2m107 0h2M1501 114.9h1m18 0h1m30 0h2m14 0h3m19 0h3m61 0h1m23 0h1m62 0h2m10 0h1m17 0h2m142 0h2M1498 141h4m2 0h2m15 0h3m6 0h2m22 0h2m7 0h2m12 0h2m7 0h2m130 0h3m23 0h1m10 0h1M1489 167.1h2m49 0h1m27 0h3m8 0h1m34 0h1m19 0h2m94 0h2m3 0h2m131 0h2m9 0h2M1486 193.2h3m23 0h3m12 0h3m1 0h2m14 0h2m53 0h3m51 0h2m84 0h1m62 0h3m47 0h2M1489 219.3h1m35 0h1m289 0h1m3 0h3m47 0h1M1709 245.4h3M1502 271.5h1m178 0h2m26 0h1m1 0h2m162 0h1m16 0h1M1574 297.6h1m102 0h3m4 0h2m4 0h3m55 0h1m24 0h1M1500 323.6h2m289 0h3m12 0h1m5 0h1m70 0h1M1488 349.7h2m99 0h3m180 0h2m6 0h3m10 0h2m91 0h1m31 0h1M1727 375.8h1m59 0h1m126 0h1M1503 401.9h3m15 0h3m120 0h2m107 0h2M1861 428h1M1527 454.1h1m264 0h2M1816 480.2h2m27 0h2M1546 506.3h1M1646 558.5h2m142 0h3m11 0h3m16 0h3M1840 584.5h1m7 0h3M1814 610.6h1m2 0h2m59 0h1M1623 636.7h2m32 0h3m20 0h1m115 0h3m109 0h2M1608 662.8h1m226 0h2m9 0h4M1668 688.9h1M1496 715h1m87 0h1m88 0h1m41 0h1m87 0h3m50 0h1m12 0h1M1504 741.1h1m40 0h1m34 0h2m19 0h3m41 0h3m44 0h3m47 0h1m129 0h3M1595 767.2h1m7 0h1m105 0h1m78 0h1m90 0h2M1608 793.3h3m39 0h2m127 0h1m13 0h1m75 0h1M1635 819.3h2m4 0h2m10 0h2m9 0h2m46 0h1m50 0h2m40 0h1m36 0h1m11 0h1m25 0h1M1492 845.4h2m59 0h1m26 0h1m20 0h1m109 0h1m66 0h1M1578 871.5h3m346 0h2m2 0h1M1861 897.6h1m43 0h2m19 0h3M1715 923.7h2m181 0h1m5 0h2M1906 949.8h4M1525 975.9h1m58 0h1m240 0h1m17 0h2M1620 1002h1m4 0h1m116 0h1M1491 1054.2h1m56 0h3m221 0h1m3 0h1m10 0h2m65 0h1M1508 1080.2h1m27 0h1m385 0h2M1699 1106.3h1m47 0h1M1664 1132.4h1m150 0h1m25 0h2M1497 1158.5h1m41 0h1m28 0h3m35 0h1m34 0h3m151 0h1M1520 1184.6h1m146 0h1m4 0h1m176 0h1m32 0h1m22 0h1M1515 1210.7h2m31 0h4m89 0h1m24 0h2m9 0h1m137 0h1m1 0h3m41 0h1M1522 1236.8h1m82 0h1m103 0h1m32 0h1m64 0h3m8 0h3m93 0h1"/>
<path stroke="#bb00bb" stroke-width="26.3" d="M1794 114.9h1M1524 219.3h1m14 0h3m7 0h3m135 0h2m53 0h2m7 0h3m38 0h3m70 0h3m34 0h2m4 0h2m2 0h2M1529 349.7h1m11 0h3m50 0h1m34 0h2m11 0h2m10 0h3m17 0h3m3 0h1m3 0h3m2 0h2m2 0h3m164 0h2m18 0h3m37 0h2M1847 480.2h1"/>
<path stroke="#bb1199" stroke-width="26.3" d="M1531 349.7h2"/>
<path stroke="#bb11aa" stroke-width="26.3" d="M1491 349.7h1"/>
<path stroke="#bb2299" stroke-width="26.3" d="M1787 219.3h3M1493 349.7h2m330 0h1m88 0h1"/>
<path stroke="#bb3377" stroke-width="26.3" d="M1607 715h1M1636 741.1h1"/>
<path stroke="#bb3388" stroke-width="26.3" d="M1669 114.9h1m170 0h1M1527 219.3h1m38 0h1m143 0h2m208 0h1M1802 349.7h1M1736 715h1m64 0h1M1520 741.1h1"/>
<path stroke="#bb3399" stroke-width="26.3" d="M1855 349.7h1"/>
<path stroke="#bb4466" stroke-width="26.3" d="M1696 114.9h2M1879 219.3h3M1509 349.7h1M1596 715h2"/>
<path stroke="#bb4477" stroke-width="26.3" d="M1640 219.3h1M1508 349.7h1M1637 454.1h3M1509 715h1m138 0h1m81 0h1m28 0h1M1561 741.1h1"/>
<path stroke="#bb4488" stroke-width="26.3" d="M1628 219.3h1M1848 349.7h1M1690 715h1"/>
<path stroke="#bb5555" stroke-width="26.3" d="M1811 349.7h2M1639 741.1h2m24 0h2m60 0h1m63 0h1"/>
<path stroke="#bb5566" stroke-width="26.3" d="M1683 114.9h1M1523 219.3h1m330 0h2M1583 349.7h3M1728 454.1h1M1548 715h1m188 0h1m72 0h1m85 0h2M1695 741.1h1"/>
<path stroke="#bb6644" stroke-width="26.3" d="M1588 219.3h1M1814 871.5h1"/>
<path stroke="#bb6655" stroke-width="26.3" d="M1794 375.8h3M1541 715h3m27 0h1m8 0h3M1570 741.1h3m42 0h1m99 0h1m74 0h1M1507 793.3h1"/>
<path stroke="#bb6666" stroke-width="26.3" d="M1606 715h1m128 0h1"/>
<path stroke="#bb7733" stroke-width="26.3" d="M1594 741.1h1"/>
<path stroke="#bb7744" stroke-width="26.3" d="M1486 454.1h1M1686 741.1h1"/>
<path stroke="#bb8822" stroke-width="26.3" d="M1772 375.8h1"/>
<path stroke="#bb8833" stroke-width="26.3" d="M1806 793.3h1"/>
<path stroke="#bbbb00" stroke-width="26.3" d="M1537 88.8h3m50 0h2m22 0h1M1650 114.9h3m92 0h2M1768 141h3m136 0h2M1541 167.1h1m1 0h3m55 0h2m191 0h2m4 0h1m116 0h1M1762 193.2h2m138 0h1M1621 219.3h3m21 0h1m4 0h3m157 0h1m93 0h1M1495 245.4h1m184 0h1m117 0h1m29 0h3M1647 271.5h2m171 0h1m4 0h1M1798 297.6h1m61 0h1M1517 323.6h1M1495 349.7h1m18 0h1m41 0h1m19 0h2m8 0h2m137 0h2m10 0h1m51 0h2m74 0h1M1539 375.8h1m179 0h3m86 0h2m116 0h3M1498 401.9h1m10 0h1m17 0h1m46 0h1m104 0h1m24 0h1m35 0h1m122 0h1M1529 428h4m1 0h2m66 0h2m82 0h3m40 0h1m12 0h1m77 0h1m26 0h1m10 0h1M1809 454.1h2m8 0h2M1787 480.2h1m19 0h3M1799 506.3h1m4 0h1m20 0h2m1 0h2M1588 532.4h2m206 0h1m3 0h1m34 0h1M1618 558.5h1m214 0h2m36 0h1M1614 610.6h1m245 0h1M1574 636.7h1m93 0h1m180 0h2M1533 662.8h1m139 0h2m193 0h2m42 0h2M1539 688.9h3m160 0h3m112 0h1m10 0h3m24 0h2M1857 715h2m5 0h1m9 0h3m11 0h3M1648 741.1h1m23 0h1m157 0h1m30 0h2m24 0h1M1658 767.2h1m39 0h3m4 0h1m153 0h1m14 0h4M1688 793.3h3m21 0h1m45 0h1m54 0h3m59 0h3m17 0h1M1629 819.3h3m128 0h1M1538 845.4h1m133 0h1m10 0h1m18 0h2m138 0h1m7 0h1M1670 871.5h1m16 0h3M1757 897.6h1m112 0h1M1678 923.7h2M1694 949.8h1m26 0h1m176 0h3M1524 975.9h1m69 0h1m113 0h1m95 0h1m95 0h1m7 0h3M1726 1002h1M1689 1054.2h1m61 0h1M1502 1080.2h1m10 0h3m45 0h2m284 0h1M1757 1132.4h1M1680 1158.5h1m205 0h1m31 0h1M1511 1184.6h1m17 0h1m71 0h1m47 0h1m9 0h1m131 0h1m132 0h2M1532 1210.7h2m73 0h2m49 0h2m21 0h1m126 0h1m114 0h2M1575 1236.8h1m31 0h1m45 0h1m89 0h3m46 0h3m8 0h1m11 0h3M1850 1289h3m73 0h2"/>
<path stroke="#cc00cc" stroke-width="26.3" d="M1636 114.9h3m6 0h2m7 0h4m48 0h3m156 0h3m30 0h3m3 0h3M1930 219.3h2M1886 375.8h3M1491 454.1h2m21 0h1m7 0h1m52 0h2m11 0h3m12 0h1m12 0h3m2 0h3m6 0h2m20 0h3m6 0h2m2 0h4m26 0h3m4 0h1m3 0h2m7 0h1m25 0h2m42 0h2m103 0h2m15 0h1m5 0h5M1544 715h1m16 0h2m49 0h6m1 0h3m40 0h3m12 0h1m20 0h3m2 0h2m9 0h1m8 0h1m31 0h2m25 0h1m3 0h1m4 0h1m23 0h2m23 0h2m9 0h2m13 0h3M1505 741.1h1m31 0h2m2 0h2m21 0h4m178 0h1m19 0h2m14 0h1m37 0h3m79 0h2"/>
<path stroke="#cc2299" stroke-width="26.3" d="M1585 219.3h2"/>
<path stroke="#cc3399" stroke-width="26.3" d="M1784 219.3h2M1500 349.7h3m57 0h1m39 0h1m194 0h1m41 0h3m16 0h2m37 0h1"/>
<path stroke="#cc4488" stroke-width="26.3" d="M1634 219.3h3m5 0h2m4 0h1m59 0h2M1868 349.7h1"/>
<path stroke="#cc5566" stroke-width="26.3" d="M1663 219.3h2M1574 715h1"/>
<path stroke="#cc5577" stroke-width="26.3" d="M1526 219.3h1m9 0h1m55 0h3m46 0h1M1550 349.7h1m6 0h1"/>
<path stroke="#cc6666" stroke-width="26.3" d="M1559 349.7h1m32 0h1m214 0h1m18 0h2M1563 715h1m177 0h1"/>
<path stroke="#cc6677" stroke-width="26.3" d="M1701 219.3h3"/>
<path stroke="#cc7744" stroke-width="26.3" d="M1653 219.3h2"/>
<path stroke="#cc8844" stroke-width="26.3" d="M1887 349.7h3"/>
<path stroke="#cccc00" stroke-width="26.3" d="M1806 88.8h1M1832 114.9h2M1641 167.1h3m53 0h2m212 0h3M1510 219.3h1m99 0h1M1598 245.4h1m7 0h1M1487 271.5h1m6 0h1m73 0h1M1505 297.6h1m237 0h1m88 0h1m12 0h1M1502 323.6h1m367 0h1M1486 349.7h2m24 0h1m217 0h1m14 0h1m14 0h1m8 0h1m74 0h4M1688 375.8h1m84 0h3m1 0h1m133 0h2m16 0h1M1531 401.9h2m66 0h2m10 0h3m68 0h1m75 0h5m27 0h1M1613 428h1m252 0h1M1797 454.1h2m9 0h1m6 0h2m15 0h1M1818 480.2h3m2 0h5m5 0h2M1787 506.3h2m7 0h2m7 0h1m13 0h3m8 0h1M1790 532.4h2m30 0h3m7 0h3M1787 558.5h3m30 0h3m4 0h2M1836 584.5h1m24 0h1m5 0h3M1833 610.6h1m1 0h2m54 0h3M1663 636.7h3m26 0h1m158 0h2m57 0h1M1539 662.8h1m77 0h1m207 0h1m39 0h2M1580 688.9h1m76 0h2m17 0h1m87 0h2m79 0h2m26 0h3m3 0h1M1490 715h1m102 0h2m288 0h1m32 0h2M1503 741.1h1m59 0h1m71 0h1m42 0h1m55 0h1m78 0h3m29 0h1m35 0h3M1598 767.2h1m22 0h1m62 0h1m26 0h1m3 0h2m40 0h1m33 0h2m61 0h1M1667 793.3h1m53 0h1m6 0h1m5 0h1m52 0h2M1637 819.3h1m136 0h2m85 0h1m28 0h2M1719 845.4h1M1497 897.6h1m321 0h1M1512 975.9h1m181 0h2m40 0h1m161 0h2M1723 1002h3M1526 1054.2h1m192 0h1m191 0h1m4 0h1M1770 1080.2h1m5 0h1m138 0h1M1750 1106.3h3m160 0h5M1665 1132.4h3m44 0h2M1537 1158.5h2m25 0h1m11 0h2M1527 1184.6h1m118 0h1m48 0h1m154 0h3m54 0h1M1573 1210.7h1m223 0h2M1494 1236.8h1m134 0h1m45 0h3m17 0h1"/>
<path stroke="#dd00dd" stroke-width="26.3" d="M1630 114.9h2m59 0h3m233 0h2M1497 454.1h3m17 0h3m383 0h1M1705 715h6m52 0h2m134 0h2m3 0h1M1584 741.1h2m184 0h3"/>
<path stroke="#dd4499" stroke-width="26.3" d="M1798 219.3h2M1910 349.7h1"/>
<path stroke="#dd5577" stroke-width="26.3" d="M1488 219.3h1m68 0h1"/>
<path stroke="#dd6666" stroke-width="26.3" d="M1696 219.3h2"/>
<path stroke="#dd6677" stroke-width="26.3" d="M1538 219.3h1m211 0h1m49 0h1M1549 349.7h1m329 0h1"/>
<path stroke="#dddd00" stroke-width="26.3" d="M1492 271.5h1m27 0h2M1593 323.6h2M1715 349.7h4m1 0h5m6 0h3m4 0h2m10 0h2m1 0h2m9 0h3m3 0h2m2 0h1m2 0h3m3 0h2m14 0h1m13 0h3M1754 375.8h1m160 0h3m12 0h2M1736 401.9h2M1794 454.1h3m10 0h1m3 0h2m8 0h5m2 0h2M1796 480.2h1m2 0h1m13 0h2m13 0h2M1789 506.3h3m8 0h4m18 0h3m6 0h2M1792 532.4h3m6 0h3m5 0h7m13 0h1M1803 558.5h1m5 0h5m15 0h1M1845 610.6h3M1848 636.7h1m46 0h2m5 0h3m1 0h1M1609 662.8h1M1588 715h2m282 0h2m11 0h3m5 0h2M1643 793.3h1m61 0h1m185 0h2M1879 819.3h1m2 0h2M1898 871.5h3M1929 897.6h1M1912 1054.2h4M1532 1132.4h1M1521 1158.5h3M1861 1184.6h1m56 0h1M1556 1210.7h1"/>
<path stroke="#ee6688" stroke-width="26.3" d="M1597 349.7h1"/>
<path stroke="#eeee00" stroke-width="26.3" d="M1735 349.7h1m5 0h4m7 0h1m5 0h2m1 0h3m3 0h2m6 0h2M1787 454.1h2m12 0h1m11 0h2m2 0h2m7 0h2m2 0h2m1 0h2M1794 480.2h2m4 0h2m28 0h3M1792 506.3h1m5 0h1m7 0h5m2 0h6m8 0h1m5 0h2M1787 532.4h3m7 0h3m6 0h3m16 0h4M1798 558.5h2m14 0h3m13 0h3M1851 584.5h2M1897 636.7h5m3 0h1M1884 715h1M1930 897.6h2M1913 1080.2h2"/>
<path stroke="#ff00ff" stroke-width="26.3" d="M1589 219.3h3m125 0h3m87 0h2m43 0h1m48 0h1m13 0h2m8 0h1M1518 349.7h2m1 0h2m4 0h2m24 0h2m7 0h2m63 0h2m52 0h2m18 0h4"/>
<path stroke="#ffff00" stroke-width="26.3" d="M1727 349.7h3m4 0h1m1 0h1m3 0h1m5 0h4m5 0h3m27 0h2M1790 454.1h2m7 0h2m3 0h3M1788 480.2h6m3 0h2m3 0h5m3 0h3m2 0h1M1811 506.3h1M1795 532.4h1m8 0h2m12 0h4m8 0h2M1793 558.5h5m2 0h3m4 0h2m8 0h3m6 0h1M1907 636.7h1M1870 715h1m6 0h6m8 0h2M1900 845.4h2"/>
</g></g>
<rect x="1614.3" y="75.8" width="1.3" height="1226.2" fill="#fff" opacity="0.85"/>
<rect x="1714.3" y="75.8" width="1.3" height="1226.2" fill="#fff" opacity="0.85"/>
<rect x="1786.3" y="75.8" width="1.3" height="1226.2" fill="#fff" opacity="0.85"/>
<rect x="1834.3" y="75.8" width="1.3" height="1226.2" fill="#fff" opacity="0.85"/>
<rect x="1869.3" y="75.8" width="1.3" height="1226.2" fill="#fff" opacity="0.85"/>
<rect x="1894.3" y="75.8" width="1.3" height="1226.2" fill="#fff" opacity="0.85"/>
<rect x="1910.3" y="75.8" width="1.3" height="1226.2" fill="#fff" opacity="0.85"/>
<rect x="1917.3" y="75.8" width="1.3" height="1226.2" fill="#fff" opacity="0.85"/>
<rect x="1925.3" y="75.8" width="1.3" height="1226.2" fill="#fff" opacity="0.85"/>
<text x="1480" y="97.1" font-size="19.2" text-anchor="end" fill="#e41a1c">Rps7</text>
<text x="1480" y="124.3" font-size="19.2" text-anchor="end" fill="#e41a1c">Rps24</text>
<text x="1480" y="146.6" font-size="19.2" text-anchor="end" fill="#e41a1c">Rpl13</text>
<text x="1480" y="170.5" font-size="19.2" text-anchor="end" fill="#e41a1c">Rps8</text>
<text x="1480" y="201" font-size="19.2" text-anchor="end" fill="#e41a1c">Rpsa</text>
<text x="1480" y="229.8" font-size="19.2" text-anchor="end" fill="#4a73a7">Ccl4</text>
<text x="1480" y="253.7" font-size="19.2" text-anchor="end" fill="#4a73a7">Tox</text>
<text x="1480" y="277.6" font-size="19.2" text-anchor="end" fill="#4a73a7">Ctla4</text>
<text x="1480" y="304" font-size="19.2" text-anchor="end" fill="#4a73a7">Tigit</text>
<text x="1480" y="330.4" font-size="19.2" text-anchor="end" fill="#4a73a7">Pdcd1</text>
<text x="1480" y="353.5" font-size="19.2" text-anchor="end" fill="#48a462">Ly6c2</text>
<text x="1480" y="382.3" font-size="19.2" text-anchor="end" fill="#48a462">Klf2</text>
<text x="1480" y="410.6" font-size="19.2" text-anchor="end" fill="#48a462">Emb</text>
<text x="1480" y="433.8" font-size="19.2" text-anchor="end" fill="#48a462">Il7r</text>
<text x="1480" y="463.5" font-size="19.2" text-anchor="end" fill="#7f6e85">Isg15</text>
<text x="1480" y="491.5" font-size="19.2" text-anchor="end" fill="#7f6e85">Ifit3</text>
<text x="1480" y="517.1" font-size="19.2" text-anchor="end" fill="#7f6e85">Ifit3b</text>
<text x="1480" y="541.8" font-size="19.2" text-anchor="end" fill="#7f6e85">Ifit1</text>
<text x="1480" y="564.9" font-size="19.2" text-anchor="end" fill="#7f6e85">Irf7</text>
<text x="1480" y="597.9" font-size="19.2" text-anchor="end" fill="#d16948">CD40lg</text>
<text x="1480" y="624.2" font-size="19.2" text-anchor="end" fill="#d16948">Trat1</text>
<text x="1480" y="651.4" font-size="19.2" text-anchor="end" fill="#d16948">Fgl2</text>
<text x="1480" y="678.7" font-size="19.2" text-anchor="end" fill="#d16948">Zfp683</text>
<text x="1480" y="701.7" font-size="19.2" text-anchor="end" fill="#d16948">Tesc</text>
<text x="1480" y="721.5" font-size="19.2" text-anchor="end" fill="#ffb817">Egr1</text>
<text x="1480" y="748.1" font-size="19.2" text-anchor="end" fill="#ffb817">Fos</text>
<text x="1480" y="773.8" font-size="19.2" text-anchor="end" fill="#ffb817">Nr4a1</text>
<text x="1480" y="801.8" font-size="19.2" text-anchor="end" fill="#ffb817">Zfp36</text>
<text x="1480" y="829" font-size="19.2" text-anchor="end" fill="#ffb817">Fosb</text>
<text x="1480" y="852.9" font-size="19.2" text-anchor="end" fill="#e1c72f">Klre1</text>
<text x="1480" y="880.1" font-size="19.2" text-anchor="end" fill="#e1c72f">Gzma</text>
<text x="1480" y="904.9" font-size="19.2" text-anchor="end" fill="#e1c72f">Klrg1</text>
<text x="1480" y="928.8" font-size="19.2" text-anchor="end" fill="#e1c72f">Tcrg-v4</text>
<text x="1480" y="957.6" font-size="19.2" text-anchor="end" fill="#e1c72f">Klra9</text>
<text x="1480" y="980.7" font-size="19.2" text-anchor="end" fill="#e1c72f">Itgax</text>
<text x="1480" y="1007.1" font-size="19.2" text-anchor="end" fill="#b8604a">Sell</text>
<text x="1480" y="1036.8" font-size="19.2" text-anchor="end" fill="#b8604a">Igfbp4</text>
<text x="1480" y="1065.6" font-size="19.2" text-anchor="end" fill="#b8604a">Ccr7</text>
<text x="1480" y="1090.2" font-size="19.2" text-anchor="end" fill="#b8604a">Actn1</text>
<text x="1480" y="1118.3" font-size="19.2" text-anchor="end" fill="#b8604a">Cmah</text>
<text x="1480" y="1145.2" font-size="19.2" text-anchor="end" fill="#ed84bb">Bcl3</text>
<text x="1480" y="1171.5" font-size="19.2" text-anchor="end" fill="#ed84bb">Relb</text>
<text x="1480" y="1199.3" font-size="19.2" text-anchor="end" fill="#ed84bb">Nfkbia</text>
<text x="1480" y="1223.2" font-size="19.2" text-anchor="end" fill="#ed84bb">Icam1</text>
<text x="1480" y="1248.5" font-size="19.2" text-anchor="end" fill="#ed84bb">Nfkb2</text>
<text x="1480" y="1274.7" font-size="19.2" text-anchor="end" fill="#999999">S1pr5</text>
<text x="1480" y="1301" font-size="19.2" text-anchor="end" fill="#999999">Cx3cr1</text>
<text x="1643.5" y="1357.5" font-size="32.5">CD8<tspan font-size="17" dy="-11.5">+</tspan><tspan dy="11.5"> T cells</tspan></text>
<text x="-0.6" y="1511.8" font-size="38.5" font-weight="bold">b</text>
<rect x="60.8" y="1541" width="241.3" height="243.1" fill="#fff" stroke="#555" stroke-width="1.5"/>
<path d="M60.8 1541H302.1" stroke="#666" stroke-width="3"/>
<text x="184.4" y="1531.7" font-size="32.4" text-anchor="middle">E4</text>
<path stroke="#999999" stroke-width="3.9" stroke-linecap="round" d="M84 1686zm1 0zm1 0zm4 1zm2 3zm0-1zm-1-1zm-1 5zm-1 0zm0-1zm0-2zm0-1zm0-2zm-2 4zm0-2zm-1 3zm0-3zm0-2zm-1 7zm-1-6zm-1 5zm-1-2zm4 4zm1 0zm2-1zm0 1z"/>
<path stroke="#d889b2" stroke-width="3.9" stroke-linecap="round" d="M194 1764zm2-2zm0 1zm2 0zm1 0zm4 5zm-1-2zm-1 4zm0-2zm0-1zm-1-1zm0-1zm-2 3zm0-2zm-1 5zm-1-2zm0-1zm-1 3zm-1 0zm0-2zm0-2zm0-3zm-1 5zm-1-3zm0 5zm2 0zm4 2zm1-2zm0 4z"/>
<path d="M251.4 1581.1L292.4 1582.3" stroke="#a65628" stroke-width="6.5" stroke-linecap="round"/>
<path stroke="#a65628" stroke-width="3.9" stroke-linecap="round" d="M252 1578zm0 1zm1-3zm1 1zm0 3zm1-1zm0 3zm2-4zm0 3zm1-4zm2 0zm0 1zm1 0zm1 3zm1-1zm1-1zm9 3zm2-2zm1 1zm1-3zm1 4zm1-1zm1-1zm0 2zm1-5zm1 1zm1 1zm1 0zm1 0zm1-2zm1 0zm0 3zm1 0zm1-1zm1 1zm2-1zm-1 6zm-1-1zm-3 3zm0-1zm-1 1zm-1-2zm-1 0zm-1 1zm-1-1zm0-2zm-1 3zm-2 0zm-2-3zm-1 1zm-2 1zm-1-1zm-1 3zm-2-2zm-1 1zm0-1zm0-1zm-3-2zm-2 4zm-2-2zm-1 2zm-1 0zm0-1zm-4 1zm-1-3zm-1 1zm-1 1z"/>
<ellipse cx="232.1" cy="1686.9" rx="13.9" ry="21" fill="#ba5e6d"/>
<path stroke="#ba5e6d" stroke-width="3.9" stroke-linecap="round" d="M213 1658zm1 0zm1-4zm4 0zm1 4zm4 0zm1-3zm0 1zm4 1zm2 2zm12 4zm-7 2zm-1-2zm-2 2zm-1-1zm-2 1zm0-6zm-1 5zm-2 1zm0-2zm0-2zm0-1zm0-1zm-1 2zm-1 4zm-1-5zm-1 4zm-2-2zm-4 2zm-1-2zm-1 4zm0-7zm-1 5zm0-3zm0-1zm0-1zm-5 5zm4 4zm1 1zm1-2zm0 2zm2-2zm1 0zm0 5zm1-2zm0 1zm1-3zm0 4zm2-5zm1-1zm1 1zm1 1zm1-2zm1 3zm0 3zm3-5zm2 5zm0 1zm7 0zm1-1zm2 0zm1-2zm1 2zm1-2zm4 6zm0-2zm-3 0zm-1 6zm-2-1zm-2-4zm-1 2zm0-3zm-4 4zm-3 0zm-2-1zm-1 2zm0-5zm-1 2zm-1 2zm0-2zm-1-3zm-1 7zm-1-3zm-2-4zm-5 1zm-1 1zm-2-1zm-1 5zm0 5zm2-4zm0 3zm1-3zm0 4zm2-2zm1 0zm3 4zm1-4zm0 5zm1-4zm1 0zm1 2zm1 0zm4 0zm1-3zm4 1zm1 4zm2-6zm1 1zm3 3zm1-1zm0 2zm1-2zm2 3zm2 6zm0-4zm-6 1zm-1 1zm-1 3zm-1-1zm0-5zm-1 4zm0-3zm-2 1zm-1-2zm-5 5zm0-4zm-1 1zm-2 1zm0-4zm-1 3zm0-1zm-1 5zm0-5zm-2 0zm0-1zm-1 3zm-1 2zm0-2zm-2 2zm-1 0zm0-5zm-1 0zm-3 1zm-1 5zm0 1zm1 0zm2-1zm1 4zm1 1zm1-1zm2-3zm0 6zm5-2zm3-2zm3-2zm0 1zm0 4zm1-2zm5-2zm4-2zm0 4zm0 2zm2-6zm2 7zm2-6zm0 2zm-4 9zm-3 2zm0-1zm0-3zm-1 1zm-1 1zm0-4zm-5 2zm-1-1zm-1 0zm-2 2zm-2-4zm-2 5zm-2-2zm-4-1zm3 6zm1 4zm2-1zm1 1zm1 0zm1-4zm1 5zm1-3zm2-2zm1 6zm1-5zm2 1zm1 1zm2 0zm1-2zm1-2zm-12 7zm-1 1z"/>
<ellipse cx="220.1" cy="1735.5" rx="16.5" ry="13.1" fill="#7f6e85"/>
<path stroke="#7f6e85" stroke-width="3.9" stroke-linecap="round" d="M207 1721zm1 0zm0 1zm1-1zm1-1zm1-1zm1 2zm3 0zm1-2zm0 1zm1-1zm1-1zm5 3zm2-1zm1 1zm1-2zm1 0zm2 1zm2 1zm2 1zm3 4zm-1 2zm0-1zm0-3zm-1 3zm0-1zm0-1zm0-1zm-4 4zm-1 0zm0-1zm-1-1zm0-3zm-1 1zm-2 2zm0-2zm-1 4zm0-4zm-1 5zm-1-6zm-1 6zm0-3zm0-1zm-1 0zm-1 3zm-1-4zm0-1zm-1 1zm-1 5zm-3-2zm0-1zm-2 0zm-2-2zm0-2zm-1 7zm0-5zm-1 3zm0-1zm-1-1zm-1 3zm0-2zm-1 1zm-2-1zm0-1zm-1 3zm-4 8zm1-2zm2 0zm1-1zm5-3zm0 1zm0 2zm0 2zm3-5zm0 1zm0 4zm1-1zm2 1zm1-2zm0 2zm1-4zm0 1zm1-2zm0 2zm0 1zm1 1zm2-2zm0 4zm1-3zm2-3zm1 4zm1-2zm2-2zm1 5zm1 1zm3-5zm0 3zm1-3zm0 2zm1-2zm0 2zm1-2zm0 2zm0 1zm2-4zm1 0zm0 5zm1-2zm0 1zm1 0zm0 1zm2-3zm0 2zm1 6zm0-1zm-1 1zm0-3zm-1 4zm-1 2zm0-3zm-2 1zm-1 2zm0-2zm-1 1zm-2 1zm-1-1zm-7 1zm-1-3zm-1 2zm-1-3zm-1-1zm-1 1zm-1 3zm-2 0zm0-2zm-1 2zm0-4zm-1 4zm0-4zm0-1zm-1 4zm0-2zm-3 1zm0-1zm0-3zm-1 2zm0-1zm-1 2zm-1 4zm0-1zm0-1zm0-2zm-1 3zm-3 0zm-1-2zm0-4zm-1 5zm0-3zm-1 4zm-1 0zm-2-4zm0-1zm3 7zm3 2zm1 2zm0 1zm1-5zm0 5zm1-5zm1 1zm3-1zm0 1zm0 1zm1-2zm1-1zm0 5zm1-3zm1 4zm1-3zm1-2zm0 3zm1 2zm1-6zm1 1zm2 2zm0 2zm1-1zm0 1zm0 2zm3-6zm1 3zm0 1zm1 1zm1 0zm1-4zm0 3zm2 0zm0 2zm1-3zm0 2zm1-1zm1-2zm1 2zm1-4zm0 2zm2 0zm1-2zm-9 7zm-2 0zm-3 0zm-1 1zm-1-1zm-1 1zm-2 1zm0-3zm-5 3zm-3-2zm-1-1z"/>
<path d="M135.6 1703.9L195.9 1725.8" stroke="#ff7f00" stroke-width="14.9" stroke-linecap="round"/>
<path stroke="#ff7f00" stroke-width="3.9" stroke-linecap="round" d="M138 1700zm1-6zm0 3zm6 3zm1-3zm1 1zm2 0zm1 1zm4 0zm3 2zm22 6zm-4-1zm-1 0zm0-1zm-1 2zm-1 1zm0-4zm-5 2zm-3-5zm-1 6zm-1-1zm-2 1zm0-4zm-2 0zm-1 0zm-2 4zm0-4zm-1 2zm-2 2zm-3-3zm-2 4zm0-5zm-1 1zm-2 1zm0-1zm-1 4zm-1-6zm-1 4zm-2 1zm-2-2zm0-1zm0-1zm-1 3zm-2 4zm1 4zm3-1zm2 0zm1-1zm1 2zm1-1zm1-3zm3 4zm3-1zm1-1zm4-4zm1 0zm1 3zm0 3zm2-5zm1 0zm0 3zm2 0zm5 2zm1-5zm2 2zm1 0zm3-2zm0 4zm1-3zm0 5zm1-5zm3 0zm0 5zm1-5zm2 3zm1-2zm1 4zm3-5zm0 2zm4 3zm1-2zm2 0zm5 1zm-1 1zm-1 6zm-2-6zm-1 4zm0-3zm-2 2zm-1 3zm-3 0zm-1-2zm0-2zm-2 3zm-3-2zm-1 1zm0-3zm-1 3zm0-4zm-2 5zm0-2zm-1-1zm0-1zm-2 3zm-2 0zm-2 1zm-1-4zm-2 2zm-1-3zm-1 1zm-1 5zm0-2zm-4-3zm-1 3zm-1 2zm0-2zm-1 2zm0-4zm-1 3zm-1 0zm0-2zm-1 4zm-2-6zm-1 4zm0-4zm-1 1zm0-2zm-1 4zm0-2zm0-1zm-5 2zm-1-2zm-2 0zm-8 0zm18 6zm5 1zm2 0zm2 3zm2-3zm2-1zm1 5zm1-1zm2 2zm2-1zm0 2zm1-3zm2-4zm0 5zm2 0zm1-3zm1-2zm2 0zm1 4zm1-2zm0 3zm1-4zm1 3zm1 1zm1-5zm6 1zm0 6zm0 5zm0-1zm0-2zm-1 4zm0-4zm-2-2zm-1 3zm-5 0zm-1-2z"/>
<path d="M113.9 1657.7L159.7 1696.6" stroke="#ffd422" stroke-width="16.4" stroke-linecap="round"/>
<path stroke="#ffd422" stroke-width="3.9" stroke-linecap="round" d="M121 1649zm1 2zm13 8zm-2 0zm0-1zm-3-4zm-1 3zm-1 0zm-1 2zm-1-2zm-2 1zm-1-1zm0-3zm-2 3zm-2-3zm-1 3zm0-2zm-2 3zm-2 1zm-4 6zm2-3zm0 3zm1-6zm0 2zm1 2zm2-3zm0 3zm1 2zm1-4zm3 2zm1-1zm1-3zm0 1zm0 6zm3-5zm0 3zm2 0zm1-1zm0 2zm2-3zm0 2zm2 2zm1-2zm7 0zm0 2zm8 4zm-1 2zm-1-2zm-2 1zm-3-4zm-1 3zm0-2zm-1-1zm-1 2zm0-1zm0-1zm-1 0zm-2 4zm-1-2zm-1 3zm0-2zm-2 2zm-4-2zm-1 3zm0-3zm-3 1zm-2 0zm-1-5zm-2 6zm-1-1zm-1 1zm-1-3zm0-3zm-2 3zm-1-2zm-2 0zm6 8zm4 5zm1-2zm0 1zm1-6zm0 6zm2 0zm1-4zm0 3zm0 1zm1-6zm1 5zm1-4zm0 3zm1-1zm0 2zm1 0zm0 2zm7-5zm1 1zm2-3zm1 3zm0 2zm4-1zm1-3zm0 1zm1 1zm3 0zm1 1zm0 1zm1 1zm1-3zm2 1zm7 8zm-1 1zm-1-3zm-1 3zm0-4zm-1 3zm-1-3zm-2-1zm-2 6zm0-3zm-1 1zm-2-3zm-1 2zm0-4zm-1 6zm0-5zm-1 2zm0-1zm-3 4zm0-6zm-2 6zm-1-2zm-1 3zm-2-5zm-1 1zm-1 1zm-1 3zm-1-2zm0-2zm-1 3zm0-1zm0-4zm-2-1zm-2 1zm-1 5zm0-3zm0-1zm-1 5zm0-3zm-2 0zm6 5zm1 0zm0 1zm1 0zm0 1zm1 1zm1-1zm1-2zm0 1zm5-1zm0 1zm0 1zm1 1zm0 1zm2 0zm2-5zm0 3zm1-2zm1 1zm0 1zm8-2zm0 3zm2-1zm1-1zm0 1zm0 3zm1-6zm0 1zm0 5zm-1 1zm-1-1zm-3 5zm0-2zm-2 2zm-3 1zm0-2zm-2 1zm-2-1zm-2 1zm0-2zm-2-1zm-1-1zm-1 3zm0-3zm8 8zm4 0z"/>
<path stroke="#4daf4a" stroke-width="3.9" stroke-linecap="round" d="M147 1640zm0 2zm2 0zm4-3zm4 0zm4-1zm2 4zm1-1zm3 2zm5-1zm1 1zm0 1zm0 1zm3-2zm1 0zm2 0zm1 1zm1-2zm1-1zm7 2zm0 1zm0 1zm3-3zm2-1zm3 3zm1-4zm3 1zm0 3zm2-3zm0 2zm2-3zm2-2zm0 1zm1 0zm1 1zm0 1zm0 6zm-1 4zm-1 0zm0-5zm-3 2zm-2 0zm-1-1zm-2-1zm-1 4zm-1-3zm-1 1zm-1 2zm-1-2zm-3 3zm-1-5zm-4 5zm-4-2zm-1-2zm-2 3zm0-5zm-2 5zm-3-3zm-1 0zm-2-1zm-4 1zm-3 1zm-2-1zm-2 4zm-2-2zm-1 2zm-1 0zm0-5zm-1 4zm-1-4zm-3 1zm-3 0zm-1 2zm0-2zm-1 4zm0-3zm-1 3zm0-3zm-1 3zm0 2zm2 5zm2-2zm0 1zm1 0zm1-1zm1-1zm0 1zm1-4zm0 1zm0 1zm1 0zm0 1zm1-3zm0 2zm1 4zm1-5zm0 1zm1 0zm2 4zm0 1zm1-2zm1-4zm2 0zm2 2zm2 0zm0 2zm2-2zm0 1zm1 0zm0 2zm0 1zm2-5zm2 4zm1-4zm2-1zm1 5zm1 0zm1-1zm1-1zm0 2zm1 0zm2-1zm1-1zm0 3zm1-4zm1-2zm0 1zm1 4zm0 1zm1-4zm1 1zm1-2zm3 3zm0 1zm2-6zm0 4zm3-3zm1 1zm0 3zm3-5zm3 2zm0 2zm0 1zm4 3zm-3 2zm-3 0zm-6-1zm-3 3zm-1-3zm0-1zm-1 3zm0-1zm0-2zm-6 2zm0-2zm-3 1zm-2 3zm0-3zm-1-2zm-1 2zm-1-2zm-1 3zm0-3zm-2 3zm0-3zm-2 5zm-3-5zm-4 3zm-2-1zm-1 4zm-1 0zm-1-4zm-1 4zm0-4zm-2-1zm-3 6zm0-5zm-1 4zm-1-1zm-1-2zm-1 1zm0-1zm-1-1zm-1 1zm-1 3zm-2 1zm0-1zm-1-3zm-1-2zm-2 3zm0-1zm-1-3zm7 11zm1 2zm1-1zm2-1zm2 1zm1-5zm0 4zm1-1zm2 0zm0 1zm0 1zm0 2zm2-6zm1 0zm2 2zm0 4zm13-7zm2 3zm5-2zm1 3zm3-2zm2 2zm0 1zm0 2zm1-5zm3 3zm1-4zm0 4zm1-2zm0 1zm2 2zm1 8zm-5-2zm-1-1zm0-2zm0-1zm-1 3zm-1-4zm-2 5zm-1 0zm-1 1zm-1-3zm-3-2zm-1 4zm0-3zm0-1zm-1 1zm-1 2zm-1-3zm0-1zm-1 6zm-9-6zm-1 5zm-1 0zm0-4zm-1 3zm-2 1zm-1-3zm-1 4zm-1-5zm-4 3zm0-2zm-5 3zm0-4zm-1 3zm4 3zm2 3zm1 0zm5-3zm0 2zm0 2zm1 0zm0 1zm1 0zm3-2zm0 3zm1-5zm3 1zm1 1zm1 0zm1-1zm6-1zm3-1zm1 5zm0 1zm1-2zm0 2zm6-2zm2-2zm1-1zm0 6zm3-1zm2-2zm0 2zm1-1zm1 2zm1 0zm0 3zm-1 0zm-1-2zm-1 3zm-1 2zm0-6zm-5 4zm0-1zm-5-1zm0-1zm-3 2zm0-2zm-2 5zm0-2zm-20-2zm-1-2zm-2 4zm25 7zm1-2zm2-1zm4-1zm0 3zm0 2zm1-2zm1 2zm1-5zm1 0zm0 1zm1 4zm1-3zm5-1zm0 3zm5 10zm-1-5zm0-1zm-1 4zm-1 1zm-1-4zm-1 2zm-1 2zm-7-3zm-7-2zm0-1zm1 8zm1 5zm3-6zm1 5zm8-4z"/>
<ellipse cx="220.1" cy="1606.6" rx="21.7" ry="28.9" fill="#3e8e93"/>
<path stroke="#3e8e93" stroke-width="3.9" stroke-linecap="round" d="M218 1568zm2-1zm18 8zm-2-2zm-1 0zm-1 2zm-6-1zm0-3zm-1-1zm-1 3zm0-4zm-2 4zm0-4zm-2 3zm0-3zm-1 6zm-1-3zm0-3zm-1 2zm-1 2zm0-5zm-1 3zm-4-1zm-3 4zm-2-3zm-2 4zm-1-3zm-1 1zm-4 5zm3 3zm2-3zm0 1zm0 3zm1-4zm1 1zm1 1zm0 1zm1-1zm3-3zm1 2zm3 2zm1-5zm1 3zm3 1zm1-3zm1 5zm6-3zm2-3zm0 5zm1-4zm0 4zm2-1zm1-3zm0 4zm6-1zm2 1zm2 6zm-2-4zm-1 3zm0-1zm-1 2zm-2-3zm-1-1zm-3 1zm0-1zm-1 5zm0-1zm-1-2zm-2 4zm0-5zm0-1zm-1 5zm-5 0zm0-5zm-1 1zm0-2zm-1 2zm-1 4zm0-5zm-1 6zm-2-6zm-2 6zm0-7zm-2 5zm-1 1zm-1 1zm0-1zm-2-1zm0-3zm-2 5zm-1-3zm-1 0zm-2 3zm0-6zm-1 1zm-1 2zm-1-2zm0-1zm-3 1zm0-2zm-2 2zm-1-2zm-3 7zm1 0zm1 1zm1 0zm0 1zm0 3zm1-2zm0 2zm0 1zm3-4zm0 3zm1-5zm3 2zm1 1zm3-2zm2 0zm3 3zm1-1zm0 3zm3-2zm2-3zm0 3zm0 3zm2-2zm2-4zm2 3zm2 0zm0 3zm2-7zm0 1zm1 2zm1 4zm1-4zm0 1zm4 1zm1-4zm1-1zm1 0zm0 6zm1-5zm0 1zm2 0zm2 1zm0 1zm0 1zm4 3zm-2 3zm-7 0zm0-3zm-1 5zm0-2zm-1 2zm-1-5zm-1 0zm-1 1zm-1 1zm-1-3zm-1 6zm0-3zm-2 1zm-2 2zm-2-5zm-1 3zm-6 2zm-1-4zm-5 0zm-1-2zm-1 6zm0-4zm-1 3zm-3-5zm-1 5zm-1 2zm0-5zm-2-1zm-1 5zm0-2zm-1-3zm-1 5zm0-3zm-3-1zm0-2zm-1 5zm0-2zm-4 3zm0-4zm0 11zm1-2zm3 3zm1-4zm1-2zm0 1zm1-1zm0 3zm1-2zm1-1zm0 2zm0 4zm1-1zm0 1zm2-5zm2 0zm1-1zm0 1zm0 1zm0 4zm4-7zm2 6zm1-6zm0 2zm2 3zm1-3zm0 5zm3-6zm1 4zm1-2zm1 2zm1-3zm0 2zm2-2zm2 2zm1 1zm1-5zm1 1zm1 1zm1-2zm0 5zm3-5zm1 4zm2 0zm1-4zm4 4zm2-3zm1 5zm2 0zm1-5zm0 3zm1-3zm-1 12zm0-5zm-1 5zm-1 0zm0-2zm0-3zm-1 1zm-2 2zm-1 0zm-1 2zm0-4zm-1 1zm0-2zm-1 4zm-3-1zm-1 0zm-1 1zm0-5zm-1 6zm0-4zm-1 2zm0-2zm-1 3zm0-3zm-1 5zm0-6zm-2 4zm0-5zm-2 3zm-3 3zm0-4zm-1 2zm-1-3zm-1 4zm0-4zm-2 4zm-3-1zm-2-2zm-2 5zm-1-5zm-2 4zm0-3zm-1 2zm0-2zm-2 2zm-1-4zm-3 5zm0-1zm0-1zm-1 2zm-1 0zm-1-2zm-1 1zm-1 1zm0-3zm0-3zm-3 5zm-1-4zm-2 1zm0-1zm-1 0zm4 10zm0 1zm1-3zm1-1zm0 4zm1-3zm3 3zm1-3zm1-1zm0 2zm1-3zm0 5zm0 1zm2-4zm0 3zm3-4zm0 4zm0 1zm2-1zm1-1zm2-3zm2 3zm1-2zm1 1zm2 4zm1-4zm2 1zm0 2zm2-6zm0 1zm0 3zm2-2zm2 0zm1-1zm2 2zm1-3zm3 3zm0 2zm1-1zm0 3zm1-5zm0 1zm0 1zm1 3zm1-3zm1-4zm0 3zm0 1zm1-2zm1 2zm0 1zm1 0zm1-5zm2 5zm0 2zm1-2zm1-1zm-4 7zm0-4zm-1 2zm0-2zm-1 2zm-2 1zm-3 0zm-1-3zm-1 0zm-4 6zm0-6zm-2 3zm0-2zm0-1zm-2 1zm-2 2zm-1-1zm-1 3zm-1-1zm0-1zm0-1zm-2 3zm0-3zm-1 3zm-3 1zm0-3zm-1 2zm-1-3zm-1 2zm-2 1zm-1-1zm0-2zm-4-1zm-1 3zm-2-2zm-1-1zm-1 3zm-1 0zm-1 1zm-2-2zm-1 1zm2 6zm4-2zm0 4zm1-2zm0 3zm1-4zm3 0zm0 4zm3 1zm1-5zm0 5zm3-6zm2 2zm3-1zm1 4zm1-5zm0 6zm2-3zm0 1zm1 1zm2-2zm1-1zm0 1zm1-1zm0 3zm1-3zm2 0zm1 3zm2-4zm1 0zm3 2zm1-2zm0 5zm1-6zm0 1zm0 3zm2-5zm-7 9zm-1 0zm-4 3zm-1-1zm0-2zm-1 5zm-1-5zm0-1zm-4 5zm-3-4zm-1 1zm0-1zm0-1zm-2 2zm0-2zm-1 4zm-3 1zm0-2zm-2-2zm-2 4zm-2-2zm-1-2zm7 6zm13-1z"/>
<ellipse cx="177.8" cy="1581.1" rx="23.5" ry="20.1" fill="#715d83"/>
<path stroke="#715d83" stroke-width="3.9" stroke-linecap="round" d="M174 1554zm6-1zm17 8zm-4-2zm0-1zm-1 2zm0-3zm0-1zm-2 5zm-1-2zm-1-3zm-1 4zm-3-2zm-2 0zm0-1zm-1 2zm0-5zm-2 7zm0-4zm-2 0zm-3 3zm0-5zm-1 1zm-3 1zm-2-1zm-9 4zm-6 4zm2-2zm0 3zm3-3zm0 4zm0 1zm4-2zm9 0zm1 1zm1-1zm1-1zm0 1zm2-3zm4-1zm1 3zm1 2zm1 0zm1-4zm0 4zm1-2zm0 2zm1-5zm5 3zm1-2zm0 4zm1-5zm1 0zm0 3zm1 2zm1-2zm2-1zm0 2zm1-3zm0 1zm1 3zm3-1zm0 1zm1 1zm1 0zm2 4zm-2-2zm-2 3zm-1 2zm0-4zm-2 4zm0-4zm-1 3zm0-4zm0-1zm-3 6zm-3 1zm-1-5zm-1 2zm-2 2zm0-2zm-1-4zm-2 4zm0-1zm-1 0zm-1-2zm-1 4zm-1 1zm-1-2zm-1 2zm-2-5zm-1 5zm0-4zm-1 5zm-1-2zm-1 1zm-1-1zm-1 0zm-1 0zm-3 0zm-2-1zm0-2zm-1 5zm0-2zm-3-3zm0-2zm-1 2zm0-1zm-2 2zm-4 1zm-2 1zm0-4zm-2 0zm0-1zm-1 6zm-1 1zm-2-2zm2 8zm1-5zm2 1zm8-2zm0 2zm0 4zm1-5zm0 2zm2 1zm1 0zm0 2zm1-2zm1-3zm4 1zm1 2zm0 1zm2-2zm2-1zm2-1zm0 5zm2-5zm0 5zm1-6zm0 5zm1 1zm1-3zm1-1zm2 0zm1 4zm3-2zm1-3zm1 5zm7-5zm1 0zm0 2zm0 2zm4 1zm2-3zm0 4zm1-5zm1 1zm3-1zm-1 12zm-2-7zm-2 4zm0-3zm-3 3zm0-3zm-1 4zm0-1zm-1-3zm-3 1zm-1 0zm-1 4zm0-3zm0-1zm0-1zm-1 3zm-1 1zm0-2zm-2 3zm-1-1zm-1 2zm0-6zm-2 5zm-1-4zm-1 2zm-3 2zm0-2zm-1-2zm-2 2zm-1 1zm-1-1zm-1 3zm-3-2zm0-2zm-1-1zm-1 2zm-2 0zm-1-2zm-2 3zm-1 1zm0-4zm0-2zm-3 5zm-2-1zm-3-3zm-8 4zm-1-1zm-2 3zm0-4zm-6 2zm-7 8zm4-3zm4 3zm2 1zm4-5zm4 0zm2 0zm3-1zm2 0zm0 1zm2 0zm0 1zm3-1zm1-1zm0 6zm1-3zm0 1zm1-4zm0 1zm0 2zm1-1zm1 4zm1-6zm8 0zm0 2zm2 1zm0 3zm1-2zm1-4zm3 2zm0 4zm2-2zm1-5zm0 4zm2-4zm5 6zm1-4zm0 1zm0 1zm2-3zm1 3zm1 1zm0 1zm2-4zm3 0zm2 0zm1 0zm-7 6zm-1 3zm-1 1zm-1 1zm-3-3zm-1-2zm0-1zm-1 6zm0-2zm-1-2zm-2 4zm0-5zm-1 1zm-2-1zm-2-1zm-1 6zm-1 0zm0-5zm-2 0zm-5 5zm0-2zm0-1zm-1 2zm-1 0zm0-2zm-2-2zm-1 5zm0-1zm0-1zm0-3zm-3 5zm0-6zm-2 4zm-2-3zm-1-1zm-2 1zm-1 0zm-1 4zm0-1zm-2 2zm0-2zm-1-1zm-1-3zm-1 7zm-1-2zm0-1zm-3-2zm-1-1zm-3 2zm-2 3zm-1 0zm-2-3zm-6 0zm0-1zm-2 4zm-1 1zm6 0zm1 2zm2 5zm1 0zm1-2zm3 0zm3-3zm3-2zm1 4zm11-3zm1 1zm1-1zm4 1zm4-2zm1 2zm0 1zm3-1zm2 0zm1 1zm3-1zm0 4zm3-5zm0 2zm4 0zm6-2zm-43 11zm-1-2zm-3-3zm-1 4zm-3 2zm0-2zm0-3zm-5 2zm-4 2zm0 3zm6 2zm2-2zm1 0zm0 1z"/>
<path stroke="#dc728d" stroke-width="3.9" stroke-linecap="round" d="M161 1606zm1 1zm1-2zm2 1zm1 3zm5-2zm1 0zm9 0zm1 2zm7 7zm-3-2zm0-3zm-4 2zm-1 0zm-2-1zm-1 3zm-1-5zm-2 3zm0-2zm-1 5zm-1-1zm-3 1zm-1 0zm-1 0zm-4-1zm-3 0zm0-3zm0-2zm-1 1zm-6 6zm-1-5zm-3 4zm-1 0zm0 7zm1-1zm1-3zm1 0zm1 0zm0 2zm0 1zm1-4zm0 1zm0 4zm3 0zm1-5zm3 0zm2 5zm2-5zm2 5zm1-3zm1-1zm1 4zm2-6zm1 1zm1-1zm0 5zm1-3zm0 1zm1 1zm1 0zm2-1zm0 1zm1-2zm1-1zm3 0zm0 4zm2-4zm0 2zm1-1zm0 4zm1-2zm1-3zm1 6zm-2 5zm-2-2zm0-2zm-1-1zm-1 2zm-4 3zm-5-3zm-1 5zm0-1zm-1 0zm-1-3zm-8 4zm-1-2zm0-5zm-2 4zm-6 2zm-3 0zm0-1zm0-5zm-1 5zm-1-2zm-1-2zm11 6zm0 1zm5 3zm1-1zm4-2zm0 4zm1 0zm1-2zm5 1zm3-1zm1-1zm0 2zm1-3zm1 1z"/>
<path stroke="#e1c72f" stroke-width="3.9" stroke-linecap="round" d="M177 1602zm3 1zm4 6zm-1-4zm-3 3zm-2-4zm-1 1zm-2 3zm-2-3zm0-1zm-1 1zm-2 0zm-5 3zm0-2zm-3 3zm5 4zm2 4zm6-2zm3-5zm2 3zm1-3zm2 1zm4 0zm0 2zm-1 4zm-3 1zm-3-1zm-3 1zm-5 1zm-6-2zm-2 0zm-6 6zm0-2zm-3 0zm-5 2zm-2-4zm0-1zm-1 5zm0-3zm-3-1zm-2 4zm0-2zm-1 1zm-2 4zm0 2zm1-3zm0 4zm1 0zm2-3zm0 1zm2 3zm1-1zm1-5zm2 4zm1 1zm0 1zm1-3zm1 3zm1-2zm2 0zm1 0zm5-1zm-3 10zm0-5zm-3 0zm-1 5zm-1-5zm-1 2zm-1-2zm-1 5zm-3 0zm0-5zm-2 4zm-5-3zm-1 0zm14 6zm1 0zm1 1z"/>
<ellipse cx="104.2" cy="1609.1" rx="25.2" ry="26.6" fill="#e41a1c"/>
<path stroke="#e41a1c" stroke-width="3.9" stroke-linecap="round" d="M97 1573zm6 0zm1 1zm4-1zm1 0zm19 1zm5-1zm10 9zm-1-4zm-2 1zm-1 3zm-3-5zm-1 2zm-4-1zm-1 1zm0-1zm-2-1zm0-2zm-1 6zm0-3zm0-1zm-1 2zm-1-1zm-3 4zm0-2zm-7 0zm-1 0zm-2-1zm-4 0zm-1 1zm-1-3zm-4 1zm0-1zm-5 2zm-1 0zm-2 1zm-1-2zm0-1zm-1 1zm-1 2zm-2 1zm-2-2zm-2 3zm-8 4zm0 2zm0 1zm1 0zm1 0zm1-2zm1-1zm1 2zm3-5zm4 0zm0 5zm1-5zm0 1zm0 2zm1-1zm2 2zm0 2zm2-5zm0 1zm1 4zm2-6zm1 3zm2-2zm1-1zm0 2zm2 3zm5-2zm1-4zm0 5zm3-4zm4 1zm0 5zm1-4zm2 1zm0 2zm1-5zm0 2zm0 4zm1-3zm1-2zm0 2zm2 0zm1-2zm1 1zm2 1zm0 2zm2-4zm1 0zm2-2zm0 2zm2 0zm2 1zm1 2zm1 1zm1-5zm1 6zm1-1zm4 4zm-4 2zm0-2zm-2 0zm-4-1zm0-1zm-1 6zm-2-4zm0-3zm-1 2zm0-1zm0-1zm-1 6zm0-1zm0-4zm-2 1zm-3 0zm0-2zm-1 6zm0-2zm-3-2zm0-1zm-1 5zm0-2zm0-2zm-1-2zm-1 2zm-1 1zm0-3zm-1 7zm-1-4zm0-1zm-1 3zm-1-2zm-3-2zm-2 0zm-2 2zm-1 1zm0-1zm-1-3zm-2 4zm-1 3zm0-3zm-1-3zm-1 2zm0-1zm-5 3zm0-1zm0-2zm-8-1zm-1 4zm-2-2zm-3 1zm-1 2zm0-5zm-1 3zm-1 2zm0-5zm-1-1zm-1 7zm-6 4zm2 2zm2-3zm2-1zm1 3zm0 1zm1-6zm2 1zm1 3zm4-4zm0 2zm3 1zm1 3zm1 0zm0 1zm1-7zm3 6zm4 1zm2-5zm0 3zm1-1zm1-1zm0 1zm1-3zm0 4zm5-4zm0 2zm1-3zm0 2zm2 2zm1 2zm1-4zm1 0zm0 2zm3 0zm1-3zm0 3zm2-3zm0 2zm0 3zm2 0zm1-6zm1 1zm2 5zm1-3zm0 2zm1-2zm0 2zm0 1zm1-6zm0 1zm0 3zm1 1zm1-3zm1 0zm0 2zm1-1zm0 2zm0 1zm1-3zm1 1zm0 1zm1 1zm1-2zm1-1zm1 2zm3 1zm-3 3zm-3 3zm0-3zm0-2zm-4 5zm-1-1zm-1 0zm-1 2zm0-3zm-2 1zm-1-4zm-2 6zm-1 0zm-1-3zm-2 2zm-1 0zm-4-5zm-1 6zm0-2zm0-1zm-2 0zm-1 1zm-1 0zm-3-1zm-2 1zm-2 1zm0-4zm-1 2zm-1 2zm-1-1zm-1 3zm-1-6zm-2 0zm-1 1zm0-1zm0-1zm-2 5zm-1 0zm0-2zm-1-1zm-1 1zm-1 2zm-1-4zm0-1zm-3 6zm-1-4zm-1-2zm-4 7zm-2 0zm-3 0zm-1-1zm0-2zm-1 1zm0-1zm-2 1zm-1-4zm0 11zm3-2zm1 1zm1-1zm1 1zm2-2zm3 4zm2-6zm0 4zm0 1zm1-1zm2-1zm0 2zm1-3zm1 1zm2-2zm1 1zm0 1zm1-3zm0 6zm1-3zm2 0zm4 1zm2-1zm0 2zm1 1zm1-6zm0 5zm1-4zm1 2zm2 2zm2-4zm1 2zm1 0zm1-2zm0 2zm0 2zm1-1zm4 3zm2-1zm6-5zm1 4zm2-5zm0 4zm0 2zm1-1zm3-3zm1 3zm1 2zm1-6zm2 3zm0 5zm0-2zm-3 0zm-1 7zm0-2zm0-5zm-8 6zm0-6zm-1 2zm0-2zm-2 3zm-1 1zm0-3zm-5 1zm-2 1zm-2 0zm-2 1zm0-1zm-2-2zm-1 5zm0-2zm-1 2zm0-2zm-1-2zm-2 4zm-1-2zm-3 1zm-2 1zm0-2zm-1-3zm-1 2zm-2-3zm-1 5zm-1-4zm-1 3zm-2 2zm0-4zm0-1zm-1 4zm-4-4zm-1 2zm-3 1zm0-1zm-2 2zm-1-4zm0-1zm-1 2zm-1 5zm-1-7zm-2 2zm2 6zm2-1zm1 2zm0 4zm1-2zm3 3zm1-2zm1-2zm2-3zm1 6zm3-4zm1 0zm1 0zm1 1zm1 0zm3 2zm0 2zm1-5zm1 1zm2-3zm6 6zm1-6zm1 2zm2 3zm1-3zm2 1zm0 1zm1 3zm1-3zm2 3zm1-7zm0 5zm0 1zm1-4zm1-2zm0 4zm5-3zm0 1zm0 4zm0 1zm1-5zm2 3zm1-2zm0 1zm0 2zm0 1zm2-2zm1-2zm0 3zm4-4zm-8 10zm0-4zm-1 5zm0-3zm-1-2zm-1 1zm0-1zm-2 4zm-2 2zm0-3zm-3 2zm0-4zm-1-1zm-1 6zm0-1zm-1 0zm0-3zm-1-1zm-1 4zm-6-5zm-2 4zm-3-2zm0-3zm-1 3zm-1-1zm-1 5zm-4-3zm-1-2zm-1 3zm0-2zm-1 2zm-1-1zm-1 1zm0-2zm-1 2zm-2 0zm-3 1zm0-4zm-1 2zm-1-4zm3 8zm10 5zm1-5zm2 0zm1 0zm1 4zm1-2zm0 1zm1 2zm3-3zm3-2zm2-1zm0 4zm1-3zm0 6zm4-5zm2 1zm2 2zm4-3zm2-1zm-17 6zm-5 1z"/>
<ellipse cx="101.8" cy="1611.5" rx="38.6" ry="41.3" fill="none" stroke="#222" stroke-width="1.1" stroke-dasharray="5 4"/>
<ellipse cx="179" cy="1579.9" rx="36.2" ry="34" fill="none" stroke="#222" stroke-width="1.1" stroke-dasharray="5 4"/>
<ellipse cx="222.5" cy="1609.1" rx="33.8" ry="46.2" fill="none" stroke="#222" stroke-width="1.1" stroke-dasharray="5 4"/>
<ellipse cx="273.1" cy="1581.1" rx="24.1" ry="24.3" fill="none" stroke="#222" stroke-width="1.1" stroke-dasharray="5 4"/>
<ellipse cx="84.9" cy="1689.3" rx="14.5" ry="18.2" fill="none" stroke="#222" stroke-width="1.1" stroke-dasharray="5 4"/>
<ellipse cx="198.3" cy="1767.1" rx="13.3" ry="13.4" fill="none" stroke="#222" stroke-width="1.1" stroke-dasharray="5 4"/>
<ellipse cx="222.5" cy="1735.5" rx="30.2" ry="24.3" fill="none" stroke="#222" stroke-width="1.1" stroke-dasharray="5 4"/>
<ellipse cx="232.1" cy="1686.9" rx="24.1" ry="34" fill="none" stroke="#222" stroke-width="1.1" stroke-dasharray="5 4"/>
<path d="M109.1 1650.4 L133.2 1643.1 L169.4 1686.9 L205.6 1716 L200.8 1742.8 L169.4 1742.8 L133.2 1723.3 L109.1 1686.9Z" fill="none" stroke="#222" stroke-width="1.1" stroke-dasharray="5 4"/>
<text x="100.6" y="1619.3" font-size="29" text-anchor="middle" font-weight="bold">0</text>
<text x="179.3" y="1596.5" font-size="29" text-anchor="middle" font-weight="bold">1</text>
<text x="217.6" y="1623" font-size="29" text-anchor="middle" font-weight="bold">2</text>
<text x="277.5" y="1587.5" font-size="29" text-anchor="middle" font-weight="bold">9</text>
<text x="148.2" y="1645.1" font-size="29" text-anchor="middle" font-weight="bold">8</text>
<text x="170.1" y="1648" font-size="29" text-anchor="middle" font-weight="bold">10</text>
<text x="183.6" y="1672.3" font-size="29" text-anchor="middle" font-weight="bold">3</text>
<text x="142.1" y="1692.7" font-size="29" text-anchor="middle" font-weight="bold">7</text>
<text x="226.8" y="1688.1" font-size="29" text-anchor="middle" font-weight="bold">5</text>
<text x="87.6" y="1699.5" font-size="29" text-anchor="middle" font-weight="bold">12</text>
<text x="169.4" y="1726.8" font-size="29" text-anchor="middle" font-weight="bold">6</text>
<text x="214" y="1745.5" font-size="29" text-anchor="middle" font-weight="bold">4</text>
<text x="198.1" y="1779" font-size="29" text-anchor="middle" font-weight="bold">11</text>
<rect x="317" y="1541" width="241.7" height="243.1" fill="#fff" stroke="#555" stroke-width="1.5"/>
<path d="M317 1541H558.7" stroke="#666" stroke-width="3"/>
<text x="451" y="1531.7" font-size="32.4" text-anchor="middle">A/PE4</text>
<path stroke="#999999" stroke-width="3.9" stroke-linecap="round" d="M341 1686zm3 0zm1 1zm3 3zm-1 2zm-1-1zm0-2zm-1 3zm0-1zm0-1zm0-1zm-2 3zm0-3zm-2 2zm-1 3zm0-7z"/>
<path stroke="#d889b2" stroke-width="3.9" stroke-linecap="round" d="M450 1762zm3 1zm7 5zm-1 3zm0-3zm0-1zm-2 3zm0-3zm-1 2zm0-5zm-2 3zm-1 4zm-2-7zm-2 4zm0-1zm0-2zm0 8zm7 2zm1-1z"/>
<path d="M507.9 1581.1L549 1582.3" stroke="#a65628" stroke-width="3.8" stroke-linecap="round"/>
<path stroke="#a65628" stroke-width="3.9" stroke-linecap="round" d="M509 1578zm1 3zm4-4zm0 3zm3-1zm1-1zm2-1zm4 4zm4-2zm2 2zm2-2zm4 1zm1-2zm5 2zm5-3zm1 2zm1 4zm-2 1zm-1-2zm-1 4zm-1 1zm-1-1zm-4-2zm-1 3zm0-1zm0-1zm-1 2zm-1 0zm0-2zm-5-2zm-5 4zm0-1zm0-3zm-2 2zm-1 2zm0-2zm-4 1zm-1-4zm-2 4zm-3 0zm-2-2zm0-1z"/>
<ellipse cx="488.6" cy="1686.9" rx="8.1" ry="12.3" fill="#ba5e6d"/>
<path stroke="#ba5e6d" stroke-width="3.9" stroke-linecap="round" d="M471 1657zm5 0zm1-1zm0 2zm1-2zm4-2zm0 1zm2 3zm1 0zm14 8zm-13-1zm-1-3zm-1 3zm0-2zm-1 2zm-1 0zm0-1zm0-3zm0-1zm-2 2zm-6-2zm0-1zm-5 6zm2 1zm2 2zm4 1zm0 3zm2-4zm0 2zm4-3zm3 0zm5 1zm2-2zm1 3zm3 0zm9 8zm-4-3zm-1 3zm0-4zm-1 2zm-1 3zm0-1zm-1-2zm-4 4zm-4 0zm-1 0zm-2 1zm-2-3zm-1-1zm-5-3zm-2 2zm-1 4zm-1-5zm-4 10zm0 1zm1 0zm1-4zm3 2zm1 3zm1 0zm4-1zm5-3zm0 2zm1-4zm1 7zm2 0zm7-6zm0 2zm5 0zm4-3zm-6 7zm-2 1zm-1 5zm-4 0zm-1-1zm-1 1zm-2-5zm-1 5zm-3 0zm0-1zm-4-1zm0-3zm-1 3zm-4 0zm-5-3zm1 8zm8 4zm2-1zm1 2zm1-4zm1 2zm2 1zm8-2zm0 1zm1 1zm1-3zm6 3zm2-2zm-3 6zm-4 2zm-1 1zm-5-6zm-1 6zm-1 1zm0-6zm-3-1zm-2 6zm-1-3zm-2 1zm-8 1zm-2-5zm7 8zm4-1zm2 3zm2-1zm3 0zm2 2zm1-4zm0 2zm1 2zm1-4zm1 4zm-12 3z"/>
<ellipse cx="476.5" cy="1735.5" rx="9.6" ry="7.7" fill="#7f6e85"/>
<path stroke="#7f6e85" stroke-width="3.9" stroke-linecap="round" d="M470 1719zm3 0zm1 3zm1-1zm1-3zm0 1zm0 2zm1-1zm1 0zm1-1zm6 1zm8 4zm-1 5zm0-6zm-1 5zm0-4zm-1-1zm-4 1zm-2 4zm-2-4zm-3 2zm-2 0zm-2 1zm-4 1zm-2-1zm0-3zm-3 1zm-2 2zm-1-1zm0-1zm-2-2zm-3 3zm-3 5zm2-1zm1 3zm1 0zm1-3zm0 6zm1-2zm0 1zm5-6zm1 7zm2-4zm1-1zm0 3zm0 1zm1-5zm1 1zm3-2zm4 7zm2-2zm2 1zm0 1zm1-6zm1 0zm2 1zm1 2zm1-2zm0 2zm1-2zm2-1zm0 3zm0 2zm1 1zm1-6zm2 5zm1-6zm1 2zm1 6zm0-1zm-1 0zm-1 4zm0-3zm-1 6zm-2-2zm-1 1zm0-1zm0-1zm0-1zm-4 1zm0-2zm-1 4zm-1 0zm0-2zm0-4zm-3 5zm0-3zm0-2zm-2 7zm-1-3zm-4-3zm-1 6zm0-1zm0-2zm-6 1zm-4 2zm0-7zm-2 6zm-1-4zm-1 1zm-2 3zm0-1zm-2 1zm0-4zm0 6zm4 0zm0 5zm1-6zm3 0zm0 3zm3 2zm1-2zm0 4zm1-6zm1 5zm3-4zm0 1zm0 3zm2-1zm2-2zm2 3zm3-5zm1 2zm1-2zm1 5zm2-1zm1-4zm0 3zm3-1zm1 0zm-8 6zm-3-2zm-2 1zm-5 0zm-3 2zm-1-2zm-3 1z"/>
<path d="M391.9 1703.9L452.4 1725.8" stroke="#ff7f00" stroke-width="8.7" stroke-linecap="round"/>
<path stroke="#ff7f00" stroke-width="3.9" stroke-linecap="round" d="M395 1699zm0 1zm1-3zm0 3zm1-4zm1 4zm4-1zm0 1zm3-3zm8 2zm2 2zm2 0zm12 7zm0-1zm-1 0zm-5 0zm-1 0zm-1-1zm-2 1zm0-2zm-3 1zm0-2zm-6 4zm0-5zm-1 3zm-2 1zm-6-1zm-2-1zm-4 0zm-2 2zm-4 7zm6 1zm4-2zm4 1zm6-5zm4 2zm2-3zm1 7zm3-5zm0 1zm4-1zm0 1zm2 0zm3 2zm4-2zm2 1zm1 2zm4 0zm1-5zm0 4zm1 2zm6 0zm4 0zm2 6zm0-6zm-1 1zm-2 4zm0-1zm-2 1zm0-2zm-6-1zm-2 1zm-5 4zm-1-1zm-1-4zm-3 4zm-1-4zm-1-1zm-2 2zm-5 0zm0-1zm-8 2zm-7 0zm-3-3zm-4 1zm-1 0zm19 8zm2 1zm1-3zm2 0zm0 4zm7 0zm2-5zm2 2zm2 1zm2-3zm0 5zm2-3zm2 2zm1 1zm0 1zm4-1zm6-5zm-2 7zm-4 6zm-3-2zm-1-2zm-7-1zm-7 0z"/>
<path d="M370.2 1657.7L416.1 1696.6" stroke="#ffd422" stroke-width="9.5" stroke-linecap="round"/>
<path stroke="#ffd422" stroke-width="3.9" stroke-linecap="round" d="M376 1651zm1-1zm15 9zm-5-2zm-4 0zm0-2zm-1 3zm0-2zm0-3zm-3 1zm-1 3zm-3 0zm-3 2zm-1 2zm2 2zm1 1zm1-5zm0 5zm1-1zm4-2zm0 3zm2 1zm2-5zm3 0zm1 5zm1 0zm3-4zm8 4zm1 3zm0-1zm-1 1zm-3 4zm0-5zm-2 5zm-2-1zm-1 1zm-2-1zm0-2zm0-1zm-1-1zm0-1zm-1 5zm-2-2zm0-1zm-3 5zm-1-1zm-6-2zm-2 1zm0-2zm-1 3zm-2-4zm-1-1zm0 7zm5 3zm1 2zm1-2zm3 1zm0 1zm4-3zm0 3zm2-5zm0 6zm1-7zm4 4zm3 2zm4-5zm1 2zm0 2zm2-1zm4-1zm6 1zm0 1zm0 1zm1-1zm2 0zm1 8zm0-5zm-4 2zm-3-1zm-3 3zm-1-1zm0-2zm-1-1zm-1 3zm-1 3zm-5-6zm-1 1zm-3 2zm-4 1zm-1 1zm-1-2zm4 7zm6-3zm0 1zm0 2zm6-4zm6 1zm5 4zm2 1zm2-6zm0 7zm2-3zm3-3zm-10 6zm-1 1zm-2 4zm-1 0zm-1-2zm0-1zm-3 3zm0-2zm-1 2zm-5-1zm-4-4zm7 7zm3 1zm0 1zm1 1z"/>
<path stroke="#4daf4a" stroke-width="3.9" stroke-linecap="round" d="M401 1645zm3-6zm4 5zm14 1zm1-5zm1 4zm1-5zm0 2zm2-1zm0 5zm3-6zm3 5zm2 0zm1-2zm1-1zm2 3zm1 0zm4-3zm2-3zm2 4zm4 2zm6-1zm0 1zm6-3zm2 1zm1 2zm-1 7zm-1-1zm-1 1zm0-4zm-1-1zm-2 0zm-8 1zm-1 0zm-3 3zm-2-1zm-1 0zm-6-1zm-1 2zm-5 2zm-2-3zm0-3zm-4 0zm-3 3zm-5-2zm-4-2zm-4 1zm-2 0zm-2 2zm0-2zm-1 1zm-2 5zm0-5zm-1 1zm-3 10zm2-5zm0 6zm6-6zm0 5zm1-6zm0 1zm1-1zm0 6zm1-6zm1 2zm0 4zm3 0zm2 0zm2-6zm0 3zm0 3zm1-1zm1-1zm7-2zm8 4zm1-3zm1 4zm2-3zm1 2zm3-6zm1 1zm2 1zm0 4zm1-2zm3-4zm1 5zm9 2zm3-3zm-3 3zm-5 4zm-5 1zm-2-2zm-8 3zm-1-3zm-1-3zm-2 2zm-7 3zm-6-4zm-2 2zm-3 3zm0-5zm-1 2zm-5 4zm-1-7zm-6 1zm-3 0zm-2 5zm-2-1zm-1-1zm2 3zm1 2zm0 1zm1 1zm1 1zm1-5zm1 2zm6 1zm2-2zm0 1zm5 0zm0 2zm0 1zm3-3zm9 0zm3-1zm2 4zm1-5zm3 2zm3 0zm2 2zm0 2zm0 1zm3-4zm4 11zm-1-6zm-1 0zm-10-1zm-1 1zm-1 1zm-2 2zm-2-3zm-5 6zm-1-2zm0-3zm-3-1zm-4 1zm-6-2zm-2 1zm-1 4zm-1-2zm0-2zm-2 4zm0-3zm-2-1zm8 7zm5 2zm1 3zm2-1zm1 0zm2-1zm2 1zm1-1zm14-1zm1 1zm3 2zm3-4zm4 1zm3 2zm0 1zm2 0zm2 8zm-1-5zm-4 0zm-2 2zm-1 0zm-5 2zm-1-2zm0-3zm-5 3zm-2 0zm-2-3zm8 6zm0 1zm0 2zm0 1zm2 0zm5-3zm1 0zm0 2zm1 2zm3-3zm1-2zm4 8zm-1 5zm0-3zm-5 0zm0-2zm-1 4zm-1 1zm-4 0zm-3-5zm-2 3zm1 3zm4 1zm14-1z"/>
<ellipse cx="476.5" cy="1606.6" rx="12.7" ry="16.8" fill="#3e8e93"/>
<path stroke="#3e8e93" stroke-width="3.9" stroke-linecap="round" d="M474 1567zm12 8zm-3-4zm-1 0zm0-1zm-8 3zm-1 1zm-2 0zm-3-4zm0-2zm-1 1zm-7 5zm-2 7zm2-1zm1 2zm4-3zm1 2zm4-4zm7 5zm1-4zm2 3zm2-4zm0 2zm2-3zm1 3zm2 0zm5-2zm4 0zm0 3zm0 2zm2 2zm-2-1zm-1 4zm-2-3zm-2-1zm-3 5zm0-4zm-3 2zm-2 1zm-1-2zm-4-2zm-1 3zm-5 3zm0-6zm-1 2zm-8 1zm-3 2zm0-1zm-2-3zm-5 2zm-1 1zm-2 2zm-2 5zm1-1zm1-4zm3 3zm2-2zm2 4zm1-4zm0 1zm2-2zm2 2zm0 1zm0 2zm2-3zm1 4zm1 0zm5-6zm2 2zm0 2zm0 1zm0 1zm1-5zm1 3zm1 1zm2 2zm3-5zm5 3zm1 0zm3 1zm1-4zm8 1zm1 4zm1-1zm2-3zm2 4zm1 1zm-1 1zm-1-1zm-1 4zm-2 1zm0-3zm0-1zm-1 4zm0-1zm-1-4zm-4 6zm-2-2zm-1-2zm-8 4zm-5-4zm-6-1zm-1 0zm-3 3zm-2 1zm0-4zm-4 2zm0-2zm-1 4zm0-4zm-5 0zm-1-2zm-1 5zm-1 0zm-1-2zm-4 2zm-2 7zm6-4zm3 1zm0 3zm2-4zm1 3zm2 2zm1-4zm0 5zm4-3zm0 2zm1-6zm8 3zm1-1zm2 0zm3 1zm3 0zm3-3zm2 3zm1-3zm1 1zm3 0zm0 1zm0 1zm0 1zm2-4zm0 2zm3 5zm3-6zm0 1zm0 5zm3 3zm-1 1zm-7-2zm-1 4zm-5-1zm0-5zm-1 5zm-4-4zm-4 4zm-5 1zm-8-3zm0-1zm-1 2zm-1 0zm-2 2zm-1 1zm0-4zm-1 1zm-1-4zm-2 6zm-3-4zm-2 0zm-5 0zm-2 5zm2 0zm2 3zm5 3zm1-6zm1 6zm3 0zm2-2zm2-2zm1 2zm1-2zm2 5zm1-7zm0 3zm5 4zm2-4zm4 3zm1-2zm0 1zm1-4zm1 3zm5 2zm7-4zm0 2zm2 0zm0 2zm3-3zm1 3zm1-2zm-3 5zm-4-1zm-1 2zm-1-2zm-2 4zm-1 2zm-1-2zm-3-4zm-1 5zm0-2zm-3 0zm-2 0zm-3 1zm-2-2zm-3-3zm-2 5zm0-1zm-1 2zm-1 0zm0-5zm-2 5zm-5-1zm-2-5zm-2 2zm-1 3zm-1-3zm-1 0zm-1 0zm0-1zm-3 1zm-1 0zm3 5zm1 1zm7 2zm1 2zm1-4zm2 6zm1-5zm1 2zm0 2zm4-1zm1 1zm1-1zm1-2zm2-1zm0 3zm1 0zm2 0zm2-3zm0 1zm0 1zm1-3zm0 3zm2-2zm2 0zm1 2zm1 1zm2 0zm2-1zm0 2zm1-2zm1 1zm4-5zm-12 13zm-2 1zm-6-1zm-2-5zm-5 4zm-1-2zm-3-2zm-2 5zm-1-1zm0-4zm-3 0zm9 7zm4 0zm3-1zm4 1z"/>
<ellipse cx="434.2" cy="1581.1" rx="13.7" ry="11.7" fill="#715d83"/>
<path stroke="#715d83" stroke-width="3.9" stroke-linecap="round" d="M418 1558zm2-1zm0 1zm0 2zm2 0zm1-3zm4-1zm1-2zm0 2zm1 0zm1 1zm0 3zm2-1zm0 2zm1-3zm1-2zm0 3zm0 2zm6-4zm0 1zm3 0zm1-2zm1-1zm1 5zm5 0zm5 1zm-1 4zm-1 0zm-5 2zm-2-1zm-1-5zm-1 7zm0-3zm-3 3zm-6 0zm-6-1zm-1-1zm0-5zm-2 2zm-1 4zm-2 0zm-1-4zm-1 1zm-5 0zm-4 1zm-9 7zm2-4zm0 7zm10-4zm0 3zm4-2zm1 1zm1 0zm2 1zm3-5zm0 4zm9 1zm1-1zm1-1zm5-2zm0 4zm2-3zm2-1zm2 1zm1-3zm0 2zm0 1zm2 2zm2-4zm3 4zm0 1zm3-3zm2 0zm0 1zm-2 5zm-4 4zm-2-2zm-3 2zm-1 0zm0-3zm-2 4zm-2-2zm-1 2zm0-4zm-1 2zm-2 1zm-7-3zm-5 3zm0-2zm-1 1zm-1-2zm-3 1zm-1-1zm-1 1zm-2-1zm0-1zm-1-2zm-2 2zm-1 0zm-1 1zm0-2zm-2 3zm-1 2zm-4-1zm-3 2zm-1-6zm0-1zm-1 3zm-1 4zm-8 7zm9-3zm7 0zm2-1zm0 3zm3-4zm1 3zm5-3zm3 4zm1-2zm2-3zm0 3zm1-1zm3-1zm0 3zm1 1zm1-4zm1 3zm6 0zm6-5zm5 1zm3 4zm4 1zm4-3zm3 2zm-8 7zm-5 2zm-2-6zm-3 3zm0-2zm-1 0zm-2-2zm-1 5zm-1 0zm0-4zm-1 5zm0-1zm0-4zm-7 3zm-3 1zm0-5zm-4 5zm0-1zm-2 3zm0-1zm-6 1zm-1-3zm0-2zm-2 0zm-2 3zm0-5zm-1 4zm-7 3zm-2-4zm-1-2zm-4 1zm-2 5zm-5-3zm-5 5zm0 2zm2-1zm10-2zm10 5zm3-5zm4 3zm1 2zm4-5zm0 4zm2-4zm2 2zm3 2zm0 1zm3-1zm1-3zm7-1zm0 6zm5-4zm5 1zm1-1zm5 1zm-9 5zm-3 2zm-3 1zm0-4zm-6 4zm-6-2zm-2-1zm-11-2zm-13 5zm0-1zm-8-3zm-1 4zm-4 1zm0-1zm-2-5zm3 11zm2-2zm3-1zm2 0zm1 1zm3 2zm0 2zm1 2zm-5 5z"/>
<path stroke="#dc728d" stroke-width="3.9" stroke-linecap="round" d="M423 1607zm2-2zm2 0zm7 2zm4 0zm7 10zm-3-2zm-1-2zm-4 1zm-1 2zm-12 0zm0-3zm-1 4zm-9-1zm0-3zm-2 2zm-3-2zm-1 5zm3 3zm1-3zm2 3zm0 3zm4-6zm0 1zm0 2zm4-1zm2-2zm1 3zm3-3zm3 5zm7-6zm0 3zm1-3zm0 4zm1-3zm0 1zm6-1zm0 4zm-1 6zm-5 2zm-1-2zm-2-3zm-2 4zm0-2zm-2 3zm0-2zm-6-2zm-2-1zm-1 0zm-3 5zm0-4zm-1 2zm-2-3zm-2 1zm-1 0zm-2 5zm0-2zm-1-1zm3 7zm7-4zm0 3zm5 1zm1-1zm7 2zm1-4zm1 0z"/>
<path stroke="#e1c72f" stroke-width="3.9" stroke-linecap="round" d="M427 1602zm5 0zm9 5zm-1-1zm-2 3zm-3-3zm-1 3zm0-4zm-5 4zm0-5zm-4 4zm0-4zm-5 4zm2 5zm4 2zm8-1zm6-1zm-8 5zm-2-1zm-3 2zm-13 3zm-2 1zm0-4zm0-1zm-1 1zm-2 3zm-3-3zm-1 1zm-1-2zm-4 1zm-3 4zm-3 4zm1 0zm4 1zm7-3zm12 3zm0 4zm-12 6zm-3-3zm-1-4zm-1 1zm-2 2zm4 6zm2-1zm1-1zm4 1z"/>
<ellipse cx="360.5" cy="1609.1" rx="14.7" ry="15.5" fill="#e41a1c"/>
<path stroke="#e41a1c" stroke-width="3.9" stroke-linecap="round" d="M356 1573zm3 1zm4 0zm4 0zm24-1zm8 7zm-1-1zm-4-2zm-1-1zm-6 1zm-3 1zm-1-1zm-2 5zm-1-3zm-1-1zm-4-1zm-2 3zm-3 1zm-1 0zm-4 0zm-1 0zm-2-2zm-3 0zm0-2zm-3 5zm0-1zm-1-1zm-3 0zm-2-4zm-3 4zm0-4zm-2 2zm-1 0zm-4 3zm-6 4zm1 1zm1-2zm1 1zm1-2zm4 4zm1 0zm0 1zm1-4zm2 3zm4-2zm6-2zm1 5zm2-3zm1 3zm2 0zm2-1zm1 0zm0 2zm2-2zm1 2zm3-7zm0 5zm1 0zm5-2zm0 1zm2-4zm0 6zm3-3zm2-2zm1 1zm2 3zm2-4zm4 1zm1 0zm0 1zm0 2zm2-3zm1 0zm0 2zm5-3zm2 5zm-2 8zm-1-6zm-2 1zm-2 2zm-4-2zm-1 2zm0-1zm-1 2zm-1 0zm0-3zm-1 0zm0-2zm-2 6zm0-3zm0-1zm0-2zm-2 6zm-2 0zm-2 1zm-3-6zm0-1zm-2 4zm-1-2zm-6 0zm-2 2zm-2 0zm-7 0zm-3 2zm-1-5zm-2 1zm-3 1zm-3 0zm0-2zm-2 6zm0-2zm0-4zm-2 4zm-2-2zm-3 2zm0-3zm-2 2zm-1 1zm-6 7zm1-3zm1 0zm0 2zm2 1zm4 0zm5 1zm1-5zm1 5zm1-1zm1-4zm4 0zm0 3zm1 0zm1-4zm4 2zm3-1zm0 4zm1-2zm1-2zm1 1zm2-1zm5 0zm1 0zm5-1zm0 2zm0 1zm1 2zm2-1zm1-3zm8 1zm1 0zm1-2zm1 6zm0 1zm1-6zm1 0zm0 3zm2 0zm2 0zm3 3zm-5 4zm-2-3zm-2 0zm-3 2zm-2 1zm-1 1zm-3-2zm-1-2zm-1 4zm0-2zm-1 2zm-3 1zm-1-5zm-4 2zm-4 1zm-3-1zm-1 0zm0-2zm-2 1zm-2 4zm-5 0zm-6-3zm-1-2zm-1 6zm-1-1zm-7-2zm0-3zm-3 2zm-1 0zm0-3zm-2 2zm-4-1zm0 6zm4 4zm2-3zm0 1zm4-1zm2 2zm1-1zm2-2zm1 1zm1 4zm1-5zm4 3zm2-1zm8 0zm1 4zm1-2zm2 1zm0 1zm3-3zm3 1zm7 0zm3-2zm3 4zm1-3zm2-3zm1 4zm8-2zm-14 10zm0-2zm-2 3zm0-6zm-5 2zm-8 0zm-2 1zm-1-1zm-4 3zm-4-1zm-1 1zm-3 1zm0-2zm-1-2zm-2 5zm0-5zm-4 4zm-1-1zm-2-1zm-1-3zm-3 3zm-3-3zm-1 4zm-1 0zm0-1zm-3-4zm4 10zm7-2zm1 0zm3 3zm1-4zm0 2zm0 1zm1 4zm3-2zm4 1zm1 0zm2-1zm2-2zm8-2zm1 0zm4 3zm4-2zm0 3zm2-4zm0 2zm6-2zm1 0zm8-1zm-4 10zm-2-2zm-1 3zm-2-2zm-6-2zm-6 5zm-1 2zm0-4zm-1 1zm-1-3zm-10 3zm-1 1zm0-3zm0-1zm-10 5zm-1 1zm-1 0zm0-5zm-2 5zm-4-3zm0-4zm5 9zm2 1zm4-3zm3 4zm1-3zm2 2zm2-1zm0 5zm3-3zm0 2zm5-3zm5 1zm1-2zm1 2zm0 2z"/>
<ellipse cx="358.1" cy="1611.5" rx="38.7" ry="41.3" fill="none" stroke="#222" stroke-width="1.1" stroke-dasharray="5 4"/>
<ellipse cx="435.4" cy="1579.9" rx="36.3" ry="34" fill="none" stroke="#222" stroke-width="1.1" stroke-dasharray="5 4"/>
<ellipse cx="478.9" cy="1609.1" rx="33.8" ry="46.2" fill="none" stroke="#222" stroke-width="1.1" stroke-dasharray="5 4"/>
<ellipse cx="529.7" cy="1581.1" rx="24.2" ry="24.3" fill="none" stroke="#222" stroke-width="1.1" stroke-dasharray="5 4"/>
<ellipse cx="341.2" cy="1689.3" rx="14.5" ry="18.2" fill="none" stroke="#222" stroke-width="1.1" stroke-dasharray="5 4"/>
<ellipse cx="454.8" cy="1767.1" rx="13.3" ry="13.4" fill="none" stroke="#222" stroke-width="1.1" stroke-dasharray="5 4"/>
<ellipse cx="478.9" cy="1735.5" rx="30.2" ry="24.3" fill="none" stroke="#222" stroke-width="1.1" stroke-dasharray="5 4"/>
<ellipse cx="488.6" cy="1686.9" rx="24.2" ry="34" fill="none" stroke="#222" stroke-width="1.1" stroke-dasharray="5 4"/>
<path d="M365.3 1650.4 L389.5 1643.1 L425.8 1686.9 L462 1716 L457.2 1742.8 L425.8 1742.8 L389.5 1723.3 L365.3 1686.9Z" fill="none" stroke="#222" stroke-width="1.1" stroke-dasharray="5 4"/>
<text x="356.9" y="1619.3" font-size="29" text-anchor="middle" font-weight="bold">0</text>
<text x="435.7" y="1596.5" font-size="29" text-anchor="middle" font-weight="bold">1</text>
<text x="474.1" y="1623" font-size="29" text-anchor="middle" font-weight="bold">2</text>
<text x="534" y="1587.5" font-size="29" text-anchor="middle" font-weight="bold">9</text>
<text x="404.5" y="1645.1" font-size="29" text-anchor="middle" font-weight="bold">8</text>
<text x="426.5" y="1648" font-size="29" text-anchor="middle" font-weight="bold">10</text>
<text x="440" y="1672.3" font-size="29" text-anchor="middle" font-weight="bold">3</text>
<text x="398.5" y="1692.7" font-size="29" text-anchor="middle" font-weight="bold">7</text>
<text x="483.3" y="1688.1" font-size="29" text-anchor="middle" font-weight="bold">5</text>
<text x="343.8" y="1699.5" font-size="29" text-anchor="middle" font-weight="bold">12</text>
<text x="425.8" y="1726.8" font-size="29" text-anchor="middle" font-weight="bold">6</text>
<text x="470.5" y="1745.5" font-size="29" text-anchor="middle" font-weight="bold">4</text>
<text x="454.5" y="1779" font-size="29" text-anchor="middle" font-weight="bold">11</text>
<rect x="573.5" y="1541" width="241.2" height="243.1" fill="#fff" stroke="#555" stroke-width="1.5"/>
<path d="M573.5 1541H814.7" stroke="#666" stroke-width="3"/>
<text x="690" y="1531.7" font-size="32.4" text-anchor="middle">TE4</text>
<path stroke="#999999" stroke-width="3.9" stroke-linecap="round" d="M597 1686zm2 0zm2 0zm4 6zm-1 0zm0-1zm-1 2zm0-2zm-1-2zm-1 4zm0-1zm0-4zm-1 5zm0-4zm0-2zm-1 7zm0-6zm-1 5zm0-2zm0-1zm-1-1zm0-1zm0 6zm1 1zm2 1zm1-2z"/>
<path stroke="#d889b2" stroke-width="3.9" stroke-linecap="round" d="M708 1764zm2 0zm7 7zm-3-2zm0-2zm-1-2zm-1 4zm0-3zm0-1zm-2 6zm-1-1zm0-1zm0-4zm-1 0zm-1 6zm0-5zm0-1zm-1 2zm-2 0zm0-2zm-1 3zm3 6zm3-2zm1 2zm1 0zm1-1zm1 1zm1-2zm0 1zm0 1zm1-3zm0 1z"/>
<path d="M764 1581.1L805.1 1582.3" stroke="#a65628" stroke-width="6.9" stroke-linecap="round"/>
<path stroke="#a65628" stroke-width="3.9" stroke-linecap="round" d="M764 1577zm2 0zm2-1zm0 5zm1 0zm5-5zm0 2zm1 3zm1-3zm0 1zm5 1zm2-2zm2 0zm0 2zm1-3zm0 1zm0 4zm1-5zm0 1zm1-1zm1 0zm1 3zm2 0zm1-1zm0 2zm1-3zm1 1zm0 2zm2-1zm2-1zm0 1zm1-1zm1-2zm1 4zm1-3zm0 1zm2 7zm0-1zm0-2zm-1 3zm0-4zm-1 5zm0-4zm-1 2zm-2 1zm-1-4zm-1 5zm0-2zm-2-2zm-2 4zm0-1zm0-3zm-2 2zm0-2zm-1 0zm-1 3zm0-1zm-2-1zm-2 2zm-1 0zm-1-2zm0-1zm-1 3zm0-4zm-1 3zm0-2zm-1 0zm-1 3zm0-1zm-1-2zm-1 2zm-2 1zm0-1zm-2 2zm0-5zm-7 0zm-1 3z"/>
<ellipse cx="744.8" cy="1686.9" rx="14.7" ry="22.2" fill="#ba5e6d"/>
<path stroke="#ba5e6d" stroke-width="3.9" stroke-linecap="round" d="M722 1658zm6 1zm1-1zm1-1zm0 1zm1-1zm4 1zm1-1zm3 0zm0 2zm1-3zm3 2zm0 1zm3-1zm10 6zm-5 0zm0-3zm-5 1zm0-2zm-1-1zm-1 6zm0-5zm0-1zm-1 2zm-4-1zm-1 5zm0-4zm-1 5zm-1-3zm-1 3zm0-3zm-1 1zm-1 0zm-1-5zm-1 0zm-1 6zm0-5zm-3 6zm0-1zm-3-3zm0-3zm-1 7zm-2-2zm1 3zm1 0zm1 1zm1-2zm1 1zm1 1zm0 2zm0 1zm3 1zm1-4zm0 1zm0 3zm1-5zm0 4zm0 1zm1-3zm0 1zm1-3zm1 3zm0 1zm0 2zm1-7zm0 1zm0 3zm1-2zm0 3zm0 1zm1-2zm1 2zm0 1zm1-7zm2 1zm0 5zm1-5zm2-1zm1 3zm3-2zm0 6zm6-7zm0 1zm1 4zm1-5zm0 2zm1-1zm0 3zm-1 9zm-1 0zm-1 1zm-2-2zm-1 1zm0-1zm-1 2zm0-4zm-2 2zm-4-1zm-1 0zm0-3zm-4 4zm0-2zm-4 2zm-2 1zm-1-2zm-3-2zm-1-1zm-1 2zm-1 0zm-1 9zm1-3zm2 1zm1 1zm0 3zm1-2zm1-1zm1-3zm0 3zm1-3zm5-1zm0 4zm1 0zm2-2zm0 3zm4-4zm0 5zm1 0zm1 1zm2-6zm1 2zm1-2zm1 3zm1 1zm0 1zm6-5zm0 4zm1 0zm0 1zm2-4zm0 12zm-1 0zm0-4zm-2 1zm-2-3zm-5 5zm0-6zm-1 6zm-5-3zm0-2zm-1-1zm-2 4zm-4 1zm-1-5zm-1 6zm-1-3zm-1-3zm-3 2zm-1 3zm-1-2zm0-2zm-2 4zm-4-5zm3 7zm0 5zm2 1zm1 1zm2-2zm3-3zm2 1zm1-2zm0 4zm4-4zm1-1zm3 0zm1 2zm5 3zm1 1zm1-3zm1 3zm1-1zm1-4zm0 4zm0 2zm1-3zm0 2zm2 2zm-2 4zm0-1zm-2 3zm-1-3zm-1 2zm-1-2zm0-1zm-2-3zm-1 3zm-2 4zm-1 0zm0-2zm-1-2zm-1 2zm-1 2zm0-2zm0-5zm-4 2zm-1 2zm0-3zm-1 4zm-1 0zm-3-1zm-1-2zm0-1zm0 8zm1 1zm5 0zm2-1zm0 2zm3 3zm3-6zm2 0zm0 2zm1-2zm0 3zm3-1zm-9 5z"/>
<ellipse cx="732.7" cy="1735.5" rx="17.4" ry="13.9" fill="#7f6e85"/>
<path stroke="#7f6e85" stroke-width="3.9" stroke-linecap="round" d="M724 1720zm1-2zm0 3zm1-3zm1 2zm1-1zm1 1zm0 1zm4-1zm1 0zm0 1zm1-3zm3 1zm1 0zm0 2zm1-2zm1 1zm1 1zm1-1zm0 1zm2-1zm0 2zm2 0zm4 6zm0-2zm-1 0zm-1 0zm-1-4zm-1 6zm0-2zm-3-3zm0-1zm-1 1zm-1 3zm-3 2zm0-5zm-1 5zm-2-4zm-1 4zm0-4zm-1-2zm-1 2zm-1 5zm0-4zm-3 3zm0-3zm-1 1zm-1 2zm0-5zm-2 3zm0-1zm0-1zm-2 1zm-1 3zm-1 0zm0-4zm-1 3zm-1 1zm0-5zm-1 3zm0-4zm-1 2zm-2 0zm-1 4zm0-1zm-1-1zm-3 9zm1-3zm1 2zm0 1zm2-6zm0 3zm1 1zm1 1zm0 2zm1-7zm0 2zm0 3zm1 2zm2-7zm0 6zm1-2zm0 3zm1-6zm0 1zm0 2zm1-4zm0 1zm0 3zm0 1zm2-4zm0 5zm0 1zm4-6zm0 2zm0 1zm0 3zm1 0zm1-6zm1 2zm0 3zm1 0zm1-1zm0 2zm1-4zm1 0zm0 1zm1-2zm0 2zm0 1zm1-3zm1 1zm1-2zm0 1zm0 2zm3 3zm1-7zm0 1zm0 2zm0 2zm1-1zm0 2zm1-5zm0 6zm1-5zm0 1zm1 2zm1-1zm0 1zm1 1zm2 0zm1-2zm1 0zm0 2zm1-2zm0 4zm-1 4zm0-4zm-1 5zm-3-1zm0-1zm0-3zm-1 4zm0-2zm0-2zm-2 0zm-1 1zm0-1zm-1 0zm-1 3zm-1 1zm-1-2zm-1-1zm-1-1zm-1 6zm0-3zm-4-1zm-1 1zm-1-1zm-1 4zm-3-7zm-1 5zm-1 2zm-1-3zm0-1zm-1 3zm0-1zm0-3zm-1 0zm-2 2zm0-1zm-1 0zm-2 3zm0-1zm0-1zm0-2zm-2 0zm-1 2zm0-3zm-1 5zm-1 0zm0-4zm-1-1zm-1 0zm-2 0zm4 9zm1-2zm1-1zm1 4zm1-2zm0 2zm1 0zm0 1zm0 2zm1-3zm0 2zm1-5zm1 0zm0 5zm0 1zm1-3zm1-4zm0 1zm1 1zm0 2zm1-4zm0 1zm0 5zm0 1zm3-6zm0 4zm2-2zm1-3zm0 2zm0 4zm1-5zm0 3zm1 2zm1-4zm1 0zm0 1zm0 2zm1-4zm0 1zm0 5zm1-4zm0 4zm1-2zm0 1zm1-3zm0 2zm1-2zm0 2zm2-1zm0 2zm1-3zm1-3zm0 3zm1 1zm1-4zm2 1zm0 3zm2-2zm1 0zm-11 7zm-2 0zm-1 1zm0-2zm-1 2zm0-1zm-2-2zm-3 1zm-1 0zm-2 1zm-1-2zm-3 2zm-1-1zm-4-1z"/>
<path d="M648.3 1703.9L708.6 1725.8" stroke="#ff7f00" stroke-width="15.7" stroke-linecap="round"/>
<path stroke="#ff7f00" stroke-width="3.9" stroke-linecap="round" d="M651 1698zm4 1zm0 1zm3 1zm1-3zm3-2zm3 3zm3-1zm22 8zm-3 0zm-6-1zm-1 3zm0-6zm-1 5zm-2 0zm0-2zm-1-1zm-1-1zm-3-1zm-2 4zm0-1zm0-3zm-1 2zm0-1zm0-1zm-1 3zm-2 0zm0-1zm-1 0zm0-1zm-1 4zm0-4zm-1 3zm0-3zm-1 1zm-1-2zm-1 2zm0-1zm-1 0zm-4 3zm-1-1zm-1 3zm0-5zm-1 1zm0-2zm-2 4zm0-2zm-2 2zm0-1zm-2 8zm3 0zm2-1zm1 1zm1-2zm0 2zm1-5zm0 3zm3-2zm0 3zm1-3zm0 5zm2-3zm4-2zm1 4zm1-4zm1 4zm1 1zm1-2zm1-3zm2 0zm0 3zm1 1zm2-3zm1 1zm0 1zm3 3zm2-5zm1-1zm1-1zm0 3zm0 1zm2 1zm2-1zm1 1zm1-4zm1 3zm0 2zm1 0zm3-5zm1 4zm0 2zm1-4zm4 1zm0 3zm3-1zm2 1zm5-2zm0 2zm-1 2zm-3 4zm-1-3zm0-1zm-2 1zm-3 1zm-1-3zm-2 4zm-3-3zm-1 2zm-1-1zm0-3zm-2 1zm-3 6zm0-3zm0-1zm-6 0zm-1 2zm-1 1zm0-1zm-1-2zm-8 3zm-1-6zm-1 6zm-4 1zm0-7zm-1 3zm0-2zm-1 5zm0-3zm-2 3zm0-1zm-1-1zm-1-1zm-2 0zm-1 0zm-2-1zm-1-1zm-3 0zm-1-1zm18 8zm6 0zm7 3zm1-2zm2-2zm2 5zm0 1zm1-6zm0 2zm0 2zm1 0zm1-4zm0 4zm1-2zm0 4zm1-1zm1-5zm1 3zm1-2zm0 1zm0 4zm0 1zm1-6zm4 6zm2-4zm2-2zm0 1zm0 4zm0 1zm5-3zm2-2zm-2 8zm-1-3zm-1 1zm-1 1zm-2 4zm0-1zm0-3zm-2 4zm0-4zm-1 1zm-1 2zm0-1zm0-2zm-1 0zm-2 0zm-2 0zm0-1zm-1-1zm-1 1zm-6 0z"/>
<path d="M626.6 1657.7L672.4 1696.6" stroke="#ffd422" stroke-width="17.3" stroke-linecap="round"/>
<path stroke="#ffd422" stroke-width="3.9" stroke-linecap="round" d="M632 1651zm2-2zm0 2zm1 1zm3-1zm5 6zm-1-1zm-1 2zm-1-3zm-1 2zm0-1zm-1-3zm-1 4zm-5 2zm0-4zm-3 0zm-1 1zm-1 2zm-7 8zm4-4zm2-1zm2-2zm0 7zm2-6zm0 1zm1 2zm1 0zm1-2zm0 4zm1 0zm2 1zm3-7zm0 3zm1 0zm0 3zm1-3zm1 0zm2 1zm0 1zm4 0zm2-2zm1 2zm0 1zm2 1zm3-1zm8 7zm-3-2zm-4 1zm-3 0zm-2 2zm0-3zm-1-1zm0-2zm-1 2zm-1 2zm0-1zm-1-2zm-1 3zm-1 1zm-1-5zm-1-1zm-2 6zm0-3zm-1-2zm-1 0zm-1 2zm0-1zm0-1zm-1 5zm0-1zm-2-2zm-2 0zm-1 2zm0-3zm-1 4zm0-3zm-1 1zm0-2zm0-1zm-2 6zm0-4zm-1 0zm0-1zm-1 3zm0-3zm-1 4zm0-2zm-1 0zm0-3zm-1 0zm-3 3zm0-1zm0-3zm-1 0zm9 8zm3 0zm0 5zm3-4zm1 0zm0 2zm0 1zm1-4zm0 2zm1 1zm1-1zm2 1zm0 2zm2-5zm0 2zm2 0zm1 3zm0 1zm1-1zm1-1zm1-3zm0 1zm1 1zm0 2zm1-1zm1 1zm1-1zm2-4zm0 3zm4-1zm1-2zm3 1zm0 4zm2-6zm0 4zm1-2zm1 1zm2 3zm2 0zm1 1zm0 3zm-2 2zm0-4zm-1 2zm0-2zm-1 4zm-1 1zm-1 0zm0-6zm-1 2zm-2 2zm-1 3zm0-2zm-2 2zm-1-2zm0-2zm-1 2zm-3 2zm0-3zm0-3zm-1 6zm0-2zm0-1zm-1 1zm-1-3zm-2 4zm-1 0zm0-3zm-3 3zm0-4zm-1 3zm0-4zm-1 0zm-2 2zm-3 2zm0-2zm0-1zm-2 0zm0-2zm5 8zm1 0zm1 0zm3 0zm1 2zm0 3zm1-5zm1 0zm0 3zm2 1zm0 1zm1-1zm1-5zm1 1zm0 4zm1-2zm0 2zm1-3zm1 1zm0 1zm1-3zm2 5zm0 1zm1-1zm3-4zm0 4zm3-5zm1 4zm1-4zm4 4zm3-1zm1-4zm1 0zm-7 10zm0-3zm-1 3zm-2-1zm0-2zm-1 5zm-1 0zm0-2zm-2 0zm-1 4zm0-4zm-1 1zm-2-1zm0-3zm-5 1zm-1 0zm3 6zm1 1zm2 2zm1-3zm0 4zm2-1zm2-1z"/>
<path stroke="#4daf4a" stroke-width="3.9" stroke-linecap="round" d="M656 1639zm0 1zm0 5zm1-6zm0 1zm1 3zm1-2zm0 2zm1-4zm2 2zm0 1zm1 3zm1-6zm0 2zm1 4zm1-3zm1-2zm0 1zm1 0zm1 0zm1 2zm2-4zm3 4zm1-2zm1-2zm0 5zm2-2zm1-3zm2 0zm0 1zm1 0zm1-1zm2 5zm6-1zm0 1zm1-5zm4 6zm1-6zm0 5zm1-1zm1-3zm1 3zm3-4zm3 0zm0 5zm1-1zm2-3zm0 2zm1 0zm2-3zm0 3zm0 2zm1 0zm1-5zm1 0zm1 0zm0 4zm1 0zm3 1zm1-4zm1 0zm0 4zm0 7zm-10-3zm-6 2zm0-1zm0-3zm-1 4zm-2 2zm0-5zm-1 2zm-2 2zm0-3zm0-2zm-1 4zm0-1zm-1 0zm-1 2zm-3-4zm0-1zm0-1zm-1 7zm0-6zm-3 6zm-1-1zm-1-1zm-1-2zm0-2zm-4 4zm-1-3zm-1 1zm-1 1zm0-1zm-1-3zm-3 5zm0-4zm-3 3zm0-3zm-3 6zm-3 0zm0-4zm-1 3zm0-4zm-2 1zm-1-1zm-1 0zm-2 4zm0-1zm-1 1zm-4-1zm0-5zm0 12zm1 2zm1-5zm0 2zm0 2zm3 0zm0 1zm1-4zm2 0zm0 3zm0 1zm1-5zm0 2zm1-1zm1 3zm1-3zm1 0zm2 0zm0 2zm1-1zm3 0zm2 0zm2-2zm0 4zm0 1zm1-1zm2-6zm0 5zm2 0zm3 0zm1 2zm2-3zm1-1zm1 1zm0 1zm1-3zm2 2zm0 3zm2-5zm0 4zm1-6zm0 5zm1-1zm0 1zm2-2zm1 3zm2-1zm4 0zm1-3zm0 4zm2-2zm3 1zm1-3zm1 0zm1 0zm2 2zm2-2zm1 8zm-5 0zm-4-1zm-2-1zm-1 0zm-4 5zm0-3zm-2 0zm-2-2zm-1 0zm-1 3zm-1-2zm-3 2zm-1 1zm0-1zm-1 1zm0-3zm-1-1zm-1 1zm0-1zm-1 2zm-1 4zm-2-1zm0-4zm-2 1zm-1-3zm-2 2zm-1 1zm-1 0zm-1-3zm-1 1zm-2 4zm-2-3zm-1-1zm-4 5zm-4-1zm-1-1zm-1-3zm-2 4zm-1-1zm0-3zm-1 3zm0-1zm0-2zm-1 0zm-1 0zm-1 6zm0-5zm-3 1zm0-1zm0-1zm5 9zm2 2zm1-1zm1-4zm0 1zm0 6zm1-4zm2 3zm3-1zm2-3zm0 2zm1 0zm3 0zm2-3zm1-1zm3 6zm1-2zm6 0zm3-1zm1-2zm0 5zm2-3zm3-2zm0 3zm1-2zm2 2zm1-1zm1-1zm0 2zm0 2zm4 0zm2-3zm0 2zm1-2zm1 1zm2 10zm0-3zm0-1zm-3 4zm-2-4zm0-3zm-1 1zm-1 4zm-2-2zm0-3zm-1 4zm-2-3zm-1 1zm0-1zm-4 1zm-1 4zm-3-5zm-1 2zm-2 4zm-1-2zm-1-1zm-2 1zm-1-1zm0-2zm0-2zm-1 7zm0-3zm-1 1zm0-2zm0-1zm-1 3zm-1-1zm-1 1zm-3-3zm-1 3zm-3-3zm-1 4zm0-1zm-1-2zm0-1zm-2 0zm2 6zm2 1zm1 1zm1 3zm1 0zm1-5zm0 4zm3 0zm2-5zm0 6zm0 1zm5-7zm0 1zm0 1zm1 0zm6 0zm1 0zm1 4zm1-3zm2 2zm0 1zm2-4zm1 4zm3-6zm4 6zm1-1zm2-1zm2-2zm1 3zm4 9zm0-2zm0-2zm0-1zm-2-1zm-1 2zm0-3zm-1 4zm-1 2zm0-1zm-2 0zm-1-4zm-1 6zm-4-2zm0-2zm0-3zm-3 4zm0-3zm-1 2zm-3 3zm-16-6zm-6 2zm-1-2zm-1 3zm0-1zm-1-1zm26 7zm0 4zm4-2zm1 3zm3-5zm0 1zm1 3zm9-2zm1 3zm4 7zm-1-5zm-1 4zm0-4zm-1 1zm-2 4zm-1 1zm-1-1zm-2 0zm0-2zm0-1zm0-1zm-2 3zm-2-3zm-4 5zm0-2zm0-2zm-2 0zm-1 4zm3 4zm1-2zm2-1zm1 3zm1-1zm2 0zm2-1zm2 0z"/>
<ellipse cx="732.7" cy="1606.6" rx="22.9" ry="30.5" fill="#3e8e93"/>
<path stroke="#3e8e93" stroke-width="3.9" stroke-linecap="round" d="M733 1567zm15 6zm-1-1zm-2-1zm-1 4zm-1-4zm-2 2zm-1-2zm-1 1zm0-1zm0-1zm-1-1zm0-1zm-1 6zm-3 1zm0-2zm-1 2zm0-4zm-2 4zm0-4zm-1-2zm-1 4zm0-4zm-3 0zm-4 3zm-1 0zm-1 2zm-1 1zm-2-2zm-5 6zm1 0zm3-1zm3 1zm0 3zm2-5zm1 2zm2-3zm2 2zm0 1zm1 0zm0 1zm2-5zm3 0zm1 6zm1-2zm2 0zm1 1zm0 1zm1 1zm2-7zm1 5zm4 0zm2-1zm0 2zm3-3zm2-2zm0 3zm1 1zm2 0zm3 9zm0-3zm-2 3zm0-5zm-1 3zm-3-2zm0-1zm0-2zm-5 3zm0-1zm0-2zm-1 5zm-5-2zm-3 4zm-1 0zm-3-2zm-1 0zm-2 2zm0-6zm-2 5zm-1-2zm0-2zm-1 4zm0-4zm-1 3zm0-2zm-2 3zm0-4zm-1 3zm-1-3zm-1 1zm-2 2zm-1-3zm0-2zm-2 2zm0-2zm-1 5zm-2 2zm-2-3zm-2 2zm-2 0zm-2 4zm4 2zm1-2zm4 1zm0 1zm2-4zm2 0zm1 3zm1-1zm0 3zm1-6zm0 1zm1 0zm1 2zm0 1zm0 3zm2-1zm0 1zm1-3zm0 1zm1-2zm2 4zm3-7zm1 4zm1-4zm0 1zm2 0zm1 1zm2-1zm1-1zm0 3zm1 0zm0 2zm1 2zm1-2zm2-3zm0 2zm0 3zm3-3zm2 1zm1 0zm3-2zm2 3zm3-1zm1-4zm2 12zm-1 0zm0-2zm-1 3zm0-1zm0-5zm0-1zm-4 6zm0-3zm-1-3zm-1 1zm-1 1zm-1-2zm-1 4zm-1-1zm0-1zm-1 5zm-2-6zm-1 1zm0-2zm-1 4zm-1 2zm0-5zm-1 5zm0-1zm-1 2zm-1 0zm-1-3zm-2 2zm-4-1zm-2-4zm-1 4zm0-3zm-1-1zm-2 4zm0-3zm-3-1zm-1 1zm-1 4zm-2-6zm-3 7zm0-1zm-1-1zm-1-3zm-1 0zm0-2zm-1 3zm-1 3zm0-5zm-2 2zm-1 1zm0-2zm0-2zm-1 2zm-1-1zm-1-1zm-1 6zm0-2zm-1 3zm0-7zm-1 3zm2 8zm0 1zm1-4zm1 1zm0 3zm0 2zm1-6zm0 2zm2-3zm3 2zm0 2zm1-4zm1 7zm1-6zm0 1zm0 1zm1 2zm1 1zm1-4zm1 2zm1-1zm0 1zm2 3zm1-3zm0 2zm1-5zm0 1zm1 2zm1-3zm0 3zm3-3zm0 2zm2 0zm1-3zm1 3zm0 2zm1-2zm0 2zm0 2zm1-7zm0 4zm0 1zm1 1zm3-2zm0 1zm0 1zm1-3zm3 2zm1-5zm0 4zm1-1zm1-3zm0 1zm1 3zm1-1zm1-2zm0 5zm1-5zm0 5zm1-4zm1-1zm1 1zm0 4zm1 0zm1-2zm0 1zm1-3zm1 4zm1-5zm2 11zm-1-3zm-4 0zm-2 3zm0-1zm0-3zm-1 5zm0-2zm0-1zm-2 1zm0-3zm-4 2zm0-1zm0-1zm-1 2zm0-3zm-1 1zm-1 6zm0-4zm0-1zm-1-2zm-1 3zm-2 4zm0-2zm-1-5zm-2 0zm-3 2zm-1 0zm-1 2zm0-2zm-2-1zm-1 4zm-2-1zm-1 1zm-1-4zm0-1zm-1 6zm0-2zm-1 1zm0-4zm-1 6zm-1-3zm-1-1zm0-2zm-1 2zm-1 4zm-2-1zm-1-1zm0-4zm-3 3zm-1-3zm-2 1zm-2 4zm0-5zm-1 2zm-3-1zm1 7zm0 3zm2-5zm2 1zm1 2zm0 4zm3-7zm1 0zm0 1zm0 3zm0 1zm0 2zm2-7zm1 0zm0 6zm0 1zm1-4zm1 4zm3-6zm2 3zm1-3zm1 2zm0 1zm1 0zm3 2zm1-2zm1 1zm1-3zm0 3zm0 2zm1-5zm2 2zm1-1zm0 1zm2 0zm1-3zm1 2zm1 4zm3-2zm2-4zm0 2zm1-2zm0 5zm2-5zm0 6zm2-3zm1-2zm2 3zm2-4zm2 2zm-2 10zm0-2zm-1 3zm0-5zm0-1zm-1 1zm-1 3zm0-2zm-1 3zm0-2zm0-3zm-1 2zm-1 4zm0-2zm-1-4zm-1 1zm0-1zm-1 6zm0-6zm-1 4zm0-1zm0-4zm-1 5zm-1 2zm-1-1zm0-1zm-1 2zm-1-4zm0-3zm-1 1zm-1-1zm-3 3zm0-1zm-1 3zm0-1zm-1 3zm-1-2zm0-3zm-1 1zm-1 1zm0-2zm-2 2zm0-2zm-1 4zm0-1zm0-3zm-1 1zm-1 3zm-1-1zm0-1zm0-2zm-1 3zm-4 2zm0-7zm-1 7zm0-7zm-1 6zm0-1zm0-4zm-2 2zm-1 2zm0-1zm-2 3zm-1-3zm0-1zm0-2zm-2 3zm-2-2zm-2-2zm4 8zm3 3zm0 2zm1-6zm0 5zm10 1zm2-4zm0 1zm3 1zm0 2zm1-5zm1-1zm0 4zm0 2zm2 0zm4-4zm0 1zm1-1zm1-2zm0 1zm1-1zm0 3zm1-2zm0 6zm1-6zm0 3zm1 2zm1-3zm0 1zm1-2zm0 5zm1-2zm0 1zm1 0zm1-4zm1-2zm0 2zm3 3zm2-2zm-6 6zm-3 1zm-1 2zm-1-2zm-4 3zm0-2zm-2 1zm0-4zm-2 5zm-1-2zm-1 1zm-2-3zm0-1zm-1 4zm-1 1zm-1-3zm-1 2zm0-1zm0-3zm0-1zm-1 4zm0-1zm-2-1zm-2 1zm0-3zm-2 5zm-1-2zm-1 2zm0-4zm-2 0zm-2 0zm19 7z"/>
<ellipse cx="690.5" cy="1581.1" rx="24.7" ry="21.2" fill="#715d83"/>
<path stroke="#715d83" stroke-width="3.9" stroke-linecap="round" d="M688 1554zm2 0zm20 6zm-3 0zm-2-2zm-3 2zm-2-4zm-1 3zm0-4zm-2 6zm0-2zm0-2zm-1-2zm0-1zm-1 1zm-1 5zm0-4zm-7-1zm-1 6zm0-4zm-3-1zm-1-1zm-1 1zm-2-1zm-3 5zm-1 0zm-12 6zm0 2zm1-1zm1-1zm3-2zm1 0zm0 3zm1-3zm2 3zm1 0zm1-2zm1-3zm0 2zm0 1zm2-2zm0 4zm1-5zm5 3zm1-1zm1-3zm1 0zm0 2zm1 0zm0 3zm0 1zm0 1zm1-4zm0 2zm1-5zm1 5zm1-4zm0 4zm1 1zm2-5zm0 1zm0 5zm1-4zm1 4zm1-7zm0 4zm1-4zm0 3zm2 1zm1-4zm0 5zm1-4zm1-1zm0 4zm4 2zm2-3zm0 3zm1-3zm0 2zm2-5zm2 2zm0 2zm1-1zm3 3zm0 1zm3 6zm0-2zm-2 2zm-1-2zm0-3zm-1 4zm-4-1zm-2 1zm0-2zm-1 1zm-3-1zm-2 2zm-2 0zm-1-3zm-2 5zm0-3zm-1 2zm0-4zm-2 2zm-1 1zm0-2zm-1 3zm-1 1zm0-1zm-1-2zm-1 1zm-1-3zm-2 2zm-2-3zm-4 2zm-1 3zm-1-4zm0-1zm-1 5zm0-3zm-1 3zm-1-2zm-3-2zm-5 0zm0-1zm-1 2zm0-1zm-1 2zm0-3zm-1 6zm-3-1zm0-2zm-2 1zm-2 2zm2 5zm0 2zm1-7zm0 3zm2 2zm1 1zm4-3zm0 1zm0 3zm3-4zm3-3zm1 4zm0 2zm1-6zm0 6zm0 1zm1-4zm3 4zm1 0zm1-4zm1 2zm2-4zm0 6zm1-6zm2 2zm1-1zm0 3zm0 2zm1-4zm0 3zm1-5zm1 1zm1-1zm3 1zm2 2zm0 2zm2-4zm0 4zm1-5zm1 0zm0 1zm3 0zm0 4zm1-6zm1 1zm0 1zm2-2zm1 6zm2-3zm1-1zm1-2zm1 4zm0 3zm1-4zm3 0zm2 2zm-1 8zm0-3zm0-2zm-1-1zm-1 5zm-1-4zm-2 2zm-1-2zm-1 3zm-1-2zm-1 0zm-1 3zm0-3zm-1 0zm-1 3zm0-5zm-1 2zm-1 3zm0-1zm-1-2zm0-2zm-2 3zm-2-1zm-2 4zm-1-4zm0-1zm-1 6zm0-6zm-2 3zm-1 2zm0-4zm-1 1zm0-3zm-1 4zm0-1zm-2 3zm0-1zm-1 0zm0-1zm0-1zm-2 2zm0-1zm-1 3zm0-4zm-1 0zm-1 2zm0-5zm-1 1zm-1 2zm0-1zm-1 0zm-2-2zm-3 4zm0-3zm-1 4zm0-1zm0-1zm-1 3zm0-3zm-1 1zm0-1zm0-1zm-1 0zm-1 1zm0-3zm-1 5zm0-2zm-1-3zm-2 3zm-1 1zm0-2zm-3-2zm-2 6zm-1-6zm-1 5zm-1-1zm-1 1zm-2 0zm-3 1zm-3 0zm-2 2zm0 5zm3-5zm2 0zm3 4zm2 1zm3-3zm0 1zm1-3zm0 5zm2-5zm0 5zm2 0zm3-4zm2 0zm0 2zm1 3zm1-2zm1-1zm1-4zm3 4zm3-4zm2 2zm1 3zm1-4zm3 3zm1 2zm1-5zm2 4zm3 1zm1-5zm0 4zm3-1zm1-3zm3 5zm1-5zm1 5zm2-4zm1 1zm2 0zm0 3zm0 1zm1-7zm1 3zm2 0zm0 3zm3-1zm1-3zm-2 6zm-3 1zm-1-1zm-3 1zm-5 4zm0-1zm-3-3zm0-1zm-1 2zm-1-3zm-2 4zm-4-3zm-3 6zm-1-6zm-1 1zm-2 3zm0-1zm-1 0zm-1-3zm-2 2zm-6 0zm-2 2zm-1-1zm-1-3zm-1 5zm-4-5zm-3 1zm-2 1zm-5-3zm-2 1zm-2 5zm0-4zm-3-1zm-4 1zm-2 1zm0-1zm0 6zm1 3zm1-2zm1-2zm3 4zm4 0zm4-3zm2-1zm0 4zm1-2zm2 1zm10-2zm1-1zm1 2zm8 0zm9 4zm1-2zm2-3zm1 3zm1 1zm3-1zm2-1zm5-2zm-42 7zm-1 3zm-4 3zm0-6zm-3 1zm-3 0zm-1 0zm-4 3zm-1-2zm3 7zm4-2zm1 4zm1 1zm1-6z"/>
<path stroke="#dc728d" stroke-width="3.9" stroke-linecap="round" d="M667 1610zm1 0zm3 0zm2-1zm1 0zm2-2zm1 2zm1-2zm1 1zm1 0zm1 1zm2-3zm1 3zm3-2zm1-2zm0 2zm1 3zm3-2zm1-1zm2 2zm2 8zm0-1zm0-1zm0-2zm-1 0zm-1 3zm-6-5zm-1 6zm-1 0zm0-1zm-2-2zm-4-2zm-2 1zm0-2zm-3 1zm-1 1zm0-2zm-1 4zm0-2zm-1 1zm0-2zm-2 0zm-3 1zm-1 2zm-5 2zm0 4zm1-2zm4-1zm0 1zm3 0zm0 1zm2-2zm0 3zm4-3zm0 1zm0 3zm3 1zm2-5zm1 4zm1 2zm1-5zm0 4zm1 1zm1-3zm3-3zm0 6zm4-1zm0 1zm1-1zm2-6zm0 2zm1 1zm2-1zm0 3zm1-4zm1 2zm0 8zm-1 2zm0-5zm-2 1zm-1 1zm-2-2zm-1 5zm-2-5zm-1 0zm-2-1zm-2 5zm-1 1zm0-2zm-2 1zm0-3zm-1-1zm-2 0zm-3 1zm-1 1zm0-1zm-1 4zm0-1zm-2-4zm-6-1zm-2 6zm0-2zm2 6zm1 0zm2 2zm1-2zm2 2zm1-5zm2 1zm0 4zm1-3zm3-1zm1 4zm2-4zm2 3zm1 1zm1 0zm3-4zm2 1zm1-1zm2-1zm0 1zm0 2zm1-1z"/>
<path stroke="#e1c72f" stroke-width="3.9" stroke-linecap="round" d="M673 1610zm6-1zm3-2zm1-2zm0 2zm3-2zm0 2zm0 1zm1-1zm0 2zm1-4zm3 3zm1-1zm1-1zm2 4zm1-5zm1 1zm4 5zm-4 3zm-5-1zm-3-2zm-7 0zm-5 1zm-2 0zm0-1zm-1 1zm-1 1zm0-2zm-19 11zm1 2zm1-1zm1-3zm1-2zm1 0zm1 1zm3 3zm1-4zm0 5zm1 0zm1-3zm1-1zm0 4zm1-3zm0 1zm1 0zm1 2zm0 1zm7-7zm3 0zm1 2zm1 0zm1 1zm1-2zm5 1zm1 0zm0 1zm-16 6zm-1 3zm0-3zm-2 1zm-4 4zm0-3zm-1-4zm-1 5zm0-2zm-3 2zm0-4zm-2 2zm-1 3zm-1 0zm0-2zm-1-4zm-2 3zm-1 3zm-2-3zm2 5zm0 5zm1-5zm3 3zm1 2zm1-3zm2 3zm2-1zm1-2zm1-2zm2 1zm2-1zm-4 8zm-1-2zm-2 2zm-1-1z"/>
<ellipse cx="616.9" cy="1609.1" rx="26.6" ry="28.1" fill="#e41a1c"/>
<path stroke="#e41a1c" stroke-width="3.9" stroke-linecap="round" d="M605 1575zm4 0zm1-2zm8 1zm1 1zm2 0zm1-2zm1 0zm2 1zm30 4zm-2 2zm-3 2zm0-5zm-4 2zm-2 3zm0-5zm0-2zm-2 2zm-1-2zm-1 1zm-1 6zm-2-2zm-1-2zm-1 3zm0-1zm0-1zm-1 2zm-3-1zm0-3zm-2-1zm-4 1zm-1 4zm0-1zm0-3zm0-1zm-1 0zm-4 6zm-2-4zm-2 1zm0-3zm-1 1zm-1 1zm-1 1zm-2 0zm-3 2zm-4-4zm0-1zm-2 0zm-1 5zm-1 0zm-4 0zm-5 5zm2 3zm1-2zm1-5zm0 2zm2-1zm1 1zm0 5zm1-7zm0 3zm0 2zm1-5zm1 1zm0 2zm0 1zm1 2zm1-4zm2 4zm1-2zm4-2zm0 4zm1-5zm0 2zm0 1zm1-3zm1 0zm0 3zm1 3zm2-4zm5-2zm1-1zm0 5zm0 2zm1-3zm2-3zm1 3zm1 2zm1-5zm2 2zm1-1zm3 0zm0 3zm3 0zm0 1zm1-5zm1 1zm1 2zm2-2zm1 3zm1-2zm0 2zm5 2zm1-4zm1-1zm1 0zm6 3zm1-3zm0 2zm1 4zm-1 6zm0-3zm-1-3zm-1 4zm-2 1zm0-4zm-4 1zm0-1zm-1 5zm-2-1zm-2 1zm-1-2zm0-3zm-2 1zm0-2zm0-1zm-1 7zm-1-4zm0-2zm-1 4zm0-1zm0-1zm-1 2zm0-2zm0-2zm-1 2zm-2-2zm-1 6zm-1-6zm-1 2zm-2 3zm0-3zm-2 3zm0-4zm0-2zm-1 7zm-2-1zm-2 0zm-2-1zm0-1zm-1 1zm0-3zm0-1zm-1 2zm0-1zm-1 2zm-1-2zm-1 5zm-2-1zm-1-4zm-1-2zm-1 6zm0-1zm-3-2zm-2 3zm-1-2zm0-3zm-1 4zm-2 1zm-1-5zm-3 0zm-1 5zm-2-6zm-1 1zm-1 5zm-1-4zm0-1zm-1 0zm-3 0zm-5 11zm1-2zm0 2zm0 1zm1 0zm2-5zm1-1zm0 3zm1-2zm3 5zm1-3zm0 2zm1 1zm1-5zm0 3zm3-3zm0 3zm0 2zm0 1zm1-2zm1-1zm1-2zm1-2zm1 6zm3-2zm0 2zm4-4zm0 1zm1-2zm0 5zm1 1zm1 0zm3-2zm2 1zm1-1zm1-2zm4 3zm1-3zm1-1zm1 3zm2-1zm0 2zm1-5zm0 3zm2-3zm1 1zm1 0zm0 2zm0 1zm2-4zm0 5zm1-1zm1 1zm1-5zm0 4zm1 0zm1-2zm0 2zm0 1zm3-6zm0 3zm0 2zm1-5zm0 3zm1-3zm1 4zm1-3zm1 2zm1-1zm0 1zm4-2zm0 1zm0 1zm2-1zm-5 11zm-1 1zm0-6zm-1 1zm-1 2zm-1 1zm0-2zm-1 3zm-2-2zm0-3zm-1 3zm-1 0zm-2 2zm-2 0zm-1 0zm0-5zm-2-1zm-1 6zm-2-4zm-1 3zm0-4zm-6 1zm-1 0zm-1-1zm-1 3zm0-1zm-2-2zm-3 5zm0-2zm0-1zm-1-2zm-1 5zm0-3zm0-3zm-1 4zm-1-2zm-3 0zm-4 3zm-1-3zm-1 5zm0-2zm-1-1zm-1 0zm-6-2zm-1 4zm-1-3zm-1-1zm-1 4zm-1-1zm-1 0zm-1-2zm-1 0zm-1-2zm-1 0zm-1 6zm0-6zm-2 6zm0-2zm0 4zm1 5zm1-4zm0 1zm1 2zm2-2zm0 2zm1-1zm1 0zm1-4zm0 2zm0 1zm0 2zm0 1zm3 0zm1-1zm2-1zm2 0zm1-5zm1 7zm3-4zm0 4zm3-2zm2-3zm1 2zm1-2zm0 4zm5 0zm2-2zm1-2zm2-2zm4 2zm2 2zm4 2zm1-2zm2-2zm1 1zm1-3zm1 5zm1-2zm0 3zm1-2zm1 0zm2-4zm3 3zm1 3zm1-1zm0 1zm2-4zm0 9zm0-1zm-4 0zm-3 1zm-2 2zm0-2zm0-4zm-2 5zm-2-2zm-1 1zm-1-1zm-4 3zm0-2zm-3-1zm-1-2zm-5 6zm0-1zm-3-1zm-1 2zm-1-1zm0-3zm-3 1zm-1 0zm0-1zm-1-3zm-1 3zm0-1zm-4 1zm-5 4zm-1-1zm-2-3zm0-3zm-1 1zm-2 5zm0-1zm-3 0zm0-1zm-2-4zm-1 5zm0-2zm0-2zm-2 5zm0-1zm-2-5zm4 13zm1-3zm1-2zm1 4zm1-2zm0 2zm1-5zm0 1zm0 1zm0 1zm0 1zm1-3zm1 0zm1 0zm0 3zm1-2zm0 5zm2-6zm1 0zm0 1zm1 4zm1-1zm1-3zm0 2zm5-2zm0 4zm1-4zm1-1zm0 2zm1 2zm5-1zm1 1zm2-4zm1 0zm0 5zm1-3zm1-2zm2 5zm0 1zm2-1zm1-2zm1 0zm0 2zm1-4zm0 3zm1-4zm2 0zm0 2zm1 2zm1 1zm1-1zm1-3zm0 1zm2 1zm0 3zm1-7zm1 1zm0 3zm2 1zm1-4zm0 4zm1 1zm2-5zm-5 8zm-1-2zm-1 4zm0-4zm-1 2zm-2 4zm0-3zm0-1zm-1 3zm-1-4zm-1 4zm0-1zm-1 3zm0-3zm0-2zm-2-1zm-1 1zm-1 5zm0-3zm-1-3zm-3 3zm-2 1zm-2 1zm0-3zm0-3zm-1 5zm0-2zm-1 3zm-1-3zm0-1zm-2 3zm0-2zm0-1zm-2 2zm0-3zm-4 4zm0-2zm0-3zm-1 7zm0-4zm0-3zm-1 7zm0-3zm0-3zm-4 3zm-3 0zm-1 1zm-1 0zm0-2zm-3 1zm0-1zm-1 4zm-1-6zm-1 0zm-1-1zm-1 1zm-1 1zm6 5zm1 2zm1-1zm7 1zm0 2zm1-3zm2 2zm1 0zm1 0zm1-3zm1 2zm1 4zm1-6zm0 4zm1-1zm0 3zm1 1zm3-2zm2-2zm1-1zm0 2zm1 2zm1-1zm0 1zm1-1zm2-4zm0 2zm1-2zm0 1zm0 2zm1-2zm0 2zm1 0zm2-4zm1 2zm4-1zm-26 6z"/>
<ellipse cx="614.5" cy="1611.5" rx="38.6" ry="41.3" fill="none" stroke="#222" stroke-width="1.1" stroke-dasharray="5 4"/>
<ellipse cx="691.7" cy="1579.9" rx="36.2" ry="34" fill="none" stroke="#222" stroke-width="1.1" stroke-dasharray="5 4"/>
<ellipse cx="735.1" cy="1609.1" rx="33.8" ry="46.2" fill="none" stroke="#222" stroke-width="1.1" stroke-dasharray="5 4"/>
<ellipse cx="785.8" cy="1581.1" rx="24.1" ry="24.3" fill="none" stroke="#222" stroke-width="1.1" stroke-dasharray="5 4"/>
<ellipse cx="597.6" cy="1689.3" rx="14.5" ry="18.2" fill="none" stroke="#222" stroke-width="1.1" stroke-dasharray="5 4"/>
<ellipse cx="711" cy="1767.1" rx="13.3" ry="13.4" fill="none" stroke="#222" stroke-width="1.1" stroke-dasharray="5 4"/>
<ellipse cx="735.1" cy="1735.5" rx="30.2" ry="24.3" fill="none" stroke="#222" stroke-width="1.1" stroke-dasharray="5 4"/>
<ellipse cx="744.8" cy="1686.9" rx="24.1" ry="34" fill="none" stroke="#222" stroke-width="1.1" stroke-dasharray="5 4"/>
<path d="M621.7 1650.4 L645.9 1643.1 L682 1686.9 L718.2 1716 L713.4 1742.8 L682 1742.8 L645.9 1723.3 L621.7 1686.9Z" fill="none" stroke="#222" stroke-width="1.1" stroke-dasharray="5 4"/>
<text x="613.3" y="1619.3" font-size="29" text-anchor="middle" font-weight="bold">0</text>
<text x="691.9" y="1596.5" font-size="29" text-anchor="middle" font-weight="bold">1</text>
<text x="730.3" y="1623" font-size="29" text-anchor="middle" font-weight="bold">2</text>
<text x="790.1" y="1587.5" font-size="29" text-anchor="middle" font-weight="bold">9</text>
<text x="660.8" y="1645.1" font-size="29" text-anchor="middle" font-weight="bold">8</text>
<text x="682.8" y="1648" font-size="29" text-anchor="middle" font-weight="bold">10</text>
<text x="696.3" y="1672.3" font-size="29" text-anchor="middle" font-weight="bold">3</text>
<text x="654.8" y="1692.7" font-size="29" text-anchor="middle" font-weight="bold">7</text>
<text x="739.4" y="1688.1" font-size="29" text-anchor="middle" font-weight="bold">5</text>
<text x="600.3" y="1699.5" font-size="29" text-anchor="middle" font-weight="bold">12</text>
<text x="682" y="1726.8" font-size="29" text-anchor="middle" font-weight="bold">6</text>
<text x="726.7" y="1745.5" font-size="29" text-anchor="middle" font-weight="bold">4</text>
<text x="710.7" y="1779" font-size="29" text-anchor="middle" font-weight="bold">11</text>
<text x="51" y="1667.1" font-size="33" text-anchor="middle" transform="rotate(-90 51 1667.1)">UMAP_2</text>
<text x="437.3" y="1816.2" font-size="32.6" text-anchor="middle">UMAP_1</text>
<circle cx="837.2" cy="1523.3" r="6" fill="#e41a1c"/>
<text x="847" y="1532.3" font-size="27" letter-spacing="0.55">0 CD8<tspan font-size="17" dy="-10">+</tspan><tspan dy="10"> Tox</tspan><tspan font-size="17" dy="-10">+</tspan><tspan dy="10"> Pdcd1</tspan><tspan font-size="17" dy="-10">+</tspan></text>
<circle cx="837.2" cy="1546.4" r="6" fill="#715d83"/>
<text x="847" y="1555.4" font-size="27" letter-spacing="0.55">1 CD8<tspan font-size="17" dy="-10">+</tspan><tspan dy="10"> Xcl</tspan><tspan font-size="17" dy="-10">+</tspan></text>
<circle cx="837.2" cy="1569.4" r="6" fill="#3e8e93"/>
<text x="847" y="1578.4" font-size="27" letter-spacing="0.55">2 CD8<tspan font-size="17" dy="-10">+</tspan><tspan dy="10"> Ly6c2</tspan><tspan font-size="17" dy="-10">+</tspan></text>
<circle cx="837.2" cy="1592.5" r="6" fill="#4daf4a"/>
<text x="847" y="1601.5" font-size="27" letter-spacing="0.55">3 CD8<tspan font-size="17" dy="-10">+</tspan><tspan dy="10"> Isg15</tspan><tspan font-size="17" dy="-10">+</tspan></text>
<circle cx="837.2" cy="1615.6" r="6" fill="#7f6e85"/>
<text x="847" y="1624.6" font-size="27" letter-spacing="0.55">4 CD4<tspan font-size="17" dy="-10">+</tspan><tspan dy="10"> Folr4r</tspan><tspan font-size="17" dy="-10">+</tspan><tspan dy="10"> Slamf6</tspan><tspan font-size="17" dy="-10">+</tspan></text>
<circle cx="837.2" cy="1638.6" r="6" fill="#ba5e6d"/>
<text x="847" y="1647.6" font-size="27" letter-spacing="0.55">5 CD8<tspan font-size="17" dy="-10">+</tspan><tspan dy="10"> Egr1</tspan><tspan font-size="17" dy="-10">+</tspan></text>
<circle cx="837.2" cy="1661.7" r="6" fill="#ff7f00"/>
<text x="847" y="1670.7" font-size="27" letter-spacing="0.55">6 CD4<tspan font-size="17" dy="-10">+</tspan><tspan dy="10"> CD40lg</tspan><tspan font-size="17" dy="-10">+</tspan></text>
<circle cx="837.2" cy="1684.8" r="6" fill="#ffd422"/>
<text x="847" y="1693.8" font-size="27" letter-spacing="0.55">7 CD8<tspan font-size="17" dy="-10">+</tspan><tspan dy="10"> CD7</tspan><tspan font-size="17" dy="-10">+</tspan><tspan dy="10"> Gzmb</tspan><tspan font-size="17" dy="-10">+</tspan></text>
<circle cx="837.2" cy="1707.9" r="6" fill="#e1c72f"/>
<text x="847" y="1716.9" font-size="27" letter-spacing="0.55">8 CD8<tspan font-size="17" dy="-10">+</tspan><tspan dy="10"> CD11c</tspan><tspan font-size="17" dy="-10">+</tspan><tspan dy="10"> Klre1</tspan><tspan font-size="17" dy="-10">+</tspan></text>
<circle cx="837.2" cy="1730.9" r="6" fill="#a65628"/>
<text x="847" y="1739.9" font-size="27" letter-spacing="0.55">9 CD8<tspan font-size="17" dy="-10">+</tspan><tspan dy="10"> Ccr7</tspan><tspan font-size="17" dy="-10">+</tspan><tspan dy="10"> Sell</tspan><tspan font-size="17" dy="-10">+</tspan></text>
<circle cx="837.2" cy="1754" r="6" fill="#dc728d"/>
<text x="847" y="1763" font-size="27" letter-spacing="0.55">10 CD8<tspan font-size="17" dy="-10">+</tspan><tspan dy="10"> Bcl3</tspan><tspan font-size="17" dy="-10">+</tspan><tspan dy="10"> Relb</tspan><tspan font-size="17" dy="-10">+</tspan></text>
<circle cx="837.2" cy="1777.1" r="6" fill="#d889b2"/>
<text x="847" y="1786.1" font-size="27" letter-spacing="0.55">11 CD4<tspan font-size="17" dy="-10">+</tspan><tspan dy="10"> Foxp3</tspan><tspan font-size="17" dy="-10">+</tspan></text>
<circle cx="837.2" cy="1800.1" r="6" fill="#999999"/>
<text x="847" y="1809.1" font-size="27" letter-spacing="0.55">12 CD8<tspan font-size="17" dy="-10">+</tspan><tspan dy="10"> Cx3cr1</tspan><tspan font-size="17" dy="-10">+</tspan><tspan dy="10"> Gzma</tspan><tspan font-size="17" dy="-10">+</tspan></text>
<text x="1140.5" y="1511.5" font-size="38.5" font-weight="bold">d</text>
<text x="1558" y="1508.2" font-size="32" text-anchor="middle">TCR TRBV13-1</text>
<path d="M1185.4 1520.3H1930.4" stroke="#000" stroke-width="2.4"/>
<rect x="1187.5" y="1567.1" width="240.1" height="240.3" fill="#fff"/>
<path d="M1211.7 1567.1V1807.4M1240.2 1567.1V1807.4M1268.3 1567.1V1807.4M1296.7 1567.1V1807.4M1325.4 1567.1V1807.4M1354.2 1567.1V1807.4M1383.2 1567.1V1807.4M1411.7 1567.1V1807.4M1187.5 1577.8H1427.6M1187.5 1620.9H1427.6M1187.5 1663.8H1427.6M1187.5 1706.9H1427.6M1187.5 1749.8H1427.6M1187.5 1794.4H1427.6" stroke="#e6e6e6" stroke-width="1.3"/>
<path stroke="#bebebe" stroke-width="2.4" stroke-linecap="round" d="M1293 1580zm2-3zm1 3zm1-3zm1 4zm2-5zm2 6zm3-2zm0 1zm1-3zm1-3zm1 3zm0 1zm1-1zm0 1zm2 0zm2-1zm1-2zm1 4zm1 1zm1-1zm1 0zm0 1zm1 0zm1-2zm1 1zm22 8zm-4 1zm-3 0zm-3 0zm-4-3zm-3-1zm-1 2zm-3-4zm-2 3zm0-4zm-2 0zm-1 4zm-1-2zm0-1zm-4 4zm-2-1zm0-3zm-2 0zm-1 6zm0-1zm0-1zm-1 1zm-3 0zm0-5zm-1 4zm-1 1zm-1-3zm-1-1zm-1-1zm-1 6zm-3 0zm-3-1zm-1 1zm0-1zm0-2zm-1 2zm0-3zm-2 1zm0-1zm-2-1zm-1 4zm0-2zm-6 1zm-1 1zm-58 7zm2 1zm2-2zm0 1zm5 0zm3 0zm10-1zm17 0zm2-4zm5 5zm4 0zm2-2zm0 3zm2-3zm1 0zm0 2zm1-2zm0 3zm1-2zm1-5zm2 6zm4-1zm1-2zm1-3zm0 2zm2-1zm1 6zm1-6zm0 6zm1-1zm3-5zm0 4zm3-2zm0 3zm3 0zm2-1zm2-1zm0 1zm1-2zm2 4zm1-5zm2-1zm0 1zm1-1zm1 4zm2 2zm1-5zm0 1zm0 2zm3 0zm3 1zm1-4zm0 4zm2-3zm1 1zm1-3zm2 4zm0 2zm1-5zm1 0zm1 5zm1-5zm0 2zm1 2zm1-2zm0 3zm1-6zm0 1zm1-1zm0 6zm1-1zm1-5zm0 5zm3-4zm1 4zm1-1zm1-5zm0 5zm1-5zm4 4zm2-1zm0 3zm1 1zm1-7zm0 1zm1 5zm0 1zm2-7zm0 4zm1-3zm0 4zm1-4zm2 2zm0 3zm1-4zm2 1zm2 4zm1-2zm0 1zm52 7zm-17 0zm-2 0zm0-1zm-1 2zm-1-1zm-2 0zm-2-1zm-1 2zm0-1zm-4-1zm-1 1zm-1 1zm0-1zm-3 1zm-2-1zm-9 1zm-1 0zm-1-4zm-1 3zm-1 1zm-3-2zm-4-1zm0-2zm-2 3zm-6 0zm-1-2zm-1-2zm-3 3zm-2 1zm-1-3zm-1 3zm-1 0zm0-3zm-2 1zm0-1zm0-1zm-1 6zm0-6zm-1 6zm0-2zm0-3zm-1 1zm-1 1zm-1 3zm0-4zm-1-1zm-1-1zm-1 4zm-1 0zm0-4zm-2 1zm-1 2zm0-2zm-1 4zm0-3zm0-2zm-1 3zm-1 2zm-1-4zm0-1zm-1 4zm0-4zm-1-1zm-1 4zm-1 2zm0-5zm-1 3zm0-4zm-1 3zm-2-1zm-2 2zm-1-3zm-1 2zm0-1zm-2 0zm0-2zm-2 2zm-1-2zm-3 1zm-3 1zm-7 5zm-1-1zm0-2zm-1 1zm0-5zm-2 5zm0-4zm-1 5zm-2-2zm-1-2zm-1-1zm-2 6zm-2-2zm-1-2zm-1 0zm-1 2zm-1 0zm0-3zm-1 2zm0-2zm-1 4zm0-4zm-1 4zm-2-3zm-1 2zm0-4zm-1 4zm-1 1zm0-1zm0-1zm0-1zm-1 3zm-1-3zm-1 4zm0-5zm-1 3zm-2-1zm-1 1zm0-3zm-1-1zm-2 2zm0-2zm-3 3zm0-3zm-2 2zm-2 1zm-1-1zm0-1zm-1 3zm-1 1zm0-2zm0-1zm-1 3zm0-2zm-1-3zm-3 5zm0-1zm0-1zm-1-3zm-1 3zm-1-3zm-1 1zm0-1zm-1 5zm0-2zm-1 0zm-1 0zm-2 2zm-3 0zm-1-2zm-3-2zm-1 2zm-3 0zm-1 3zm-2-1zm0-5zm-3 2zm-1 3zm-1 0zm0-4zm-2 3zm0-1zm-3-1zm-12 10zm2-1zm1 0zm7-1zm1-1zm0 2zm2 1zm3-4zm0 1zm4 2zm5-4zm1 0zm0 1zm0 1zm0 2zm3 2zm1-5zm3 4zm0 1zm2-6zm2-1zm0 4zm1-4zm1 7zm1-5zm5 4zm1-1zm2-5zm0 1zm1 5zm2-4zm0 2zm2-3zm0 2zm1-1zm0 2zm1-1zm0 2zm0 2zm2-7zm1 0zm0 2zm0 1zm2 3zm1 0zm3-2zm2-2zm1 1zm1 1zm0 1zm0 1zm1-5zm0 1zm0 4zm1-1zm1-4zm1 1zm0 1zm0 2zm0 1zm1-5zm0 1zm0 4zm1-6zm0 3zm0 1zm1 2zm1-2zm0 3zm1-1zm2-4zm0 1zm2 0zm3 1zm1-2zm1 3zm0 1zm2 1zm1-4zm2 1zm4 2zm1-3zm2 0zm5-2zm0 2zm6 4zm1-2zm2-5zm1 3zm4 4zm3-6zm0 5zm1-5zm1 2zm1-1zm0 2zm0 2zm1-4zm1-2zm0 3zm1-1zm1 2zm0 3zm1-7zm0 5zm0 1zm2-3zm1-1zm1-2zm0 2zm0 2zm0 2zm1-4zm0 3zm1-3zm1 1zm1 0zm0 2zm0 1zm0 1zm1-7zm0 2zm0 1zm0 2zm0 1zm1-6zm0 4zm1 0zm0 1zm0 1zm1-1zm0 1zm2-6zm0 3zm0 3zm2-6zm0 7zm1-4zm0 3zm3-5zm1 2zm1-3zm1 4zm0 1zm1-3zm2-2zm0 2zm2 5zm1 0zm2-6zm0 3zm2-1zm0 4zm1-4zm1-3zm0 6zm1-5zm2 4zm5-2zm1 3zm2-4zm2 5zm2-1zm0 1zm1-6zm0 2zm0 3zm1-6zm1 6zm4-2zm1-1zm2-2zm0 2zm1 3zm1 1zm1-2zm0 1zm1-4zm1-2zm0 2zm1-1zm0 2zm1 2zm1-4zm0 2zm1 0zm1 2zm2-2zm0 2zm1-2zm0 2zm0 1zm4 0zm2-1zm0 1zm1-4zm1 2zm0 2zm0 1zm1-2zm1-2zm1-3zm1 3zm0 4zm1 0zm5-4zm0 6zm-1 0zm-2 2zm-1-1zm-1-3zm-3 3zm-1-2zm-3 2zm0-2zm-1 3zm-3-1zm-1 0zm-3-1zm-3 1zm0-1zm-1-2zm-3 1zm-2 1zm0-1zm-3 0zm-4 1zm0-2zm-3 0zm-1 2zm-2 2zm-1 3zm0-1zm-2-4zm-1 3zm0-3zm-1-2zm-2 6zm-2-3zm0-1zm-6 3zm0-2zm0-1zm-1 0zm-2 1zm-1-3zm-1 3zm0-3zm-5 6zm-2-4zm0-1zm-1 5zm-3-3zm-1 3zm-1 1zm-1-6zm0-1zm-1 4zm0-3zm-1 5zm0-6zm-1 0zm-1 4zm-1 2zm0-1zm0-3zm-1 4zm0-2zm0-3zm-1 4zm0-1zm0-3zm-1 5zm0-3zm-1-1zm-1 3zm0-2zm0-2zm-1 5zm0-2zm-3 2zm0-5zm-1 4zm-1 0zm0-1zm0-2zm-2 5zm0-5zm-3 0zm-1 5zm0-1zm0-2zm0-3zm-1 4zm0-1zm-1-3zm-2 5zm0-1zm0-2zm0-2zm-1 5zm0-4zm-2 3zm0-3zm-2-2zm-2 7zm0-4zm-4 4zm0-1zm0-3zm0-2zm-2 5zm-1 0zm-2-4zm-5 0zm-2 1zm0-1zm-1-1zm-3 6zm0-4zm-2 0zm0-1zm-1 2zm0-2zm-1 0zm-2 1zm0-2zm-1 5zm0-4zm-1 3zm-1 0zm0-1zm0-1zm-2-2zm-1 3zm-2-1zm0-1zm-1 2zm0-1zm0-2zm-1-1zm-1 1zm-1 2zm0-3zm-1 4zm-1-1zm0-1zm-1 4zm0-1zm-1 0zm0-2zm-2 2zm-1 1zm-1 1zm0-2zm0-5zm-1 6zm0-3zm-2-1zm-1 2zm-1-2zm-1 1zm-1-3zm-1 1zm-1 5zm0-4zm0-2zm-1 4zm-2 2zm-1 0zm0-2zm-1 2zm0-2zm-2 2zm-3 0zm0-4zm-1 5zm-1 0zm0-4zm-1 4zm-3-4zm-2-3zm-2 0zm-1 6zm-1 0zm0-5zm-1 5zm-1 0zm0-2zm-2 2zm-1 0zm-1 0zm-1-3zm-2 1zm0-2zm-1 4zm-1-4zm0-2zm-2 4zm-3-3zm-4 0zm-1 2zm-2 0zm-1-2zm-2 5zm0-3zm-3-2zm-2 2zm-1-1zm-4 4zm0-1zm-2 4zm1 2zm3-3zm1 6zm1-4zm1-1zm1 1zm2-2zm0 4zm0 1zm1-1zm0 1zm1-3zm0 3zm1-5zm1-1zm0 6zm1-4zm0 3zm3-3zm1-1zm0 6zm2-6zm2-1zm0 4zm1 0zm2-1zm0 2zm2 0zm1-3zm0 3zm1 1zm1-5zm3 5zm1-2zm1-4zm4 2zm0 3zm1-4zm0 3zm4-4zm0 3zm1 1zm1-3zm0 5zm3-5zm2 3zm1 1zm0 2zm1-6zm1 1zm0 2zm1-2zm0 1zm0 2zm1-5zm0 7zm1-3zm0 1zm0 1zm1-4zm1-1zm0 1zm0 2zm0 3zm1-5zm0 1zm1 3zm1-6zm0 3zm0 2zm1-3zm0 1zm0 2zm1-3zm0 4zm1-4zm0 4zm3-5zm0 4zm0 1zm1-4zm1 0zm0 4zm1-1zm0 1zm1-3zm0 1zm1-1zm0 1zm1-3zm1 3zm1-1zm2 2zm0 1zm1-5zm0 2zm0 3zm1-4zm1 4zm1-5zm0 3zm3-3zm0 1zm0 1zm1 0zm2-1zm0 3zm2-1zm0 3zm2-4zm4 0zm1 1zm0 2zm1-2zm1 2zm1-3zm1-2zm0 4zm1-4zm0 6zm4-6zm0 2zm0 3zm1-6zm0 1zm0 2zm1 2zm3-2zm2-2zm5 2zm0 2zm1-5zm1 7zm1-1zm2-6zm1 6zm1-2zm4-4zm0 3zm0 2zm1 0zm1 1zm1-4zm1-2zm1 0zm0 6zm1-2zm1-3zm0 2zm0 1zm0 1zm0 1zm1-5zm0 1zm0 3zm3-2zm0 1zm0 2zm1-1zm1-2zm0 1zm1-2zm1-2zm0 2zm2-2zm2 6zm3-6zm0 1zm0 3zm2 1zm2-3zm0 2zm0 2zm3 1zm2-7zm0 3zm0 3zm1-4zm0 5zm1-7zm1 1zm0 5zm2-5zm0 2zm1-1zm0 1zm6 2zm4-3zm1-2zm0 4zm0 1zm2-2zm0 1zm3 0zm2 0zm1 6zm-3 0zm-1-2zm-1 6zm0-4zm0-2zm-1 2zm0-1zm-1 2zm0-1zm-1 3zm0-5zm-1 1zm-1 4zm-1 0zm0-3zm-1 3zm-4-1zm-3 0zm-2-2zm-3 3zm-1 1zm0-3zm-1 0zm0-2zm-2 2zm0-3zm-3 0zm-1 2zm0-3zm-2 7zm-2-7zm-1 5zm-3-2zm-3 0zm0-1zm-1 3zm-2-4zm-1 3zm-1-1zm0-1zm-1 2zm-1-1zm-1 2zm0-5zm-1 5zm0-1zm0-2zm-1 5zm0-4zm-1 3zm-2-2zm-1-1zm-1 3zm0-3zm-1 2zm-1-3zm-1-1zm-2 6zm0-1zm0-3zm-1-2zm-3 6zm0-4zm0-1zm-3 1zm-1-1zm-1 4zm0-3zm-6 2zm-1 2zm0-3zm-5 2zm-2-2zm0-3zm-2 3zm0-1zm0-1zm-2 3zm-2-2zm-1 3zm-1 0zm0-3zm-2-2zm-1 3zm0-1zm-2 4zm0-2zm0-3zm-2 4zm0-1zm-3-4zm-3 2zm-4 1zm0-3zm-1 5zm0-1zm-1 1zm0-2zm0-1zm0-1zm0-1zm-1 4zm0-4zm0-1zm-1 3zm-1 2zm0-4zm-1 5zm0-2zm-1 1zm0-3zm-1 0zm-1 0zm-1 0zm-1 3zm0-1zm0-3zm-1 5zm0-4zm0-1zm-1 5zm0-4zm-1 3zm0-4zm-1 4zm0-3zm-1 2zm0-2zm0-1zm-1 1zm-1 2zm-1 1zm-2 2zm0-5zm0-1zm-1 1zm0-1zm-2 6zm-2-5zm-2 0zm-1 5zm0-2zm-2 1zm-1 0zm-3-3zm0-3zm-2 5zm0-3zm-2 4zm0-1zm-1-5zm-1 1zm-2-1zm-1 2zm-1-2zm-2 6zm-2 1zm0-5zm-1-1zm-4 1zm-1 0zm-6 3zm0-1zm-5 3zm-2-2zm0-2zm0-2zm-3 3zm0-1zm0-1zm-2 0zm-1 1zm-4 7zm1-3zm1 3zm7 1zm5-4zm0 1zm0 5zm1-3zm1 2zm1-5zm3 5zm2-2zm0 4zm1-5zm2 2zm1-3zm6 6zm3-4zm2-3zm0 4zm1 1zm2-3zm0 4zm4-5zm3-1zm0 2zm0 1zm6 2zm2-4zm0 1zm3 1zm2 2zm1-4zm1 4zm2-3zm0 2zm1 0zm1-1zm1-3zm0 4zm1-1zm3-1zm2 0zm0 5zm1-5zm0 1zm0 2zm1-4zm0 4zm1-4zm0 4zm0 1zm1-6zm0 2zm0 3zm1-4zm0 3zm2 1zm2-3zm0 3zm1 0zm1 0zm1-2zm2-2zm0 2zm0 3zm1-3zm1-3zm1 1zm0 5zm1-2zm0 1zm1-4zm0 1zm0 4zm1-5zm1 2zm3 0zm0 1zm1-1zm1 2zm0 2zm1-5zm0 3zm1-4zm0 1zm0 2zm1-2zm0 2zm0 1zm0 2zm2-4zm1-1zm1-1zm0 1zm0 4zm1-2zm1 0zm0 2zm1-6zm0 1zm1 6zm1-4zm0 3zm1-6zm0 2zm2 0zm0 3zm0 1zm3-4zm1-1zm0 4zm1 0zm1-3zm0 1zm1-3zm0 3zm0 1zm1-2zm1 0zm0 4zm1-1zm0 1zm0 1zm1-2zm1 0zm0 1zm1-3zm1-3zm0 2zm1 0zm0 4zm3-3zm2 3zm0 1zm1-1zm7-5zm1 0zm0 6zm2-6zm0 4zm2-4zm1 4zm0 1zm1-5zm0 3zm0 1zm0 1zm1-4zm1 1zm1-3zm0 1zm1-1zm0 3zm1-2zm2 6zm1-6zm0 1zm3 3zm4 0zm1-1zm0 2zm2-5zm1 1zm4 1zm3 2zm1 1zm2-2zm4-1zm2 1zm0 1zm2-3zm1 0zm0 4zm1 7zm0-1zm0-1zm-2-3zm-1 3zm-1 2zm-1-2zm-1-3zm-3 3zm-2 1zm-2-3zm0-2zm-1 0zm-2 5zm-2-1zm-2 1zm0-1zm-2-2zm-1 1zm-3 3zm-1-1zm0-3zm-3 0zm0-2zm-3 6zm0-2zm0-2zm-2 0zm0-1zm-3 5zm0-3zm-2 3zm-6-2zm-2 3zm0-6zm-1 6zm-1-3zm-2 2zm-2-5zm-2-1zm-1 7zm0-5zm-2 4zm-1-6zm-3 1zm-1 6zm0-5zm-1-2zm-1 5zm-1 0zm-1 2zm0-7zm-1 2zm-1 4zm-1-5zm-1 6zm0-4zm-2 4zm0-5zm-1 4zm0-1zm0-2zm-1 4zm0-4zm-1-2zm-2 0zm-1 3zm0-2zm-1 1zm0-3zm-1 7zm-1-3zm-1 0zm-1 2zm0-2zm0-2zm-3 3zm0-1zm0-4zm-1 7zm0-2zm-2 1zm0-5zm-2 1zm-2 4zm-1 0zm0-4zm0-1zm-1 2zm-3 3zm0-1zm-1-3zm-1 5zm0-3zm0-3zm-1 3zm0-1zm0-1zm-2 2zm-1 2zm0-3zm-1 2zm-1 0zm-1 1zm0-5zm0-1zm-1 6zm0-1zm0-4zm-1 6zm0-3zm-1-2zm-1 5zm0-2zm-1 0zm0-2zm-2 3zm0-6zm-1 2zm0-1zm0-1zm-1 4zm0-4zm-1 1zm-1 0zm0-1zm-1 1zm-1 1zm-1 4zm-1-4zm-4 2zm-1 2zm-1-6zm-1 7zm-3-3zm-6 0zm0-1zm-2-1zm-1 3zm-1-1zm0-1zm-1-1zm0-1zm-1 2zm0-3zm-1 1zm-2 1zm-4-1zm-1 2zm-3 2zm0-1zm-6-1zm0-1zm-1-2zm-2 4zm-1-1zm-1-2zm-3 0zm-2 5zm-2 0zm-2-1zm0-1zm0-4zm-1 7zm0-7zm-2 5zm-2 1zm0-3zm0-2zm-3 6zm-2-1zm3 2zm2 2zm1 1zm1-1zm0 3zm1-3zm2-1zm1 1zm0 4zm1-1zm2-6zm1 1zm0 4zm0 2zm2-1zm1-2zm4 2zm2-2zm5-2zm6 4zm1-1zm0 1zm2-6zm0 3zm1 4zm2-2zm3-5zm1 1zm0 6zm3-5zm1 1zm1-2zm0 4zm1 0zm0 1zm1-5zm0 6zm2-7zm0 1zm0 6zm4-5zm1 1zm1-2zm2 6zm1-1zm1-3zm0 4zm1-7zm0 4zm2-1zm1 2zm2-3zm0 1zm1 2zm1-4zm1 3zm0 2zm1-4zm1 0zm0 1zm0 2zm1-3zm0 3zm1 0zm2-2zm1 3zm1-3zm0 1zm0 1zm1-5zm0 3zm0 3zm0 1zm2-4zm0 3zm1-5zm0 3zm0 2zm3-6zm0 1zm0 1zm0 5zm1-6zm2 0zm0 4zm1 1zm1-3zm1 3zm2-4zm1-2zm1 5zm1-5zm0 1zm2 2zm1 2zm1-2zm3-1zm0 3zm1-4zm2 0zm1 4zm2-3zm3 1zm1-3zm1 2zm5-2zm1 4zm0 2zm2 0zm1-6zm1 1zm0 4zm0 1zm1-6zm0 6zm1-5zm0 3zm1 0zm1-4zm0 1zm1 1zm5-2zm1 1zm0 2zm1-2zm0 3zm2-4zm0 1zm1 0zm1-1zm3 1zm2 5zm1 1zm2-7zm1 2zm1 1zm0 2zm0 1zm3-2zm1 2zm0 1zm4-3zm2-3zm2 2zm0 2zm2 1zm2-5zm2 0zm1 5zm1-4zm1-1zm0 2zm1-2zm2 2zm1 4zm1 0zm1 0zm2-5zm2 2zm-1 8zm-2-1zm-2 2zm-2 1zm-3-4zm-1 0zm0-1zm-1 3zm-1 1zm-2-3zm0-2zm-1-1zm-3 6zm0-1zm-3-3zm-3 3zm0-5zm-2 6zm-1-5zm-1 1zm-1 3zm0-3zm-2 1zm0-1zm-2 3zm0-4zm-1 4zm0-1zm-1 2zm0-2zm0-2zm0-1zm-2 3zm0-1zm-3 3zm-2-1zm-1-2zm-2 0zm-2-1zm-2 3zm0-3zm-2 1zm-1-2zm-1-1zm-1 2zm-1 2zm-3-1zm0-3zm-1 2zm-2 2zm-1 0zm0-3zm-2 3zm-1 0zm-2 3zm0-3zm-1 0zm-3-4zm-3 3zm0-1zm-1 3zm-4 2zm-3-4zm-3 4zm0-6zm-1 4zm0-3zm-2 1zm0-1zm0-1zm-3 4zm-1 0zm0-4zm-2 1zm-1 4zm0-2zm0-1zm-2 1zm-1-1zm-1-2zm-1 6zm-1-4zm0-2zm-1 5zm0-3zm-1 0zm0-1zm-2 0zm-1 5zm-1-5zm-1 4zm0-3zm-1 2zm-2-4zm-1 4zm0-1zm0-4zm-1 6zm0-2zm-1 2zm0-6zm-3 2zm-1 3zm-2-1zm-1 1zm-3-4zm-3 1zm-5 1zm-1-1zm-3 0zm-2 2zm-6 3zm-3-6zm-1 2zm0-3zm-2 6zm-1-5zm-1 2zm-1-2zm-1 3zm-2 2zm-3-2zm-1-3zm-1 6zm0-2zm-1 1zm-1-5zm-1 6zm-1-1zm-2-4zm0-1zm-2 2zm-2-3zm-1 6zm0-4zm-1 4zm-1-5zm-1 3zm0-1zm-2 2zm0-3zm-1-1zm-2 1zm8 6zm0 4zm1-2zm5-1zm0 1zm1 0zm2 0zm2 0zm2-3zm5 6zm1-3zm3 1zm2-2zm0 3zm3-4zm2 5zm1-3zm1-3zm0 2zm0 4zm1-4zm0 4zm3-4zm0 1zm1-1zm0 1zm0 2zm2-2zm1-2zm0 2zm2 0zm0 1zm1-2zm3 1zm0 3zm4 1zm2-4zm1-1zm0 2zm0 2zm1-4zm1 3zm1-3zm0 3zm0 1zm4-6zm0 1zm6 4zm2 0zm0 2zm1-4zm0 1zm0 3zm2-2zm2-1zm2-2zm0 2zm0 2zm4-1zm0 1zm2-3zm0 1zm2-1zm0 1zm1 0zm0 3zm1-3zm1-3zm2 0zm1 1zm1-2zm0 2zm2 1zm2 2zm0 2zm1-2zm1-3zm1 0zm0 2zm2-1zm1-2zm0 6zm1-4zm3-1zm0 1zm1 0zm0 2zm3-2zm0 2zm1-2zm0 1zm1-4zm1 0zm0 6zm1-3zm1 1zm0 2zm3-3zm3 1zm1-2zm1-1zm0 4zm1-2zm0 4zm1-4zm1 2zm1-4zm1 3zm0 1zm1 0zm1-5zm1 3zm1 2zm1 0zm1-3zm1-1zm0 2zm0 2zm1 0zm2-1zm1 2zm1-5zm0 1zm1 2zm2-1zm1 2zm1-4zm0 3zm1 0zm0 1zm2-3zm0 3zm3 0zm1-1zm1-1zm0 1zm1-1zm1 0zm2-3zm1 2zm0 1zm0 3zm1 0zm1-3zm1-2zm1 1zm1 1zm0 3zm1-4zm1 1zm0 4zm2-2zm2 0zm0 1zm1-6zm3 1zm7 3zm1-3zm-7 13zm-1-6zm-1 3zm-1 3zm-2-1zm0-5zm-3 4zm0-3zm0-1zm-1-1zm-2 5zm-1-1zm-1 0zm0-2zm0-1zm-2 3zm-1 2zm0-2zm0-3zm-2 2zm0-1zm0-1zm-1-1zm-1 5zm0-1zm0-2zm-1 4zm-2-6zm-1 2zm-1-2zm-2 0zm-1 5zm-1-5zm-4 4zm-2 2zm-1-2zm0-1zm-1 0zm0-1zm-1 4zm0-2zm0-2zm-1 4zm0-4zm-1 4zm0-3zm0-1zm-1 5zm0-3zm0-2zm-1 1zm-2 3zm0-4zm0-1zm-1 4zm-1 0zm0-2zm0-3zm-1 6zm-1-3zm-1 3zm0-3zm-1 0zm-2 3zm0-5zm-1 5zm0-3zm-2 2zm0-1zm0-3zm-3 0zm-1 5zm-1 1zm0-4zm-4 0zm-1-1zm-2-1zm-1 1zm0-1zm-3 4zm-4-3zm-1 1zm-2 2zm0-1zm0-2zm-1 2zm0-1zm0-2zm-1 6zm-1-1zm-2-2zm-1-3zm-2 4zm0-3zm-1 2zm-1 2zm-1 1zm0-2zm-1-2zm-2-2zm-1 4zm0-1zm-3-3zm-3 4zm-3-5zm-2 0zm-2 7zm-15-7zm-3 5zm0-4zm-1 2zm-1-2zm-1 2zm-1-3zm-1 4zm0-4zm-1 1zm-1 5zm-2-4zm-2-2zm-1 5zm-6 2zm0-4zm-1 3zm-2 1zm-3-3zm0-1zm-1 1zm-1 1zm0-1zm-1 2zm0-5zm-6 6zm-2-3zm-2 0zm0-4zm-1 2zm-1 3zm-2-1zm-3-3zm12 6zm12 3zm9-2zm1 5zm2-5zm2-1zm0 6zm1-4zm2 0zm0 5zm2-7zm2 1zm1 5zm3-3zm0 2zm1-1zm0 3zm1-1zm13 1zm1-1zm1-5zm0 1zm1 0zm0 4zm2 1zm1 0zm1-1zm1 0zm1-6zm0 1zm0 4zm0 1zm4-3zm0 3zm2 1zm1-1zm0 1zm1-3zm3-2zm0 3zm1-4zm0 5zm6-2zm3-4zm0 5zm1 0zm3-3zm0 4zm1-2zm6-4zm1 1zm1 3zm0 1zm1-2zm0 3zm1-4zm1-1zm0 4zm1-1zm1-2zm1 5zm1-5zm1 5zm2-1zm1-6zm2 7zm2-6zm0 1zm1 3zm0 2zm3-3zm0 2zm2-6zm0 2zm0 3zm1-2zm2 4zm1 0zm1-6zm1 4zm3-3zm1 3zm2-1zm1-3zm0 6zm10-6zm8 0zm0 1zm3 3zm1-4zm0 5zm3-3zm3-2zm4 13zm0-3zm0-1zm-2-3zm-3 5zm-5 0zm0-3zm0-2zm-1 5zm-3-2zm-1-2zm-1 4zm0-2zm0-1zm-1 4zm0-4zm-1 2zm-2 2zm-2-1zm-1-2zm-1 3zm0-6zm-1 6zm-2 0zm-2 0zm-2 0zm0-1zm0-1zm-1 0zm-1-1zm0-2zm-3 4zm-2 1zm-1-5zm-1-1zm-1 3zm-1 2zm-1 1zm0-2zm0-1zm-1 2zm0-3zm-1 3zm-2-4zm-4 4zm-4 0zm0-5zm-1 3zm-1 1zm0-1zm-1 4zm0-4zm0-1zm-2-1zm-1 2zm0-1zm-2 3zm-2 1zm0-1zm-1-2zm-2 2zm-1 1zm0-5zm-1 4zm-2-1zm0-1zm-1 2zm0-1zm-1 2zm-1-1zm-2-1zm-1 2zm0-1zm-1-2zm-2 3zm0-1zm0-1zm-1 0zm-5-2zm-1 4zm0-3zm-2 3zm0-6zm-1 4zm-1 2zm0-4zm-1 0zm0-1zm-1 2zm0-1zm0-1zm0-1zm-1 6zm0-3zm-2 0zm0-1zm-1 1zm-1 0zm-1 3zm0-5zm-1 6zm0-4zm-1 0zm-1-2zm-1 5zm-2-1zm-1 0zm-1 1zm-1 0zm0-1zm-2 1zm-2 0zm-4-2zm-5-3zm-2 5zm0-2zm0-2zm-1 0zm-1 5zm-1-4zm-2-3zm-1 7zm-1-7zm-1 7zm0-3zm-1-3zm-1 2zm-1 1zm0-2zm-1 5zm0-5zm0-1zm-1 3zm0-3zm-3 1zm-1 5zm0-1zm-2-6zm-2 11zm2-2zm1 1zm0 2zm1-1zm1-2zm3 1zm0 3zm0 1zm1-3zm0 3zm2 0zm1-6zm0 3zm1-3zm1 4zm0 1zm2-3zm1-2zm0 1zm3 0zm1 1zm1-2zm1 0zm0 2zm1-1zm0 1zm5 2zm3-4zm1-1zm0 4zm1-2zm0 2zm0 3zm1-6zm4 0zm0 5zm1-5zm1 0zm0 1zm0 2zm2 3zm2-3zm4 1zm0 1zm1-2zm1-3zm0 1zm1 3zm2 1zm1-5zm1 1zm2 0zm2 1zm1 2zm4-4zm2-1zm0 1zm1 0zm1-1zm1 2zm1-1zm2-1zm0 2zm6 0zm1 0zm4 1zm2-1zm0 1zm1 0zm2 0zm1-2zm4 0zm4 0zm2 0zm3 1zm1 1zm0 1zm1-2zm4 2zm0 1zm0 1zm1-5zm0 3zm1-3zm0 4zm1-1zm1-3zm6 0zm0 6zm3-7zm0 3zm4-1zm3 1zm0 4zm3-1zm1-1zm1-3zm0 1zm2 0zm0 3zm3-5zm0 4zm3-2zm7 0zm0 7zm-5 0zm-3 3zm0-4zm-2 4zm0-1zm0-3zm-2 2zm0-3zm-2-1zm-6 5zm-2 2zm-1-5zm-1 3zm0-1zm-1 0zm0-1zm-1 0zm-1-1zm-4 4zm-2 0zm0-1zm-1-5zm-1 4zm-2 2zm-1-5zm0-1zm-2 3zm-4-1zm-13 0zm-2 2zm-1-1zm-5 3zm-2 1zm-1 0zm-2-4zm0-1zm-1 1zm-1-2zm-1 4zm0-5zm-3 7zm-1-1zm-1-5zm-6 5zm-3-6zm-1 6zm-1-1zm-2 2zm0-6zm-1 5zm-4 1zm-5-3zm0-1zm0-1zm0-2zm-2 6zm0-4zm-1 4zm0-3zm-1 2zm0-3zm0-1zm-1 5zm0-6zm-1 4zm-1 2zm0-3zm0-1zm-1 2zm0-1zm0-2zm0-1zm-1 1zm-1 4zm0-1zm0-2zm-1 2zm-1-1zm-1 1zm-2 0zm0-1zm0-1zm-1 4zm-2-2zm0-1zm-1 0zm-3-1zm-3 5zm0-2zm0-2zm-1-1zm-1-1zm-1 3zm0-1zm-1 4zm0-2zm0-2zm-3 2zm0-2zm-4 0zm-2-1zm-1-1zm-2 2zm-1 1zm-2-2zm-1-2zm-1 4zm5 4zm1 0zm0 1zm1-1zm0 3zm2-4zm0 4zm2-3zm1 5zm1 0zm1 1zm1-7zm0 5zm0 2zm1-5zm2 0zm0 4zm2-4zm1 3zm1-4zm2 0zm0 1zm0 1zm1 2zm1-2zm0 1zm1 0zm1 0zm1-1zm0 1zm1-2zm1-2zm0 5zm1-2zm1-3zm0 1zm1 4zm1-1zm2 2zm1-5zm0 4zm1-1zm0 1zm1-3zm0 2zm1-2zm0 1zm1-3zm0 3zm0 1zm0 3zm1-5zm0 1zm0 4zm1-2zm0 2zm1-6zm1 5zm1-4zm2-1zm0 2zm0 2zm1-1zm1 1zm1-5zm0 3zm0 2zm1 2zm1-1zm1 0zm1-5zm0 5zm3-2zm1-2zm0 4zm2-2zm3-2zm2 1zm1 0zm1 3zm3-5zm6 3zm1-1zm1-1zm0 4zm2 0zm5-5zm0 4zm1-4zm0 5zm1-2zm2 2zm1-5zm1 4zm8 1zm6-3zm0 3zm2-6zm0 2zm1 0zm1 2zm0 3zm1-6zm2 2zm1 3zm1 1zm2-4zm1 0zm0 3zm1-4zm1-1zm0 3zm6 0zm2 2zm3 0zm1-2zm0 2zm1-1zm0 2zm1-2zm2-2zm1-3zm2 2zm2 3zm1 2zm-3 0zm-1 2zm-1 1zm-1 2zm-2 0zm-2-3zm-1-2zm-2 5zm-1 2zm0-4zm-2-3zm-2 1zm-2 3zm0-2zm-1 0zm-1 4zm0-1zm0-4zm-1 2zm-2 3zm0-4zm-2 4zm-1 0zm0-3zm-2 3zm-4-2zm-2-1zm-1-1zm-2 1zm-2 3zm-2-2zm-4 0zm-2 0zm0-4zm-1 4zm-1-2zm-1 4zm0-6zm-2 4zm-1 3zm0-4zm0-1zm-2 3zm-1 1zm0-5zm-2 6zm-4-4zm-2-3zm-1 7zm-1-6zm-5-1zm-9 2zm-1-1zm-1 1zm-1 1zm0-2zm-1 3zm-1 1zm0-1zm-1 1zm0-1zm-2-2zm-1 3zm0-3zm0-2zm-1 7zm0-2zm-1-5zm-1 6zm-1 1zm0-3zm0-4zm-1 0zm-1 1zm-1 0zm-1-1zm-1 5zm0-2zm-1-1zm0-1zm-1 1zm-3 3zm0-1zm0-1zm-1 3zm-1 0zm0-4zm-1 4zm0-3zm-1 0zm0-2zm-1 1zm-1 2zm0-1zm-1 0zm0-1zm-1 1zm-1 2zm0-4zm-3 5zm0-3zm-1 1zm-1 1zm-3 2zm0-2zm-2-5zm-1 2zm-1 0zm-2-1zm-3 0zm-28 4zm-2 0zm-1 2zm-1-1zm0-1zm0-4zm-1 6zm-1-3zm0-2zm0-1zm-1 2zm-2 1zm0-2zm-1 5zm0-1zm0-3zm-2 5zm2 0zm0 1zm0 1zm1 0zm1 2zm1-1zm0 1zm0 1zm1-5zm0 2zm0 2zm1-3zm1-1zm1 2zm42-2zm1 2zm3-1zm0 3zm1 1zm1-1zm1 0zm2-3zm0 4zm2 0zm1 0zm1-1zm1-2zm1-2zm1 3zm0 1zm0 2zm1-5zm0 2zm0 1zm2-3zm0 4zm0 1zm1-4zm4-2zm0 6zm1-5zm0 3zm3-2zm1 0zm2-3zm22 7zm1-5zm0 4zm1-6zm0 2zm0 4zm2 0zm1-1zm1 1zm2-5zm0 5zm1-2zm2-1zm1 0zm0 2zm0 2zm3-3zm4 0zm6 0zm1 3zm3-6zm5 0zm0 3zm4-3zm1 3zm1-4zm1 6zm3-4zm0 5zm1-5zm0 4zm1 1zm3-5zm1 0zm0 1zm1-1zm0 3zm3-1zm1 0zm1-3zm0 3zm1-1zm1-1zm0 1zm0 3zm1-5zm1 4zm2 2zm1-2zm2-1zm1 2zm-1 5zm-1-2zm-4 2zm-3 0zm-1 2zm0-2zm-1-4zm-1 3zm0-3zm-1 4zm-2-1zm-2 4zm0-3zm0-2zm-1 1zm-2-3zm-2 3zm-1-3zm-2 6zm-1-2zm0-3zm-4 5zm-6 1zm0-6zm-1 5zm0-2zm0-2zm-1 3zm0-1zm-1-2zm-4-1zm-1 1zm-3-2zm-1 6zm-2-1zm-4-2zm-1-1zm-3-1zm-2 3zm0-2zm0-2zm-1 5zm0-1zm-1-2zm-5 2zm-12 3zm-1 0zm0-1zm-2-2zm-3 1zm-2-1zm-4-1zm-1-1zm-1 0zm-2-1zm-1 2zm0-2zm-1 5zm-2-2zm-1-2zm0-1zm-1 0zm-1 3zm-1 2zm0-2zm-1-1zm0-2zm-1 6zm0-1zm0-2zm-1 2zm0-3zm0-1zm-1 2zm-2-2zm0-2zm-1 1zm-1 6zm-2-6zm0-1zm-1 4zm-1 2zm-3 7zm3-2zm0 1zm4 0zm1 0zm1 1zm3-2zm1-3zm0 2zm0 2zm1 1zm2 0zm1-3zm4 0zm1 2zm0 1zm5 1zm1-5zm0 4zm1-6zm4 0zm1 4zm1 2zm6-4zm0 4zm3-3zm0 2zm2-1zm1 0zm6 3zm1-6zm0 5zm1-3zm0 4zm1-1zm1-5zm0 1zm0 3zm1 0zm0 1zm1-5zm4 2zm1-3zm5 3zm1 1zm2-2zm2 0zm2 0zm5-1zm1 0zm4 1zm2-1zm3 2zm0 1zm2 1zm4 0zm2-1zm0 1zm3-2zm0 1zm0 3zm1-6zm1 2zm3 2zm2-3zm1 2zm2-4zm1 3zm2-2zm-8 9zm-3 0zm-1 0zm-2 2zm0-3zm-2 5zm-1-1zm0-2zm0-1zm-1-1zm0-1zm-1 5zm-3 1zm-1-1zm-1-2zm-1 3zm-1 0zm-1-4zm-1 3zm0-1zm-1 0zm0-1zm0-1zm-1 4zm0-1zm0-3zm-1 2zm-1-2zm-2 4zm-1-2zm-4 1zm-1 0zm-1-1zm-1 1zm-12 0zm0-6zm-1 6zm0-2zm-2 2zm0-2zm-1 3zm-1-7zm-1 6zm-4 1zm0-7zm-3 3zm-1 3zm-1-1zm-1-2zm-1 1zm-1 2zm0-1zm-1 2zm0-7zm-1 7zm-3 0zm-1-3zm-2-1zm0-1zm0-1zm-1 5zm-1 1zm-4-1zm-1-2zm0-1zm-3 4zm-2-3zm-1-4zm-1 6zm0-4zm-4-1zm-2 5zm0-1zm-1 0zm0-3zm-2 2zm-3-1zm-2 0zm-1-1zm-3 3zm-2 1zm0-6zm-1 4zm11 6zm2 0zm2-2zm0 1zm1 2zm1-4zm2 3zm1-2zm2 3zm3-1zm2 0zm1-2zm1 0zm2 5zm0 1zm1-4zm0 2zm4-3zm7-1zm2 2zm2-3zm0 1zm0 2zm1-3zm0 5zm0 1zm1 0zm3-1zm1-3zm0 3zm1 0zm2-4zm5 0zm1 1zm0 3zm1-5zm0 3zm2 2zm2 1zm2-1zm1-2zm1-1zm0 2zm1 0zm2-3zm0 5zm1-5zm0 1zm1-1zm4 1zm1 2zm1-1zm0 2zm1-4zm0 2zm1 1zm1-4zm0 3zm0 2zm1-4zm1 3zm0 2zm1-3zm0 1zm0 1zm1-5zm0 5zm1-2zm1 0zm0 3zm1-4zm0 2zm0 2zm0 1zm1-3zm0 2zm2-6zm1 4zm1-3zm0 2zm0 3zm1-2zm1-2zm0 5zm1-6zm1 4zm1-5zm3 4zm6 8zm-1 1zm-1 0zm0-5zm-2 3zm-2 0zm0-3zm-1 3zm-1 0zm-2-2zm-1-1zm-1 1zm-1-1zm-1 6zm0-2zm-1 2zm0-3zm-1 2zm-2 0zm0-1zm0-3zm-2 3zm-2 2zm-1-2zm0-3zm-1 4zm-4-1zm0-2zm0-1zm0-2zm-1 0zm-1 6zm-2 1zm0-2zm0-4zm0-1zm-1 4zm0-1zm-1 2zm-1 1zm-2-3zm-2 0zm-1-3zm-2 6zm0-2zm-1 1zm-1-1zm-2 0zm0-4zm-1 6zm0-6zm-3 5zm0-3zm-2 3zm-4 1zm-1 0zm-1-2zm-6 1zm-2 0zm-2 0zm0-1zm-1 1zm-1-2zm-1 1zm-1-2zm-2 3zm0-2zm-1 0zm0-2zm-2-1zm-2 3zm-1-1zm-2 0zm16 6zm2 1zm1-2zm1 0zm0 2zm12 0zm1 0zm1 4zm1-2zm1-2zm0 5zm3 0zm1-6zm0 2zm0 1zm0 2zm2-5zm0 1zm1 2zm1 0zm2-1zm1-3zm0 2zm2 4zm0 1zm1-5zm0 2zm1 3zm3-2zm1-5zm0 1zm0 2zm0 1zm1-4zm0 5zm1-2zm1 1zm0 2zm1-5zm1 1zm0 3zm0 1zm1-4zm2 2zm3 0zm0 2zm2-4zm0 1zm2 1zm1 0zm1 0zm0 1zm0 1zm1-2zm1-4zm0 5zm1-2zm1-2zm0 4zm2 0zm0 1zm2-6zm3 1zm0 4zm-1 3zm0-1zm-2 4zm-1 1zm0-4zm-1 4zm-2-4zm0-1zm-2 6zm0-3zm0-1zm0-1zm-1 5zm-1 0zm-1 1zm0-4zm0-2zm-1 1zm-1 5zm0-3zm-1 2zm0-5zm-1-1zm-2 7zm0-3zm0-1zm-1 2zm0-3zm-1 5zm0-4zm-1-2zm-1 4zm0-1zm-2 1zm0-2zm-2 1zm0-4zm-1 7zm0-1zm0-1zm-1 1zm0-3zm0-1zm-1 0zm-1 0zm0-1zm-1 5zm-2 1zm0-2zm0-1zm0-4zm-2 2zm-2 4zm-1 1zm0-2zm-2 0zm-1 1zm0-2zm-1 0zm-1 1zm0-2zm0-1zm-3 1zm-2 3zm0-5zm-2 1zm6 8zm1-1zm1 1zm1-1zm3 3zm2-1zm1 0zm0 3zm1-5zm2 0zm0 3zm0 1zm1-3zm0 3zm2-1zm1-1zm0 1zm0 1zm1-4zm0 3zm1-4zm0 1zm0 1zm0 3zm2-2zm0 3zm4-5zm0 1zm0 3zm1-5zm2 4zm2 0zm0 1zm1-1zm3-5zm1 4zm1-2zm3-1zm-11 6zm-6 2zm0-2zm-6 1zm-3-1zm-15 6zm-4 1zm-1-1zm-4 6zm0 1zm1-5zm2 6zm1-2zm1-1zm1-1zm1-1zm2 0zm0 3zm2 0zm1-3zm1 3zm1-2zm0 1zm1 1zm-1 5zm0-3zm-1 0zm-1 4zm-1 1zm0-3zm-1 4zm0-2zm-1 1zm-2 1zm0-5zm-4 2zm-2-2zm7 7zm2-1z"/>
<path stroke="#e0161b" stroke-width="2.8" stroke-linecap="round" d="M1282 1587zm5-1zm27-2zm7 1zm10 10zm-17 1zm-29-5zm-12 3zm-2 1zm-20 7zm20-3zm22 1zm15-1zm21-1zm33 8zm-4 4zm-19-1zm-3-1zm-47-1zm-8 2zm-2-1zm-54-2zm-2-2zm24 10zm29-1zm37 1zm20-3zm44 10zm-20 2zm-20-3zm-14 1zm-7 2zm-2-1zm-45-4zm-8 6zm-10-5zm-3-1zm-31 2zm-5 10zm12 0zm28 0zm10 0zm3-3zm3-3zm5 2zm20 0zm0 4zm60-6zm3 7zm9-3zm15 5zm-6 3zm-4-3zm-12 0zm-48 1zm-12 2zm-4 1zm-10-5zm-3 3zm-23-1zm-54 8zm28 0zm14 3zm32-4zm11-2zm23 1zm11 1zm36-1zm7 12zm-5-7zm-24 4zm-20-4zm-2 3zm-31-2zm-10 3zm-7-3zm-14 2zm-59 0zm16 8zm70-2zm43 1zm5-2zm2 4zm26 9zm-12-2zm-20-3zm-38 1zm-10 0zm-24 2zm-21-2zm-4-2zm-14 3zm5 6zm58 3zm10-2zm73-4zm-51 14zm-18-6zm-52 13zm6-2zm33-4zm15 1zm21 4zm5-1zm2-5zm2 5zm1-2zm11 2zm-44 3zm-19 2zm0-1zm-2 3zm-31-2zm-3 5zm16 2zm5-2zm34 4zm25 1zm52 7zm-41-6zm-14 1zm-27 2zm-12-1zm-21 1zm30 6zm27 5zm67 0zm2 1zm-101 5zm-59-5zm0-1zm-6 2zm-2 2zm55 4zm2 1zm5-2zm12 3zm14 3zm35 3zm-12 4zm-50-2zm-2-3zm-7-1zm-1 12zm11 1zm14 1zm16-6zm1 2zm8 2zm2-4zm1 2zm6-1zm25 2zm20-1zm0 10zm-60 0zm-3 1zm0-4zm-18-2zm-16-1zm42 8zm35 4zm15 2zm11-2zm-23 7zm-2 6zm1 0zm14 0zm6-4zm-2 8zm-3 1zm-13 4zm-2-1zm-9-1zm-1-1zm-10-2zm-2 21z"/>
<rect x="1187.5" y="1567.1" width="240.1" height="240.3" fill="none" stroke="#333" stroke-width="1.5"/>
<text x="1310.8" y="1556.5" font-size="32.4" text-anchor="middle">E4</text>
<rect x="1439" y="1567.1" width="239.8" height="240.3" fill="#fff"/>
<path d="M1463.1 1567.1V1807.4M1491.6 1567.1V1807.4M1519.7 1567.1V1807.4M1548.1 1567.1V1807.4M1576.7 1567.1V1807.4M1605.5 1567.1V1807.4M1634.4 1567.1V1807.4M1662.9 1567.1V1807.4M1439 1577.8H1678.8M1439 1620.9H1678.8M1439 1663.8H1678.8M1439 1706.9H1678.8M1439 1749.8H1678.8M1439 1794.4H1678.8" stroke="#e6e6e6" stroke-width="1.3"/>
<path stroke="#bebebe" stroke-width="2.4" stroke-linecap="round" d="M1535 1581zm2-2zm2 1zm8-2zm3 3zm1-1zm0 1zm0 1zm3-1zm2-5zm0 4zm1 0zm4-2zm40 10zm-1 0zm-3-2zm-18-1zm-2 4zm-2-3zm-2-1zm-3-2zm-4 4zm-7-4zm-1 5zm0-1zm0-5zm-1 4zm0-1zm-2-1zm-2 3zm-1 0zm-3-1zm0-2zm-1 2zm0-3zm-6 4zm-2 1zm-2-3zm-6-2zm-1 5zm-4-1zm-42 8zm1 0zm23-5zm14 6zm2-7zm0 7zm4-3zm2 3zm2-3zm1-3zm2 0zm2 2zm1 0zm1 1zm0 1zm0 1zm1-1zm2 0zm4-4zm0 3zm1 1zm4-2zm1-2zm2 3zm1-3zm0 1zm2 4zm1-5zm4 2zm0 1zm2 0zm1 1zm2-1zm2-1zm1 2zm2 2zm3-5zm1 1zm2 3zm3 0zm1 1zm1-4zm3 3zm5-4zm0 2zm1-4zm0 2zm0 2zm4-4zm3 6zm5-3zm1 3zm1-4zm0 3zm2 1zm0 1zm1-6zm0 6zm57 7zm-3-1zm-18 0zm-10-1zm-5 0zm-2 2zm-14 0zm0-4zm-3-2zm-1 3zm0-2zm-4 5zm-4-3zm-2 1zm-4-4zm-2 5zm-2-4zm-1 3zm-1-3zm-1 2zm0-1zm-1-1zm-2 3zm0-1zm-2-3zm-1 4zm-3 2zm-1-6zm-2 4zm-1 2zm0-4zm0-1zm0-1zm-1 3zm-2 1zm-8 0zm0-4zm-2 5zm0-2zm-3 3zm0-3zm-4 3zm0-7zm-2 6zm0-4zm-2 1zm-1 0zm-2 0zm-3 3zm-4-1zm0-2zm-2-2zm-2 6zm-2-6zm-4 3zm0-1zm-1 1zm-6 1zm-1-3zm-2 2zm0-1zm-1 0zm-2 3zm-2-1zm-1-1zm-4 1zm-1-2zm-1-2zm-2 6zm-2-5zm-4 2zm-2 0zm-4 2zm-3-4zm-1 4zm-3-1zm-1-3zm-2 1zm-1 2zm-8-2zm-1 4zm-3-5zm-2 2zm-1 1zm-6 1zm-6-2zm-1 3zm0 6zm3-5zm0 4zm3 0zm0 1zm1-3zm1 3zm1-1zm1 0zm6 1zm9-3zm1 4zm4-3zm1-4zm3 4zm0 1zm2-3zm2 4zm1-4zm0 2zm1-2zm0 2zm1-4zm0 2zm0 3zm1-3zm0 1zm1 2zm1-4zm0 2zm2 1zm0 2zm2-3zm1 0zm1-1zm5 4zm2-4zm1-1zm4 4zm1-4zm0 6zm2-4zm0 1zm10 2zm2-2zm0 2zm1-3zm2 1zm2 0zm0 3zm14-6zm0 2zm1-2zm0 1zm0 1zm2-1zm2 3zm2-5zm0 4zm0 2zm5-5zm3 3zm1 0zm1-3zm1 1zm2-2zm0 4zm1-1zm0 3zm1-3zm2 3zm1 0zm1-4zm2 5zm1-4zm1-1zm1 0zm0 1zm1 2zm1-4zm0 5zm1-4zm0 2zm1-2zm0 4zm7-4zm4 0zm1 4zm2-5zm1-1zm0 3zm10 3zm7-4zm2-1zm2 2zm4 1zm2-2zm3 0zm0 2zm1-2zm1-1zm0 5zm1-5zm1 0zm1 2zm1 0zm0 2zm8 1zm2-1zm1-2zm1 0zm0 1zm1-2zm0 3zm1-5zm0 1zm2 1zm0 1zm1-1zm0 1zm3 0zm3 2zm3 0zm2-4zm0 5zm-4 2zm0-1zm-7 3zm-7-2zm-1 0zm-6 1zm-1 0zm-2-1zm-3 1zm-1-2zm-2 0zm-1 1zm-6 1zm-1-1zm-5 3zm-2 0zm0-1zm-5 3zm-2 0zm0-3zm-3-3zm-3 7zm-6-5zm-1 3zm-2 1zm-2-6zm-2 3zm-1 3zm-1-1zm0-2zm-1 1zm0-3zm0-1zm-1 0zm-1 0zm-1 6zm0-1zm0-3zm-1-1zm-1 5zm0-3zm-2-1zm-2 2zm-1 0zm-3 2zm0-1zm-1-1zm-1 2zm-2-2zm-1 0zm-2 1zm-1 0zm-1 0zm0-4zm-1 6zm0-4zm-9 3zm-2-5zm-1 2zm-3-1zm-14-2zm-4 7zm-8-5zm0-1zm-1 5zm-2-5zm-1 4zm-1-2zm-1 2zm-3 0zm-1 1zm-1 0zm0-5zm-1 3zm-1 2zm-1 0zm-1 1zm-1-1zm-1-2zm-1 1zm-1 2zm0-6zm-2 4zm0-1zm-1 2zm0-2zm-1-2zm-1-2zm-2 5zm-2-2zm-1-1zm-2 0zm-1 5zm-5-5zm-4 3zm-4-2zm-3-1zm-11 3zm-2 1zm-1 0zm-3 0zm-10-6zm-2 5zm0-1zm0 6zm13-1zm2 5zm1-5zm0 3zm4-1zm1-3zm1 3zm5-3zm1 3zm2-4zm7 0zm0 4zm1-1zm7 4zm1-5zm0 3zm0 1zm2 0zm4-3zm0 3zm2-6zm1 3zm0 2zm1-2zm3-1zm1 2zm1 0zm1-4zm3 5zm1-2zm0 3zm1-5zm0 5zm2-4zm0 4zm2-6zm0 6zm2-5zm1 1zm0 3zm3 1zm2 0zm2-3zm2 3zm1-2zm2 2zm5-4zm0 3zm0 2zm2-7zm1 5zm1 1zm2 0zm2-4zm4 2zm2-1zm3-1zm1 1zm1-2zm4-1zm1 6zm1-3zm0 1zm1 2zm1-3zm0 1zm5-2zm1 0zm2 0zm0 3zm2-2zm0 1zm1 1zm0 1zm0 1zm1-5zm2-2zm2 4zm1 0zm0 1zm1-3zm0 4zm1-5zm1-1zm1 6zm1-1zm1-2zm1-2zm0 1zm2 1zm1 1zm5 1zm2-3zm1-2zm0 6zm1-4zm2 0zm0 5zm1-6zm1-1zm0 1zm1 4zm3 1zm2-5zm7 3zm1 3zm3-2zm4 4zm-8 0zm-1-1zm-5 4zm0-2zm-1 3zm-1-2zm-2-4zm-1 3zm-2 2zm-1 1zm-1-1zm-2-5zm-2 7zm-5-2zm-2 1zm-3-3zm-1-2zm-6 1zm-1-2zm-1 4zm0-1zm-1-2zm-2-1zm-3 3zm-2 2zm-1 0zm0-1zm-1-2zm-2 3zm0-1zm-1-3zm-3 5zm0-2zm-1 1zm0-1zm-3 1zm-1 0zm-1 2zm0-1zm-1-3zm0-2zm-2 6zm-1 0zm0-6zm-3 5zm0-2zm-1 0zm-3 2zm0-1zm-3-3zm-1 2zm-1 0zm-2 1zm0-1zm-1 2zm-2 1zm-1-1zm-1-2zm-1-1zm0-1zm-2-1zm-3 3zm0-3zm-1 0zm-2 0zm-7 5zm0-1zm0-3zm0-2zm-1 2zm-2 4zm-1 0zm0-2zm-2-1zm-1 3zm-1 1zm0-1zm-1-5zm-1 4zm0-2zm-1 3zm0-4zm0-1zm-1 2zm0-2zm-1 0zm-3 2zm-1-1zm-1 4zm0-2zm-1 0zm-1 2zm-3-6zm-4 1zm-2 3zm0-3zm-4 3zm-1-2zm-8 0zm-1-1zm-1 3zm-4-1zm-5 1zm-4-1zm-1 4zm0-7zm-6 7zm-2-7zm-8 6zm-5 5zm1-3zm8 0zm4-1zm0 5zm4 0zm2-3zm0 2zm0 1zm2-2zm9 0zm3-1zm0 2zm8-1zm3 0zm3 3zm3-6zm1 1zm3 0zm2 6zm4-5zm4-2zm4 6zm1-1zm2 1zm3-6zm1 3zm1 0zm1-1zm0 2zm5 2zm1-5zm4-1zm1 6zm1 1zm1-4zm0 2zm4-4zm2-1zm0 3zm2 1zm2-4zm2 6zm1-6zm0 1zm1 1zm0 3zm2-1zm0 2zm1 0zm4-3zm0 1zm1-2zm0 3zm1 0zm1-4zm2 0zm3 2zm1 3zm1-5zm1 2zm1-3zm0 2zm0 3zm0 2zm2-2zm4-1zm2-3zm1 3zm1-4zm3 2zm0 1zm5-1zm1-2zm4 1zm0 1zm4 1zm7 2zm4 1zm4-4zm1 0zm1-1zm0 4zm1-4zm2 4zm1 2zm4-4zm0 3zm1-5zm5 5zm2-1zm2-2zm1 2zm3 0zm-1 2zm-5 2zm-1 1zm-2 2zm-15 2zm0-6zm-3 4zm0-1zm-4 0zm-2-3zm-2 3zm-1 2zm-4-2zm-1 2zm0-1zm-4 0zm-1-1zm0-3zm-7 1zm-3 1zm-4 1zm-1 1zm-1 2zm0-3zm-1-4zm-3 6zm0-4zm-1 4zm-1-4zm-3 2zm-1 1zm-2-4zm-1 1zm-1-2zm-3 5zm0-2zm-1 0zm0-2zm-1 0zm-6 0zm-1 2zm0-1zm-3 4zm0-1zm0-5zm-2 2zm-1 5zm-3-1zm-4-3zm-1-1zm-1-1zm-3 0zm-1 4zm-1-2zm-2 0zm0-1zm-2 3zm0-4zm-1-1zm-2 5zm-2 2zm-1 0zm0-4zm-1 2zm-3 0zm-4 1zm0-2zm0-1zm-3 2zm-2-2zm-7 2zm-2-3zm-3 2zm-2-3zm-1 2zm0-2zm-7 6zm-2-5zm-2-2zm-2 6zm-4-2zm-4 1zm-2-1zm0-3zm-1 2zm-5 3zm0-2zm0-1zm-1-2zm-1 3zm-5-1zm-1-1zm-3 9zm1 0zm7-2zm0 4zm3-5zm1 5zm1-5zm1 1zm0 3zm2-4zm2 6zm3-4zm5 3zm2-1zm2-1zm7 1zm5-3zm1 3zm1-3zm1 5zm6-5zm0 1zm3 2zm2-2zm0 2zm1 1zm1 1zm1-3zm7-1zm1-1zm1 1zm3 3zm1 0zm2-1zm2 0zm3 0zm1-2zm3 4zm1-7zm0 7zm1-1zm1-3zm1-1zm1 3zm1-4zm2 0zm1 4zm2 0zm4 0zm6 0zm1-2zm1-1zm1 2zm8 2zm0 1zm1-5zm5 3zm1 0zm1 0zm1 1zm1-3zm1-1zm2-1zm0 1zm2 4zm1-5zm3 3zm0 1zm2-1zm1 1zm2-4zm1 4zm4-1zm3 2zm3-5zm0 1zm2 1zm0 3zm9-6zm0 2zm0 2zm3-3zm1 3zm12-4zm1 6zm0 1zm2-4zm1-3zm1 5zm1-3zm0 1zm-1 8zm-1-2zm0-1zm-2 5zm-1 0zm-1-2zm-2-3zm-4 4zm-1 0zm0-5zm-1 4zm-1-4zm-1 1zm-2 5zm0-1zm0-2zm-1 4zm-1-2zm-1 1zm-1 1zm-4-1zm-1 0zm-3 0zm0-5zm-3 5zm-3-5zm-6 1zm-1 2zm-3-2zm-2 0zm-1 4zm0-3zm-1-1zm-5 3zm-3 0zm-7 2zm-2 0zm0-3zm-4-2zm-1 5zm-2-1zm-6-1zm-2-2zm-3 0zm-1 3zm-4-1zm-3-4zm-8 2zm-2-1zm-3 4zm-3-1zm-1-4zm-1 2zm-1 0zm-6 1zm-1 1zm-2 1zm-3-2zm-4-3zm-4 5zm-1-2zm-1 1zm-1-1zm-3-1zm-2-3zm-1 3zm-7-3zm-3 3zm-2 3zm-1-6zm-3 2zm-2-2zm-4 5zm0-2zm-2 2zm-2 0zm-6 1zm-1-4zm-3 4zm-2-5zm7 8zm2 3zm1-1zm1 2zm2-1zm2 0zm1-4zm3 3zm0 2zm4-6zm0 2zm1-1zm2 6zm1-2zm2-3zm1 4zm2-1zm3 2zm2-4zm0 1zm4 2zm2-1zm0 1zm8-3zm1 2zm1 1zm2-6zm2 4zm1-1zm2 2zm12-4zm0 1zm0 1zm0 3zm1-4zm2 1zm1 3zm1 1zm1-1zm3-6zm0 6zm2-2zm1 1zm1-4zm1-1zm1 4zm1 0zm0 1zm3-4zm0 3zm1 1zm1 0zm1 1zm3-6zm1 7zm1-4zm4-1zm0 1zm0 2zm1-2zm5-3zm0 3zm2-3zm0 3zm0 1zm6-1zm2 3zm5-4zm1 3zm1-2zm1 3zm6-3zm5 2zm0 2zm2-3zm1 2zm1-1zm4-4zm2 2zm0 2zm2-2zm3 1zm2 0zm1 1zm1-2zm0 3zm1-6zm3 6zm2-2zm3 2zm2-2zm4-1zm1 0zm0 3zm5-4zm-4 8zm-1 2zm-3 0zm0-4zm-2-1zm-2 5zm0-1zm-1 2zm-3-2zm-1 2zm-3 0zm0-1zm0-4zm-1 4zm-1-1zm0-3zm-2 4zm0-3zm-3 4zm0-6zm-1 6zm0-4zm-2 0zm-1 3zm-1-4zm-5 5zm0-3zm-2 3zm-1 1zm0-2zm-2-2zm-1 3zm0-2zm-2 1zm0-3zm-3 1zm0-2zm0-1zm-2 6zm0-2zm0-4zm-2 4zm-6 2zm-2-6zm-2 1zm-1 5zm0-6zm-2 7zm0-1zm0-1zm0-2zm-5 3zm-2-5zm-3 0zm-2 2zm-5-2zm-3 0zm-2 3zm-1-2zm-4 3zm-5 2zm-24-6zm-3 1zm-2-1zm-1 4zm-1 1zm-1 0zm-3-5zm-2 2zm-5-2zm-6 4zm-1 1zm-2-4zm-1 1zm-1-3zm-3 2zm-2 2zm-3 0zm-1 1zm-1-3zm-2 3zm-3-3zm-3-2zm-1 1zm14 8zm2-2zm0 2zm6 1zm6-1zm4-1zm0 1zm5 5zm1-5zm0 4zm4-3zm2 0zm0 1zm0 1zm1-2zm0 1zm5 2zm2 1zm14-6zm5 5zm1-5zm1 5zm1-3zm1-1zm0 2zm3-1zm0 1zm6-1zm16 0zm1 0zm1 0zm0 2zm1-2zm1 3zm1 1zm4-3zm4 0zm1-1zm0 2zm5-5zm0 4zm2 1zm6-2zm1 0zm4-2zm2-1zm0 5zm5-4zm1 2zm1 1zm2-4zm4 1zm1 2zm1-2zm0 2zm2-2zm2 5zm1 1zm2-4zm1 3zm3-1zm1-5zm0 3zm1-1zm1-1zm6 3zm4-1zm-5 6zm-8 2zm-6 0zm-2 0zm-1-4zm-1 3zm-1 1zm-2-2zm-1 1zm-2 2zm-1-3zm-2 3zm-3-3zm-3-2zm-1 2zm-5-2zm-1 4zm-1 0zm-9 2zm-2-4zm-1 2zm-2 3zm0-3zm-1 0zm-1 1zm0-5zm-1 4zm-1-1zm-1 1zm-3 0zm0-3zm-4 4zm-1 2zm-1-3zm-2 1zm-1-4zm-2 3zm-1 1zm0-2zm-10 2zm-1 0zm0-1zm0-2zm-2 1zm0-2zm-1 3zm0-1zm-1 2zm0-5zm-1 7zm0-2zm-1-3zm-2 3zm0-3zm-3 2zm-1-3zm-1 4zm-1 1zm0-1zm0-2zm0-3zm-1 3zm-1 0zm0-2zm-7 3zm-3 1zm-4-4zm0-1zm-1 0zm-2 3zm-3 1zm-3 0zm-4-4zm-1 3zm0-3zm-1 7zm-2-2zm-3 1zm-1 0zm-4 1zm1 3zm3-2zm0 5zm1-2zm2 3zm5-3zm0 3zm2-6zm3 1zm3 2zm2-3zm0 3zm3 0zm0 3zm4-2zm1-5zm0 5zm3-4zm2 3zm1-2zm1 0zm2 1zm1 4zm5-6zm4 6zm5-7zm7 0zm5 2zm0 1zm2 0zm1-2zm0 1zm1 1zm1 4zm2-7zm0 2zm0 3zm2-4zm6 3zm1 1zm2-4zm5-1zm3 7zm5-6zm5 0zm1 1zm1 4zm5-4zm0 3zm0 1zm2-1zm1-4zm2 2zm0 1zm2-2zm0 1zm0 2zm0 1zm1-3zm2-2zm1 4zm4-4zm0 5zm5-1zm2 0zm0 2zm2-5zm1-2zm4 3zm5-2zm1 10zm-12-2zm-9 0zm0-2zm-4 4zm-8-2zm-1-2zm-1 4zm-1 0zm0-3zm-17 4zm-1-5zm-5 0zm-7 6zm-1-2zm0-3zm-1 1zm-6 2zm-3 2zm-5-1zm-4 1zm-10-6zm-2 2zm-1 4zm0-5zm-1 0zm-1 1zm0-1zm-2 4zm0-4zm-1-1zm-5 2zm-1 4zm0-3zm-5 3zm-1-1zm0-3zm-2 3zm0-3zm-1 1zm-2 4zm0-5zm-3 2zm0-4zm-2 7zm-1-6zm-1 4zm-2 2zm-1-6zm-2 5zm0-2zm-3-2zm3 6zm2 0zm5 0zm3 0zm0 3zm1 0zm1 3zm2-6zm0 3zm0 1zm0 2zm2-4zm0 2zm5-4zm3-1zm0 6zm2-1zm2 0zm7-4zm2 2zm1 2zm1-5zm0 3zm2-2zm0 5zm2-5zm4 0zm1 6zm5-5zm4-2zm6 3zm1-1zm2-1zm2 0zm3 3zm2 3zm5-1zm1-2zm4-2zm0 4zm9-3zm1-1zm1-1zm7 0zm0 4zm2-3zm0 1zm0 3zm1-5zm3 3zm2-1zm1 1zm3-3zm8-1zm0 6zm2 0zm3-5zm0 5zm4-4zm4 2zm0 2zm1 7zm-1-1zm0-3zm-1 2zm-4 0zm-2-3zm-8 2zm-3 2zm-3-1zm-6-1zm-5-2zm-1 4zm-1-1zm-2-1zm0-3zm-13 1zm-2 2zm-2 1zm-2 2zm0-1zm0-3zm-8 4zm-1-3zm-2 0zm-1 4zm-3-1zm-17-1zm-3 2zm-2-5zm-1-2zm-2 3zm0-1zm-1 2zm-3 2zm0-2zm-1 0zm-6 2zm0-6zm-1 7zm-1 0zm-1-5zm-1 4zm-3-5zm-1-1zm-4 4zm-1 0zm-1 3zm-3-5zm-1 1zm-1 0zm0-1zm-3 1zm-32 2zm-3 1zm0-3zm-1 2zm0-2zm-4 4zm0-2zm0-2zm-1 0zm3 10zm1-3zm0 1zm5-2zm1-1zm41 3zm3-3zm2 4zm0 1zm1-4zm1 2zm3 0zm1 1zm4-4zm1 1zm0 1zm0 1zm1-2zm2 1zm1-2zm1 4zm2 1zm4-3zm2-3zm21 0zm3 1zm6 1zm4 0zm2-2zm2 4zm1 1zm3-3zm7 0zm6 3zm5-4zm0 5zm1-3zm8-1zm3 1zm4 1zm1 3zm1-2zm6-4zm4 0zm0 7zm-4 5zm-2-4zm-2 3zm-5-2zm-1 3zm-2-3zm-6 2zm-10-4zm-1-1zm-1 4zm-5 0zm-1-2zm-2 2zm-2-3zm-2 2zm-2-3zm-3 1zm-4 2zm-9-2zm-1 2zm-1 0zm-1-1zm-8 4zm-3 0zm-6-3zm-1 1zm-4-1zm-2 2zm-4-4zm-1 1zm-1 3zm0-2zm-1 1zm0-4zm-1 4zm-1 2zm-3-3zm-2-1zm-1 5zm0-2zm-1-2zm-1-1zm-1 3zm0-2zm-1 2zm-6 0zm9 9zm1 0zm2-4zm1-3zm0 1zm0 2zm1-1zm2-2zm1 2zm1-1zm0 4zm3-2zm0 3zm1 0zm6-5zm0 4zm2-1zm1-1zm3-1zm4 4zm4 0zm9-1zm1-1zm1 1zm0 1zm3 0zm3-2zm1-2zm3 2zm1 2zm3-4zm2 0zm1-1zm2-1zm0 1zm0 1zm7-2zm3 5zm7-4zm3-1zm0 5zm1 2zm12-1zm3-5zm0 3zm4-3zm-4 7zm-8 4zm-1-3zm-5 0zm-2 5zm0-2zm-3 0zm-1 0zm-1 1zm-1-2zm-3 0zm-3 0zm-6 2zm-12-4zm-4-1zm-3 4zm-1-5zm-1 2zm-1 3zm0-4zm-3 5zm0-4zm-1 1zm-1-2zm-1 1zm0-1zm-2 3zm-2 2zm0-3zm-5 1zm-3 0zm-6-3zm-2 1zm-2 1zm0-1zm-2 0zm0-1zm-1 6zm-5-3zm-3 3zm0-6zm-1 3zm-1-3zm0-1zm-8 7zm-2-1zm8 2zm1 2zm4-2zm7 0zm1 5zm1-4zm0 2zm1-4zm0 4zm3 2zm1-2zm1 2zm1 1zm4-3zm4 0zm1-3zm0 2zm2-2zm0 1zm4 1zm2-2zm2 0zm3-1zm7 7zm2-3zm5-1zm0 2zm2-2zm1 1zm0 2zm1 0zm1-1zm2 0zm1-2zm0 1zm4-3zm1 3zm0 3zm1-3zm0 1zm0 1zm1-1zm2-2zm2-1zm0 3zm1-1zm2-3zm0 1zm1 1zm1-1zm1 4zm1-4zm1-2zm0 7zm1-5zm2 2zm1-2zm2-2zm0 5zm3-3zm2 1zm3 4zm1 7zm0-6zm-1-1zm-1 1zm-1-1zm-3 3zm-1 3zm0-1zm-4-2zm-1 1zm-1 3zm0-6zm-5-1zm-1 7zm-1-1zm0-3zm-3 1zm0-3zm-1 5zm-1 1zm0-1zm-4-3zm-2 3zm-1-2zm0-1zm-1 3zm-3 1zm-1-4zm-1 1zm0-2zm-2-1zm-4 5zm-3-4zm-1-1zm-1 4zm-1 0zm-2-3zm-1-1zm-1 2zm-2-1zm-1 3zm-1-2zm-1-3zm-2 3zm-2-2zm-1-1zm-2 2zm-3 3zm-1 0zm-6-3zm-5-1zm15 7zm9 1zm8 3zm1-3zm3 2zm4-3zm1 6zm4-2zm1 0zm1-3zm0 1zm0 3zm3-3zm3 2zm2-5zm3 6zm1-5zm0 2zm0 1zm1-3zm4-1zm0 6zm1 0zm1-3zm0 1zm0 1zm1-3zm1 2zm2 0zm1 3zm1-1zm2-6zm0 5zm0 2zm1-5zm0 3zm2-1zm0 1zm5-3zm0 4zm0 3zm0-1zm-4 6zm-1-3zm-1 0zm-1-1zm0-2zm-1 1zm-2 4zm-2 0zm-3-4zm-1-1zm-2 4zm-2 1zm-2-1zm0-2zm-1 0zm-4 2zm0-5zm-1 7zm-2-5zm-2-2zm-2 4zm0-1zm-2 3zm-1-1zm-2-4zm-5 4zm-2-1zm-1-3zm-1 0zm6 9zm1-2zm0 2zm4 3zm2 0zm1-3zm1-1zm4 4zm4-1zm1-4zm2 1zm5-2zm0 2zm1 0zm0 5zm2 0zm2-4zm0 1zm1-2zm0 3zm1-2zm3-2zm-11 6zm-9 2zm-27 11zm1-4zm1 0zm3 3zm2 0zm1 2zm1-1zm2-2zm1-2zm2 8zm0-1zm-3-1zm-1 5zm-3 0zm0-1zm0-1zm-5-3zm-3 0zm0-1zm6 7z"/>
<path stroke="#e0161b" stroke-width="2.8" stroke-linecap="round" d="M1553 1595zm58 5zm-23 1zm-4-2zm-7 2zm-24-2zm-27-1zm-33 1zm-29 3zm53 7zm38-4zm11 2zm10 2zm77 3zm-61 3zm-24 2zm-41-2zm-23 1zm-53-5zm49 8zm40 2zm76 5zm-124-1zm-17 11zm18-2zm53 2zm19 0zm38 6zm-124 3zm0-6zm2 13zm44-6zm12 3zm6 1zm17-1zm54 0zm5 0zm-13 10zm-91-4zm-9 2zm-11 9zm13-6zm11 2zm99-2zm-9 12zm-1-4zm-24 5zm-2-3zm-52 0zm-37 0zm-6 1zm-1-4zm-12 4zm24 6zm103 9zm-6 0zm-49-6zm-15 4zm-31 5zm7 3zm11 1zm75 1zm5-2zm2-4zm2 4zm-45 5zm-17-2zm-13 1zm-25 5zm3 6zm13-5zm14 5zm11-6zm55 6zm32-1zm-26 8zm-61-2zm-77 1zm-4 5zm1-1zm4 2zm72-1zm35 6zm-9 1zm-38 19zm28 4zm46 1zm-9 3zm-7 0zm-39-1zm25 9zm44 3zm-26 2zm12 14zm-28 14z"/>
<rect x="1439" y="1567.1" width="239.8" height="240.3" fill="none" stroke="#333" stroke-width="1.5"/>
<text x="1561.5" y="1556.5" font-size="32.4" text-anchor="middle">A/PE4</text>
<rect x="1690.8" y="1567.1" width="239.6" height="240.3" fill="#fff"/>
<path d="M1714.9 1567.1V1807.4M1743.4 1567.1V1807.4M1771.4 1567.1V1807.4M1799.8 1567.1V1807.4M1828.4 1567.1V1807.4M1857.2 1567.1V1807.4M1886.1 1567.1V1807.4M1914.6 1567.1V1807.4M1690.8 1577.8H1930.4M1690.8 1620.9H1930.4M1690.8 1663.8H1930.4M1690.8 1706.9H1930.4M1690.8 1749.8H1930.4M1690.8 1794.4H1930.4" stroke="#e6e6e6" stroke-width="1.3"/>
<path stroke="#bebebe" stroke-width="2.4" stroke-linecap="round" d="M1785 1581zm1 0zm3-1zm0 2zm2 0zm3-5zm3 2zm3 1zm1 0zm1 1zm1 0zm1 0zm1-4zm5 4zm4-5zm2 4zm1 0zm1-3zm0 4zm2-1zm0 2zm1-4zm1 0zm28 11zm-2-2zm-4 1zm-10 1zm-2-2zm-1-4zm-1 1zm-1 4zm-2-4zm0-1zm-4 1zm-2-1zm-1 6zm0-1zm-1-3zm0-1zm-1 1zm-1 4zm0-7zm-3 3zm-2 0zm0-2zm-1 5zm0-1zm-1-4zm-1 3zm-2 1zm-5 2zm-1-4zm-2 0zm0-1zm-1 4zm-1-1zm0-2zm-1 4zm-1-4zm-3-3zm-2 3zm-1-1zm0-1zm-1 3zm-2 2zm0-6zm-1 6zm-26-1zm-38 8zm1 0zm1 1zm4-3zm0 2zm1 0zm3-2zm2 1zm1-1zm5 1zm3 1zm0 1zm3-1zm3 1zm14 0zm1-6zm0 5zm7-1zm5-3zm0 1zm2 3zm1-3zm1-2zm2 3zm1-1zm1 1zm0 3zm1-7zm1 3zm0 2zm1-5zm0 1zm0 2zm0 3zm2 0zm2-2zm2-1zm1 2zm1-3zm1 2zm0 2zm4-2zm0 3zm1-2zm1 0zm3 1zm4 0zm1-3zm2-1zm2 0zm0 4zm5-4zm0 2zm1-3zm0 4zm3-4zm1 2zm0 2zm0 1zm2-3zm3-1zm0 4zm1-3zm0 4zm1-5zm0 4zm0 1zm1-2zm0 2zm1-6zm1 1zm1 0zm0 2zm0 1zm1-2zm1-2zm0 2zm0 3zm1-5zm0 2zm1 1zm0 1zm1-2zm0 2zm1 1zm3-1zm2-3zm4 2zm1 0zm2 1zm1-4zm0 2zm0 3zm2-4zm3-1zm4 5zm4-1zm3 2zm46 6zm-1 0zm-1 0zm-4 0zm-7-1zm-4 1zm-5 1zm-3-1zm-1 0zm-2 0zm-3 0zm-1-1zm-1 0zm-9 0zm-1 0zm0-1zm-3 3zm-1-3zm-1-3zm-4 6zm-1-5zm-2-2zm-2 1zm-1 6zm0-7zm-1 2zm0-2zm-3 7zm0-4zm-1 0zm-2 0zm-1 2zm-3 1zm-3 1zm0-1zm-1 1zm0-2zm0-2zm-1-1zm-1-1zm-1 5zm0-5zm-1 4zm0-3zm-1 1zm0-1zm-1 5zm0-1zm0-1zm-1 1zm0-5zm-1 1zm-1 4zm0-4zm-1 0zm0-2zm-1 4zm-1 3zm0-6zm0-1zm-1 6zm0-1zm0-2zm0-2zm-1 5zm0-1zm0-1zm-1 0zm0-3zm-1 5zm0-1zm0-3zm-2 3zm0-1zm-2 1zm0-2zm-2 2zm-2-5zm-2 3zm-1-3zm-1 4zm-2 1zm-2-4zm-1-1zm-4 3zm-5 3zm0-1zm-1-3zm-5 4zm-1 0zm0-2zm-1 2zm-1-2zm-1 2zm0-1zm0-5zm-1 3zm0-1zm-1 3zm0-4zm-1 5zm-1 0zm0-5zm-1 4zm0-2zm-1 4zm-1-5zm-2 4zm0-1zm-4-4zm-2 5zm-2-1zm0-2zm-1 0zm-1 4zm0-1zm0-1zm0-1zm-3 2zm0-3zm0-2zm-1 2zm-1 1zm0-3zm-1 3zm-3 0zm-1 0zm-1 3zm-1 0zm-1 0zm-2-4zm-6 2zm0-1zm0-2zm-1-1zm-2 2zm-1 0zm-2 1zm-1 0zm-1-2zm-1 4zm-1-2zm-1 1zm0-1zm0-1zm0-2zm-2 2zm-2-3zm-2 5zm0-4zm-2 5zm0-2zm-1 1zm-1-4zm-3-1zm-1 4zm-1 3zm0-2zm0-2zm-1 3zm-1-1zm-1-4zm-1 5zm0-5zm-1 6zm-5-4zm-1 0zm-2 1zm-6 7zm1 2zm0 1zm2-1zm2-6zm2 6zm1-3zm0 4zm4-3zm1-2zm0 5zm1-3zm1-2zm0 2zm3-3zm0 1zm1 0zm1 0zm1 4zm1-4zm0 3zm3 1zm0 1zm1-5zm0 1zm1 3zm4-2zm1-2zm0 1zm0 1zm3-1zm4 0zm1-3zm0 5zm1-2zm2 2zm0 1zm1-6zm0 3zm1 2zm0 1zm1-5zm0 1zm2-1zm1 0zm0 2zm0 3zm1-5zm0 3zm0 2zm1-5zm1-1zm0 3zm0 2zm0 1zm0 1zm1-4zm2 3zm1-6zm0 3zm0 2zm2-4zm1 4zm1-3zm0 5zm1-3zm0 2zm1-5zm1 3zm1-4zm0 4zm0 2zm1-2zm0 2zm1-4zm0 1zm0 2zm0 2zm1-6zm1 1zm0 3zm0 1zm2-5zm0 1zm0 1zm1-1zm0 4zm1-5zm0 4zm1-5zm0 2zm0 1zm0 1zm0 1zm2 1zm1 1zm1-6zm0 5zm1-2zm1-1zm2 3zm0 1zm1-2zm1 0zm1-5zm0 1zm2 1zm1-1zm2 4zm1-3zm4-2zm0 4zm0 1zm2-4zm1 2zm1 0zm1-1zm1 4zm1-3zm4-2zm0 4zm2-3zm2 2zm0 2zm1-3zm1-2zm0 3zm1-3zm3 3zm0 3zm1-5zm1-1zm1-1zm0 1zm0 3zm0 1zm0 1zm1-1zm0 2zm1-3zm0 2zm1-3zm0 1zm0 2zm1-3zm2 1zm0 3zm1-7zm0 1zm1-1zm0 4zm0 1zm1-4zm1-1zm0 2zm0 1zm0 2zm0 1zm1-3zm0 2zm0 1zm1-3zm0 3zm1-6zm0 3zm1-3zm0 1zm0 1zm0 4zm1-3zm0 3zm1-3zm1-3zm0 4zm0 1zm0 1zm1-5zm0 6zm2-4zm0 1zm0 1zm2-2zm0 2zm0 1zm1-1zm1-4zm1 0zm1 4zm0 2zm3-3zm0 1zm1-1zm2 1zm2 0zm1-1zm2 0zm0 3zm1-3zm0 2zm1-2zm0 1zm2-2zm0 2zm0 1zm2-3zm0 1zm0 1zm0 1zm2-4zm3 1zm1-2zm1 5zm1 0zm1-3zm0 2zm0 1zm1 1zm2-1zm2 0zm3-2zm1-3zm0 3zm0 1zm1-1zm0 1zm1 0zm1-4zm0 3zm0 1zm2-5zm0 1zm0 1zm0 1zm0 3zm1-5zm0 2zm0 2zm2-5zm0 2zm1 0zm0 2zm0 3zm1-6zm1 4zm2 0zm1 1zm3-1zm1-5zm0 3zm2-1zm0 4zm1-4zm4 1zm1 3zm1-3zm1-2zm0 6zm1-3zm0 3zm2-4zm1-1zm0 1zm0 2zm1 0zm1-4zm1 4zm1-4zm0 8zm-1 2zm-2-2zm-1 1zm-1-2zm-2 1zm0-2zm-1 1zm-2 2zm0-1zm-4 2zm0-1zm0-1zm-1 0zm-1 0zm0-1zm-3 2zm0-1zm-1-2zm-1 3zm-3 0zm0-3zm-1 3zm0-3zm-1 1zm0-1zm-1 1zm-1 0zm-1 1zm-4 1zm0-1zm0-2zm-1 1zm0-1zm-5 2zm-1-1zm-2 5zm0-1zm0-1zm0-1zm-1 0zm0-1zm-2 4zm0-5zm-1 4zm-1 1zm0-1zm0-2zm-2 2zm0-2zm0-2zm-3 0zm-1-1zm-2 4zm-1-1zm-1 4zm-1-2zm-2-4zm-1 4zm0-3zm-1-1zm-2 6zm0-2zm-2-1zm-2 2zm0-1zm0-1zm0-1zm-2-2zm-1 3zm0-2zm-1 3zm-3-5zm-2 6zm0-1zm0-1zm-1-3zm0-1zm-1 6zm0-3zm0-2zm-1 1zm0-2zm-2 4zm0-2zm0-1zm-1 0zm-1 4zm0-1zm0-3zm-1 3zm0-3zm-1 6zm0-2zm0-2zm-1 1zm0-3zm-2 2zm0-2zm-1 3zm0-4zm-1 5zm0-2zm-1 2zm0-1zm-1-1zm-1 1zm0-2zm-1 4zm0-5zm-1 3zm0-2zm-1 1zm0-1zm-1 3zm0-2zm0-2zm0-1zm-1 7zm0-5zm0-2zm-1 3zm0-2zm-1-1zm-1 5zm0-2zm-1-1zm-1 5zm-1-6zm-2 5zm0-1zm-1 0zm0-3zm-5 4zm0-5zm0-1zm-1 5zm-2 1zm0-1zm-2 1zm-1-1zm0-3zm0-1zm-2 1zm-1 5zm0-3zm0-1zm-4 2zm0-5zm-3 3zm-1 2zm-1 1zm0-4zm-1-1zm-1 1zm-1 5zm0-1zm0-4zm-1-1zm-1 6zm-1-4zm0-1zm0-1zm-1-1zm-1 1zm-1 5zm-1-3zm0-2zm-1 4zm0-1zm-1 0zm-1 3zm0-5zm-1 3zm-1-2zm0-3zm-1 3zm0-1zm-1-1zm-2 4zm-1 1zm0-4zm-1 3zm0-2zm-1 4zm-1-1zm0-3zm0-3zm-1 6zm0-4zm0-2zm-1 7zm0-6zm-1 4zm-1 0zm-1-2zm0-1zm-1 3zm0-1zm-1 2zm0-1zm0-3zm0-1zm-2 2zm0-2zm-1 5zm0-4zm-1 5zm0-3zm0-1zm-1 1zm-1-2zm0-1zm-1 4zm0-2zm-1 4zm0-1zm0-2zm0-4zm-1 7zm0-1zm0-1zm0-4zm-2 3zm0-2zm0-2zm-1 0zm-1 4zm-1-1zm-3 0zm-1-1zm-1 2zm-1 3zm0-2zm-1 1zm-1-3zm-1 1zm0-4zm-5 0zm-2 7zm-1-5zm-1 1zm0-1zm0-1zm-3 3zm0-4zm-1 6zm0-2zm-1-2zm-1 3zm-1-5zm-1 6zm-1 0zm0-5zm0-1zm-3 1zm-2 3zm-2-3zm-3 6zm-2-4zm-3 0zm0-1zm-1-1zm-5 9zm2-3zm0 1zm0 1zm0 1zm1-1zm1 1zm1 1zm0 2zm3-1zm1 0zm5-5zm0 5zm1-1zm0 1zm2 0zm0 1zm1 0zm0 1zm1-5zm1 2zm1-2zm0 1zm1-1zm0 4zm3-4zm0 3zm1-4zm0 3zm1-2zm1 0zm1 4zm1-4zm0 3zm3-4zm0 4zm1-3zm3 3zm1-3zm4-1zm0 5zm1-3zm0 2zm2-2zm0 4zm2-3zm4 3zm1-6zm0 1zm1 1zm1 3zm1-3zm0 2zm1-5zm0 5zm0 1zm1-6zm0 6zm1-5zm0 1zm0 2zm1 0zm0 2zm2-1zm2-5zm0 1zm0 3zm0 2zm1-1zm1-4zm0 2zm0 2zm0 2zm1-3zm1-1zm0 2zm0 1zm1-5zm0 3zm1-3zm0 1zm1-2zm0 6zm0 1zm1-6zm0 2zm0 1zm1 0zm0 2zm1-5zm1-1zm0 4zm0 1zm1-2zm0 3zm0 1zm1-4zm0 3zm1-5zm0 1zm1-1zm0 1zm0 1zm0 2zm1-4zm1 1zm0 1zm0 1zm0 1zm1-5zm1 2zm0 3zm1-1zm0 1zm1-5zm0 1zm1 4zm3-1zm0 2zm4-5zm0 2zm0 1zm1-3zm0 5zm1-4zm1-1zm0 1zm2 5zm4-2zm1 1zm1-4zm1-2zm2 0zm0 1zm0 1zm1-1zm0 2zm1 3zm1 0zm1-4zm1-1zm2 5zm4-2zm1 1zm2-3zm2 4zm1-6zm0 6zm0 1zm2-1zm1-4zm0 1zm0 1zm0 3zm1-4zm1-1zm1 1zm0 2zm1 1zm3-4zm0 1zm1 1zm1-4zm0 4zm0 1zm3-5zm0 1zm0 1zm1 3zm1 1zm1-4zm0 3zm1-5zm0 1zm0 5zm1-3zm1-1zm0 2zm2-3zm0 6zm2-4zm2 4zm1-5zm0 2zm1-1zm2-1zm0 1zm6-2zm0 4zm0 1zm3-1zm0 2zm1-6zm1-1zm0 2zm1-1zm0 1zm1 1zm4-2zm1 6zm1-1zm1-2zm3-3zm1 3zm1-2zm1 2zm1-2zm1-1zm0 2zm2-3zm0 3zm0 4zm1 5zm-1 0zm0-4zm-1 3zm-1 2zm0-4zm-3-1zm-2 4zm-3-3zm0-1zm-4 1zm-1 5zm0-4zm-4 3zm-1-1zm-2 0zm0-4zm-5 6zm0-4zm-1-1zm0-1zm-1 3zm-2 3zm-1-4zm0-2zm-1 5zm0-3zm0-1zm-1 2zm0-1zm-1 2zm-2-5zm-1 7zm0-3zm-2 0zm-1 3zm0-1zm-2-2zm-1 2zm-1-3zm0-1zm-1-1zm-1-1zm-1 2zm0-1zm-2 6zm0-4zm-2-2zm0-1zm-2 4zm0-1zm-1 0zm0-1zm-1 5zm0-2zm-1 0zm0-2zm-1 4zm0-2zm-1-1zm0-3zm-1 6zm0-2zm-1 0zm-1-1zm0-3zm-1 3zm0-2zm0-2zm-1 7zm0-5zm-1 5zm0-1zm-1-5zm-1 4zm-1 0zm-1-1zm0-1zm0-2zm-1 3zm-1 3zm-1-1zm-1 0zm0-5zm-5 4zm-1 2zm0-1zm0-3zm-1 2zm-1-2zm0-1zm-1 4zm0-3zm-1-1zm-3 4zm-1-1zm-2 1zm0-3zm-1 3zm0-4zm-2 1zm0-2zm-2 2zm-1-1zm-1 5zm0-3zm-2 1zm0-1zm-2 1zm0-1zm-1 3zm-2-4zm0-1zm-1 3zm-2-2zm0-3zm-1 3zm0-3zm-1 7zm0-1zm0-5zm-1 2zm0-1zm-1 4zm0-1zm0-1zm0-1zm0-1zm0-1zm-1 5zm-1-1zm0-1zm-2 2zm-1-4zm-1 2zm-1 1zm-1-1zm0-1zm-1 4zm0-1zm0-3zm0-3zm-1 6zm0-3zm0-3zm-1 6zm-1-4zm-1 3zm0-2zm-1 1zm0-4zm-2 2zm0-1zm-1 5zm0-1zm0-1zm-1 2zm0-2zm0-2zm0-2zm-2 4zm0-2zm-1 3zm-1-2zm-1 2zm0-2zm-1 1zm-1 0zm0-1zm0-2zm-1 4zm0-2zm-1 3zm0-3zm-1 0zm0-3zm-2 6zm-1 0zm0-6zm-2 3zm-2 0zm-2 4zm0-2zm0-4zm-1 5zm-2-1zm-1-2zm0-2zm-3 5zm-1 1zm0-4zm-2 4zm-3-1zm-1 1zm0-7zm-1 3zm-4 2zm0-2zm-2-2zm-1 5zm0-3zm-1 4zm-1-5zm-2 2zm0-1zm-8 2zm-1-3zm-1 2zm-1 0zm-2 5zm1 0zm2 0zm0 5zm1-2zm0 1zm2-5zm0 4zm1-3zm4 4zm2-5zm1 2zm3-2zm0 1zm1 3zm1-3zm0 4zm3-2zm0 2zm1-4zm2 2zm0 3zm3-5zm5-1zm0 1zm3 4zm0 1zm4-2zm3 1zm2-2zm3-3zm1 0zm1-1zm0 1zm0 1zm0 4zm4 0zm2-4zm0 3zm1 0zm0 1zm1-6zm1 1zm0 1zm0 1zm1 2zm1-4zm0 5zm1-6zm2 1zm0 3zm1-2zm0 4zm2-5zm0 4zm1-4zm0 5zm1-6zm1 4zm0 1zm1-3zm1 1zm0 2zm1-2zm1-3zm1 3zm0 1zm2-4zm3 1zm3 1zm0 4zm2-3zm2 1zm0 2zm2-5zm1-1zm0 1zm1 0zm1 3zm1-3zm0 5zm1 0zm1-5zm2 2zm0 1zm1-3zm0 4zm1 1zm1-5zm1-1zm0 2zm0 4zm0 1zm1-3zm1-2zm0 4zm1-1zm1 2zm1-6zm0 3zm1-2zm0 4zm1 0zm1 1zm1-6zm1 4zm2-4zm0 6zm1-7zm0 3zm1 4zm1-3zm0 2zm1-6zm0 2zm0 4zm1-5zm0 3zm1-2zm1 1zm0 1zm1-3zm0 1zm0 1zm0 1zm1-3zm1 0zm0 1zm1-1zm0 4zm1-3zm0 3zm0 1zm1-5zm0 4zm3-2zm0 2zm1-4zm1 4zm1-2zm1-2zm0 5zm2-6zm0 5zm2-4zm1 0zm0 3zm2-3zm2 3zm1 0zm1-2zm0 2zm1 1zm1-3zm0 1zm1 4zm2-5zm0 3zm1-3zm0 3zm0 1zm1 1zm2-1zm4-1zm1 2zm1-7zm0 6zm1 0zm1-4zm1 5zm1-6zm0 4zm1 0zm3-2zm1 0zm2 0zm3-2zm2 5zm1-5zm0 1zm1 0zm3 2zm1-1zm1-1zm2 1zm2 1zm1 9zm0-1zm-1-2zm-2 0zm-1 3zm-1 0zm0-3zm-1-1zm-1 0zm-2 5zm-1-3zm-1-1zm-5-1zm-3 3zm-1-2zm-1-3zm-4 4zm0-1zm-2 2zm-5 1zm-2-3zm0-3zm-1 5zm0-2zm-1 0zm-4 2zm-1 0zm0-1zm0-4zm-2 6zm0-3zm-2-3zm-1 6zm-1 1zm0-3zm-2 3zm0-1zm0-3zm-1 1zm-1 1zm0-4zm-3 0zm-1 6zm0-1zm0-2zm-4 3zm0-1zm0-2zm-1 3zm0-3zm0-4zm-1 7zm0-1zm0-3zm-4-1zm-1 0zm-1 5zm0-2zm0-1zm0-2zm0-2zm-3 1zm-1 5zm-2 1zm-1-1zm0-5zm-2 0zm-1 3zm-1-1zm-2-1zm-2 4zm-1-4zm-1 1zm-2 2zm-1 1zm0-1zm0-2zm-1 1zm0-4zm-1 6zm-1-2zm-1 3zm-2-5zm-4 2zm-1 0zm-2 0zm0-1zm-1 1zm0-2zm-2 4zm0-1zm0-3zm-1 3zm0-2zm-1 0zm-1 4zm0-1zm0-3zm0-2zm-1 3zm-1 0zm-3 2zm0-4zm-1 5zm-1-2zm0-1zm0-4zm-2 2zm0-1zm-1 4zm0-1zm-1-1zm-2 0zm-1 4zm0-5zm-3 5zm-3-5zm0-1zm-3 4zm0-1zm-1 0zm0-2zm-2 0zm-1 4zm0-5zm-1 1zm-3-1zm-3 6zm-2-5zm-2 4zm0-3zm-2 2zm-2-3zm-2 1zm-1 2zm0-2zm-1-1zm-4 2zm-2-2zm-1 3zm0-2zm-1-1zm-1 1zm-1-1zm-3 0zm-1 5zm0-2zm0-2zm-1-2zm-1 5zm-1-4zm-2-1zm-1 5zm0-4zm-1 4zm0-4zm-2 2zm0-2zm-1 1zm-2 3zm0-2zm0-3zm-1 0zm-1 2zm-5-1zm-3-1zm3 10zm0 1zm0 1zm1-1zm1-3zm0 4zm0 1zm1 0zm1-1zm9 1zm1-2zm0 1zm0 1zm1-7zm2 1zm0 3zm3-4zm0 5zm1-5zm0 2zm1 4zm1-5zm3 1zm0 3zm1 1zm5-6zm2 0zm0 3zm3 1zm0 2zm2-2zm1-1zm2 2zm1-1zm2 2zm2-5zm0 1zm1 5zm1-5zm2 2zm1-1zm2 2zm0 1zm3-4zm1 1zm1-3zm0 5zm1-4zm3 0zm2 2zm0 2zm1-4zm1 1zm1 0zm0 3zm3-3zm0 2zm0 2zm1-5zm0 5zm0 1zm1-7zm1 4zm0 1zm1-3zm0 5zm1-2zm2-3zm1 3zm0 1zm1-4zm0 2zm0 1zm0 1zm0 1zm1-6zm0 5zm2 1zm1-7zm0 2zm0 4zm1-4zm2 0zm0 4zm1-1zm0 2zm1-2zm1 2zm1-4zm1-1zm0 1zm1 1zm2-2zm2 3zm1-4zm0 4zm0 2zm3-6zm0 2zm0 3zm1-5zm1 0zm0 5zm2-6zm0 5zm1-2zm3 1zm0 1zm2 2zm2-5zm0 3zm1-4zm0 4zm2-2zm1-1zm2-1zm1 2zm1-1zm0 5zm3-6zm0 5zm0 1zm1-2zm0 1zm1 1zm1-4zm2 0zm1 3zm3-5zm1 2zm1-2zm2 5zm1-5zm3-1zm1 6zm5-5zm1 4zm2 0zm0 2zm1-2zm2-5zm1 4zm0 2zm1-5zm0 5zm3-1zm1-1zm1 0zm3-3zm1-1zm0 2zm0 4zm1-1zm1-3zm0 3zm1-3zm1-2zm0 2zm3 0zm0 2zm1 1zm2-5zm1 7zm4-4zm1-2zm1 2zm1 0zm0 1zm0 4zm-1 2zm-1 2zm-2-1zm0-3zm-1 3zm0-3zm-2 2zm0-1zm-2 3zm0-3zm-2 2zm0-1zm0-1zm-2 4zm0-2zm0-1zm-1 3zm-1-6zm-1 2zm-1 4zm0-2zm0-1zm0-1zm-3-2zm-1 6zm0-6zm-1 6zm0-4zm-1 3zm-2-3zm-1-1zm-1 2zm-2 0zm-1-1zm0-1zm-2 2zm-1-2zm-1 4zm-1-3zm0-1zm-1 4zm0-1zm0-1zm0-3zm-1 6zm0-1zm0-1zm-2 1zm0-4zm-1 5zm-1-2zm0-2zm-1 4zm0-2zm0-3zm-5 5zm0-1zm0-3zm-1 4zm0-2zm-2 2zm0-1zm-1 2zm-2-4zm-1 3zm0-6zm-2 5zm0-1zm-1 2zm-2-2zm-3 1zm-1 1zm-2 0zm-2-2zm-1-1zm-2 0zm-2 1zm-2 0zm-1 3zm0-6zm-1 2zm-1 0zm-4 4zm-1-5zm-3 2zm-2 1zm-2 2zm-1-6zm-1 6zm0-1zm0-1zm0-2zm-1-1zm0-2zm-1 6zm0-4zm-2 0zm-1 1zm-1-3zm-1 7zm0-6zm-1 6zm-1-4zm0-1zm-1-2zm-2 6zm0-3zm0-1zm0-1zm-1 5zm0-5zm-1 6zm-2-1zm-1-1zm-1 2zm0-3zm-1 1zm0-4zm-2 4zm-2 1zm-2 0zm-1-1zm0-1zm-1 3zm0-5zm0-2zm-1 5zm-2-4zm-1-1zm-1 1zm-2 0zm-2-1zm-3 5zm0-4zm-1-1zm-1 1zm-2 0zm-1 4zm0-4zm-3 2zm0-1zm-1 3zm0-1zm-3 1zm0-3zm-3 5zm-2-1zm-1 1zm0-2zm0-2zm-2 4zm0-1zm-1-1zm0-2zm-2 3zm0-2zm-1 1zm-1 0zm0-5zm-1 1zm-3 3zm-1-3zm-6 2zm0-2zm-3 1zm-1 0zm-1 3zm0-1zm0-1zm-1-3zm-2 5zm-2-5zm-4 2zm4 7zm5-2zm1 2zm0 1zm1-1zm1 0zm0 4zm1-3zm0 1zm1-1zm0 3zm1-5zm2 0zm1-1zm0 5zm0 1zm2-3zm1 1zm2-1zm5 0zm1 1zm1-2zm2 2zm2 1zm1-4zm3 3zm0 1zm3-4zm1 4zm2 1zm1-6zm4 2zm2 0zm0 2zm0 1zm1-3zm0 2zm1-2zm1 0zm0 1zm2 4zm1-6zm1 0zm3-1zm0 1zm0 4zm2 0zm9 0zm1-3zm1 3zm0 1zm0 1zm1-5zm0 3zm2 0zm0 1zm1-3zm0 3zm1-3zm0 3zm1-1zm1-4zm0 3zm0 2zm2-6zm0 1zm0 1zm0 1zm0 3zm2 1zm1-6zm0 4zm0 1zm2-5zm1-1zm0 2zm0 2zm0 1zm1-4zm0 2zm0 2zm3 0zm1-5zm0 5zm0 1zm1-5zm0 2zm0 3zm3-6zm0 3zm1-3zm1 5zm0 2zm1-3zm1-1zm1 3zm1-1zm2 1zm1-3zm2-1zm1 2zm0 1zm1-4zm0 3zm1-3zm0 2zm1 0zm0 2zm6-2zm1 1zm3 3zm1-5zm0 2zm1-3zm0 1zm0 3zm1-1zm0 1zm1 2zm1-6zm0 3zm1 3zm1-5zm0 4zm0 1zm1-1zm0 1zm1-2zm0 1zm0 1zm1 0zm1-5zm0 3zm1 2zm1-3zm0 2zm1-5zm1 0zm1 2zm2 1zm1 0zm0 3zm1-5zm1-2zm0 2zm1 4zm1-5zm0 1zm0 1zm0 2zm1-2zm1-3zm0 1zm2-1zm2 1zm1 3zm0 3zm2-5zm0 1zm1-2zm0 3zm2 0zm1-1zm1 0zm1-2zm0 5zm1-3zm1-2zm0 2zm0 3zm1-3zm0 2zm0 1zm1-2zm0 2zm2-5zm1 0zm1-1zm0 5zm1-1zm1-2zm0 2zm0 1zm1-2zm1-2zm1 2zm1-2zm0 3zm3 3zm4-1zm5-3zm4 6zm-3 0zm-10 3zm-2-4zm-1 1zm-1 3zm-2-5zm-1 6zm-1-4zm-2 1zm-1 1zm0-3zm-1 4zm0-2zm0-1zm0-2zm-1 5zm0-2zm0-3zm-1 5zm-1 1zm0-6zm-2 3zm-1-3zm-2 4zm-4-3zm-2 3zm0-1zm0-3zm-1 0zm-1 3zm-1-2zm-1 3zm-1 1zm-2-1zm0-3zm0-1zm-1 6zm0-5zm-2 3zm0-1zm-1 3zm0-3zm-1-3zm-1 5zm-1 1zm0-1zm0-2zm-1 3zm0-4zm-1 5zm-1-1zm0-1zm0-2zm-1 3zm-1-3zm0-1zm-1-1zm-1 2zm-1 4zm0-3zm-1-2zm-1 4zm0-3zm-1 4zm0-5zm-1 1zm-1 2zm-3 1zm0-3zm-1 4zm-1-2zm-3-3zm-1 1zm0-1zm-1 2zm0-2zm-1 0zm0-2zm-3 2zm-3-2zm-3 5zm-1-2zm0-1zm0-1zm-4 3zm-1 2zm-5-4zm-2 4zm0-3zm-3 0zm0-2zm-2 3zm0-3zm-2 4zm0-5zm-2 5zm-1-1zm-2 2zm-3-3zm-1-2zm0-1zm-1 0zm-20 3zm-1 4zm0-3zm-1 3zm0-4zm-1 1zm-1-4zm-1 3zm-1-2zm-2 5zm-2-1zm-1-4zm-1 1zm-1 3zm-1 2zm0-6zm-2 1zm-3-1zm-1 1zm-2 2zm0-2zm-5-1zm-4 2zm-1 1zm-2-3zm-1 4zm-1 0zm-7-2zm15 5zm4 1zm1-2zm1 1zm1 0zm4-1zm0 1zm1 2zm1-3zm3 1zm1 0zm4 4zm0 1zm1-1zm1-3zm2 0zm0 1zm1 3zm1-3zm0 3zm7-3zm13 4zm2-5zm0 5zm3-2zm1-3zm0 1zm1-3zm0 3zm0 3zm1-2zm0 1zm1-2zm1 1zm0 2zm2-3zm0 4zm1-6zm1 0zm0 3zm0 1zm0 1zm1-3zm0 1zm1 1zm1-2zm1 1zm2-2zm1 3zm0 2zm1-2zm5-4zm1 5zm3-1zm1 1zm1-1zm2-3zm4 0zm1 3zm1-2zm0 3zm0 1zm1-2zm1-1zm1 0zm1 1zm1 0zm1-1zm1-3zm0 4zm2-4zm0 3zm1-4zm2 4zm5 1zm0 1zm2-5zm0 4zm0 1zm1-2zm1-3zm5-1zm1 2zm0 1zm0 3zm3-5zm0 6zm2-1zm1-2zm0 1zm1-1zm1 0zm1 2zm0 1zm1-7zm2 2zm2 1zm1-2zm0 2zm2-2zm1 1zm1 1zm0 3zm5 1zm6-6zm0 6zm1 0zm4-2zm0 1zm1-6zm1 6zm1-6zm2 3zm0 1zm1 3zm1-4zm3-2zm1 5zm0 6zm-3-2zm-4-1zm-1 4zm0-5zm-1 6zm-2-4zm-2 3zm-1-1zm-1-3zm-1 0zm0-2zm-2 6zm-1 0zm0-5zm-2-1zm-3 6zm-1-1zm-1 0zm0-2zm0-2zm-1 1zm-2 2zm-1 2zm-1 0zm-1 1zm0-3zm-1 3zm0-3zm-1 1zm-1 0zm0-1zm-1 2zm0-1zm-1-4zm-1 4zm0-1zm-4 2zm0-3zm0-1zm-1 1zm-1-2zm-1 0zm-1 2zm0-2zm-1 4zm-1 0zm0-4zm-1 5zm0-4zm-1 5zm-1-2zm-2-3zm-2 3zm-2-4zm-6 1zm-1-1zm-2 6zm0-1zm-2-5zm-1 1zm-1 4zm0-1zm0-1zm0-3zm-1 4zm0-1zm0-2zm-2 4zm-1-3zm-1-1zm0-1zm-2 2zm0-1zm-1 5zm0-1zm0-2zm-1 0zm0-2zm-1 5zm0-5zm-1 3zm0-1zm0-1zm-2 4zm-1-2zm-1-1zm0-4zm-1 6zm0-5zm-3 4zm-5 1zm0-1zm0-1zm-1 2zm0-5zm-1 3zm0-1zm-1-3zm-2 5zm-2 1zm-1-2zm0-1zm0-3zm-1 6zm0-1zm-1 1zm0-3zm-1 3zm0-5zm-1 0zm-1 5zm0-3zm0-1zm-1 0zm0-1zm-1 5zm0-4zm0-2zm-1 6zm0-6zm-1 6zm0-2zm0-3zm-1 3zm0-3zm-1 5zm-1-1zm-1 2zm0-6zm-1 5zm-4 1zm0-4zm-1 2zm0-1zm0-2zm-2 4zm-2-1zm-1 1zm-1-1zm-1-3zm-1 4zm0-3zm0-1zm-1 3zm-2 0zm0-4zm-2 5zm0-1zm0-2zm-2-3zm-1 5zm-1-2zm0-3zm-3 7zm0-3zm0-1zm0-1zm-2 2zm-1 3zm0-2zm-1 1zm-7 7zm1 0zm1-2zm0 3zm4-7zm0 1zm0 2zm1-1zm0 1zm0 2zm0 2zm1-4zm1-1zm1 3zm1-5zm0 5zm1-3zm0 3zm3-1zm1 2zm0 1zm1-7zm0 2zm1 2zm1-2zm0 4zm1-5zm0 4zm0 1zm1-5zm0 1zm0 1zm0 4zm1-6zm1 0zm1 2zm1-2zm0 6zm2-7zm0 6zm0 1zm1-3zm0 1zm0 1zm1-5zm0 3zm0 2zm1 1zm1-5zm3 0zm0 2zm0 1zm1-4zm0 5zm1-5zm0 5zm1-4zm1-2zm0 1zm0 1zm1 3zm1-4zm0 1zm0 3zm1-5zm1 1zm0 3zm2 2zm1-6zm0 1zm1 1zm1-2zm1 4zm1 0zm1-2zm1 5zm3-3zm2-4zm0 5zm1 1zm2-6zm0 2zm1 0zm3-1zm0 1zm2-1zm2 5zm2-5zm0 6zm4-6zm1 0zm1 2zm2 1zm1-1zm2 2zm2-4zm0 5zm1-5zm2 0zm0 3zm2-1zm0 4zm1-6zm1 0zm1 0zm9 0zm3 4zm1 2zm2-6zm0 5zm1-3zm2 3zm1 0zm1-3zm1 1zm1-1zm0 1zm0 1zm0 1zm1-5zm1 1zm0 1zm0 2zm1-3zm0 3zm1-3zm0 3zm0 1zm2 0zm3-6zm0 3zm0 2zm2-2zm1-1zm1-2zm0 2zm0 1zm0 1zm1-3zm1 0zm1 3zm1-2zm1 0zm1 1zm1-1zm2 1zm6 2zm1-5zm0 1zm0 4zm1 1zm1-3zm1 0zm2-3zm3 3zm-3 7zm-1 2zm0-1zm-5 1zm-1-1zm0-3zm-1 5zm0-1zm-1 1zm-2-4zm-1 4zm-1-5zm-1 1zm-1 3zm-1-3zm-1 5zm0-5zm-1 4zm-2 0zm0-5zm-1 2zm-1 4zm0-2zm0-1zm-2-3zm-1 0zm-1 6zm-1-5zm-1 2zm-1-1zm-1-3zm-7 1zm-1 5zm-1 0zm-1-5zm-12 6zm-2-5zm-1-2zm-2 7zm-1 0zm-1 0zm-3-2zm0-2zm-4 3zm-2-1zm-1 2zm-3-2zm-2 0zm0-5zm-1 5zm0-2zm0-1zm-1-1zm-1 6zm0-7zm-2 3zm-1 2zm-4 1zm-2 0zm0-1zm-3 1zm-1-1zm0-1zm0-2zm0-1zm-5 4zm0-2zm-2 0zm-1 0zm0-1zm-1 5zm0-1zm0-1zm0-1zm0-1zm0-3zm-1 6zm0-6zm-1 5zm0-4zm-1 5zm-1 0zm0-5zm-1 1zm-1 2zm0-1zm0-1zm0-2zm-1 2zm-1 4zm-1-1zm-1 2zm-1-4zm0-1zm-1 3zm-5-1zm0-2zm0-2zm-2 4zm-1-1zm-1 3zm0-4zm-1 2zm0-3zm-1 1zm0-1zm-1 6zm0-5zm-2 3zm0-3zm-1-1zm-1 2zm-1 2zm0-2zm0-2zm0-1zm-1 6zm0-5zm-1 3zm-1 0zm0-1zm-1 2zm0-1zm0-3zm-1 3zm-6-1zm0-2zm-1 5zm0-2zm0-2zm-2 0zm-1 0zm4 7zm4 0zm1-1zm1 2zm4 0zm0 2zm2-4zm1-1zm0 1zm0 1zm0 4zm1 1zm1-3zm0 3zm1-5zm1 1zm1-2zm1 2zm1-2zm1 4zm1-2zm1 1zm2-1zm0 2zm1-4zm0 1zm2-2zm1 6zm1 0zm6-4zm1-2zm0 3zm0 2zm1 0zm1-4zm0 3zm1 3zm1-5zm1 1zm1-3zm0 2zm1 0zm0 2zm0 1zm1-3zm1-2zm0 1zm0 4zm1-3zm1 1zm0 2zm1-4zm0 2zm0 1zm1 1zm0 1zm1-6zm2 6zm1-5zm0 4zm1-4zm1 0zm0 3zm0 1zm2-2zm2-2zm2 2zm2-1zm1 0zm3 0zm0 3zm4 1zm5-3zm0 2zm1 2zm2-2zm1-2zm5 1zm1 0zm3 2zm0 1zm12-1zm1-6zm2 3zm0 3zm4-6zm0 7zm1-6zm0 6zm1-1zm1-3zm1 3zm1 0zm1-2zm1 0zm0 3zm1-6zm2 4zm1-4zm0 5zm3-3zm1 1zm2-4zm3 7zm5-6zm0 4zm1-2zm6 3zm0 3zm-2 2zm-4 1zm0-3zm-1 4zm0-3zm0-2zm-2 0zm-1 1zm-2 3zm0-5zm-3 5zm-1-5zm-2 5zm0-1zm-2 1zm-1-2zm0-1zm-3 4zm0-1zm-1-1zm-1 2zm0-2zm0-2zm-2 2zm0-2zm-1 3zm-2-2zm-3 0zm-2 1zm-3-2zm-1 2zm0-1zm0-2zm-1 1zm-8 5zm-1-1zm0-1zm-1-3zm-1 0zm-1 4zm-1-3zm0-1zm-2 4zm0-4zm-1-2zm-1 7zm-1 0zm-1-1zm-1-5zm-3 5zm0-3zm0-1zm-1 0zm0-2zm-1 5zm-2 0zm-1 1zm0-1zm0-2zm-3 1zm-1 1zm-1-1zm-1-3zm-7 0zm-3 1zm0-1zm-1 0zm-1 0zm-1 2zm-1 3zm0-1zm0-4zm-1 4zm0-2zm-1 3zm0-5zm-1 2zm-1 1zm0-2zm-1 1zm0-1zm0-2zm-1 5zm0-1zm-1-1zm-2 2zm0-3zm0-2zm-1 5zm-1 0zm0-1zm-1-1zm-1-2zm-3 1zm0-2zm-1 3zm0-2zm-2 1zm-1 1zm0-1zm-1 5zm0-4zm-2 1zm-1 1zm-1 2zm0-3zm-1 3zm0-3zm-1 1zm-2-2zm-1 0zm-1 2zm0-1zm0-1zm0-3zm-2 3zm-1 2zm-1 0zm0-3zm-1 4zm-1-5zm-4-1zm-32 5zm-2 2zm0-1zm0-2zm-1-3zm-1 1zm0-1zm-1 4zm0-3zm0-1zm-1 3zm0-2zm-1 2zm0-1zm-1 3zm0-3zm-1 1zm0 4zm1 0zm1 2zm1 2zm1-5zm0 1zm0 1zm0 1zm1-2zm0 3zm0 1zm2-4zm0 2zm0 1zm2-3zm0 3zm1 0zm34 1zm6-4zm0 2zm1-2zm0 1zm0 2zm3 1zm1-2zm1 0zm0 1zm0 2zm1-6zm0 2zm1 0zm0 2zm0 3zm1-5zm0 1zm1-2zm0 5zm2-2zm1-3zm0 4zm0 2zm1-4zm0 3zm1-2zm0 1zm1 1zm2-3zm1-1zm0 2zm1 3zm4 0zm1-4zm1-2zm0 2zm1-2zm4 0zm18 1zm2 0zm0 2zm0 1zm1 1zm1-6zm0 1zm0 3zm0 3zm1-7zm0 3zm1 1zm1-1zm0 1zm1-2zm1-1zm1 0zm2-1zm0 1zm2 2zm1-2zm0 1zm0 1zm1-2zm1 5zm3 1zm1-2zm1-3zm0 5zm1-7zm0 4zm2-2zm0 3zm1 1zm3-5zm0 4zm1-4zm0 2zm1-2zm0 3zm2-4zm1 2zm0 2zm1 2zm1-5zm3 5zm1-3zm1 2zm3-1zm2 1zm1 2zm4-5zm1-1zm0 3zm1-1zm2-2zm0 2zm0 1zm6-2zm0 2zm1-3zm0 1zm0 1zm1-1zm0 3zm2 0zm3-1zm0 2zm1-1zm0 5zm-5-2zm-3 1zm-1 2zm-3 0zm0-4zm-1 4zm-2-3zm-3 5zm0-5zm-2 4zm-1 2zm-3-7zm-4 1zm-2 6zm0-1zm-4-2zm-2 0zm0-2zm-1 4zm-5 0zm-2 0zm0-1zm-1-1zm-1-1zm-1 0zm0-2zm-2 3zm-1-3zm-2-1zm-3 6zm0-4zm-1-1zm-2 1zm-2 4zm0-3zm-3 3zm0-2zm-2 0zm-1 0zm-11 1zm-4 0zm-2-2zm-7 2zm0-2zm-2-2zm-2 2zm0-1zm-1-2zm-2 4zm-2 2zm0-1zm0-1zm0-1zm0-3zm-1 5zm-1 1zm0-1zm-1-3zm-1 3zm0-2zm-1 2zm0-3zm0-1zm0-1zm-1 5zm0-1zm-1-1zm-1 1zm0-2zm-1 2zm-1-2zm-1 4zm-19-4zm13 9zm4 1zm1-4zm1-1zm1 2zm1 3zm2-2zm1-1zm2 4zm3-1zm0 1zm1-1zm2-4zm1 3zm0 2zm1-4zm3 1zm0 1zm1-3zm2 2zm1 1zm2-2zm1 3zm3-2zm2-3zm0 3zm0 1zm2-3zm1 1zm1 1zm2-3zm0 6zm2-2zm4-1zm0 2zm2-3zm1 1zm2-1zm0 1zm1-2zm0 4zm2-3zm2 4zm1-5zm3 1zm2 0zm3-2zm4 4zm1-1zm2-1zm1 0zm1-1zm8-1zm2 1zm1 1zm4 0zm0 3zm2-5zm0 4zm2 0zm1-1zm1 0zm2 2zm2-5zm2 3zm1 1zm2 1zm1 2zm1-3zm1-4zm2 7zm-2 2zm-3 0zm-3 1zm-4 4zm-2-2zm-1 0zm0-2zm0-2zm-1 6zm-1 0zm0-2zm-1 2zm-2-1zm0-1zm0-2zm0-3zm-1 6zm0-1zm0-1zm0-1zm-1-1zm0-1zm-1 0zm-1 3zm-2 0zm-1 3zm0-4zm-2 0zm-2 4zm-1-1zm-1-1zm-1 0zm0-1zm-1 0zm-1 1zm-1 1zm-3 1zm-1 0zm-6-3zm-4-4zm-6 2zm-1 1zm-2 1zm-1 3zm0-1zm-2-2zm-1-1zm-1 4zm-1-4zm0-2zm-1 4zm0-4zm-1 6zm-1-4zm-1 1zm-4 0zm-2-1zm-2 3zm0-3zm-2 3zm0-1zm-1 1zm-2-4zm-3-1zm-2 3zm-1 1zm-2 2zm0-4zm0-1zm-1 2zm-2-1zm0-2zm-4 3zm0-3zm-1 3zm-4-1zm0-1zm-2 4zm-1 0zm-1-5zm-1-1zm-2 5zm0-2zm-4 0zm12 6zm2-1zm1 1zm2 2zm4-3zm0 1zm2 1zm1 0zm1 0zm0 1zm1 0zm1 2zm1 1zm1-6zm3 5zm1 1zm2-2zm2-3zm0 1zm0 3zm1-5zm1-1zm1 6zm2-5zm1 1zm0 1zm1 2zm2-1zm1 3zm1-5zm0 3zm0 2zm1-5zm0 2zm1-1zm2-2zm0 1zm0 4zm1-4zm1 4zm1-2zm1 0zm1-3zm4 5zm1 0zm1-3zm1-1zm0 3zm4 1zm1-1zm1-4zm0 1zm0 2zm1-1zm1-2zm0 5zm1-5zm0 1zm3-1zm0 1zm1-2zm0 2zm0 1zm0 2zm1-1zm0 2zm1-4zm0 3zm1-4zm0 4zm2 1zm0 1zm1 0zm1-5zm0 1zm0 2zm1-5zm0 1zm0 3zm0 2zm1-2zm0 2zm1-5zm0 4zm2-2zm2 3zm2-5zm0 6zm1-5zm0 4zm1-4zm0 5zm2-7zm0 3zm0 1zm0 1zm2-2zm0 4zm4 0zm1-7zm0 4zm1 0zm0 3zm4-2zm3 9zm-1-4zm0-3zm-3 6zm0-2zm0-1zm0-1zm-1 3zm-1 1zm0-2zm0-1zm-1 1zm0-2zm-2 5zm0-6zm-1 4zm-1-5zm-2 1zm-1 5zm0-6zm-1 4zm0-1zm-1 3zm0-1zm0-2zm-1 4zm-1-6zm-1 0zm-1 4zm-1 2zm-1-3zm-1 2zm0-1zm0-1zm-1-1zm-2 2zm-1 0zm0-2zm-1 2zm0-1zm0-1zm-2 3zm0-2zm-1 1zm0-2zm-1-1zm-1 2zm-1 3zm0-1zm0-1zm0-5zm-1 0zm-1 7zm0-1zm0-3zm0-1zm-1 2zm0-1zm-1 2zm0-2zm-2 2zm-1-1zm0-2zm-2 2zm0-3zm-2 4zm0-4zm-1 6zm0-7zm-5 7zm-1-6zm-4 3zm-1-2zm-1 3zm0-5zm-2 3zm0-1zm-1 2zm0-2zm-2 2zm-6-1zm-2-2zm-2 2zm-4 0zm-1-1zm-5-1zm-2-1zm24 9zm2 0zm3 0zm7 0zm0 3zm0 1zm1-5zm0 6zm3-1zm2-2zm0 2zm1-6zm0 6zm1-2zm1-4zm0 4zm1-4zm0 1zm1 5zm1-3zm1 1zm0 2zm1-4zm1 3zm1-4zm0 3zm1-2zm0 4zm1-3zm0 3zm0 1zm2-1zm1-2zm2-3zm0 4zm1-2zm1-2zm0 5zm1 0zm1-5zm0 5zm1-4zm0 1zm1 4zm1-5zm0 2zm0 1zm1-4zm0 2zm1-1zm0 1zm1-1zm0 2zm1-3zm0 3zm0 3zm1-7zm0 1zm0 1zm0 1zm0 3zm1-3zm0 3zm1-3zm2-1zm1 2zm1-4zm0 5zm1-5zm0 6zm1-4zm3 2zm2 0zm0 1zm1-1zm1 2zm1-3zm0 2zm-2 5zm-1 1zm0-1zm-1 4zm-1-5zm-1 4zm0-5zm-1 0zm-1 3zm0-2zm-1-2zm-1 4zm-1-3zm-1 1zm-2 3zm0-3zm-2 0zm-1 1zm0-1zm-1 0zm-1 5zm0-1zm0-5zm-1 0zm-2 3zm0-1zm0-2zm-1 4zm0-1zm0-2zm-1 0zm-3-1zm-1 6zm0-4zm0-1zm-1 0zm-2 1zm-1 4zm0-2zm0-1zm0-3zm-2 5zm-2-3zm0-1zm-1 3zm0-2zm-2 2zm-2-3zm-1 5zm0-3zm0-2zm-2 2zm0-1zm0-1zm-1 2zm0-1zm0-3zm-1 1zm-1 2zm0-3zm-1 6zm-1-1zm0-2zm5 6zm1-1zm0 2zm1-2zm1 2zm1 1zm1-2zm1-2zm0 1zm1 0zm0 3zm1-4zm2 2zm2 0zm0 4zm1-3zm1 3zm1-6zm1 4zm1 0zm3-3zm0 2zm1-2zm0 2zm0 1zm2 3zm1-3zm1-2zm1-1zm0 4zm2-4zm0 1zm0 1zm0 1zm0 3zm1-6zm0 1zm1 3zm1-1zm1-1zm0 1zm1 0zm0 1zm1-2zm2 0zm-16 5zm-4 1zm0-1zm-3 1zm-1-2zm-2 1zm-1 0zm-9 6zm-3-1zm-3 1zm-7 6zm0 1zm1-3zm1 0zm1-1zm0 2zm3-5zm0 1zm0 3zm1 0zm2-2zm1-2zm0 1zm3 1zm1 3zm0 2zm2-1zm0 5zm-1 1zm-1 1zm-1-2zm-1 2zm-1-3zm-1 3zm0-3zm-1 3zm-1 0zm0-2zm0-1zm0-1zm0-1zm-2 5zm-1-4zm0-1zm-1 3zm0-4zm-1 1zm-2 3zm7 3z"/>
<path stroke="#e0161b" stroke-width="2.8" stroke-linecap="round" d="M1796 1577zm4 2zm1 2zm36 7zm-8-5zm-10 2zm-8 4zm-1-6zm-20 2zm0-1zm-5 4zm-3-3zm0 9zm25 0zm3-5zm0 4zm2-1zm2-2zm7 2zm5 0zm19 0zm2 1zm3-1zm2 2zm1 1zm7 0zm24 6zm-33 1zm0-5zm-4 0zm-1 5zm-5-3zm-12 2zm-4-1zm-1 1zm0-1zm-6-2zm-3 3zm-1 1zm-11-1zm-6-3zm-5 2zm0-4zm-6 7zm-2-3zm-1 0zm-4-3zm-3 6zm-4-2zm-3-1zm-28 2zm-16-6zm15 13zm8-1zm28 2zm4-4zm0 2zm8 0zm20-2zm8 0zm10 0zm1-2zm6 5zm5 0zm4 1zm68-3zm6 2zm-10 2zm-23 1zm-12-1zm-3 1zm-1 1zm-25 2zm-7-3zm-6 3zm-17-3zm-9-1zm-1 5zm-2-5zm-10 3zm-2-3zm-2 4zm-6 2zm-1-4zm-1-1zm-4 1zm-1 3zm0-2zm-31 0zm-20-3zm-3 5zm-11 1zm-6-4zm18 6zm7 0zm34 1zm2 4zm6-7zm8 4zm8-2zm7-1zm2 1zm3 3zm22 1zm1-4zm0 1zm10 3zm1-1zm4-1zm33-4zm4 1zm8 7zm-13 5zm-4-2zm-10 3zm-8-6zm-1 6zm-22-6zm-1 5zm-8 1zm-3-6zm-5 5zm-7 0zm-3-2zm-10 0zm-3 3zm-3-3zm-6 0zm-2-1zm-1 0zm-2 1zm0-3zm-9 5zm-5 1zm0-3zm-2 1zm-7 2zm-1-5zm-19 4zm-9-5zm-21 12zm26-4zm6-2zm32 1zm6 1zm17 1zm1 1zm6-3zm5 6zm3-3zm5-2zm4 4zm1-4zm7 4zm4-2zm2-3zm3 1zm0 2zm7 2zm39-5zm13 0zm-4 12zm0-5zm-3 2zm-1-3zm-1 0zm-9 6zm-11-3zm-11 0zm-12-1zm-7 4zm-5 1zm-10-6zm-8 5zm-5-3zm-1-2zm-4 0zm-7 0zm-2 3zm-6 0zm-27 2zm-9-6zm-32 9zm12 1zm6-1zm43 1zm0 2zm9 0zm13-5zm2 4zm10 2zm7-5zm0 2zm0 3zm2-6zm7 3zm19 1zm3 2zm22-1zm7-4zm-7 13zm-11-2zm-6-3zm-19 4zm-17-1zm-19-2zm-1-2zm-4 1zm-6 2zm-25 0zm-10-1zm-4-2zm-3 4zm-36 1zm38 5zm34-1zm4 0zm9 2zm5-1zm3 2zm9-4zm8 5zm2-6zm14 4zm3 2zm1-4zm1 0zm33-2zm-4 7zm-2 1zm-11 2zm-14-1zm-4-1zm-14-1zm-1 6zm-34-3zm-50-4zm-13 4zm-2-2zm16 5zm23 2zm1 4zm18 0zm16-2zm8-3zm16-1zm29 4zm9-2zm7 4zm-41 2zm-10 3zm-20-2zm-3 4zm-4-3zm-5-1zm-12 4zm-11-4zm-5 11zm4-2zm11-1zm10 1zm2-1zm11-1zm5 1zm7-3zm19 1zm6 1zm14-2zm8 5zm0 1zm4-6zm5 1zm5 1zm1-2zm3 3zm2-2zm5 4zm2-4zm-9 8zm-1 1zm-64 3zm-44 2zm10 3zm1-1zm13 1zm4 1zm12 1zm7 1zm17-7zm12 6zm38 7zm-21-2zm-17-2zm-10 2zm-4-3zm-18 2zm0-2zm-7 4zm-6-4zm-3 1zm-4 5zm-10 0zm-47 0zm-4 6zm1-2zm4-3zm45 3zm0 1zm5-1zm0 3zm1-2zm2 0zm59-1zm2 3zm24-3zm8-1zm1 1zm10-1zm2-1zm-36 11zm-38 1zm-16-3zm-1-1zm-5 1zm-13 1zm0-3zm-2 2zm-1-3zm-3 9zm3 0zm0 3zm3-3zm1 1zm0 2zm2-3zm0 3zm2-2zm1 0zm20 1zm6 2zm4-4zm11 3zm14-4zm21 0zm17 1zm-4 7zm-9 1zm-20 2zm-18-2zm-9 3zm0-5zm-1 2zm-3 0zm-2-3zm-1 4zm-1-1zm0-2zm0-1zm-16 2zm0-3zm-5 0zm-10 3zm-2 0zm-3 0zm-5 2zm-1-3zm8 6zm10-1zm2 1zm0 2zm1-1zm6-1zm1 0zm9 4zm6-4zm1 5zm12-6zm5 2zm0 5zm3-4zm22 0zm4 1zm4-3zm10 2zm-2 7zm-3 2zm-12-1zm-11-2zm-10 2zm-9 3zm0-4zm-4 3zm-4-1zm-5 0zm-1-5zm-4 5zm-1-3zm20 7zm1 0zm1 1zm4 0zm9-3zm29 5zm5 1zm2-1zm3-5zm-5 13zm-16 0zm-9-4zm-1 0zm-13 3zm2 5zm7-1zm13-1zm12 1zm2 0zm-32 15zm-8-3zm-6 9zm1 2zm9 1zm1-1z"/>
<rect x="1690.8" y="1567.1" width="239.6" height="240.3" fill="none" stroke="#333" stroke-width="1.5"/>
<text x="1800.2" y="1556.5" font-size="32.4" text-anchor="middle">TE4</text>
<text x="1177.5" y="1689" font-size="33.3" text-anchor="middle" transform="rotate(-90 1177.5 1689)">UMAP_2</text>
<text x="1567.5" y="1838.8" font-size="32.6" text-anchor="middle">UMAP_1</text>
<text x="-0.5" y="1849.5" font-size="38" font-weight="bold">c</text>
<rect x="78.1" y="1861.5" width="418.9" height="418.3" fill="#fff"/>
<path d="M78.1 1943.4H497M78.1 2063.4H497M78.1 2143.4H497M78.1 2223.4H497" stroke="#ebebeb" stroke-width="1.1"/>
<path d="M78.1 1863.4H497M78.1 2023.4H497M78.1 2103.4H497M78.1 2183.4H497M78.1 2263.4H497M93.2 1861.5V2279.8M119.1 1861.5V2279.8M145 1861.5V2279.8M170.9 1861.5V2279.8M196.8 1861.5V2279.8M222.7 1861.5V2279.8M248.6 1861.5V2279.8M274.5 1861.5V2279.8M300.4 1861.5V2279.8M326.3 1861.5V2279.8M352.2 1861.5V2279.8M378.1 1861.5V2279.8M404 1861.5V2279.8M429.9 1861.5V2279.8M455.8 1861.5V2279.8M481.7 1861.5V2279.8" stroke="#e3e3e3" stroke-width="2"/>
<rect x="82.2" y="1879.4" width="22" height="304" fill="#e41a1c"/>
<rect x="108.1" y="2005.4" width="22" height="178" fill="#e41a1c"/>
<rect x="134" y="2044.5" width="22" height="138.9" fill="#e41a1c"/>
<rect x="159.9" y="2066.6" width="22" height="116.8" fill="#e41a1c"/>
<rect x="185.8" y="2076.4" width="22" height="107" fill="#e41a1c"/>
<rect x="211.7" y="2076.4" width="22" height="107" fill="#e41a1c"/>
<rect x="237.6" y="2086.6" width="22" height="96.8" fill="#e41a1c"/>
<rect x="263.5" y="2109" width="22" height="74.4" fill="#e41a1c"/>
<rect x="289.4" y="2183.4" width="22" height="33.1" fill="#377eb8"/>
<rect x="315.3" y="2183.4" width="22" height="35" fill="#377eb8"/>
<rect x="341.2" y="2183.4" width="22" height="37.6" fill="#377eb8"/>
<rect x="367.1" y="2183.4" width="22" height="44.2" fill="#377eb8"/>
<rect x="393" y="2183.4" width="22" height="53.6" fill="#377eb8"/>
<rect x="418.9" y="2183.4" width="22" height="69.8" fill="#377eb8"/>
<rect x="444.8" y="2183.4" width="22" height="75.4" fill="#377eb8"/>
<rect x="470.7" y="2183.4" width="22" height="78.2" fill="#377eb8"/>
<rect x="78.1" y="1861.5" width="418.9" height="418.3" fill="none" stroke="#444" stroke-width="1.5"/>
<text x="72.1" y="1873.2" font-size="25.7" text-anchor="end">0.4</text>
<text x="72.1" y="2033.2" font-size="25.7" text-anchor="end">0.2</text>
<text x="72.1" y="2113.2" font-size="25.7" text-anchor="end">0.1</text>
<text x="72.1" y="2193.2" font-size="25.7" text-anchor="end">0.0</text>
<text x="72.1" y="2273.2" font-size="25.7" text-anchor="end">-0.1</text>
<path d="M71.6 1863.4h6.5M71.6 2023.4h6.5M71.6 2103.4h6.5M71.6 2183.4h6.5M71.6 2263.4h6.5M93.2 2279.8v6.5M119.1 2279.8v6.5M145 2279.8v6.5M170.9 2279.8v6.5M196.8 2279.8v6.5M222.7 2279.8v6.5M248.6 2279.8v6.5M274.5 2279.8v6.5M300.4 2279.8v6.5M326.3 2279.8v6.5M352.2 2279.8v6.5M378.1 2279.8v6.5M404 2279.8v6.5M429.9 2279.8v6.5M455.8 2279.8v6.5M481.7 2279.8v6.5" stroke="#333" stroke-width="2"/>
<text x="101.5" y="2290.5" font-size="29.8" font-style="italic" text-anchor="end" transform="rotate(-90 101.5 2290.5)">Trav8n-2</text>
<text x="127.4" y="2290.5" font-size="29.8" font-style="italic" text-anchor="end" transform="rotate(-90 127.4 2290.5)">Trav4-4-dv10</text>
<text x="153.3" y="2290.5" font-size="29.8" font-style="italic" text-anchor="end" transform="rotate(-90 153.3 2290.5)">Trav5-4</text>
<text x="179.2" y="2290.5" font-size="29.8" font-style="italic" text-anchor="end" transform="rotate(-90 179.2 2290.5)">Trav6-5</text>
<text x="205.1" y="2290.5" font-size="29.8" font-style="italic" text-anchor="end" transform="rotate(-90 205.1 2290.5)">Trav6-1</text>
<text x="231" y="2290.5" font-size="29.8" font-style="italic" text-anchor="end" transform="rotate(-90 231 2290.5)">Trav3-3</text>
<text x="256.9" y="2290.5" font-size="29.8" font-style="italic" text-anchor="end" transform="rotate(-90 256.9 2290.5)">Trav6d-4</text>
<text x="282.8" y="2290.5" font-size="29.8" font-style="italic" text-anchor="end" transform="rotate(-90 282.8 2290.5)">Trav16</text>
<text x="308.7" y="2290.5" font-size="29.8" font-style="italic" text-anchor="end" transform="rotate(-90 308.7 2290.5)">Trav16n</text>
<text x="334.6" y="2290.5" font-size="29.8" font-style="italic" text-anchor="end" transform="rotate(-90 334.6 2290.5)">Trav13-1</text>
<text x="360.5" y="2290.5" font-size="29.8" font-style="italic" text-anchor="end" transform="rotate(-90 360.5 2290.5)">Trav21-dv12</text>
<text x="386.4" y="2290.5" font-size="29.8" font-style="italic" text-anchor="end" transform="rotate(-90 386.4 2290.5)">Trav8d-2</text>
<text x="412.3" y="2290.5" font-size="29.8" font-style="italic" text-anchor="end" transform="rotate(-90 412.3 2290.5)">Trav8d-1</text>
<text x="438.2" y="2290.5" font-size="29.8" font-style="italic" text-anchor="end" transform="rotate(-90 438.2 2290.5)">Trav7-5</text>
<text x="464.1" y="2290.5" font-size="29.8" font-style="italic" text-anchor="end" transform="rotate(-90 464.1 2290.5)">Trav12-1</text>
<text x="490" y="2290.5" font-size="29.8" font-style="italic" text-anchor="end" transform="rotate(-90 490 2290.5)">Trav9-2</text>
<text x="490.7" y="1895.3" font-size="32.5" text-anchor="end">CD8<tspan font-size="16" dy="-12">+</tspan><tspan dy="12"> T cell TRAV</tspan></text>
<path d="M82.6 2487H279.4" stroke="#000" stroke-width="2.5"/>
<text x="180.5" y="2516.5" font-size="32.5" text-anchor="middle" fill="#e41a1c">TE4</text>
<path d="M294 2487H490" stroke="#000" stroke-width="2.5"/>
<text x="395" y="2516.5" font-size="32.5" text-anchor="middle" fill="#377eb8">A/PE4</text>
<rect x="551.8" y="1862.1" width="420.5" height="421.4" fill="#fff"/>
<path d="M551.8 1949.8H972.3M551.8 2048.4H972.3M551.8 2122.3H972.3M551.8 2196.3H972.3" stroke="#ebebeb" stroke-width="1.1"/>
<path d="M551.8 1900.5H972.3M551.8 1999.1H972.3M551.8 2097.7H972.3M551.8 2147H972.3M551.8 2245.6H972.3M572 1862.1V2283.5M606.6 1862.1V2283.5M641.2 1862.1V2283.5M675.8 1862.1V2283.5M710.4 1862.1V2283.5M745 1862.1V2283.5M779.6 1862.1V2283.5M814.2 1862.1V2283.5M848.8 1862.1V2283.5M883.4 1862.1V2283.5M918 1862.1V2283.5M952.6 1862.1V2283.5" stroke="#e3e3e3" stroke-width="2"/>
<rect x="557" y="1880.6" width="30" height="217.1" fill="#e41a1c"/>
<rect x="591.6" y="1927.6" width="30" height="170.1" fill="#e41a1c"/>
<rect x="626.2" y="1932.7" width="30" height="165" fill="#e41a1c"/>
<rect x="660.8" y="1932.7" width="30" height="165" fill="#e41a1c"/>
<rect x="695.4" y="1953.3" width="30" height="144.4" fill="#e41a1c"/>
<rect x="730" y="1991.9" width="30" height="105.8" fill="#e41a1c"/>
<rect x="764.6" y="1995.6" width="30" height="102.1" fill="#e41a1c"/>
<rect x="799.2" y="2014.9" width="30" height="82.8" fill="#e41a1c"/>
<rect x="833.8" y="2097.7" width="30" height="9.5" fill="#377eb8"/>
<rect x="868.4" y="2097.7" width="30" height="41.1" fill="#377eb8"/>
<rect x="903" y="2097.7" width="30" height="70.2" fill="#377eb8"/>
<rect x="937.6" y="2097.7" width="30" height="166.9" fill="#377eb8"/>
<rect x="551.8" y="1862.1" width="420.5" height="421.4" fill="none" stroke="#444" stroke-width="1.5"/>
<text x="545.8" y="1910.3" font-size="25.7" text-anchor="end">0.4</text>
<text x="545.8" y="2008.9" font-size="25.7" text-anchor="end">0.2</text>
<text x="545.8" y="2107.5" font-size="25.7" text-anchor="end">0.0</text>
<text x="545.8" y="2156.8" font-size="25.7" text-anchor="end">-0.1</text>
<text x="545.8" y="2255.4" font-size="25.7" text-anchor="end">-0.3</text>
<path d="M545.3 1900.5h6.5M545.3 1999.1h6.5M545.3 2097.7h6.5M545.3 2147h6.5M545.3 2245.6h6.5M572 2283.5v6.5M606.6 2283.5v6.5M641.2 2283.5v6.5M675.8 2283.5v6.5M710.4 2283.5v6.5M745 2283.5v6.5M779.6 2283.5v6.5M814.2 2283.5v6.5M848.8 2283.5v6.5M883.4 2283.5v6.5M918 2283.5v6.5M952.6 2283.5v6.5" stroke="#333" stroke-width="2"/>
<text x="580.3" y="2290.3" font-size="29.8" font-style="italic" text-anchor="end" transform="rotate(-90 580.3 2290.3)">Trbv13-1</text>
<text x="614.9" y="2290.3" font-size="29.8" font-style="italic" text-anchor="end" transform="rotate(-90 614.9 2290.3)">Trbv26</text>
<text x="649.5" y="2290.3" font-size="29.8" font-style="italic" text-anchor="end" transform="rotate(-90 649.5 2290.3)">Trbv1</text>
<text x="684.1" y="2290.3" font-size="29.8" font-style="italic" text-anchor="end" transform="rotate(-90 684.1 2290.3)">Trbv15</text>
<text x="718.7" y="2290.3" font-size="29.8" font-style="italic" text-anchor="end" transform="rotate(-90 718.7 2290.3)">Trbv14</text>
<text x="753.3" y="2290.3" font-size="29.8" font-style="italic" text-anchor="end" transform="rotate(-90 753.3 2290.3)">Trbv16</text>
<text x="787.9" y="2290.3" font-size="29.8" font-style="italic" text-anchor="end" transform="rotate(-90 787.9 2290.3)">Trbv5</text>
<text x="822.5" y="2290.3" font-size="29.8" font-style="italic" text-anchor="end" transform="rotate(-90 822.5 2290.3)">Trbv19</text>
<text x="857.1" y="2290.3" font-size="29.8" font-style="italic" text-anchor="end" transform="rotate(-90 857.1 2290.3)">Trbv30</text>
<text x="891.7" y="2290.3" font-size="29.8" font-style="italic" text-anchor="end" transform="rotate(-90 891.7 2290.3)">Trbv13-2</text>
<text x="926.3" y="2290.3" font-size="29.8" font-style="italic" text-anchor="end" transform="rotate(-90 926.3 2290.3)">Trbv23</text>
<text x="960.9" y="2290.3" font-size="29.8" font-style="italic" text-anchor="end" transform="rotate(-90 960.9 2290.3)">Trbv12-1</text>
<text x="965" y="1895.3" font-size="32.5" text-anchor="end">CD8<tspan font-size="16" dy="-12">+</tspan><tspan dy="12"> T cell TRBV</tspan></text>
<path d="M570.4 2487H820.7" stroke="#000" stroke-width="2.5"/>
<text x="685.4" y="2516.5" font-size="32.5" text-anchor="middle" fill="#e41a1c">TE4</text>
<path d="M842.2 2487H979.6" stroke="#000" stroke-width="2.5"/>
<text x="909.5" y="2516.5" font-size="32.5" text-anchor="middle" fill="#377eb8">A/PE4</text>
<rect x="1044.4" y="1861.5" width="417.3" height="418.3" fill="#fff"/>
<path d="M1044.4 1939.9H1461.7M1044.4 2049.4H1461.7M1044.4 2158.9H1461.7M1044.4 2231.9H1461.7" stroke="#ebebeb" stroke-width="1.1"/>
<path d="M1044.4 1903.4H1461.7M1044.4 1976.4H1461.7M1044.4 2122.4H1461.7M1044.4 2195.4H1461.7M1044.4 2268.4H1461.7M1059.2 1861.5V2279.8M1085 1861.5V2279.8M1110.9 1861.5V2279.8M1136.8 1861.5V2279.8M1162.6 1861.5V2279.8M1188.5 1861.5V2279.8M1214.3 1861.5V2279.8M1240.2 1861.5V2279.8M1266 1861.5V2279.8M1291.9 1861.5V2279.8M1317.7 1861.5V2279.8M1343.6 1861.5V2279.8M1369.4 1861.5V2279.8M1395.2 1861.5V2279.8M1421.1 1861.5V2279.8M1447 1861.5V2279.8" stroke="#e3e3e3" stroke-width="2"/>
<rect x="1047.9" y="1880.3" width="22.7" height="315.1" fill="#e41a1c"/>
<rect x="1073.7" y="2068.4" width="22.7" height="127" fill="#e41a1c"/>
<rect x="1099.6" y="2068.4" width="22.7" height="127" fill="#e41a1c"/>
<rect x="1125.4" y="2079.5" width="22.7" height="115.9" fill="#e41a1c"/>
<rect x="1151.3" y="2087.7" width="22.7" height="107.7" fill="#e41a1c"/>
<rect x="1177.1" y="2108.5" width="22.7" height="86.9" fill="#e41a1c"/>
<rect x="1203" y="2113.8" width="22.7" height="81.6" fill="#e41a1c"/>
<rect x="1228.8" y="2116.9" width="22.7" height="78.5" fill="#e41a1c"/>
<rect x="1254.7" y="2195.4" width="22.7" height="14.8" fill="#377eb8"/>
<rect x="1280.5" y="2195.4" width="22.7" height="30.2" fill="#377eb8"/>
<rect x="1306.4" y="2195.4" width="22.7" height="33.1" fill="#377eb8"/>
<rect x="1332.2" y="2195.4" width="22.7" height="34.3" fill="#377eb8"/>
<rect x="1358.1" y="2195.4" width="22.7" height="41.2" fill="#377eb8"/>
<rect x="1383.9" y="2195.4" width="22.7" height="42.2" fill="#377eb8"/>
<rect x="1409.8" y="2195.4" width="22.7" height="53.6" fill="#377eb8"/>
<rect x="1435.6" y="2195.4" width="22.7" height="65.6" fill="#377eb8"/>
<rect x="1044.4" y="1861.5" width="417.3" height="418.3" fill="none" stroke="#444" stroke-width="1.5"/>
<text x="1036.8" y="1913.2" font-size="25.7" text-anchor="end">0.4</text>
<text x="1036.8" y="1986.2" font-size="25.7" text-anchor="end">0.3</text>
<text x="1036.8" y="2132.2" font-size="25.7" text-anchor="end">0.1</text>
<text x="1036.8" y="2205.2" font-size="25.7" text-anchor="end">0.0</text>
<text x="1036.8" y="2278.2" font-size="25.7" text-anchor="end">-0.1</text>
<path d="M1037.9 1903.4h6.5M1037.9 1976.4h6.5M1037.9 2122.4h6.5M1037.9 2195.4h6.5M1037.9 2268.4h6.5M1059.2 2279.8v6.5M1085 2279.8v6.5M1110.9 2279.8v6.5M1136.8 2279.8v6.5M1162.6 2279.8v6.5M1188.5 2279.8v6.5M1214.3 2279.8v6.5M1240.2 2279.8v6.5M1266 2279.8v6.5M1291.9 2279.8v6.5M1317.7 2279.8v6.5M1343.6 2279.8v6.5M1369.4 2279.8v6.5M1395.2 2279.8v6.5M1421.1 2279.8v6.5M1447 2279.8v6.5" stroke="#333" stroke-width="2"/>
<text x="1067.5" y="2290.6" font-size="29.8" font-style="italic" text-anchor="end" transform="rotate(-90 1067.5 2290.6)">Trav6n-6</text>
<text x="1093.4" y="2290.6" font-size="29.8" font-style="italic" text-anchor="end" transform="rotate(-90 1093.4 2290.6)">Trav13-1</text>
<text x="1119.2" y="2290.6" font-size="29.8" font-style="italic" text-anchor="end" transform="rotate(-90 1119.2 2290.6)">Trav7-4</text>
<text x="1145.1" y="2290.6" font-size="29.8" font-style="italic" text-anchor="end" transform="rotate(-90 1145.1 2290.6)">Trav6-7-dv9</text>
<text x="1170.9" y="2290.6" font-size="29.8" font-style="italic" text-anchor="end" transform="rotate(-90 1170.9 2290.6)">Trav14d-3-dv8</text>
<text x="1196.8" y="2290.6" font-size="29.8" font-style="italic" text-anchor="end" transform="rotate(-90 1196.8 2290.6)">Trav6d-4</text>
<text x="1222.6" y="2290.6" font-size="29.8" font-style="italic" text-anchor="end" transform="rotate(-90 1222.6 2290.6)">Trav14-2</text>
<text x="1248.5" y="2290.6" font-size="29.8" font-style="italic" text-anchor="end" transform="rotate(-90 1248.5 2290.6)">Trav5-4</text>
<text x="1274.3" y="2290.6" font-size="29.8" font-style="italic" text-anchor="end" transform="rotate(-90 1274.3 2290.6)">Trav8-1</text>
<text x="1300.2" y="2290.6" font-size="29.8" font-style="italic" text-anchor="end" transform="rotate(-90 1300.2 2290.6)">Trav14n-3</text>
<text x="1326" y="2290.6" font-size="29.8" font-style="italic" text-anchor="end" transform="rotate(-90 1326 2290.6)">Trav16n</text>
<text x="1351.9" y="2290.6" font-size="29.8" font-style="italic" text-anchor="end" transform="rotate(-90 1351.9 2290.6)">Trav3-1</text>
<text x="1377.7" y="2290.6" font-size="29.8" font-style="italic" text-anchor="end" transform="rotate(-90 1377.7 2290.6)">Trav10n</text>
<text x="1403.6" y="2290.6" font-size="29.8" font-style="italic" text-anchor="end" transform="rotate(-90 1403.6 2290.6)">Trav12-3</text>
<text x="1429.4" y="2290.6" font-size="29.8" font-style="italic" text-anchor="end" transform="rotate(-90 1429.4 2290.6)">Trav4-3</text>
<text x="1455.3" y="2290.6" font-size="29.8" font-style="italic" text-anchor="end" transform="rotate(-90 1455.3 2290.6)">Trav14-1</text>
<text x="1454.5" y="1895.3" font-size="32.5" text-anchor="end">CD4<tspan font-size="16" dy="-12">+</tspan><tspan dy="12"> T cell TRAV</tspan></text>
<path d="M1054.5 2489.5H1251.3" stroke="#000" stroke-width="2.5"/>
<text x="1152.9" y="2516.5" font-size="32.5" text-anchor="middle" fill="#e41a1c">TE4</text>
<path d="M1265.5 2489.5H1463" stroke="#000" stroke-width="2.5"/>
<text x="1366" y="2516.5" font-size="32.5" text-anchor="middle" fill="#377eb8">A/PE4</text>
<rect x="1517.2" y="1864" width="413.2" height="412.6" fill="#fff"/>
<path d="M1517.2 1943.2H1930.4M1517.2 2066.3H1930.4M1517.2 2189.4H1930.4" stroke="#ebebeb" stroke-width="1.1"/>
<path d="M1517.2 1872.9H1930.4M1517.2 2013.6H1930.4M1517.2 2119.1H1930.4M1517.2 2259.8H1930.4M1536 1864V2276.6M1567.3 1864V2276.6M1598.6 1864V2276.6M1630 1864V2276.6M1661.3 1864V2276.6M1692.6 1864V2276.6M1723.9 1864V2276.6M1755.2 1864V2276.6M1786.6 1864V2276.6M1817.9 1864V2276.6M1849.2 1864V2276.6M1880.5 1864V2276.6M1911.8 1864V2276.6" stroke="#e3e3e3" stroke-width="2"/>
<rect x="1522.5" y="1882.9" width="27" height="236.2" fill="#e41a1c"/>
<rect x="1553.8" y="1989" width="27" height="130.1" fill="#e41a1c"/>
<rect x="1585.1" y="2008" width="27" height="111.1" fill="#e41a1c"/>
<rect x="1616.5" y="2017.4" width="27" height="101.7" fill="#e41a1c"/>
<rect x="1647.8" y="2039.1" width="27" height="80" fill="#e41a1c"/>
<rect x="1679.1" y="2047" width="27" height="72.1" fill="#e41a1c"/>
<rect x="1710.4" y="2049.2" width="27" height="69.9" fill="#e41a1c"/>
<rect x="1741.7" y="2050.8" width="27" height="68.3" fill="#e41a1c"/>
<rect x="1773.1" y="2119.1" width="27" height="54.2" fill="#377eb8"/>
<rect x="1804.4" y="2119.1" width="27" height="65.8" fill="#377eb8"/>
<rect x="1835.7" y="2119.1" width="27" height="68.3" fill="#377eb8"/>
<rect x="1867" y="2119.1" width="27" height="121.9" fill="#377eb8"/>
<rect x="1898.3" y="2119.1" width="27" height="138.6" fill="#377eb8"/>
<rect x="1517.2" y="1864" width="413.2" height="412.6" fill="none" stroke="#444" stroke-width="1.5"/>
<text x="1511.2" y="1882.7" font-size="25.7" text-anchor="end">0.7</text>
<text x="1511.2" y="2023.4" font-size="25.7" text-anchor="end">0.3</text>
<text x="1511.2" y="2128.9" font-size="25.7" text-anchor="end">0.0</text>
<text x="1511.2" y="2269.6" font-size="25.7" text-anchor="end">-0.4</text>
<path d="M1510.7 1872.9h6.5M1510.7 2013.6h6.5M1510.7 2119.1h6.5M1510.7 2259.8h6.5" stroke="#333" stroke-width="2"/>
<text x="1544.3" y="2291.2" font-size="29.8" font-style="italic" text-anchor="end" transform="rotate(-90 1544.3 2291.2)">Trbv13-1</text>
<text x="1575.7" y="2291.2" font-size="29.8" font-style="italic" text-anchor="end" transform="rotate(-90 1575.7 2291.2)">Trbv29</text>
<text x="1607" y="2291.2" font-size="29.8" font-style="italic" text-anchor="end" transform="rotate(-90 1607 2291.2)">Trbv3</text>
<text x="1638.3" y="2291.2" font-size="29.8" font-style="italic" text-anchor="end" transform="rotate(-90 1638.3 2291.2)">Trbv1</text>
<text x="1669.6" y="2291.2" font-size="29.8" font-style="italic" text-anchor="end" transform="rotate(-90 1669.6 2291.2)">Trbv4</text>
<text x="1700.9" y="2291.2" font-size="29.8" font-style="italic" text-anchor="end" transform="rotate(-90 1700.9 2291.2)">Trbv5</text>
<text x="1732.3" y="2291.2" font-size="29.8" font-style="italic" text-anchor="end" transform="rotate(-90 1732.3 2291.2)">Trbv14</text>
<text x="1763.6" y="2291.2" font-size="29.8" font-style="italic" text-anchor="end" transform="rotate(-90 1763.6 2291.2)">Trbv23</text>
<text x="1794.9" y="2291.2" font-size="29.8" font-style="italic" text-anchor="end" transform="rotate(-90 1794.9 2291.2)">Trbv15</text>
<text x="1826.2" y="2291.2" font-size="29.8" font-style="italic" text-anchor="end" transform="rotate(-90 1826.2 2291.2)">Trbv12-2</text>
<text x="1857.5" y="2291.2" font-size="29.8" font-style="italic" text-anchor="end" transform="rotate(-90 1857.5 2291.2)">Trbv12-1</text>
<text x="1888.9" y="2291.2" font-size="29.8" font-style="italic" text-anchor="end" transform="rotate(-90 1888.9 2291.2)">Trbv126</text>
<text x="1920.2" y="2291.2" font-size="29.8" font-style="italic" text-anchor="end" transform="rotate(-90 1920.2 2291.2)">Trbv13-2</text>
<text x="1923.5" y="1895.3" font-size="32.5" text-anchor="end">CD4<tspan font-size="16" dy="-12">+</tspan><tspan dy="12"> T cell TRBV</tspan></text>
<path d="M1528.2 2487H1761.3" stroke="#000" stroke-width="2.5"/>
<text x="1644.7" y="2516.5" font-size="32.5" text-anchor="middle" fill="#e41a1c">TE4</text>
<path d="M1783.3 2487H1936" stroke="#000" stroke-width="2.5"/>
<text x="1858.9" y="2516.5" font-size="32.5" text-anchor="middle" fill="#377eb8">A/PE4</text>
</svg>
</body></html>
